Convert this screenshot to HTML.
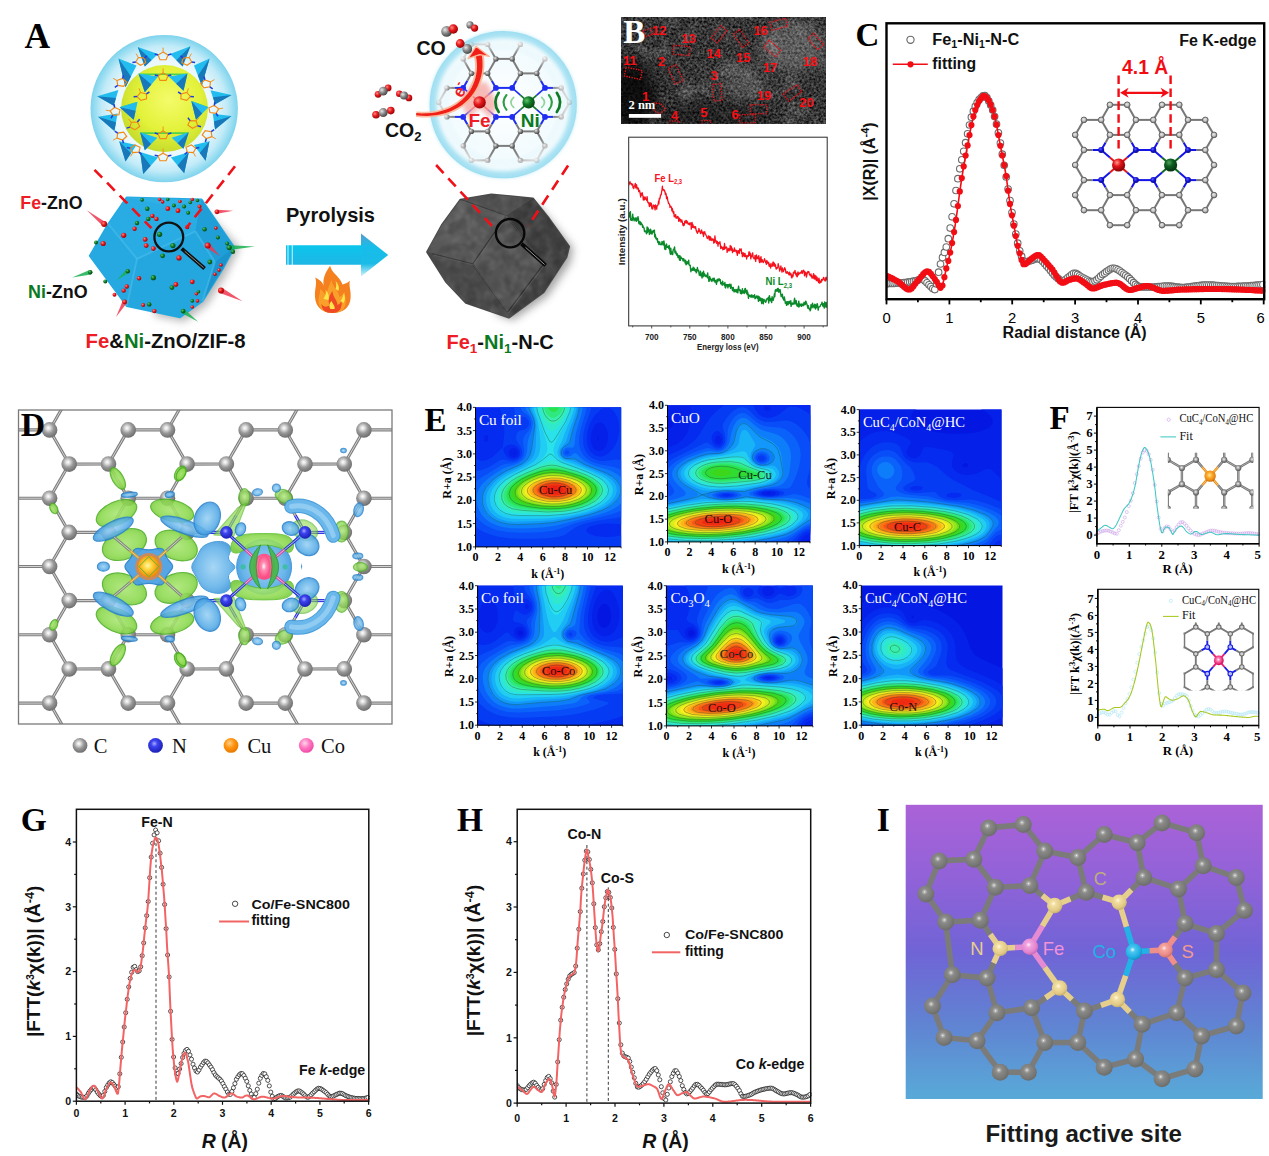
<!DOCTYPE html>
<html><head><meta charset="utf-8"><title>Figure</title>
<style>html,body{margin:0;padding:0;background:#fff;}body{width:1269px;height:1156px;overflow:hidden;font-family:"Liberation Sans",sans-serif;}svg{display:block;}</style>
</head><body>
<svg width="1269" height="1156" viewBox="0 0 1269 1156">
<rect width="1269" height="1156" fill="#fff"/>
<g id="panelA">
<defs>
<radialGradient id="aSph" cx="50%" cy="50%" r="50%"><stop offset="0" stop-color="#fff"/><stop offset="0.72" stop-color="#f2fbfe"/><stop offset="0.86" stop-color="#c9edf8"/><stop offset="0.96" stop-color="#8fdaf0"/><stop offset="1" stop-color="#7fd3ec"/></radialGradient>
<radialGradient id="aSphL" cx="50%" cy="50%" r="50%"><stop offset="0" stop-color="#f6fcff"/><stop offset="0.66" stop-color="#eaf8fd"/><stop offset="0.85" stop-color="#c2ebf8"/><stop offset="0.96" stop-color="#8fdaf0"/><stop offset="1" stop-color="#7fd3ec"/></radialGradient>
<radialGradient id="aYel" cx="55%" cy="40%" r="60%"><stop offset="0" stop-color="#f4fb6a"/><stop offset="0.6" stop-color="#e3f23a"/><stop offset="1" stop-color="#c6dc2c"/></radialGradient>
<radialGradient id="aRed" cx="35%" cy="35%" r="65%"><stop offset="0" stop-color="#ff8a80"/><stop offset="0.5" stop-color="#e8181c"/><stop offset="1" stop-color="#9c0508"/></radialGradient>
<radialGradient id="aGrn" cx="35%" cy="35%" r="65%"><stop offset="0" stop-color="#5fc46a"/><stop offset="0.5" stop-color="#0f7a26"/><stop offset="1" stop-color="#064a14"/></radialGradient>
<radialGradient id="aGry" cx="35%" cy="35%" r="65%"><stop offset="0" stop-color="#e8e8e8"/><stop offset="0.5" stop-color="#8c8c8c"/><stop offset="1" stop-color="#4a4a4a"/></radialGradient>
<linearGradient id="aArrB" x1="0" x2="0" y1="0" y2="1"><stop offset="0" stop-color="#0bc6ec"/><stop offset="1" stop-color="#1fb6e4"/></linearGradient><linearGradient id="aArrH" x1="0" x2="0" y1="0" y2="1"><stop offset="0" stop-color="#5a9ccc"/><stop offset="0.3" stop-color="#16bde9"/><stop offset="0.7" stop-color="#1bbbe7"/><stop offset="1" stop-color="#d8f3fb"/></linearGradient>
<filter id="aTex" x="0" y="0" width="100%" height="100%" color-interpolation-filters="sRGB"><feTurbulence type="fractalNoise" baseFrequency="0.09" numOctaves="2" seed="4"/><feColorMatrix type="matrix" values="0 0 0 0 1  0 0 0 0 1  0 0 0 0 1  1.6 0 0 0 -0.62"/></filter><filter id="aTex2" x="0" y="0" width="100%" height="100%" color-interpolation-filters="sRGB"><feTurbulence type="fractalNoise" baseFrequency="0.09" numOctaves="2" seed="9"/><feColorMatrix type="matrix" values="0 0 0 0 0  0 0 0 0 0  0 0 0 0 0  1.6 0 0 0 -0.62"/></filter><filter id="aBlur2" x="-30%" y="-30%" width="160%" height="160%"><feGaussianBlur stdDeviation="2"/></filter>
<filter id="aBlur4" x="-30%" y="-30%" width="160%" height="160%"><feGaussianBlur stdDeviation="4"/></filter>
<filter id="aBlur1" x="-30%" y="-30%" width="160%" height="160%"><feGaussianBlur stdDeviation="0.7"/></filter>
</defs>
<text x="24.6" y="48.3" font-family="'Liberation Serif', serif" font-size="35.5" font-weight="bold" fill="#000" >A</text>
<circle cx="164.2" cy="108.6" r="73.7" fill="url(#aSphL)"/>
<circle cx="164.5" cy="108.6" r="43.5" fill="url(#aYel)"/>
<line x1="139.5" y1="74.3" x2="186.6" y2="74.3" stroke="#4ed34a" stroke-width="1.6"/>
<line x1="140.9" y1="133.1" x2="188" y2="133.1" stroke="#4ed34a" stroke-width="1.6"/>
<line x1="120.8" y1="107.5" x2="136.8" y2="102.7" stroke="#4ed34a" stroke-width="1.6"/>
<line x1="192.1" y1="102" x2="207.4" y2="107.5" stroke="#4ed34a" stroke-width="1.6"/>
<polygon points="137.8,47 158.1,54 144.8,66.5" fill="#22bdee"/>
<polygon points="137.8,47 151.5,60.3 144.8,66.5" fill="#1878b9"/>
<polygon points="190.4,46.2 170.1,54 182.6,66.6" fill="#22bdee"/>
<polygon points="190.4,46.2 176.4,60.3 182.6,66.6" fill="#1878b9"/>
<polygon points="118.5,58.4 136.5,65.4 125.5,87.3" fill="#22bdee"/>
<polygon points="118.5,58.4 131,76.4 125.5,87.3" fill="#1878b9"/>
<polygon points="209.6,58.4 194,65.5 201.8,85.8" fill="#22bdee"/>
<polygon points="209.6,58.4 197.9,75.6 201.8,85.8" fill="#1878b9"/>
<polygon points="138.5,73.5 158.1,76.6 144.8,92.2" fill="#22bdee"/>
<polygon points="138.5,73.5 151.4,84.4 144.8,92.2" fill="#1878b9"/>
<polygon points="187.5,73.5 168.7,76.6 183.5,90.7" fill="#22bdee"/>
<polygon points="187.5,73.5 176.1,83.7 183.5,90.7" fill="#1878b9"/>
<polygon points="97.2,96.3 118.4,90.1 113.7,105.7" fill="#22bdee"/>
<polygon points="97.2,96.3 116,97.9 113.7,105.7" fill="#1878b9"/>
<polygon points="231.6,94.9 210.5,90.2 215.2,104.3" fill="#22bdee"/>
<polygon points="231.6,94.9 212.9,97.2 215.2,104.3" fill="#1878b9"/>
<polygon points="98,116.8 117.6,113.6 114.4,130.9" fill="#22bdee"/>
<polygon points="98,116.8 116,122.3 114.4,130.9" fill="#1878b9"/>
<polygon points="231.5,116.1 212.8,113.7 215.1,129.4" fill="#22bdee"/>
<polygon points="231.5,116.1 213.9,121.6 215.1,129.4" fill="#1878b9"/>
<polygon points="119.6,107.2 137.6,101.8 133.7,119.8" fill="#22bdee"/>
<polygon points="119.6,107.2 135.6,110.8 133.7,119.8" fill="#1878b9"/>
<polygon points="191.3,101 208.5,107.3 196,119.8" fill="#22bdee"/>
<polygon points="191.3,101 202.2,113.5 196,119.8" fill="#1878b9"/>
<polygon points="119.2,141.2 136.5,145.1 125.5,161.5" fill="#22bdee"/>
<polygon points="119.2,141.2 131,153.3 125.5,161.5" fill="#1878b9"/>
<polygon points="209.5,141.2 193.8,145.1 205.6,160.8" fill="#22bdee"/>
<polygon points="209.5,141.2 199.7,152.9 205.6,160.8" fill="#1878b9"/>
<polygon points="140.1,132.2 157.3,137.7 144.8,150.2" fill="#22bdee"/>
<polygon points="140.1,132.2 151,143.9 144.8,150.2" fill="#1878b9"/>
<polygon points="188.8,132.3 171.6,137.7 183.4,148.7" fill="#22bdee"/>
<polygon points="188.8,132.3 177.5,143.2 183.4,148.7" fill="#1878b9"/>
<polygon points="140.1,152.1 158.1,157.6 143.2,174" fill="#22bdee"/>
<polygon points="140.1,152.1 150.7,165.8 143.2,174" fill="#1878b9"/>
<polygon points="188.8,152.2 170.9,157.6 184.2,173.3" fill="#22bdee"/>
<polygon points="188.8,152.2 177.5,165.5 184.2,173.3" fill="#1878b9"/>
<polygon points="163.1,72.9 168,75.8 166.1,80.4 160,80.4 158.1,75.8" fill="none" stroke="#f28a14" stroke-width="1.15"/>
<line x1="163.1" y1="72.9" x2="163.1" y2="68.4" stroke="#f28a14" stroke-width="0.9"/>
<line x1="168" y1="75.8" x2="171.4" y2="74.9" stroke="#1d3fe0" stroke-width="1.5"/>
<line x1="158.1" y1="75.8" x2="154.7" y2="74.9" stroke="#1d3fe0" stroke-width="1.5"/>
<polygon points="140.5,92.5 146.4,93.9 146.6,98.8 140.9,100.4 137.1,96.6" fill="none" stroke="#f28a14" stroke-width="1.15"/>
<line x1="140.5" y1="92.5" x2="139" y2="88.3" stroke="#f28a14" stroke-width="0.9"/>
<line x1="146.4" y1="93.9" x2="149.4" y2="92" stroke="#1d3fe0" stroke-width="1.5"/>
<line x1="137.1" y1="96.6" x2="133.6" y2="96.7" stroke="#1d3fe0" stroke-width="1.5"/>
<polygon points="187,92.5 190.4,96.6 186.6,100.4 180.9,98.8 181.1,93.9" fill="none" stroke="#f28a14" stroke-width="1.15"/>
<line x1="187" y1="92.5" x2="188.5" y2="88.3" stroke="#f28a14" stroke-width="0.9"/>
<line x1="190.4" y1="96.6" x2="193.9" y2="96.7" stroke="#1d3fe0" stroke-width="1.5"/>
<line x1="181.1" y1="93.9" x2="178.1" y2="92" stroke="#1d3fe0" stroke-width="1.5"/>
<polygon points="131.3,122.3 137.4,122 139.7,126.5 135,129.7 129.9,127.1" fill="none" stroke="#f28a14" stroke-width="1.15"/>
<line x1="131.3" y1="122.3" x2="128.4" y2="118.9" stroke="#f28a14" stroke-width="0.9"/>
<line x1="137.4" y1="122" x2="139.6" y2="119.2" stroke="#1d3fe0" stroke-width="1.5"/>
<line x1="129.9" y1="127.1" x2="126.5" y2="128.1" stroke="#1d3fe0" stroke-width="1.5"/>
<polygon points="196.2,120.9 197.6,125.7 192.5,128.3 187.8,125.1 190.1,120.6" fill="none" stroke="#f28a14" stroke-width="1.15"/>
<line x1="196.2" y1="120.9" x2="199.1" y2="117.5" stroke="#f28a14" stroke-width="0.9"/>
<line x1="197.6" y1="125.7" x2="201" y2="126.8" stroke="#1d3fe0" stroke-width="1.5"/>
<line x1="190.1" y1="120.6" x2="187.9" y2="117.8" stroke="#1d3fe0" stroke-width="1.5"/>
<polygon points="163.1,131 168,133.9 166.1,138.6 160,138.6 158.1,133.9" fill="none" stroke="#f28a14" stroke-width="1.15"/>
<line x1="163.1" y1="131" x2="163.1" y2="126.5" stroke="#f28a14" stroke-width="0.9"/>
<line x1="168" y1="133.9" x2="171.4" y2="133" stroke="#1d3fe0" stroke-width="1.5"/>
<line x1="158.1" y1="133.9" x2="154.7" y2="133" stroke="#1d3fe0" stroke-width="1.5"/>
<polygon points="163.1,153.2 168,156.1 166.1,160.7 160,160.7 158.1,156.1" fill="none" stroke="#f28a14" stroke-width="1.15"/>
<line x1="163.1" y1="153.2" x2="163.1" y2="148.7" stroke="#f28a14" stroke-width="0.9"/>
<line x1="168" y1="156.1" x2="171.4" y2="155.2" stroke="#1d3fe0" stroke-width="1.5"/>
<line x1="158.1" y1="156.1" x2="154.7" y2="155.2" stroke="#1d3fe0" stroke-width="1.5"/>
<polygon points="117,80.5 122.6,78.5 126.7,82.2 123.6,86.4 117.7,85.4" fill="none" stroke="#f28a14" stroke-width="1.15"/>
<line x1="117" y1="80.5" x2="113.1" y2="78.3" stroke="#f28a14" stroke-width="0.9"/>
<line x1="122.6" y1="78.5" x2="123.5" y2="75.1" stroke="#1d3fe0" stroke-width="1.5"/>
<line x1="117.7" y1="85.4" x2="114.8" y2="87.4" stroke="#1d3fe0" stroke-width="1.5"/>
<polygon points="210.5,81.9 209.8,86.8 203.9,87.8 200.8,83.5 204.9,79.9" fill="none" stroke="#f28a14" stroke-width="1.15"/>
<line x1="210.5" y1="81.9" x2="214.4" y2="79.6" stroke="#f28a14" stroke-width="0.9"/>
<line x1="209.8" y1="86.8" x2="212.7" y2="88.8" stroke="#1d3fe0" stroke-width="1.5"/>
<line x1="204.9" y1="79.9" x2="204" y2="76.5" stroke="#1d3fe0" stroke-width="1.5"/>
<polygon points="110.2,110.9 114.6,107.5 120,109.8 118.9,114.7 112.9,115.3" fill="none" stroke="#f28a14" stroke-width="1.15"/>
<line x1="110.2" y1="110.9" x2="105.7" y2="110.2" stroke="#f28a14" stroke-width="0.9"/>
<line x1="114.6" y1="107.5" x2="114" y2="104.1" stroke="#1d3fe0" stroke-width="1.5"/>
<line x1="112.9" y1="115.3" x2="110.9" y2="118.2" stroke="#1d3fe0" stroke-width="1.5"/>
<polygon points="218.7,108.9 216,113.3 210,112.6 208.9,107.8 214.3,105.5" fill="none" stroke="#f28a14" stroke-width="1.15"/>
<line x1="218.7" y1="108.9" x2="223.1" y2="108.1" stroke="#f28a14" stroke-width="0.9"/>
<line x1="216" y1="113.3" x2="218" y2="116.2" stroke="#1d3fe0" stroke-width="1.5"/>
<line x1="214.3" y1="105.5" x2="214.9" y2="102" stroke="#1d3fe0" stroke-width="1.5"/>
<polygon points="117,138 117.7,133.1 123.6,132.1 126.7,136.3 122.6,140" fill="none" stroke="#f28a14" stroke-width="1.15"/>
<line x1="117" y1="138" x2="113.1" y2="140.2" stroke="#f28a14" stroke-width="0.9"/>
<line x1="117.7" y1="133.1" x2="114.8" y2="131.1" stroke="#1d3fe0" stroke-width="1.5"/>
<line x1="122.6" y1="140" x2="123.5" y2="143.3" stroke="#1d3fe0" stroke-width="1.5"/>
<polygon points="211.9,136.6 206.3,138.6 202.2,134.9 205.2,130.7 211.2,131.7" fill="none" stroke="#f28a14" stroke-width="1.15"/>
<line x1="211.9" y1="136.6" x2="215.8" y2="138.8" stroke="#f28a14" stroke-width="0.9"/>
<line x1="206.3" y1="138.6" x2="205.4" y2="142" stroke="#1d3fe0" stroke-width="1.5"/>
<line x1="211.2" y1="131.7" x2="214.1" y2="129.7" stroke="#1d3fe0" stroke-width="1.5"/>
<polygon points="138.3,57.5 144.4,58.1 145.7,62.8 140.4,65.3 135.8,62" fill="none" stroke="#f28a14" stroke-width="1.15"/>
<line x1="138.3" y1="57.5" x2="136.1" y2="53.6" stroke="#f28a14" stroke-width="0.9"/>
<line x1="144.4" y1="58.1" x2="147" y2="55.7" stroke="#1d3fe0" stroke-width="1.5"/>
<line x1="135.8" y1="62" x2="132.4" y2="62.6" stroke="#1d3fe0" stroke-width="1.5"/>
<polygon points="189.2,57.5 191.7,62 187.1,65.3 181.8,62.8 183.1,58.1" fill="none" stroke="#f28a14" stroke-width="1.15"/>
<line x1="189.2" y1="57.5" x2="191.4" y2="53.6" stroke="#f28a14" stroke-width="0.9"/>
<line x1="191.7" y1="62" x2="195.1" y2="62.6" stroke="#1d3fe0" stroke-width="1.5"/>
<line x1="183.1" y1="58.1" x2="180.5" y2="55.7" stroke="#1d3fe0" stroke-width="1.5"/>
<polygon points="163.1,52.1 168,55 166.1,59.7 160,59.7 158.1,55" fill="none" stroke="#f28a14" stroke-width="1.15"/>
<line x1="163.1" y1="52.1" x2="163.1" y2="47.6" stroke="#f28a14" stroke-width="0.9"/>
<line x1="168" y1="55" x2="171.4" y2="54.1" stroke="#1d3fe0" stroke-width="1.5"/>
<line x1="158.1" y1="55" x2="154.7" y2="54.1" stroke="#1d3fe0" stroke-width="1.5"/>
<polygon points="132.8,152.6 130.3,148.2 134.8,144.9 140.1,147.3 138.9,152.1" fill="none" stroke="#f28a14" stroke-width="1.15"/>
<line x1="132.8" y1="152.6" x2="130.5" y2="156.5" stroke="#f28a14" stroke-width="0.9"/>
<line x1="130.3" y1="148.2" x2="126.8" y2="147.6" stroke="#1d3fe0" stroke-width="1.5"/>
<line x1="138.9" y1="152.1" x2="141.5" y2="154.4" stroke="#1d3fe0" stroke-width="1.5"/>
<polygon points="193.3,152.6 187.3,152.1 186,147.3 191.3,144.9 195.8,148.2" fill="none" stroke="#f28a14" stroke-width="1.15"/>
<line x1="193.3" y1="152.6" x2="195.6" y2="156.5" stroke="#f28a14" stroke-width="0.9"/>
<line x1="187.3" y1="152.1" x2="184.6" y2="154.4" stroke="#1d3fe0" stroke-width="1.5"/>
<line x1="195.8" y1="148.2" x2="199.3" y2="147.6" stroke="#1d3fe0" stroke-width="1.5"/>
<polygon points="204.6,210.7 239.5,247.6 225.1,276.3 206.7,305 184.1,321.4 153.4,315.2" fill="#777" opacity="0.55" filter="url(#aBlur4)"/>
<polygon points="126.8,197.4 201.6,199.5 234.3,247.6 223.1,268.1 202.6,300.9 180,317.3 126.8,306 89.9,255.8 108.3,224" fill="#23a9e1" stroke="#23a9e1" stroke-width="2" stroke-linejoin="round"/>
<polygon points="126.8,197.4 201.6,199.5 195.4,231.2 137,258.9 108.3,224" fill="#28ace3"/>
<polygon points="126.8,197.4 201.6,199.5 171.9,206.6" fill="#30b1e6"/>
<polygon points="108.3,224 137,258.9 126.8,306 89.9,255.8" fill="#26a9e1"/>
<polygon points="137,258.9 195.4,231.2 214.9,262 202.6,300.9 180,317.3 126.8,306" fill="#24a7df"/>
<polygon points="195.4,231.2 201.6,199.5 234.3,247.6 214.9,262" fill="#1f9ed8"/>
<polygon points="214.9,262 234.3,247.6 223.1,268.1 202.6,300.9" fill="#1b93cc"/>
<line x1="108.3" y1="224" x2="137" y2="258.9" stroke="#4fc0ee" stroke-width="1.8" opacity="0.55" filter="url(#aBlur1)"/>
<line x1="137" y1="258.9" x2="195.4" y2="231.2" stroke="#4fc0ee" stroke-width="1.8" opacity="0.55" filter="url(#aBlur1)"/>
<line x1="137" y1="258.9" x2="126.8" y2="306" stroke="#4fc0ee" stroke-width="1.8" opacity="0.55" filter="url(#aBlur1)"/>
<line x1="195.4" y1="231.2" x2="214.9" y2="262" stroke="#4fc0ee" stroke-width="1.8" opacity="0.55" filter="url(#aBlur1)"/>
<line x1="214.9" y1="262" x2="202.6" y2="300.9" stroke="#4fc0ee" stroke-width="1.8" opacity="0.55" filter="url(#aBlur1)"/>
<polygon points="105.7,222.2 86.8,210.3 102.8,225.9" fill="#f0364f" opacity="0.85"/>
<polygon points="217,213.8 233.3,210.7 216.8,209.8" fill="#f0364f" opacity="0.85"/>
<polygon points="230.3,250 254.8,246.6 230.1,245.2" fill="#18b050" opacity="0.85"/>
<polygon points="219.8,293.1 242.5,301.3 222.3,288.1" fill="#f0364f" opacity="0.85"/>
<polygon points="181.7,313.1 198.1,321.8 184.5,309.2" fill="#18b050" opacity="0.85"/>
<polygon points="122.7,300.7 116.1,316.9 126.8,303.1" fill="#f0364f" opacity="0.85"/>
<polygon points="89.6,269.9 72.1,277.5 91,274.5" fill="#18b050" opacity="0.85"/>
<polygon points="126.5,269.6 116.9,280 129.1,272.7" fill="#18b050" opacity="0.85"/>
<polygon points="206,247.5 220,256.2 209.4,243.6" fill="#f0364f" opacity="0.85"/>
<circle cx="104.2" cy="224" r="3" fill="url(#aRed)"/>
<circle cx="123.7" cy="235.3" r="2.6" fill="url(#aRed)"/>
<circle cx="103.2" cy="243.5" r="2.6" fill="url(#aRed)"/>
<circle cx="134.6" cy="228.8" r="2.2" fill="url(#aRed)"/>
<circle cx="145.2" cy="239.4" r="2.4" fill="url(#aRed)"/>
<circle cx="146.2" cy="245.6" r="2.4" fill="url(#aRed)"/>
<circle cx="153.4" cy="248.6" r="2.4" fill="url(#aRed)"/>
<circle cx="152.4" cy="215.9" r="2.2" fill="url(#aRed)"/>
<circle cx="156.5" cy="218.9" r="2.2" fill="url(#aRed)"/>
<circle cx="167.8" cy="208.7" r="2.4" fill="url(#aRed)"/>
<circle cx="178" cy="210.7" r="2.4" fill="url(#aRed)"/>
<circle cx="159.6" cy="199.5" r="1.8" fill="url(#aRed)"/>
<circle cx="162.6" cy="201.9" r="1.8" fill="url(#aRed)"/>
<circle cx="180" cy="201.5" r="1.8" fill="url(#aRed)"/>
<circle cx="192.3" cy="199.5" r="1.8" fill="url(#aRed)"/>
<circle cx="199.5" cy="206.6" r="2" fill="url(#aRed)"/>
<circle cx="187.2" cy="227.1" r="2.2" fill="url(#aRed)"/>
<circle cx="207.7" cy="245.6" r="3" fill="url(#aRed)"/>
<circle cx="179" cy="257.9" r="2.6" fill="url(#aRed)"/>
<circle cx="139.1" cy="278.3" r="2.2" fill="url(#aRed)"/>
<circle cx="126.8" cy="286.5" r="2.2" fill="url(#aRed)"/>
<circle cx="123.7" cy="290.6" r="2.2" fill="url(#aRed)"/>
<circle cx="114.5" cy="294.7" r="2" fill="url(#aRed)"/>
<circle cx="124.7" cy="301.9" r="2.4" fill="url(#aRed)"/>
<circle cx="143.2" cy="305" r="2" fill="url(#aRed)"/>
<circle cx="154.4" cy="311.1" r="2.2" fill="url(#aRed)"/>
<circle cx="175.9" cy="284.5" r="2.4" fill="url(#aRed)"/>
<circle cx="192.3" cy="281.8" r="2.4" fill="url(#aRed)"/>
<circle cx="221" cy="290.6" r="3" fill="url(#aRed)"/>
<circle cx="216.9" cy="211.8" r="2.4" fill="url(#aRed)"/>
<circle cx="214.9" cy="274.2" r="1.8" fill="url(#aRed)"/>
<circle cx="221" cy="265" r="1.8" fill="url(#aRed)"/>
<circle cx="219" cy="270.1" r="1.8" fill="url(#aRed)"/>
<circle cx="196.4" cy="293.7" r="1.8" fill="url(#aRed)"/>
<circle cx="197.5" cy="300.9" r="1.8" fill="url(#aRed)"/>
<circle cx="192.3" cy="307" r="1.8" fill="url(#aRed)"/>
<circle cx="215.9" cy="228.1" r="1.8" fill="url(#aRed)"/>
<circle cx="142.1" cy="199.9" r="1.8" fill="url(#aGrn)"/>
<circle cx="147.3" cy="208.7" r="2.2" fill="url(#aGrn)"/>
<circle cx="148.3" cy="218.9" r="2.2" fill="url(#aGrn)"/>
<circle cx="137" cy="223" r="2.2" fill="url(#aGrn)"/>
<circle cx="159.6" cy="234.3" r="2.6" fill="url(#aGrn)"/>
<circle cx="172.9" cy="245.6" r="2.6" fill="url(#aGrn)"/>
<circle cx="162.6" cy="255.8" r="2.4" fill="url(#aGrn)"/>
<circle cx="96" cy="242.5" r="2" fill="url(#aGrn)"/>
<circle cx="105.3" cy="281.4" r="2" fill="url(#aGrn)"/>
<circle cx="127.8" cy="271.2" r="2.2" fill="url(#aGrn)"/>
<circle cx="153.4" cy="277.7" r="2.6" fill="url(#aGrn)"/>
<circle cx="171.9" cy="287.6" r="2.4" fill="url(#aGrn)"/>
<circle cx="149.3" cy="304.4" r="2.2" fill="url(#aGrn)"/>
<circle cx="183.1" cy="311.1" r="2.4" fill="url(#aGrn)"/>
<circle cx="204.6" cy="229.2" r="2.2" fill="url(#aGrn)"/>
<circle cx="217.9" cy="237.4" r="2" fill="url(#aGrn)"/>
<circle cx="229.2" cy="247.6" r="2.6" fill="url(#aGrn)"/>
<circle cx="232.9" cy="251.7" r="2.2" fill="url(#aGrn)"/>
<circle cx="209.8" cy="262" r="2.4" fill="url(#aGrn)"/>
<circle cx="167.8" cy="199.5" r="1.8" fill="url(#aGrn)"/>
<circle cx="173.9" cy="205.6" r="2" fill="url(#aGrn)"/>
<circle cx="184.1" cy="206.6" r="2" fill="url(#aGrn)"/>
<circle cx="188.2" cy="212.8" r="2" fill="url(#aGrn)"/>
<circle cx="190.3" cy="202.5" r="1.8" fill="url(#aGrn)"/>
<circle cx="197.5" cy="200.5" r="1.8" fill="url(#aGrn)"/>
<circle cx="192.3" cy="300.9" r="1.8" fill="url(#aGrn)"/>
<circle cx="198.5" cy="291.7" r="1.8" fill="url(#aGrn)"/>
<circle cx="90.3" cy="272.2" r="2.2" fill="url(#aGrn)"/>
<circle cx="227.2" cy="243.5" r="2" fill="url(#aGrn)"/>
<line x1="94.5" y1="169.8" x2="151.4" y2="228.1" stroke="#f01018" stroke-width="2.6" stroke-dasharray="11 7"/>
<line x1="235" y1="166.3" x2="186.2" y2="228.1" stroke="#f01018" stroke-width="2.6" stroke-dasharray="11 7"/>
<circle cx="168.8" cy="237" r="14.4" fill="none" stroke="#111" stroke-width="2.3"/>
<line x1="181.7" y1="248.6" x2="204.6" y2="268.5" stroke="#111" stroke-width="3.8"/>
<line x1="184.7" y1="251.2" x2="203.6" y2="267.6" stroke="#aaa" stroke-width="0.8"/>
<text x="20.3" y="208.7" font-family="'Liberation Sans', sans-serif" font-size="17.8" font-weight="bold"><tspan fill="#ee1c25">Fe</tspan><tspan fill="#111">-ZnO</tspan></text>
<text x="28" y="297.8" font-family="'Liberation Sans', sans-serif" font-size="17.9" font-weight="bold"><tspan fill="#0b7a1f">Ni</tspan><tspan fill="#111">-ZnO</tspan></text>
<text x="85.6" y="348" font-family="'Liberation Sans', sans-serif" font-size="20.3" font-weight="bold"><tspan fill="#ee1c25">Fe</tspan><tspan fill="#111">&amp;</tspan><tspan fill="#0b7a1f">Ni</tspan><tspan fill="#111">-ZnO/ZIF-8</tspan></text>
<text x="286" y="222.2" font-family="'Liberation Sans', sans-serif" font-size="20" font-weight="bold" fill="#111" >Pyrolysis</text>
<polygon points="286,245.2 361.5,245.2 361.5,264.7 286,264.7" fill="url(#aArrB)"/>
<polygon points="361,233.4 388.2,255 361,276.6" fill="url(#aArrH)"/>
<rect x="287.6" y="244.7" width="0.8" height="20.5" fill="#fff"/>
<rect x="291.8" y="244.7" width="0.8" height="20.5" fill="#fff"/>
<g transform="translate(332.5 313)">
<path d="M0 0C-10 0 -17 -6 -17.5 -16C-18 -24 -15 -30 -17.4 -35.5C-12 -33 -9.5 -30 -8.9 -27.2C-10 -36 -6 -42 -2.4 -47.3C-1 -40 8 -36 10 -28.4C12 -29 15 -30 17.4 -32.2C16 -27 19 -22 18 -14C17 -5 10 0 0 0Z" fill="#f5801f"/>
<path d="M0 0C-9 0 -14 -5 -14 -12C-14 -17 -12 -20 -12.5 -24C-9 -21 -7 -19 -6.5 -16C-6 -22 -3 -28 -1 -33C0 -26 6 -22 7 -16C9 -17 11 -19 12.5 -21C12 -17 14 -13 13 -9C12 -3 8 0 0 0Z" fill="#f9a02a"/>
<path d="M0 0C-7 0 -11 -3 -11 -9C-8 -5 -5 -6 -3 -8C-5 -13 -3 -18 0 -22C0 -16 5 -13 5 -8C7 -9 8 -10 9 -12C10 -5 7 0 0 0Z" fill="#ef4a23"/>
<path d="M-9 -14C-7 -18 -6 -20 -7 -23C-4 -20 -3 -17 -4 -13Z M3 -24C4 -27 4 -29 3 -32C6 -29 7 -26 6 -22Z M8 -12C10 -15 11 -17 11 -20C13 -17 13 -13 11 -10Z M-2 -4C-4 -7 -3 -10 -1 -12C0 -9 3 -7 2 -4Z" fill="#fde64a"/>
</g>
<circle cx="503.2" cy="104.7" r="73.6" fill="url(#aSph)"/>
<g>
<line x1="545" y1="145.9" x2="536.8" y2="160.4" stroke="#7d7d7d" stroke-width="2"/>
<line x1="545" y1="87.9" x2="540.9" y2="80.7" stroke="#1f2df0" stroke-width="2"/>
<line x1="540.9" y1="80.7" x2="536.8" y2="73.4" stroke="#7d7d7d" stroke-width="2"/>
<line x1="495.9" y1="58.9" x2="512.2" y2="58.9" stroke="#7d7d7d" stroke-width="2"/>
<line x1="545" y1="116.9" x2="553.1" y2="116.9" stroke="#1f2df0" stroke-width="2"/>
<line x1="553.1" y1="116.9" x2="561.3" y2="116.9" stroke="#7d7d7d" stroke-width="2"/>
<line x1="487.7" y1="131.4" x2="495.9" y2="145.9" stroke="#7d7d7d" stroke-width="2"/>
<line x1="438.7" y1="102.4" x2="446.9" y2="116.9" stroke="#7d7d7d" stroke-width="2"/>
<line x1="495.9" y1="145.9" x2="487.7" y2="160.4" stroke="#7d7d7d" stroke-width="2"/>
<line x1="561.3" y1="87.9" x2="569.5" y2="102.4" stroke="#7d7d7d" stroke-width="2"/>
<line x1="536.8" y1="131.4" x2="545" y2="145.9" stroke="#7d7d7d" stroke-width="2"/>
<line x1="569.5" y1="102.4" x2="561.3" y2="116.9" stroke="#7d7d7d" stroke-width="2"/>
<line x1="520.4" y1="131.4" x2="536.8" y2="131.4" stroke="#7d7d7d" stroke-width="2"/>
<line x1="463.2" y1="87.9" x2="467.3" y2="80.7" stroke="#1f2df0" stroke-width="2"/>
<line x1="467.3" y1="80.7" x2="471.4" y2="73.4" stroke="#7d7d7d" stroke-width="2"/>
<line x1="520.4" y1="73.4" x2="536.8" y2="73.4" stroke="#7d7d7d" stroke-width="2"/>
<line x1="512.2" y1="116.9" x2="516.3" y2="124.2" stroke="#1f2df0" stroke-width="2"/>
<line x1="516.3" y1="124.2" x2="520.4" y2="131.4" stroke="#7d7d7d" stroke-width="2"/>
<line x1="520.4" y1="44.4" x2="512.2" y2="58.9" stroke="#7d7d7d" stroke-width="2"/>
<line x1="512.2" y1="58.9" x2="520.4" y2="73.4" stroke="#7d7d7d" stroke-width="2"/>
<line x1="520.4" y1="131.4" x2="512.2" y2="145.9" stroke="#7d7d7d" stroke-width="2"/>
<line x1="495.9" y1="87.9" x2="512.2" y2="87.9" stroke="#1f2df0" stroke-width="2"/>
<line x1="471.4" y1="44.4" x2="463.2" y2="58.9" stroke="#7d7d7d" stroke-width="2"/>
<line x1="512.2" y1="87.9" x2="516.3" y2="80.7" stroke="#1f2df0" stroke-width="2"/>
<line x1="516.3" y1="80.7" x2="520.4" y2="73.4" stroke="#7d7d7d" stroke-width="2"/>
<line x1="512.2" y1="145.9" x2="520.4" y2="160.4" stroke="#7d7d7d" stroke-width="2"/>
<line x1="495.9" y1="116.9" x2="512.2" y2="116.9" stroke="#1f2df0" stroke-width="2"/>
<line x1="463.2" y1="116.9" x2="467.3" y2="124.2" stroke="#1f2df0" stroke-width="2"/>
<line x1="467.3" y1="124.2" x2="471.4" y2="131.4" stroke="#7d7d7d" stroke-width="2"/>
<line x1="471.4" y1="131.4" x2="463.2" y2="145.9" stroke="#7d7d7d" stroke-width="2"/>
<line x1="463.2" y1="58.9" x2="471.4" y2="73.4" stroke="#7d7d7d" stroke-width="2"/>
<line x1="463.2" y1="145.9" x2="471.4" y2="160.4" stroke="#7d7d7d" stroke-width="2"/>
<line x1="495.9" y1="145.9" x2="512.2" y2="145.9" stroke="#7d7d7d" stroke-width="2"/>
<line x1="520.4" y1="160.4" x2="536.8" y2="160.4" stroke="#7d7d7d" stroke-width="2"/>
<line x1="471.4" y1="131.4" x2="487.7" y2="131.4" stroke="#7d7d7d" stroke-width="2"/>
<line x1="471.4" y1="73.4" x2="487.7" y2="73.4" stroke="#7d7d7d" stroke-width="2"/>
<line x1="463.2" y1="116.9" x2="455" y2="116.9" stroke="#1f2df0" stroke-width="2"/>
<line x1="455" y1="116.9" x2="446.9" y2="116.9" stroke="#7d7d7d" stroke-width="2"/>
<line x1="495.9" y1="58.9" x2="487.7" y2="73.4" stroke="#7d7d7d" stroke-width="2"/>
<line x1="495.9" y1="87.9" x2="491.8" y2="80.7" stroke="#1f2df0" stroke-width="2"/>
<line x1="491.8" y1="80.7" x2="487.7" y2="73.4" stroke="#7d7d7d" stroke-width="2"/>
<line x1="471.4" y1="160.4" x2="487.7" y2="160.4" stroke="#7d7d7d" stroke-width="2"/>
<line x1="463.2" y1="87.9" x2="455" y2="87.9" stroke="#1f2df0" stroke-width="2"/>
<line x1="455" y1="87.9" x2="446.9" y2="87.9" stroke="#7d7d7d" stroke-width="2"/>
<line x1="471.4" y1="44.4" x2="487.7" y2="44.4" stroke="#7d7d7d" stroke-width="2"/>
<line x1="545" y1="87.9" x2="553.1" y2="87.9" stroke="#1f2df0" stroke-width="2"/>
<line x1="553.1" y1="87.9" x2="561.3" y2="87.9" stroke="#7d7d7d" stroke-width="2"/>
<line x1="446.9" y1="87.9" x2="438.7" y2="102.4" stroke="#7d7d7d" stroke-width="2"/>
<line x1="545" y1="116.9" x2="540.9" y2="124.2" stroke="#1f2df0" stroke-width="2"/>
<line x1="540.9" y1="124.2" x2="536.8" y2="131.4" stroke="#7d7d7d" stroke-width="2"/>
<line x1="495.9" y1="116.9" x2="491.8" y2="124.2" stroke="#1f2df0" stroke-width="2"/>
<line x1="491.8" y1="124.2" x2="487.7" y2="131.4" stroke="#7d7d7d" stroke-width="2"/>
<line x1="487.7" y1="44.4" x2="495.9" y2="58.9" stroke="#7d7d7d" stroke-width="2"/>
<line x1="545" y1="58.9" x2="536.8" y2="73.4" stroke="#7d7d7d" stroke-width="2"/>
<line x1="479.6" y1="102.4" x2="471.4" y2="95.2" stroke="#ee1c25" stroke-width="1.6"/>
<line x1="471.4" y1="95.2" x2="463.2" y2="87.9" stroke="#1f2df0" stroke-width="1.6"/>
<line x1="479.6" y1="102.4" x2="471.4" y2="109.7" stroke="#ee1c25" stroke-width="1.6"/>
<line x1="471.4" y1="109.7" x2="463.2" y2="116.9" stroke="#1f2df0" stroke-width="1.6"/>
<line x1="479.6" y1="102.4" x2="487.8" y2="95.2" stroke="#ee1c25" stroke-width="1.6"/>
<line x1="487.8" y1="95.2" x2="496" y2="87.9" stroke="#1f2df0" stroke-width="1.6"/>
<line x1="479.6" y1="102.4" x2="487.8" y2="109.7" stroke="#ee1c25" stroke-width="1.6"/>
<line x1="487.8" y1="109.7" x2="496" y2="116.9" stroke="#1f2df0" stroke-width="1.6"/>
<line x1="528.6" y1="102.4" x2="520.4" y2="95.2" stroke="#0f7a26" stroke-width="1.6"/>
<line x1="520.4" y1="95.2" x2="512.2" y2="87.9" stroke="#1f2df0" stroke-width="1.6"/>
<line x1="528.6" y1="102.4" x2="520.4" y2="109.7" stroke="#0f7a26" stroke-width="1.6"/>
<line x1="520.4" y1="109.7" x2="512.2" y2="116.9" stroke="#1f2df0" stroke-width="1.6"/>
<line x1="528.6" y1="102.4" x2="536.8" y2="95.2" stroke="#0f7a26" stroke-width="1.6"/>
<line x1="536.8" y1="95.2" x2="545" y2="87.9" stroke="#1f2df0" stroke-width="1.6"/>
<line x1="528.6" y1="102.4" x2="536.8" y2="109.7" stroke="#0f7a26" stroke-width="1.6"/>
<line x1="536.8" y1="109.7" x2="545" y2="116.9" stroke="#1f2df0" stroke-width="1.6"/>
<circle cx="446.9" cy="87.9" r="2.7" fill="url(#aGry)"/>
<circle cx="438.7" cy="102.4" r="2.7" fill="url(#aGry)"/>
<circle cx="446.9" cy="116.9" r="2.7" fill="url(#aGry)"/>
<circle cx="471.4" cy="44.4" r="2.7" fill="url(#aGry)"/>
<circle cx="463.2" cy="58.9" r="2.7" fill="url(#aGry)"/>
<circle cx="471.4" cy="73.4" r="2.7" fill="url(#aGry)"/>
<circle cx="463.2" cy="87.9" r="2.9" fill="#1f2df0"/>
<circle cx="463.2" cy="116.9" r="2.9" fill="#1f2df0"/>
<circle cx="471.4" cy="131.4" r="2.7" fill="url(#aGry)"/>
<circle cx="463.2" cy="145.9" r="2.7" fill="url(#aGry)"/>
<circle cx="471.4" cy="160.4" r="2.7" fill="url(#aGry)"/>
<circle cx="487.7" cy="44.4" r="2.7" fill="url(#aGry)"/>
<circle cx="495.9" cy="58.9" r="2.7" fill="url(#aGry)"/>
<circle cx="487.7" cy="73.4" r="2.7" fill="url(#aGry)"/>
<circle cx="495.9" cy="87.9" r="2.9" fill="#1f2df0"/>
<circle cx="495.9" cy="116.9" r="2.9" fill="#1f2df0"/>
<circle cx="487.7" cy="131.4" r="2.7" fill="url(#aGry)"/>
<circle cx="495.9" cy="145.9" r="2.7" fill="url(#aGry)"/>
<circle cx="487.7" cy="160.4" r="2.7" fill="url(#aGry)"/>
<circle cx="520.4" cy="44.4" r="2.7" fill="url(#aGry)"/>
<circle cx="512.2" cy="58.9" r="2.7" fill="url(#aGry)"/>
<circle cx="520.4" cy="73.4" r="2.7" fill="url(#aGry)"/>
<circle cx="512.2" cy="87.9" r="2.9" fill="#1f2df0"/>
<circle cx="512.2" cy="116.9" r="2.9" fill="#1f2df0"/>
<circle cx="520.4" cy="131.4" r="2.7" fill="url(#aGry)"/>
<circle cx="512.2" cy="145.9" r="2.7" fill="url(#aGry)"/>
<circle cx="520.4" cy="160.4" r="2.7" fill="url(#aGry)"/>
<circle cx="545" cy="58.9" r="2.7" fill="url(#aGry)"/>
<circle cx="536.8" cy="73.4" r="2.7" fill="url(#aGry)"/>
<circle cx="545" cy="87.9" r="2.9" fill="#1f2df0"/>
<circle cx="545" cy="116.9" r="2.9" fill="#1f2df0"/>
<circle cx="536.8" cy="131.4" r="2.7" fill="url(#aGry)"/>
<circle cx="545" cy="145.9" r="2.7" fill="url(#aGry)"/>
<circle cx="536.8" cy="160.4" r="2.7" fill="url(#aGry)"/>
<circle cx="561.3" cy="87.9" r="2.7" fill="url(#aGry)"/>
<circle cx="569.5" cy="102.4" r="2.7" fill="url(#aGry)"/>
<circle cx="561.3" cy="116.9" r="2.7" fill="url(#aGry)"/>
</g>
<circle cx="503.2" cy="104.7" r="64" fill="none" stroke="#fff" stroke-width="13" opacity="0.8" filter="url(#aBlur4)"/>
<circle cx="503.2" cy="104.7" r="70.1" fill="none" stroke="#9fdff2" stroke-width="5" opacity="0.9" filter="url(#aBlur2)"/>
<polygon points="486.9,82.5 497.8,104.3 490.5,118.8 479.6,107.9 468.8,118.8 461.5,104.3 472.4,82.5" fill="#f7a6a0" opacity="0.75" filter="url(#aBlur2)"/>
<path d="M513.7 97.4 Q508.1 102.4 513.7 107.4" fill="none" stroke="#8fd49a" stroke-width="1.7" stroke-linecap="round"/>
<path d="M541.7 97.4 Q547.3 102.4 541.7 107.4" fill="none" stroke="#8fd49a" stroke-width="1.7" stroke-linecap="round"/>
<path d="M506.5 95 Q500.4 102.4 506.5 109.8" fill="none" stroke="#2e9e44" stroke-width="2.1" stroke-linecap="round"/>
<path d="M548.9 95 Q555 102.4 548.9 109.8" fill="none" stroke="#2e9e44" stroke-width="2.1" stroke-linecap="round"/>
<path d="M498.7 92.8 Q492 102.4 498.7 112" fill="none" stroke="#0f7a26" stroke-width="2.7" stroke-linecap="round"/>
<path d="M556.8 92.8 Q563.5 102.4 556.8 112" fill="none" stroke="#0f7a26" stroke-width="2.7" stroke-linecap="round"/>
<circle cx="479.6" cy="102.4" r="6.2" fill="url(#aRed)"/>
<circle cx="528.6" cy="102.4" r="6.2" fill="url(#aGrn)"/>
<polygon points="415.9,117 421.6,117.4 427.2,117.5 432.5,117.3 437.5,116.6 442.4,115.7 447,114.4 451.4,112.8 455.6,110.9 459.5,108.7 463.2,106.3 466.5,103.6 469.7,100.7 472.5,97.5 475,94.2 477.3,90.7 479.3,87.1 480.9,83.3 482.3,79.3 483.3,75.3 484,71.2 484.4,67 484.5,62.8 484.2,58.6 483.6,54.3 473.8,56.3 474.5,59.8 474.9,63.3 475,66.7 474.8,70.2 474.4,73.6 473.7,77 472.8,80.3 471.5,83.5 470,86.7 468.3,89.7 466.3,92.6 464,95.4 461.5,98 458.7,100.4 455.6,102.7 452.3,104.7 448.7,106.5 444.9,108.1 440.8,109.5 436.4,110.5 431.8,111.2 427,111.7 421.8,111.8 416.5,111.5" fill="#fbb898" opacity="0.9" filter="url(#aBlur1)"/>
<polygon points="416.1,115.3 421.7,115.8 427.1,115.9 432.3,115.6 437.2,115 442,114 446.5,112.8 450.7,111.2 454.8,109.3 458.5,107.2 462.1,104.9 465.3,102.3 468.3,99.4 471,96.4 473.5,93.2 475.7,89.8 477.6,86.3 479.1,82.6 480.4,78.8 481.4,75 482.1,71 482.5,67 482.5,62.9 482.3,58.8 481.7,54.7 475.8,55.9 476.5,59.5 476.9,63.2 477,66.8 476.8,70.4 476.3,74 475.6,77.5 474.5,80.9 473.2,84.3 471.7,87.6 469.8,90.7 467.7,93.7 465.3,96.6 462.7,99.3 459.8,101.8 456.6,104.2 453.1,106.3 449.4,108.2 445.5,109.8 441.2,111.1 436.7,112.2 432,112.9 427,113.3 421.8,113.4 416.3,113.1" fill="#f02018"/>
<polygon points="468,58.6 476,46.3 489.4,56.4 479.6,54.6" fill="#f02018" stroke="#fbb898" stroke-width="1.3" stroke-linejoin="round"/>
<text x="461.5" y="98.8" transform="rotate(-58 461.5 98.8)" font-family="'Liberation Sans', sans-serif" font-size="17" font-weight="bold" fill="#ee1c25">e<tspan dy="-7" font-size="12">-</tspan></text>
<text x="468.5" y="127" font-family="'Liberation Sans', sans-serif" font-size="19" font-weight="bold" fill="#ee1c25" >Fe</text>
<text x="520.8" y="127" font-family="'Liberation Sans', sans-serif" font-size="19" font-weight="bold" fill="#0b7a1f" >Ni</text>
<text x="416.5" y="55.3" font-family="'Liberation Sans', sans-serif" font-size="19.5" font-weight="bold" fill="#111" >CO</text>
<text x="385" y="136.9" font-family="'Liberation Sans', sans-serif" font-size="19.5" font-weight="bold" fill="#111">CO<tspan dy="4" font-size="13">2</tspan></text>
<circle cx="446.6" cy="31.4" r="5.4" fill="url(#aGry)"/><circle cx="453.3" cy="29" r="4.7" fill="url(#aRed)"/>
<circle cx="470" cy="24.9" r="3.6" fill="url(#aGry)"/><circle cx="474.6" cy="28.1" r="3.6" fill="url(#aRed)"/>
<circle cx="467.3" cy="49" r="4.9" fill="url(#aGry)"/><circle cx="460.2" cy="43.5" r="4.4" fill="url(#aRed)"/>
<circle cx="378.1" cy="94.3" r="3.4" fill="url(#aRed)"/><circle cx="388.1" cy="87.9" r="3.4" fill="url(#aRed)"/><circle cx="383.2" cy="91.2" r="4.4" fill="url(#aGry)"/>
<circle cx="399.3" cy="93.7" r="3.3" fill="url(#aRed)"/><circle cx="408.9" cy="97.9" r="3.4" fill="url(#aRed)"/><circle cx="404" cy="95.6" r="4" fill="url(#aGry)"/>
<circle cx="376" cy="114.8" r="3.8" fill="url(#aRed)"/><circle cx="390.8" cy="110.6" r="3.8" fill="url(#aRed)"/><circle cx="383.2" cy="112.6" r="4.5" fill="url(#aGry)"/>
<polygon points="535.6,202.4 573.1,248 570.4,262.7 547.6,296.2 512.8,320.3 495.4,313.6" fill="#666" opacity="0.6" filter="url(#aBlur4)"/>
<polygon points="460.5,199.7 491.4,194.4 532.9,198.4 549,218.5 569.1,246.6 566.4,257.3 543.6,292.2 508.8,317.6 465.9,302.9 445.8,281.5 427.1,252 441.8,225.2" fill="#4b4b4b" stroke="#4b4b4b" stroke-width="2" stroke-linejoin="round"/>
<polygon points="460.5,199.7 491.4,194.4 532.9,198.4 506.1,215.8" fill="#505050"/>
<polygon points="460.5,199.7 506.1,215.8 472.6,264 427.1,252 441.8,225.2" fill="#585858"/>
<polygon points="506.1,215.8 532.9,198.4 549,218.5 569.1,246.6 543.6,264" fill="#3e3e3e"/>
<polygon points="506.1,215.8 543.6,264 507.4,312.3 472.6,264" fill="#545454"/>
<polygon points="427.1,252 472.6,264 507.4,312.3 508.8,317.6 465.9,302.9 445.8,281.5" fill="#4a4a4a"/>
<polygon points="543.6,264 569.1,246.6 566.4,257.3 543.6,292.2 508.8,317.6 507.4,312.3" fill="#404040"/>
<line x1="506.1" y1="215.8" x2="472.6" y2="264" stroke="#2e2e2e" stroke-width="1.3" opacity="0.8" filter="url(#aBlur1)"/>
<line x1="507" y1="216.7" x2="473.5" y2="264.9" stroke="#6c6c6c" stroke-width="0.8" opacity="0.7" filter="url(#aBlur1)"/>
<line x1="472.6" y1="264" x2="507.4" y2="312.3" stroke="#2e2e2e" stroke-width="1.3" opacity="0.8" filter="url(#aBlur1)"/>
<line x1="473.5" y1="264.9" x2="508.3" y2="313.2" stroke="#6c6c6c" stroke-width="0.8" opacity="0.7" filter="url(#aBlur1)"/>
<line x1="506.1" y1="215.8" x2="543.6" y2="264" stroke="#2e2e2e" stroke-width="1.3" opacity="0.8" filter="url(#aBlur1)"/>
<line x1="507" y1="216.7" x2="544.5" y2="264.9" stroke="#6c6c6c" stroke-width="0.8" opacity="0.7" filter="url(#aBlur1)"/>
<line x1="543.6" y1="264" x2="507.4" y2="312.3" stroke="#2e2e2e" stroke-width="1.3" opacity="0.8" filter="url(#aBlur1)"/>
<line x1="544.5" y1="264.9" x2="508.3" y2="313.2" stroke="#6c6c6c" stroke-width="0.8" opacity="0.7" filter="url(#aBlur1)"/>
<line x1="432.4" y1="254" x2="472.6" y2="264" stroke="#2e2e2e" stroke-width="1.3" opacity="0.8" filter="url(#aBlur1)"/>
<line x1="433.3" y1="254.9" x2="473.5" y2="264.9" stroke="#6c6c6c" stroke-width="0.8" opacity="0.7" filter="url(#aBlur1)"/>
<line x1="460.5" y1="199.7" x2="506.1" y2="215.8" stroke="#2e2e2e" stroke-width="1.3" opacity="0.8" filter="url(#aBlur1)"/>
<line x1="461.4" y1="200.6" x2="507" y2="216.7" stroke="#6c6c6c" stroke-width="0.8" opacity="0.7" filter="url(#aBlur1)"/>
<clipPath id="aDClip"><polygon points="460.5,199.7 491.4,194.4 532.9,198.4 549,218.5 569.1,246.6 566.4,257.3 543.6,292.2 508.8,317.6 465.9,302.9 445.8,281.5 427.1,252 441.8,225.2"/></clipPath>
<g clip-path="url(#aDClip)"><rect x="424" y="192" width="150" height="130" filter="url(#aTex)" opacity="0.16"/><rect x="424" y="192" width="150" height="130" filter="url(#aTex2)" opacity="0.22"/></g>
<line x1="436.1" y1="165" x2="492" y2="225.9" stroke="#f01018" stroke-width="2.6" stroke-dasharray="11 7"/>
<line x1="568.1" y1="165.5" x2="528.2" y2="225.9" stroke="#f01018" stroke-width="2.6" stroke-dasharray="11 7"/>
<circle cx="510.1" cy="233.2" r="14.2" fill="none" stroke="#080808" stroke-width="2.4"/>
<line x1="521.5" y1="243.7" x2="545.6" y2="265.4" stroke="#080808" stroke-width="3.9"/>
<line x1="525.5" y1="247.3" x2="544.6" y2="264.5" stroke="#bbb" stroke-width="0.8"/>
<text x="446.5" y="348.5" font-family="'Liberation Sans', sans-serif" font-size="20" font-weight="bold"><tspan fill="#ee1c25">Fe</tspan><tspan fill="#ee1c25" dy="4" font-size="13.5">1</tspan><tspan dy="-4" fill="#111">-</tspan><tspan fill="#0b7a1f">Ni</tspan><tspan fill="#0b7a1f" dy="4" font-size="13.5">1</tspan><tspan dy="-4" fill="#111">-N-C</tspan></text>
</g>
<g id="panelB">
<defs>
<filter id="bNoise" x="0" y="0" width="100%" height="100%" color-interpolation-filters="sRGB">
<feTurbulence type="fractalNoise" baseFrequency="0.42" numOctaves="2" seed="7" result="n1"/>
<feColorMatrix in="n1" type="matrix" values="0.6 0 0 0 -0.095  0.6 0 0 0 -0.095  0.6 0 0 0 -0.095  0 0 0 0 1" result="g1"/>
<feTurbulence type="fractalNoise" baseFrequency="0.05" numOctaves="2" seed="11" result="n2"/>
<feColorMatrix in="n2" type="matrix" values="1 0 0 0 -0.5  1 0 0 0 -0.5  1 0 0 0 -0.5  0 0 0 0 1" result="g2"/>
<feComposite in="g1" in2="g2" operator="arithmetic" k1="0" k2="1" k3="0.4" k4="0"/>
</filter>
<filter id="bBlur" x="-30%" y="-30%" width="160%" height="160%"><feGaussianBlur stdDeviation="7"/></filter>
<clipPath id="bClip"><rect x="621.1" y="17.8" width="204.5" height="105.8"/></clipPath>
</defs>
<rect x="621.1" y="17.8" width="204.5" height="105.8" fill="#333"/>
<rect x="621.1" y="17.8" width="204.5" height="105.8" filter="url(#bNoise)"/>
<g clip-path="url(#bClip)">
<ellipse cx="633.1" cy="95.8" rx="24" ry="36" fill="#000" opacity="0.75" filter="url(#bBlur)"/>
<ellipse cx="711.1" cy="117.8" rx="60" ry="16" fill="#000" opacity="0.35" filter="url(#bBlur)"/>
<ellipse cx="793.1" cy="47.8" rx="34" ry="24" fill="#fff" opacity="0.2" filter="url(#bBlur)"/>
<ellipse cx="743.1" cy="83.8" rx="22" ry="16" fill="#fff" opacity="0.15" filter="url(#bBlur)"/>
<rect x="644" y="29.4" width="7.8" height="6.2" transform="rotate(-20 647.9 32.5)" fill="none" stroke="#f01018" stroke-width="1.55" stroke-linecap="round" stroke-dasharray="0.01 2.6"/>
<rect x="673.5" y="45.9" width="16.5" height="9" transform="rotate(5 681.7 50.4)" fill="none" stroke="#f01018" stroke-width="1.55" stroke-linecap="round" stroke-dasharray="0.01 2.6"/>
<rect x="711.2" y="30.4" width="15.6" height="7.8" transform="rotate(-50 719 34.3)" fill="none" stroke="#f01018" stroke-width="1.55" stroke-linecap="round" stroke-dasharray="0.01 2.6"/>
<rect x="733" y="34.7" width="16.5" height="7.8" transform="rotate(55 741.2 38.6)" fill="none" stroke="#f01018" stroke-width="1.55" stroke-linecap="round" stroke-dasharray="0.01 2.6"/>
<rect x="770.6" y="20.1" width="16.5" height="8.3" transform="rotate(-15 778.8 24.2)" fill="none" stroke="#f01018" stroke-width="1.55" stroke-linecap="round" stroke-dasharray="0.01 2.6"/>
<rect x="764.6" y="44.2" width="15.6" height="8.7" transform="rotate(40 772.4 48.5)" fill="none" stroke="#f01018" stroke-width="1.55" stroke-linecap="round" stroke-dasharray="0.01 2.6"/>
<rect x="808.4" y="37.7" width="14.7" height="7.8" transform="rotate(50 815.8 41.6)" fill="none" stroke="#f01018" stroke-width="1.55" stroke-linecap="round" stroke-dasharray="0.01 2.6"/>
<rect x="625" y="68.8" width="16.5" height="9" transform="rotate(12 633.2 73.3)" fill="none" stroke="#f01018" stroke-width="1.55" stroke-linecap="round" stroke-dasharray="0.01 2.6"/>
<rect x="667" y="70.2" width="17.3" height="8.7" transform="rotate(65 675.7 74.5)" fill="none" stroke="#f01018" stroke-width="1.55" stroke-linecap="round" stroke-dasharray="0.01 2.6"/>
<rect x="709.1" y="88.2" width="16.5" height="8.3" transform="rotate(85 717.3 92.4)" fill="none" stroke="#f01018" stroke-width="1.55" stroke-linecap="round" stroke-dasharray="0.01 2.6"/>
<rect x="750.3" y="104.7" width="16.5" height="9" transform="rotate(0 758.6 109.2)" fill="none" stroke="#f01018" stroke-width="1.55" stroke-linecap="round" stroke-dasharray="0.01 2.6"/>
<rect x="784.5" y="88.5" width="16.5" height="8.7" transform="rotate(-35 792.7 92.9)" fill="none" stroke="#f01018" stroke-width="1.55" stroke-linecap="round" stroke-dasharray="0.01 2.6"/>
<rect x="739.8" y="114.7" width="15.6" height="8.3" transform="rotate(0 747.6 118.9)" fill="none" stroke="#f01018" stroke-width="1.55" stroke-linecap="round" stroke-dasharray="0.01 2.6"/>
<rect x="670" y="121" width="9.5" height="8.7" transform="rotate(0 674.8 125.3)" fill="none" stroke="#f01018" stroke-width="1.55" stroke-linecap="round" stroke-dasharray="0.01 2.6"/>
<rect x="702" y="120.6" width="8.7" height="8.3" transform="rotate(0 706.4 124.8)" fill="none" stroke="#f01018" stroke-width="1.55" stroke-linecap="round" stroke-dasharray="0.01 2.6"/>
<polygon points="654,102.8 660.9,103.6 665.3,109.2 659.7,114 654,110.6" fill="none" stroke="#f01018" stroke-width="1.55" stroke-linecap="round" stroke-dasharray="0.01 2.6"/>
</g>
<text x="652" y="35.3" font-family="'Liberation Sans', sans-serif" font-size="13" font-weight="bold" fill="#fa0f14" >12</text>
<text x="681.4" y="43.1" font-family="'Liberation Sans', sans-serif" font-size="13" font-weight="bold" fill="#fa0f14" >13</text>
<text x="706.6" y="57.9" font-family="'Liberation Sans', sans-serif" font-size="13" font-weight="bold" fill="#fa0f14" >14</text>
<text x="736.1" y="62.2" font-family="'Liberation Sans', sans-serif" font-size="13" font-weight="bold" fill="#fa0f14" >15</text>
<text x="753.4" y="34.5" font-family="'Liberation Sans', sans-serif" font-size="13" font-weight="bold" fill="#fa0f14" >16</text>
<text x="762.9" y="71.7" font-family="'Liberation Sans', sans-serif" font-size="13" font-weight="bold" fill="#fa0f14" >17</text>
<text x="802.8" y="65.7" font-family="'Liberation Sans', sans-serif" font-size="13" font-weight="bold" fill="#fa0f14" >18</text>
<text x="756.9" y="100.4" font-family="'Liberation Sans', sans-serif" font-size="13" font-weight="bold" fill="#fa0f14" >19</text>
<text x="799.3" y="107.3" font-family="'Liberation Sans', sans-serif" font-size="13" font-weight="bold" fill="#fa0f14" >20</text>
<text x="623" y="64.8" font-family="'Liberation Sans', sans-serif" font-size="13" font-weight="bold" fill="#fa0f14" >11</text>
<text x="658" y="65.7" font-family="'Liberation Sans', sans-serif" font-size="13" font-weight="bold" fill="#fa0f14" >2</text>
<text x="710.6" y="80.4" font-family="'Liberation Sans', sans-serif" font-size="13" font-weight="bold" fill="#fa0f14" >3</text>
<text x="642.1" y="101.2" font-family="'Liberation Sans', sans-serif" font-size="13" font-weight="bold" fill="#fa0f14" >1</text>
<text x="671" y="120.3" font-family="'Liberation Sans', sans-serif" font-size="13" font-weight="bold" fill="#fa0f14" >4</text>
<text x="700.2" y="116.8" font-family="'Liberation Sans', sans-serif" font-size="13" font-weight="bold" fill="#fa0f14" >5</text>
<text x="731.4" y="119.4" font-family="'Liberation Sans', sans-serif" font-size="13" font-weight="bold" fill="#fa0f14" >6</text>
<text x="623.3" y="43.2" font-family="'Liberation Serif', serif" font-size="33" font-weight="bold" fill="#fff" >B</text>
<text x="628.5" y="108.8" font-family="'Liberation Serif', serif" font-size="12.5" font-weight="bold" fill="#fff" >2 nm</text>
<rect x="628.9" y="114" width="32.2" height="3.8" fill="#fff"/>
<clipPath id="bClip2"><rect x="628.7" y="137.2" width="198.5" height="188.7"/></clipPath>
<g clip-path="url(#bClip2)">
<path d="M628.8 185.3 L629.2 182.7 L629.6 183 L630 181.7 L630.4 183.8 L630.7 183.5 L631.1 183.8 L631.5 183.4 L631.9 185.2 L632.3 185.1 L632.7 184.1 L633 187.7 L633.4 187.1 L633.8 188.7 L634.2 186.2 L634.6 185.6 L634.9 185.5 L635.3 183.4 L635.7 187.8 L636.1 185.1 L636.5 184.7 L636.8 186.3 L637.2 189.1 L637.6 188 L638 187.9 L638.4 188.3 L638.7 191.7 L639.1 191 L639.5 190.5 L639.9 191.9 L640.3 194.5 L640.7 197 L641 193.3 L641.4 194.4 L641.8 195.1 L642.2 192.7 L642.6 195 L642.9 195.7 L643.3 200 L643.7 198.5 L644.1 196.8 L644.5 199.8 L644.8 198.2 L645.2 197.1 L645.6 199 L646 199.3 L646.4 198.9 L646.7 200.5 L647.1 196.6 L647.5 200.4 L647.9 202.6 L648.3 202.4 L648.7 202.8 L649 204.3 L649.4 206.5 L649.8 202.9 L650.2 205.8 L650.6 202.9 L650.9 204.2 L651.3 203.3 L651.7 207.6 L652.1 209 L652.5 206.9 L652.8 208.8 L653.2 204.8 L653.6 206.7 L654 206.5 L654.4 205.5 L654.7 207.8 L655.1 209.9 L655.5 205 L655.9 207.7 L656.3 206 L656.7 209.2 L657 205.9 L657.4 206 L657.8 205.4 L658.2 203.8 L658.6 200.8 L658.9 203.9 L659.3 198.3 L659.7 199 L660.1 198 L660.5 194.9 L660.8 195 L661.2 194.9 L661.6 191.8 L662 189.8 L662.4 186.2 L662.7 189 L663.1 190.1 L663.5 190.1 L663.9 189.5 L664.3 191 L664.7 190.8 L665 192.2 L665.4 194.7 L665.8 193.1 L666.2 194.6 L666.6 198.7 L666.9 198.8 L667.3 196.8 L667.7 200.2 L668.1 201.4 L668.5 203.4 L668.8 203 L669.2 204.1 L669.6 204.4 L670 207.3 L670.4 206.9 L670.8 206.2 L671.1 206.8 L671.5 207.7 L671.9 210.8 L672.3 208.4 L672.7 210.1 L673 212.3 L673.4 213.2 L673.8 211.6 L674.2 216.7 L674.6 215.1 L674.9 216.8 L675.3 215.5 L675.7 214.6 L676.1 218.2 L676.5 217.6 L676.8 217.3 L677.2 218.1 L677.6 216.5 L678 216.7 L678.4 218.4 L678.8 221.4 L679.1 221 L679.5 218.1 L679.9 220.7 L680.3 219.3 L680.7 220.1 L681 222.2 L681.4 221.6 L681.8 220 L682.2 221.8 L682.6 223.1 L682.9 224.9 L683.3 225.7 L683.7 223.6 L684.1 225.4 L684.5 223.9 L684.8 221.1 L685.2 222.7 L685.6 222.2 L686 220.3 L686.4 223.1 L686.8 220.8 L687.1 222.2 L687.5 221.7 L687.9 223.8 L688.3 223.2 L688.7 224.4 L689 223.5 L689.4 224.9 L689.8 222.8 L690.2 224.1 L690.6 223.6 L690.9 222.9 L691.3 229.2 L691.7 224.6 L692.1 222.5 L692.5 227.3 L692.8 224.3 L693.2 226.4 L693.6 227.6 L694 226.3 L694.4 227.3 L694.8 227.1 L695.1 228.3 L695.5 226.7 L695.9 228.7 L696.3 230.8 L696.7 232.1 L697 231.9 L697.4 233.4 L697.8 232.2 L698.2 230.6 L698.6 231.6 L698.9 228.3 L699.3 229.8 L699.7 230.3 L700.1 232.2 L700.5 233.6 L700.8 232.2 L701.2 232.1 L701.6 230 L702 232.7 L702.4 233.7 L702.8 233.9 L703.1 231.9 L703.5 236.5 L703.9 234.4 L704.3 232 L704.7 231.7 L705 233.3 L705.4 233.9 L705.8 234.5 L706.2 235.6 L706.6 236.1 L706.9 237.3 L707.3 238.6 L707.7 237.5 L708.1 237.7 L708.5 236 L708.9 236.5 L709.2 239.7 L709.6 236.3 L710 240.3 L710.4 236.9 L710.8 237.6 L711.1 239.8 L711.5 238.9 L711.9 240.7 L712.3 238.8 L712.7 238.9 L713 239.9 L713.4 239.3 L713.8 243.2 L714.2 240.6 L714.6 242.3 L714.9 235.9 L715.3 239.2 L715.7 241 L716.1 240.8 L716.5 243.3 L716.9 242.1 L717.2 241.3 L717.6 242.5 L718 246.2 L718.4 242.6 L718.8 243.7 L719.1 242.8 L719.5 243.6 L719.9 241.7 L720.3 244.3 L720.7 248.5 L721 246.4 L721.4 246.3 L721.8 247.5 L722.2 248.4 L722.6 247.5 L722.9 249.9 L723.3 248.4 L723.7 247 L724.1 249.4 L724.5 243.5 L724.9 247 L725.2 248.5 L725.6 247.5 L726 247.5 L726.4 247 L726.8 247.6 L727.1 252.4 L727.5 249.6 L727.9 249 L728.3 250.8 L728.7 248.5 L729 249.1 L729.4 249.3 L729.8 250.8 L730.2 245.5 L730.6 249.7 L730.9 248 L731.3 246.5 L731.7 250.4 L732.1 248.1 L732.5 252.7 L732.9 250.1 L733.2 250.1 L733.6 250.5 L734 251.4 L734.4 247.9 L734.8 251.2 L735.1 249.8 L735.5 250.9 L735.9 250.5 L736.3 252.1 L736.7 250.4 L737 253.7 L737.4 255.3 L737.8 252.2 L738.2 250.6 L738.6 250.6 L738.9 252.4 L739.3 253.5 L739.7 248.9 L740.1 250.8 L740.5 249.7 L740.9 249.7 L741.2 248.8 L741.6 253.5 L742 252.3 L742.4 256.6 L742.8 255.8 L743.1 252.9 L743.5 253 L743.9 254.6 L744.3 256.6 L744.7 253.9 L745 253.4 L745.4 256.2 L745.8 256.6 L746.2 255.4 L746.6 259 L747 256.3 L747.3 256.7 L747.7 255.5 L748.1 255.9 L748.5 256.2 L748.9 251.8 L749.2 255.3 L749.6 251.9 L750 255.4 L750.4 253.7 L750.8 258.9 L751.1 256 L751.5 256.9 L751.9 255.7 L752.3 253.6 L752.7 252.9 L753 256.7 L753.4 257.8 L753.8 258 L754.2 258.9 L754.6 258.7 L755 255.4 L755.3 258.9 L755.7 261.4 L756.1 257 L756.5 254.8 L756.9 258.7 L757.2 256.9 L757.6 258.5 L758 256.8 L758.4 258.7 L758.8 255.7 L759.1 260.4 L759.5 262.5 L759.9 262.6 L760.3 257.8 L760.7 261.5 L761 256.6 L761.4 262 L761.8 261.6 L762.2 259.6 L762.6 261.7 L763 261.8 L763.3 262.7 L763.7 261.2 L764.1 260.7 L764.5 258.6 L764.9 259.9 L765.2 261 L765.6 262.6 L766 262 L766.4 264.3 L766.8 260.5 L767.1 261.3 L767.5 263.1 L767.9 262 L768.3 263.9 L768.7 262.4 L769 266 L769.4 264.1 L769.8 266.5 L770.2 265.1 L770.6 268 L771 263.3 L771.3 266.4 L771.7 265 L772.1 265.9 L772.5 266.1 L772.9 262.4 L773.2 262 L773.6 263.1 L774 266 L774.4 263.2 L774.8 266.1 L775.1 264.4 L775.5 265 L775.9 268 L776.3 269.2 L776.7 267.7 L777 267.9 L777.4 268.1 L777.8 266.9 L778.2 263.7 L778.6 265.8 L779 267 L779.3 268.6 L779.7 271.1 L780.1 269.1 L780.5 268 L780.9 266 L781.2 269.3 L781.6 269.8 L782 272.2 L782.4 267.9 L782.8 269.3 L783.1 269.8 L783.5 271.5 L783.9 269.6 L784.3 269 L784.7 267.7 L785.1 269.5 L785.4 269 L785.8 272.4 L786.2 273.1 L786.6 272.1 L787 273.3 L787.3 271.6 L787.7 273.1 L788.1 272.5 L788.5 273.4 L788.9 274.9 L789.2 274.1 L789.6 272.1 L790 274.9 L790.4 274.3 L790.8 273.4 L791.1 274.4 L791.5 277.4 L791.9 278 L792.3 275 L792.7 276.7 L793.1 276.1 L793.4 272.2 L793.8 272.8 L794.2 272.1 L794.6 273.2 L795 270.3 L795.3 272.1 L795.7 274.3 L796.1 274.8 L796.5 276.1 L796.9 273.1 L797.2 276.9 L797.6 275.6 L798 271.9 L798.4 274.9 L798.8 273.2 L799.1 274 L799.5 272.9 L799.9 273.6 L800.3 273.1 L800.7 272.2 L801.1 272.9 L801.4 272.3 L801.8 270.7 L802.2 273.5 L802.6 271.8 L803 270.8 L803.3 271.8 L803.7 270.2 L804.1 271.5 L804.5 275.8 L804.9 271.7 L805.2 274.6 L805.6 272.6 L806 273.1 L806.4 277.2 L806.8 275.4 L807.1 272.7 L807.5 273.2 L807.9 271.3 L808.3 272.2 L808.7 271.6 L809.1 272.6 L809.4 274.5 L809.8 274.8 L810.2 275.7 L810.6 274.7 L811 273.9 L811.3 276.8 L811.7 275.5 L812.1 278.2 L812.5 277.3 L812.9 277.8 L813.2 276.1 L813.6 273.7 L814 278.7 L814.4 279 L814.8 275.1 L815.1 276.9 L815.5 279.1 L815.9 275.9 L816.3 280.5 L816.7 277.4 L817.1 277.2 L817.4 280.9 L817.8 279.9 L818.2 279.2 L818.6 282.4 L819 278.1 L819.3 283.1 L819.7 280.1 L820.1 282.8 L820.5 281.6 L820.9 282.4 L821.2 282.1 L821.6 279.5 L822 280.8 L822.4 279.9 L822.8 278.9 L823.2 279 L823.5 277.3 L823.9 277.7 L824.3 280.2 L824.7 279.7 L825.1 281.2 L825.4 280.5 L825.8 277.6 L826.2 277.2 L826.6 279 L827 280.5" fill="none" stroke="#f5121d" stroke-width="1.3" stroke-linejoin="round"/>
<path d="M628.8 214.8 L629.2 217 L629.6 212.7 L630 213 L630.4 211.6 L630.7 220 L631.1 218.7 L631.5 220.3 L631.9 218.4 L632.3 218.4 L632.7 214.3 L633 220.6 L633.4 217.2 L633.8 218.7 L634.2 219.1 L634.6 219.3 L634.9 220.9 L635.3 217.9 L635.7 218.4 L636.1 219.1 L636.5 221.2 L636.8 218 L637.2 219.3 L637.6 220.1 L638 216.7 L638.4 218.8 L638.7 222.6 L639.1 223.8 L639.5 222.2 L639.9 221.5 L640.3 224.7 L640.7 222.3 L641 222.7 L641.4 223.9 L641.8 224.6 L642.2 224.3 L642.6 227.2 L642.9 225.7 L643.3 226.8 L643.7 227.7 L644.1 228.1 L644.5 231.5 L644.8 231.7 L645.2 231.4 L645.6 231 L646 231.6 L646.4 233.7 L646.7 232.7 L647.1 227 L647.5 232.6 L647.9 227.8 L648.3 228.6 L648.7 231.4 L649 229.8 L649.4 234.5 L649.8 233.4 L650.2 231.2 L650.6 229.2 L650.9 232.6 L651.3 233.7 L651.7 231.3 L652.1 234 L652.5 231.4 L652.8 232.7 L653.2 230.5 L653.6 231.7 L654 231.7 L654.4 230.1 L654.7 236.9 L655.1 234.1 L655.5 235.9 L655.9 238.7 L656.3 237.8 L656.7 239.3 L657 240 L657.4 238.6 L657.8 242.5 L658.2 242.8 L658.6 241.7 L658.9 244.6 L659.3 244.3 L659.7 242 L660.1 243.5 L660.5 244.3 L660.8 244.7 L661.2 244.7 L661.6 244.3 L662 241.5 L662.4 242.8 L662.7 242.1 L663.1 245 L663.5 241.9 L663.9 241 L664.3 243.7 L664.7 249.1 L665 247.1 L665.4 245.6 L665.8 249.5 L666.2 244.4 L666.6 244.1 L666.9 247.4 L667.3 247 L667.7 247.2 L668.1 246.4 L668.5 247.1 L668.8 248.6 L669.2 245.5 L669.6 248.3 L670 252.3 L670.4 254.2 L670.8 248.2 L671.1 251.6 L671.5 254 L671.9 252.2 L672.3 252.2 L672.7 254.6 L673 250.9 L673.4 249.5 L673.8 249.8 L674.2 248.4 L674.6 247 L674.9 252.4 L675.3 253.1 L675.7 251.3 L676.1 252.4 L676.5 254.8 L676.8 255.2 L677.2 253.7 L677.6 254.6 L678 257.6 L678.4 257 L678.8 255.7 L679.1 256.8 L679.5 260.1 L679.9 255.6 L680.3 260.4 L680.7 258.6 L681 257 L681.4 257.8 L681.8 258.5 L682.2 258.8 L682.6 258.6 L682.9 260.4 L683.3 261 L683.7 258.8 L684.1 260 L684.5 260.3 L684.8 261.4 L685.2 263.1 L685.6 260.1 L686 264.7 L686.4 264.4 L686.8 263.9 L687.1 261.6 L687.5 263.3 L687.9 262 L688.3 263.8 L688.7 260.2 L689 264.1 L689.4 265.3 L689.8 265.1 L690.2 265.4 L690.6 269.1 L690.9 271.7 L691.3 269.1 L691.7 270.1 L692.1 268.7 L692.5 270.1 L692.8 270.3 L693.2 267.1 L693.6 269.9 L694 270.2 L694.4 268.2 L694.8 269.9 L695.1 271 L695.5 271.3 L695.9 269.7 L696.3 272.9 L696.7 271.7 L697 270 L697.4 267.5 L697.8 270.3 L698.2 271 L698.6 270.3 L698.9 272.4 L699.3 275.1 L699.7 274.4 L700.1 275.6 L700.5 271.2 L700.8 273.9 L701.2 275.8 L701.6 274.1 L702 278 L702.4 272.6 L702.8 273.8 L703.1 276.8 L703.5 271.1 L703.9 275.9 L704.3 273.5 L704.7 274.2 L705 275.8 L705.4 275.2 L705.8 276.5 L706.2 276.1 L706.6 276.3 L706.9 275 L707.3 277.5 L707.7 273 L708.1 278.3 L708.5 277.9 L708.9 281.3 L709.2 281.1 L709.6 276.4 L710 279.4 L710.4 278.2 L710.8 279.2 L711.1 280.9 L711.5 280.9 L711.9 281.4 L712.3 279.1 L712.7 280.2 L713 278.3 L713.4 279.3 L713.8 280.8 L714.2 278.3 L714.6 280.3 L714.9 282.1 L715.3 280.4 L715.7 281.2 L716.1 282.6 L716.5 284.3 L716.9 280.1 L717.2 279.5 L717.6 281.6 L718 279.3 L718.4 280.6 L718.8 280.2 L719.1 278.7 L719.5 280 L719.9 280.8 L720.3 279.7 L720.7 283.7 L721 283.9 L721.4 282.6 L721.8 282.6 L722.2 285.2 L722.6 281.1 L722.9 282.5 L723.3 283.5 L723.7 284.1 L724.1 285.1 L724.5 285.4 L724.9 282.4 L725.2 287.4 L725.6 287.9 L726 284.8 L726.4 286.1 L726.8 284.5 L727.1 285.6 L727.5 284.6 L727.9 287.9 L728.3 284.7 L728.7 285.6 L729 286.2 L729.4 284.1 L729.8 286 L730.2 286.5 L730.6 288.4 L730.9 284.2 L731.3 286.9 L731.7 287.7 L732.1 287.5 L732.5 290.5 L732.9 288.7 L733.2 287.5 L733.6 289.5 L734 291.9 L734.4 289.7 L734.8 291.5 L735.1 291.3 L735.5 290.8 L735.9 289.5 L736.3 292.1 L736.7 292 L737 289.9 L737.4 289.4 L737.8 292.9 L738.2 289.1 L738.6 286.2 L738.9 289.4 L739.3 290 L739.7 290.8 L740.1 289.7 L740.5 293.5 L740.9 290.7 L741.2 291.4 L741.6 293.7 L742 293.3 L742.4 288.6 L742.8 292.8 L743.1 292.5 L743.5 290.9 L743.9 293.2 L744.3 293.4 L744.7 289.9 L745 288.7 L745.4 288.5 L745.8 292.2 L746.2 292.9 L746.6 293.4 L747 290.2 L747.3 294.6 L747.7 292.3 L748.1 294.3 L748.5 298.4 L748.9 294.8 L749.2 295.4 L749.6 295.6 L750 296.3 L750.4 296 L750.8 295.2 L751.1 297.3 L751.5 294.9 L751.9 295 L752.3 296.6 L752.7 295.8 L753 297.6 L753.4 295.7 L753.8 295.8 L754.2 296.9 L754.6 294.7 L755 298.7 L755.3 296.9 L755.7 298.4 L756.1 297.1 L756.5 296 L756.9 297.3 L757.2 296.8 L757.6 298.2 L758 296 L758.4 301.3 L758.8 298.5 L759.1 296.6 L759.5 297.8 L759.9 300.6 L760.3 299.4 L760.7 297.9 L761 298.7 L761.4 301.9 L761.8 303.5 L762.2 298.8 L762.6 301.9 L763 299.2 L763.3 303.8 L763.7 300.5 L764.1 299.4 L764.5 301.1 L764.9 301.1 L765.2 300.9 L765.6 302.2 L766 301.8 L766.4 299.3 L766.8 299.9 L767.1 298.6 L767.5 298.7 L767.9 298.3 L768.3 297.5 L768.7 303 L769 298.3 L769.4 295.7 L769.8 297.8 L770.2 300.7 L770.6 300.4 L771 298.6 L771.3 300.7 L771.7 302.5 L772.1 296.6 L772.5 299.2 L772.9 299.9 L773.2 300.3 L773.6 298.3 L774 297.3 L774.4 293.7 L774.8 296.6 L775.1 291.7 L775.5 289.7 L775.9 291.4 L776.3 291 L776.7 289.6 L777 289.3 L777.4 291.1 L777.8 288.4 L778.2 288.5 L778.6 291.9 L779 292.2 L779.3 289.6 L779.7 291.1 L780.1 289.7 L780.5 292.4 L780.9 294.8 L781.2 296.7 L781.6 294.9 L782 296 L782.4 294.2 L782.8 298.1 L783.1 298.3 L783.5 299.4 L783.9 300.2 L784.3 296.9 L784.7 299.1 L785.1 301.3 L785.4 303.3 L785.8 301.9 L786.2 303.7 L786.6 305.4 L787 301.6 L787.3 303.5 L787.7 301.6 L788.1 304.6 L788.5 301.9 L788.9 303.5 L789.2 301.3 L789.6 303 L790 301.7 L790.4 304 L790.8 300.8 L791.1 306.4 L791.5 304 L791.9 304.6 L792.3 303 L792.7 304.2 L793.1 303.5 L793.4 303.6 L793.8 304 L794.2 300.5 L794.6 298.3 L795 303.9 L795.3 300.9 L795.7 303.8 L796.1 300.5 L796.5 302.1 L796.9 305.7 L797.2 306 L797.6 304.7 L798 303.9 L798.4 306.8 L798.8 301.1 L799.1 306.8 L799.5 303.9 L799.9 304.1 L800.3 305.6 L800.7 304.7 L801.1 304 L801.4 306.4 L801.8 304.5 L802.2 304 L802.6 305.5 L803 305.7 L803.3 305.4 L803.7 303.7 L804.1 302.3 L804.5 304.8 L804.9 303 L805.2 304.6 L805.6 301.3 L806 301.5 L806.4 303.4 L806.8 303.7 L807.1 304.9 L807.5 306.6 L807.9 308.2 L808.3 305.6 L808.7 307.7 L809.1 308.9 L809.4 309.3 L809.8 308.4 L810.2 310.8 L810.6 309.7 L811 304.6 L811.3 306 L811.7 306.2 L812.1 307.7 L812.5 303.1 L812.9 305.8 L813.2 306.4 L813.6 305.5 L814 307.7 L814.4 306.4 L814.8 304.2 L815.1 304.5 L815.5 309 L815.9 305.2 L816.3 307.8 L816.7 306 L817.1 303.6 L817.4 304 L817.8 307.2 L818.2 310.1 L818.6 307.7 L819 306.8 L819.3 306.7 L819.7 306.6 L820.1 306.6 L820.5 305.4 L820.9 304.6 L821.2 304.3 L821.6 304.3 L822 302.2 L822.4 303.8 L822.8 306.1 L823.2 305.6 L823.5 303.6 L823.9 306.5 L824.3 308 L824.7 302 L825.1 306.3 L825.4 306.8 L825.8 304.6 L826.2 302.4 L826.6 307 L827 307.8" fill="none" stroke="#0a8a2a" stroke-width="1.4" stroke-linejoin="round"/>
</g>
<rect x="628.7" y="137.2" width="198.5" height="188.7" fill="none" stroke="#2a2a2a" stroke-width="1"/>
<line x1="632.7" y1="325.9" x2="632.7" y2="327.4" stroke="#2a2a2a" stroke-width="0.8"/>
<line x1="651.7" y1="325.9" x2="651.7" y2="328.5" stroke="#2a2a2a" stroke-width="0.8"/>
<line x1="670.8" y1="325.9" x2="670.8" y2="327.4" stroke="#2a2a2a" stroke-width="0.8"/>
<line x1="689.8" y1="325.9" x2="689.8" y2="328.5" stroke="#2a2a2a" stroke-width="0.8"/>
<line x1="708.9" y1="325.9" x2="708.9" y2="327.4" stroke="#2a2a2a" stroke-width="0.8"/>
<line x1="727.9" y1="325.9" x2="727.9" y2="328.5" stroke="#2a2a2a" stroke-width="0.8"/>
<line x1="747" y1="325.9" x2="747" y2="327.4" stroke="#2a2a2a" stroke-width="0.8"/>
<line x1="766" y1="325.9" x2="766" y2="328.5" stroke="#2a2a2a" stroke-width="0.8"/>
<line x1="785.1" y1="325.9" x2="785.1" y2="327.4" stroke="#2a2a2a" stroke-width="0.8"/>
<line x1="804.1" y1="325.9" x2="804.1" y2="328.5" stroke="#2a2a2a" stroke-width="0.8"/>
<line x1="823.2" y1="325.9" x2="823.2" y2="327.4" stroke="#2a2a2a" stroke-width="0.8"/>
<text x="651.7" y="340.2" font-family="'Liberation Sans', sans-serif" font-size="9.2" font-weight="bold" fill="#222" text-anchor="middle" textLength="13.6" lengthAdjust="spacingAndGlyphs">700</text>
<text x="689.8" y="340.2" font-family="'Liberation Sans', sans-serif" font-size="9.2" font-weight="bold" fill="#222" text-anchor="middle" textLength="13.6" lengthAdjust="spacingAndGlyphs">750</text>
<text x="727.9" y="340.2" font-family="'Liberation Sans', sans-serif" font-size="9.2" font-weight="bold" fill="#222" text-anchor="middle" textLength="13.6" lengthAdjust="spacingAndGlyphs">800</text>
<text x="766" y="340.2" font-family="'Liberation Sans', sans-serif" font-size="9.2" font-weight="bold" fill="#222" text-anchor="middle" textLength="13.6" lengthAdjust="spacingAndGlyphs">850</text>
<text x="804.1" y="340.2" font-family="'Liberation Sans', sans-serif" font-size="9.2" font-weight="bold" fill="#222" text-anchor="middle" textLength="13.6" lengthAdjust="spacingAndGlyphs">900</text>
<text x="727.8" y="350.4" font-family="'Liberation Sans', sans-serif" font-size="9.8" font-weight="bold" fill="#222" text-anchor="middle" textLength="61.5" lengthAdjust="spacingAndGlyphs">Energy loss (eV)</text>
<text x="0" y="0" transform="translate(625.3 231.8) rotate(-90)" font-family="'Liberation Sans', sans-serif" font-size="9" font-weight="bold" fill="#222" text-anchor="middle" textLength="67" lengthAdjust="spacingAndGlyphs">Intensity (a.u.)</text>
<text x="654.6" y="181.8" font-family="'Liberation Sans', sans-serif" font-size="10.5" font-weight="bold" fill="#f5121d" textLength="27.5" lengthAdjust="spacingAndGlyphs">Fe L<tspan dy="2.5" font-size="6.5">2,3</tspan></text>
<text x="765.5" y="285.4" font-family="'Liberation Sans', sans-serif" font-size="10.5" font-weight="bold" fill="#0a8a2a" textLength="26.5" lengthAdjust="spacingAndGlyphs">Ni L<tspan dy="2.5" font-size="6.5">2,3</tspan></text>
</g>
<g id="panelC">
<defs>
<radialGradient id="cRed" cx="38%" cy="32%" r="65%"><stop offset="0" stop-color="#ff9a8c"/><stop offset="0.45" stop-color="#e0141a"/><stop offset="1" stop-color="#8c0508"/></radialGradient>
<radialGradient id="cGrn" cx="38%" cy="32%" r="65%"><stop offset="0" stop-color="#4da35a"/><stop offset="0.45" stop-color="#0e5e20"/><stop offset="1" stop-color="#053511"/></radialGradient>
<radialGradient id="cGry" cx="45%" cy="40%" r="60%"><stop offset="0" stop-color="#e8e8e8"/><stop offset="0.5" stop-color="#c4c4c4"/><stop offset="0.85" stop-color="#8a8a8a"/><stop offset="1" stop-color="#707070"/></radialGradient>
<radialGradient id="cBlu" cx="40%" cy="35%" r="65%"><stop offset="0" stop-color="#5a62ff"/><stop offset="0.5" stop-color="#1414d8"/><stop offset="1" stop-color="#0a0a8a"/></radialGradient>
</defs>
<clipPath id="cClip"><rect x="886.5" y="23.3" width="378.9" height="275.9"/></clipPath>
<g clip-path="url(#cClip)">
<g fill="#fff" stroke="#6d6d6d" stroke-width="1.1">
<circle cx="886.5" cy="283.6" r="3.3"/>
<circle cx="888.4" cy="283.6" r="3.3"/>
<circle cx="890.4" cy="283.5" r="3.3"/>
<circle cx="892.3" cy="283.5" r="3.3"/>
<circle cx="894.2" cy="283.4" r="3.3"/>
<circle cx="896.2" cy="283.2" r="3.3"/>
<circle cx="898.1" cy="283.1" r="3.3"/>
<circle cx="900" cy="283" r="3.3"/>
<circle cx="901.9" cy="282.8" r="3.3"/>
<circle cx="903.9" cy="282.6" r="3.3"/>
<circle cx="905.8" cy="282.5" r="3.3"/>
<circle cx="907.7" cy="282.2" r="3.3"/>
<circle cx="909.7" cy="281.9" r="3.3"/>
<circle cx="911.6" cy="281.6" r="3.3"/>
<circle cx="913.5" cy="281.2" r="3.3"/>
<circle cx="915.5" cy="280.9" r="3.3"/>
<circle cx="917.4" cy="280.3" r="3.3"/>
<circle cx="919.3" cy="279.6" r="3.3"/>
<circle cx="921.2" cy="279.2" r="3.3"/>
<circle cx="923.2" cy="279.5" r="3.3"/>
<circle cx="925.1" cy="280.9" r="3.3"/>
<circle cx="927" cy="282.8" r="3.3"/>
<circle cx="929" cy="284.8" r="3.3"/>
<circle cx="930.9" cy="286.6" r="3.3"/>
<circle cx="932.8" cy="288.6" r="3.3"/>
<circle cx="934.8" cy="289.6" r="3.3"/>
<circle cx="936.7" cy="283.9" r="3.3"/>
<circle cx="938.6" cy="272.2" r="3.3"/>
<circle cx="940.5" cy="264" r="3.3"/>
<circle cx="942.5" cy="257.4" r="3.3"/>
<circle cx="944.4" cy="252.4" r="3.3"/>
<circle cx="946.3" cy="247" r="3.3"/>
<circle cx="948.3" cy="238.7" r="3.3"/>
<circle cx="950.2" cy="228.1" r="3.3"/>
<circle cx="952.1" cy="216.8" r="3.3"/>
<circle cx="954.1" cy="203.8" r="3.3"/>
<circle cx="956" cy="190.5" r="3.3"/>
<circle cx="957.9" cy="178.7" r="3.3"/>
<circle cx="959.8" cy="168.8" r="3.3"/>
<circle cx="961.8" cy="159.8" r="3.3"/>
<circle cx="963.7" cy="151.3" r="3.3"/>
<circle cx="965.6" cy="142.7" r="3.3"/>
<circle cx="967.6" cy="133.8" r="3.3"/>
<circle cx="969.5" cy="125" r="3.3"/>
<circle cx="971.4" cy="117.2" r="3.3"/>
<circle cx="973.4" cy="111.2" r="3.3"/>
<circle cx="975.3" cy="106.4" r="3.3"/>
<circle cx="977.2" cy="102.5" r="3.3"/>
<circle cx="979.1" cy="99.7" r="3.3"/>
<circle cx="981.1" cy="97.5" r="3.3"/>
<circle cx="983" cy="95.9" r="3.3"/>
<circle cx="984.9" cy="95.7" r="3.3"/>
<circle cx="986.9" cy="97.7" r="3.3"/>
<circle cx="988.8" cy="101.1" r="3.3"/>
<circle cx="990.7" cy="105" r="3.3"/>
<circle cx="992.7" cy="110.1" r="3.3"/>
<circle cx="994.6" cy="116.6" r="3.3"/>
<circle cx="996.5" cy="124" r="3.3"/>
<circle cx="998.4" cy="132.8" r="3.3"/>
<circle cx="1000.4" cy="143.1" r="3.3"/>
<circle cx="1002.3" cy="154.2" r="3.3"/>
<circle cx="1004.2" cy="165.3" r="3.3"/>
<circle cx="1006.2" cy="177" r="3.3"/>
<circle cx="1008.1" cy="189" r="3.3"/>
<circle cx="1010" cy="200.6" r="3.3"/>
<circle cx="1012" cy="212.6" r="3.3"/>
<circle cx="1013.9" cy="224.1" r="3.3"/>
<circle cx="1015.8" cy="234.1" r="3.3"/>
<circle cx="1017.7" cy="243.2" r="3.3"/>
<circle cx="1019.7" cy="250.8" r="3.3"/>
<circle cx="1021.6" cy="256.4" r="3.3"/>
<circle cx="1023.5" cy="260.9" r="3.3"/>
<circle cx="1025.5" cy="262" r="3.3"/>
<circle cx="1027.4" cy="261.6" r="3.3"/>
<circle cx="1029.3" cy="261" r="3.3"/>
<circle cx="1031.3" cy="260.5" r="3.3"/>
<circle cx="1033.2" cy="259.8" r="3.3"/>
<circle cx="1035.1" cy="259.1" r="3.3"/>
<circle cx="1037" cy="258.6" r="3.3"/>
<circle cx="1039" cy="258.7" r="3.3"/>
<circle cx="1040.9" cy="259.8" r="3.3"/>
<circle cx="1042.8" cy="261.6" r="3.3"/>
<circle cx="1044.8" cy="263.8" r="3.3"/>
<circle cx="1046.7" cy="265.9" r="3.3"/>
<circle cx="1048.6" cy="268" r="3.3"/>
<circle cx="1050.6" cy="270.4" r="3.3"/>
<circle cx="1052.5" cy="272.9" r="3.3"/>
<circle cx="1054.4" cy="275.2" r="3.3"/>
<circle cx="1056.3" cy="277.1" r="3.3"/>
<circle cx="1058.3" cy="278.7" r="3.3"/>
<circle cx="1060.2" cy="280.2" r="3.3"/>
<circle cx="1062.1" cy="281" r="3.3"/>
<circle cx="1064.1" cy="280.6" r="3.3"/>
<circle cx="1066" cy="279.3" r="3.3"/>
<circle cx="1067.9" cy="277.6" r="3.3"/>
<circle cx="1069.9" cy="276.2" r="3.3"/>
<circle cx="1071.8" cy="274.5" r="3.3"/>
<circle cx="1073.7" cy="273.3" r="3.3"/>
<circle cx="1075.7" cy="273.4" r="3.3"/>
<circle cx="1077.6" cy="274.4" r="3.3"/>
<circle cx="1079.5" cy="275.8" r="3.3"/>
<circle cx="1081.4" cy="277" r="3.3"/>
<circle cx="1083.4" cy="278" r="3.3"/>
<circle cx="1085.3" cy="279.1" r="3.3"/>
<circle cx="1087.2" cy="280.1" r="3.3"/>
<circle cx="1089.2" cy="281" r="3.3"/>
<circle cx="1091.1" cy="281.5" r="3.3"/>
<circle cx="1093" cy="281.7" r="3.3"/>
<circle cx="1095" cy="281.1" r="3.3"/>
<circle cx="1096.9" cy="279.7" r="3.3"/>
<circle cx="1098.8" cy="278" r="3.3"/>
<circle cx="1100.7" cy="276.2" r="3.3"/>
<circle cx="1102.7" cy="274.5" r="3.3"/>
<circle cx="1104.6" cy="273.2" r="3.3"/>
<circle cx="1106.5" cy="271.7" r="3.3"/>
<circle cx="1108.5" cy="270.3" r="3.3"/>
<circle cx="1110.4" cy="269.1" r="3.3"/>
<circle cx="1112.3" cy="268.3" r="3.3"/>
<circle cx="1114.3" cy="268.3" r="3.3"/>
<circle cx="1116.2" cy="268.8" r="3.3"/>
<circle cx="1118.1" cy="269.8" r="3.3"/>
<circle cx="1120" cy="271.1" r="3.3"/>
<circle cx="1122" cy="272.5" r="3.3"/>
<circle cx="1123.9" cy="274" r="3.3"/>
<circle cx="1125.8" cy="275.3" r="3.3"/>
<circle cx="1127.8" cy="276.9" r="3.3"/>
<circle cx="1129.7" cy="278.7" r="3.3"/>
<circle cx="1131.6" cy="280.7" r="3.3"/>
<circle cx="1133.6" cy="282.7" r="3.3"/>
<circle cx="1135.5" cy="284.4" r="3.3"/>
<circle cx="1137.4" cy="285.8" r="3.3"/>
<circle cx="1139.3" cy="286.6" r="3.3"/>
<circle cx="1141.3" cy="286.8" r="3.3"/>
<circle cx="1143.2" cy="286.9" r="3.3"/>
<circle cx="1145.1" cy="286.9" r="3.3"/>
<circle cx="1147.1" cy="286.9" r="3.3"/>
<circle cx="1149" cy="287" r="3.3"/>
<circle cx="1150.9" cy="287" r="3.3"/>
<circle cx="1152.9" cy="287" r="3.3"/>
<circle cx="1154.8" cy="287" r="3.3"/>
<circle cx="1156.7" cy="286.9" r="3.3"/>
<circle cx="1158.6" cy="286.7" r="3.3"/>
<circle cx="1160.6" cy="286.5" r="3.3"/>
<circle cx="1162.5" cy="286.3" r="3.3"/>
<circle cx="1164.4" cy="286.1" r="3.3"/>
<circle cx="1166.4" cy="286" r="3.3"/>
<circle cx="1168.3" cy="286" r="3.3"/>
<circle cx="1170.2" cy="286.2" r="3.3"/>
<circle cx="1172.2" cy="286.4" r="3.3"/>
<circle cx="1174.1" cy="286.7" r="3.3"/>
<circle cx="1176" cy="287" r="3.3"/>
<circle cx="1177.9" cy="287.2" r="3.3"/>
<circle cx="1179.9" cy="287.4" r="3.3"/>
<circle cx="1181.8" cy="287.5" r="3.3"/>
<circle cx="1183.7" cy="287.5" r="3.3"/>
<circle cx="1185.7" cy="287.4" r="3.3"/>
<circle cx="1187.6" cy="287.2" r="3.3"/>
<circle cx="1189.5" cy="287" r="3.3"/>
<circle cx="1191.5" cy="286.7" r="3.3"/>
<circle cx="1193.4" cy="286.4" r="3.3"/>
<circle cx="1195.3" cy="286.1" r="3.3"/>
<circle cx="1197.2" cy="285.9" r="3.3"/>
<circle cx="1199.2" cy="285.6" r="3.3"/>
<circle cx="1201.1" cy="285.4" r="3.3"/>
<circle cx="1203" cy="285.2" r="3.3"/>
<circle cx="1205" cy="285.1" r="3.3"/>
<circle cx="1206.9" cy="285" r="3.3"/>
<circle cx="1208.8" cy="285" r="3.3"/>
<circle cx="1210.8" cy="285.1" r="3.3"/>
<circle cx="1212.7" cy="285.2" r="3.3"/>
<circle cx="1214.6" cy="285.3" r="3.3"/>
<circle cx="1216.5" cy="285.5" r="3.3"/>
<circle cx="1218.5" cy="285.6" r="3.3"/>
<circle cx="1220.4" cy="285.8" r="3.3"/>
<circle cx="1222.3" cy="286" r="3.3"/>
<circle cx="1224.3" cy="286.1" r="3.3"/>
<circle cx="1226.2" cy="286.3" r="3.3"/>
<circle cx="1228.1" cy="286.4" r="3.3"/>
<circle cx="1230.1" cy="286.5" r="3.3"/>
<circle cx="1232" cy="286.5" r="3.3"/>
<circle cx="1233.9" cy="286.5" r="3.3"/>
<circle cx="1235.8" cy="286.5" r="3.3"/>
<circle cx="1237.8" cy="286.4" r="3.3"/>
<circle cx="1239.7" cy="286.4" r="3.3"/>
<circle cx="1241.6" cy="286.3" r="3.3"/>
<circle cx="1243.6" cy="286.2" r="3.3"/>
<circle cx="1245.5" cy="286.1" r="3.3"/>
<circle cx="1247.4" cy="286" r="3.3"/>
<circle cx="1249.4" cy="285.9" r="3.3"/>
<circle cx="1251.3" cy="285.7" r="3.3"/>
<circle cx="1253.2" cy="285.6" r="3.3"/>
<circle cx="1255.2" cy="285.4" r="3.3"/>
<circle cx="1257.1" cy="285.2" r="3.3"/>
<circle cx="1259" cy="285" r="3.3"/>
<circle cx="1260.9" cy="284.8" r="3.3"/>
<circle cx="1262.9" cy="284.5" r="3.3"/>
</g>
<path d="M886.5 275.8 L888.4 276.6 L890.4 277.5 L892.3 278.4 L894.2 279.5 L896.2 280.5 L898.1 281.7 L900 283.1 L901.9 284.9 L903.9 286.7 L905.8 288.3 L907.7 289.3 L909.7 289.5 L911.6 288.4 L913.5 286.2 L915.5 283.5 L917.4 281.1 L919.3 279 L921.2 276.5 L923.2 274.2 L925.1 272.3 L927 271.4 L929 271.9 L930.9 273.8 L932.8 276.3 L934.8 279 L936.7 281.8 L938.6 285.3 L940.5 287.8 L942.5 285.5 L944.4 277.2 L946.3 268.4 L948.3 260.9 L950.2 252.6 L952.1 243.1 L954.1 232 L956 219.9 L957.9 206 L959.8 191.4 L961.8 178.1 L963.7 166.4 L965.6 155.6 L967.6 145.4 L969.5 135.1 L971.4 125.1 L973.4 116.4 L975.3 110 L977.2 105 L979.1 101.1 L981.1 98.3 L983 96.1 L984.9 96.1 L986.9 97.8 L988.8 100.6 L990.7 104.7 L992.7 110.1 L994.6 116.6 L996.5 124.7 L998.4 135.1 L1000.4 145.8 L1002.3 155.4 L1004.2 165 L1006.2 176.1 L1008.1 190.7 L1010 203.9 L1012 215.3 L1013.9 225.7 L1015.8 236.1 L1017.7 245.8 L1019.7 253.3 L1021.6 259.9 L1023.5 264.2 L1025.5 264.1 L1027.4 262.6 L1029.3 260.6 L1031.3 258.9 L1033.2 257.4 L1035.1 256 L1037 255.1 L1039 255.2 L1040.9 256.6 L1042.8 258.7 L1044.8 260.8 L1046.7 262.8 L1048.6 265 L1050.6 267.3 L1052.5 269.6 L1054.4 272.6 L1056.3 275.9 L1058.3 279.1 L1060.2 281.5 L1062.1 282.7 L1064.1 282.4 L1066 281.4 L1067.9 280.3 L1069.9 279.7 L1071.8 279.1 L1073.7 278.7 L1075.7 278.4 L1077.6 278.6 L1079.5 279.5 L1081.4 280.8 L1083.4 282.2 L1085.3 283.5 L1087.2 285.1 L1089.2 286.8 L1091.1 288.1 L1093 288.5 L1095 288.2 L1096.9 287.5 L1098.8 286.7 L1100.7 285.9 L1102.7 285.2 L1104.6 284.7 L1106.5 284.3 L1108.5 283.8 L1110.4 283.4 L1112.3 283.1 L1114.3 282.8 L1116.2 282.7 L1118.1 283 L1120 283.9 L1122 285.3 L1123.9 286.9 L1125.8 288.4 L1127.8 289.5 L1129.7 290 L1131.6 289.8 L1133.6 289.3 L1135.5 288.7 L1137.4 288.1 L1139.3 287.6 L1141.3 287.1 L1143.2 286.5 L1145.1 286.1 L1147.1 286 L1149 286.2 L1150.9 286.8 L1152.9 287.5 L1154.8 288.3 L1156.7 289.2 L1158.6 289.9 L1160.6 290.5 L1162.5 290.8 L1164.4 290.8 L1166.4 290.7 L1168.3 290.6 L1170.2 290.4 L1172.2 290.3 L1174.1 290.1 L1176 289.9 L1177.9 289.7 L1179.9 289.6 L1181.8 289.5 L1183.7 289.5 L1185.7 289.4 L1187.6 289.4 L1189.5 289.3 L1191.5 289.3 L1193.4 289.2 L1195.3 289.2 L1197.2 289.2 L1199.2 289.1 L1201.1 289.1 L1203 289.1 L1205 289 L1206.9 289 L1208.8 289 L1210.8 289 L1212.7 289 L1214.6 289 L1216.5 289 L1218.5 289 L1220.4 289 L1222.3 289.1 L1224.3 289.1 L1226.2 289.1 L1228.1 289.2 L1230.1 289.2 L1232 289.3 L1233.9 289.3 L1235.8 289.4 L1237.8 289.4 L1239.7 289.5 L1241.6 289.6 L1243.6 289.7 L1245.5 289.8 L1247.4 289.9 L1249.4 289.9 L1251.3 290 L1253.2 290.2 L1255.2 290.3 L1257.1 290.4 L1259 290.5 L1260.9 290.6 L1262.9 290.7" fill="none" stroke="#f20d14" stroke-width="1.6"/>
<g fill="#f20d14">
<circle cx="886.5" cy="275.8" r="3.1"/>
<circle cx="888.4" cy="276.6" r="3.1"/>
<circle cx="890.4" cy="277.5" r="3.1"/>
<circle cx="892.3" cy="278.4" r="3.1"/>
<circle cx="894.2" cy="279.5" r="3.1"/>
<circle cx="896.2" cy="280.5" r="3.1"/>
<circle cx="898.1" cy="281.7" r="3.1"/>
<circle cx="900" cy="283.1" r="3.1"/>
<circle cx="901.9" cy="284.9" r="3.1"/>
<circle cx="903.9" cy="286.7" r="3.1"/>
<circle cx="905.8" cy="288.3" r="3.1"/>
<circle cx="907.7" cy="289.3" r="3.1"/>
<circle cx="909.7" cy="289.5" r="3.1"/>
<circle cx="911.6" cy="288.4" r="3.1"/>
<circle cx="913.5" cy="286.2" r="3.1"/>
<circle cx="915.5" cy="283.5" r="3.1"/>
<circle cx="917.4" cy="281.1" r="3.1"/>
<circle cx="919.3" cy="279" r="3.1"/>
<circle cx="921.2" cy="276.5" r="3.1"/>
<circle cx="923.2" cy="274.2" r="3.1"/>
<circle cx="925.1" cy="272.3" r="3.1"/>
<circle cx="927" cy="271.4" r="3.1"/>
<circle cx="929" cy="271.9" r="3.1"/>
<circle cx="930.9" cy="273.8" r="3.1"/>
<circle cx="932.8" cy="276.3" r="3.1"/>
<circle cx="934.8" cy="279" r="3.1"/>
<circle cx="936.7" cy="281.8" r="3.1"/>
<circle cx="938.6" cy="285.3" r="3.1"/>
<circle cx="940.5" cy="287.8" r="3.1"/>
<circle cx="942.5" cy="285.5" r="3.1"/>
<circle cx="944.4" cy="277.2" r="3.1"/>
<circle cx="946.3" cy="268.4" r="3.1"/>
<circle cx="948.3" cy="260.9" r="3.1"/>
<circle cx="950.2" cy="252.6" r="3.1"/>
<circle cx="952.1" cy="243.1" r="3.1"/>
<circle cx="954.1" cy="232" r="3.1"/>
<circle cx="956" cy="219.9" r="3.1"/>
<circle cx="957.9" cy="206" r="3.1"/>
<circle cx="959.8" cy="191.4" r="3.1"/>
<circle cx="961.8" cy="178.1" r="3.1"/>
<circle cx="963.7" cy="166.4" r="3.1"/>
<circle cx="965.6" cy="155.6" r="3.1"/>
<circle cx="967.6" cy="145.4" r="3.1"/>
<circle cx="969.5" cy="135.1" r="3.1"/>
<circle cx="971.4" cy="125.1" r="3.1"/>
<circle cx="973.4" cy="116.4" r="3.1"/>
<circle cx="975.3" cy="110" r="3.1"/>
<circle cx="977.2" cy="105" r="3.1"/>
<circle cx="979.1" cy="101.1" r="3.1"/>
<circle cx="981.1" cy="98.3" r="3.1"/>
<circle cx="983" cy="96.1" r="3.1"/>
<circle cx="984.9" cy="96.1" r="3.1"/>
<circle cx="986.9" cy="97.8" r="3.1"/>
<circle cx="988.8" cy="100.6" r="3.1"/>
<circle cx="990.7" cy="104.7" r="3.1"/>
<circle cx="992.7" cy="110.1" r="3.1"/>
<circle cx="994.6" cy="116.6" r="3.1"/>
<circle cx="996.5" cy="124.7" r="3.1"/>
<circle cx="998.4" cy="135.1" r="3.1"/>
<circle cx="1000.4" cy="145.8" r="3.1"/>
<circle cx="1002.3" cy="155.4" r="3.1"/>
<circle cx="1004.2" cy="165" r="3.1"/>
<circle cx="1006.2" cy="176.1" r="3.1"/>
<circle cx="1008.1" cy="190.7" r="3.1"/>
<circle cx="1010" cy="203.9" r="3.1"/>
<circle cx="1012" cy="215.3" r="3.1"/>
<circle cx="1013.9" cy="225.7" r="3.1"/>
<circle cx="1015.8" cy="236.1" r="3.1"/>
<circle cx="1017.7" cy="245.8" r="3.1"/>
<circle cx="1019.7" cy="253.3" r="3.1"/>
<circle cx="1021.6" cy="259.9" r="3.1"/>
<circle cx="1023.5" cy="264.2" r="3.1"/>
<circle cx="1025.5" cy="264.1" r="3.1"/>
<circle cx="1027.4" cy="262.6" r="3.1"/>
<circle cx="1029.3" cy="260.6" r="3.1"/>
<circle cx="1031.3" cy="258.9" r="3.1"/>
<circle cx="1033.2" cy="257.4" r="3.1"/>
<circle cx="1035.1" cy="256" r="3.1"/>
<circle cx="1037" cy="255.1" r="3.1"/>
<circle cx="1039" cy="255.2" r="3.1"/>
<circle cx="1040.9" cy="256.6" r="3.1"/>
<circle cx="1042.8" cy="258.7" r="3.1"/>
<circle cx="1044.8" cy="260.8" r="3.1"/>
<circle cx="1046.7" cy="262.8" r="3.1"/>
<circle cx="1048.6" cy="265" r="3.1"/>
<circle cx="1050.6" cy="267.3" r="3.1"/>
<circle cx="1052.5" cy="269.6" r="3.1"/>
<circle cx="1054.4" cy="272.6" r="3.1"/>
<circle cx="1056.3" cy="275.9" r="3.1"/>
<circle cx="1058.3" cy="279.1" r="3.1"/>
<circle cx="1060.2" cy="281.5" r="3.1"/>
<circle cx="1062.1" cy="282.7" r="3.1"/>
<circle cx="1064.1" cy="282.4" r="3.1"/>
<circle cx="1066" cy="281.4" r="3.1"/>
<circle cx="1067.9" cy="280.3" r="3.1"/>
<circle cx="1069.9" cy="279.7" r="3.1"/>
<circle cx="1071.8" cy="279.1" r="3.1"/>
<circle cx="1073.7" cy="278.7" r="3.1"/>
<circle cx="1075.7" cy="278.4" r="3.1"/>
<circle cx="1077.6" cy="278.6" r="3.1"/>
<circle cx="1079.5" cy="279.5" r="3.1"/>
<circle cx="1081.4" cy="280.8" r="3.1"/>
<circle cx="1083.4" cy="282.2" r="3.1"/>
<circle cx="1085.3" cy="283.5" r="3.1"/>
<circle cx="1087.2" cy="285.1" r="3.1"/>
<circle cx="1089.2" cy="286.8" r="3.1"/>
<circle cx="1091.1" cy="288.1" r="3.1"/>
<circle cx="1093" cy="288.5" r="3.1"/>
<circle cx="1095" cy="288.2" r="3.1"/>
<circle cx="1096.9" cy="287.5" r="3.1"/>
<circle cx="1098.8" cy="286.7" r="3.1"/>
<circle cx="1100.7" cy="285.9" r="3.1"/>
<circle cx="1102.7" cy="285.2" r="3.1"/>
<circle cx="1104.6" cy="284.7" r="3.1"/>
<circle cx="1106.5" cy="284.3" r="3.1"/>
<circle cx="1108.5" cy="283.8" r="3.1"/>
<circle cx="1110.4" cy="283.4" r="3.1"/>
<circle cx="1112.3" cy="283.1" r="3.1"/>
<circle cx="1114.3" cy="282.8" r="3.1"/>
<circle cx="1116.2" cy="282.7" r="3.1"/>
<circle cx="1118.1" cy="283" r="3.1"/>
<circle cx="1120" cy="283.9" r="3.1"/>
<circle cx="1122" cy="285.3" r="3.1"/>
<circle cx="1123.9" cy="286.9" r="3.1"/>
<circle cx="1125.8" cy="288.4" r="3.1"/>
<circle cx="1127.8" cy="289.5" r="3.1"/>
<circle cx="1129.7" cy="290" r="3.1"/>
<circle cx="1131.6" cy="289.8" r="3.1"/>
<circle cx="1133.6" cy="289.3" r="3.1"/>
<circle cx="1135.5" cy="288.7" r="3.1"/>
<circle cx="1137.4" cy="288.1" r="3.1"/>
<circle cx="1139.3" cy="287.6" r="3.1"/>
<circle cx="1141.3" cy="287.1" r="3.1"/>
<circle cx="1143.2" cy="286.5" r="3.1"/>
<circle cx="1145.1" cy="286.1" r="3.1"/>
<circle cx="1147.1" cy="286" r="3.1"/>
<circle cx="1149" cy="286.2" r="3.1"/>
<circle cx="1150.9" cy="286.8" r="3.1"/>
<circle cx="1152.9" cy="287.5" r="3.1"/>
<circle cx="1154.8" cy="288.3" r="3.1"/>
<circle cx="1156.7" cy="289.2" r="3.1"/>
<circle cx="1158.6" cy="289.9" r="3.1"/>
<circle cx="1160.6" cy="290.5" r="3.1"/>
<circle cx="1162.5" cy="290.8" r="3.1"/>
<circle cx="1164.4" cy="290.8" r="3.1"/>
<circle cx="1166.4" cy="290.7" r="3.1"/>
<circle cx="1168.3" cy="290.6" r="3.1"/>
<circle cx="1170.2" cy="290.4" r="3.1"/>
<circle cx="1172.2" cy="290.3" r="3.1"/>
<circle cx="1174.1" cy="290.1" r="3.1"/>
<circle cx="1176" cy="289.9" r="3.1"/>
<circle cx="1177.9" cy="289.7" r="3.1"/>
<circle cx="1179.9" cy="289.6" r="3.1"/>
<circle cx="1181.8" cy="289.5" r="3.1"/>
<circle cx="1183.7" cy="289.5" r="3.1"/>
<circle cx="1185.7" cy="289.4" r="3.1"/>
<circle cx="1187.6" cy="289.4" r="3.1"/>
<circle cx="1189.5" cy="289.3" r="3.1"/>
<circle cx="1191.5" cy="289.3" r="3.1"/>
<circle cx="1193.4" cy="289.2" r="3.1"/>
<circle cx="1195.3" cy="289.2" r="3.1"/>
<circle cx="1197.2" cy="289.2" r="3.1"/>
<circle cx="1199.2" cy="289.1" r="3.1"/>
<circle cx="1201.1" cy="289.1" r="3.1"/>
<circle cx="1203" cy="289.1" r="3.1"/>
<circle cx="1205" cy="289" r="3.1"/>
<circle cx="1206.9" cy="289" r="3.1"/>
<circle cx="1208.8" cy="289" r="3.1"/>
<circle cx="1210.8" cy="289" r="3.1"/>
<circle cx="1212.7" cy="289" r="3.1"/>
<circle cx="1214.6" cy="289" r="3.1"/>
<circle cx="1216.5" cy="289" r="3.1"/>
<circle cx="1218.5" cy="289" r="3.1"/>
<circle cx="1220.4" cy="289" r="3.1"/>
<circle cx="1222.3" cy="289.1" r="3.1"/>
<circle cx="1224.3" cy="289.1" r="3.1"/>
<circle cx="1226.2" cy="289.1" r="3.1"/>
<circle cx="1228.1" cy="289.2" r="3.1"/>
<circle cx="1230.1" cy="289.2" r="3.1"/>
<circle cx="1232" cy="289.3" r="3.1"/>
<circle cx="1233.9" cy="289.3" r="3.1"/>
<circle cx="1235.8" cy="289.4" r="3.1"/>
<circle cx="1237.8" cy="289.4" r="3.1"/>
<circle cx="1239.7" cy="289.5" r="3.1"/>
<circle cx="1241.6" cy="289.6" r="3.1"/>
<circle cx="1243.6" cy="289.7" r="3.1"/>
<circle cx="1245.5" cy="289.8" r="3.1"/>
<circle cx="1247.4" cy="289.9" r="3.1"/>
<circle cx="1249.4" cy="289.9" r="3.1"/>
<circle cx="1251.3" cy="290" r="3.1"/>
<circle cx="1253.2" cy="290.2" r="3.1"/>
<circle cx="1255.2" cy="290.3" r="3.1"/>
<circle cx="1257.1" cy="290.4" r="3.1"/>
<circle cx="1259" cy="290.5" r="3.1"/>
<circle cx="1260.9" cy="290.6" r="3.1"/>
<circle cx="1262.9" cy="290.7" r="3.1"/>
</g></g>
<rect x="886.5" y="23.3" width="377.7" height="275.9" fill="none" stroke="#000" stroke-width="2.4"/>
<line x1="886.5" y1="299.2" x2="886.5" y2="304.4" stroke="#000" stroke-width="1.8"/>
<line x1="917.9" y1="299.2" x2="917.9" y2="302.2" stroke="#000" stroke-width="1.8"/>
<line x1="949.4" y1="299.2" x2="949.4" y2="304.4" stroke="#000" stroke-width="1.8"/>
<line x1="980.8" y1="299.2" x2="980.8" y2="302.2" stroke="#000" stroke-width="1.8"/>
<line x1="1012.2" y1="299.2" x2="1012.2" y2="304.4" stroke="#000" stroke-width="1.8"/>
<line x1="1043.7" y1="299.2" x2="1043.7" y2="302.2" stroke="#000" stroke-width="1.8"/>
<line x1="1075.1" y1="299.2" x2="1075.1" y2="304.4" stroke="#000" stroke-width="1.8"/>
<line x1="1106.5" y1="299.2" x2="1106.5" y2="302.2" stroke="#000" stroke-width="1.8"/>
<line x1="1138" y1="299.2" x2="1138" y2="304.4" stroke="#000" stroke-width="1.8"/>
<line x1="1169.4" y1="299.2" x2="1169.4" y2="302.2" stroke="#000" stroke-width="1.8"/>
<line x1="1200.8" y1="299.2" x2="1200.8" y2="304.4" stroke="#000" stroke-width="1.8"/>
<line x1="1232.3" y1="299.2" x2="1232.3" y2="302.2" stroke="#000" stroke-width="1.8"/>
<line x1="1263.7" y1="299.2" x2="1263.7" y2="304.4" stroke="#000" stroke-width="1.8"/>
<text x="886.5" y="322.6" font-family="'Liberation Sans', sans-serif" font-size="14.8" text-anchor="middle" fill="#000" >0</text>
<text x="949.4" y="322.6" font-family="'Liberation Sans', sans-serif" font-size="14.8" text-anchor="middle" fill="#000" >1</text>
<text x="1012.2" y="322.6" font-family="'Liberation Sans', sans-serif" font-size="14.8" text-anchor="middle" fill="#000" >2</text>
<text x="1075.1" y="322.6" font-family="'Liberation Sans', sans-serif" font-size="14.8" text-anchor="middle" fill="#000" >3</text>
<text x="1138" y="322.6" font-family="'Liberation Sans', sans-serif" font-size="14.8" text-anchor="middle" fill="#000" >4</text>
<text x="1200.8" y="322.6" font-family="'Liberation Sans', sans-serif" font-size="14.8" text-anchor="middle" fill="#000" >5</text>
<text x="1260.7" y="322.6" font-family="'Liberation Sans', sans-serif" font-size="14.8" text-anchor="middle" fill="#000" >6</text>
<text x="1074.6" y="338.3" font-family="'Liberation Sans', sans-serif" font-size="16" font-weight="bold" text-anchor="middle" fill="#111" >Radial distance (Å)</text>
<text transform="translate(875.2 161.5) rotate(-90)" font-family="'Liberation Sans', sans-serif" font-size="16" font-weight="bold" fill="#111" text-anchor="middle">|X(R)| (Å<tspan dy="-6" font-size="11">-4</tspan><tspan dy="6">)</tspan></text>
<text x="855.5" y="45.6" font-family="'Liberation Serif', serif" font-size="33" font-weight="bold" fill="#000" >C</text>
<circle cx="910.5" cy="39.8" r="3.6" fill="#fff" stroke="#666" stroke-width="1.1"/>
<text x="932.3" y="44.8" font-family="'Liberation Sans', sans-serif" font-size="16.3" font-weight="bold" fill="#111">Fe<tspan dy="3.5" font-size="10.8">1</tspan><tspan dy="-3.5">-Ni</tspan><tspan dy="3.5" font-size="10.5">1</tspan><tspan dy="-3.5">-N-C</tspan></text>
<line x1="892.8" y1="64.3" x2="927.8" y2="64.3" stroke="#f20d14" stroke-width="1.6"/><circle cx="910.5" cy="64.3" r="3.1" fill="#f20d14"/>
<text x="932.3" y="69" font-family="'Liberation Sans', sans-serif" font-size="15.8" font-weight="bold" fill="#111" >fitting</text>
<text x="1256.5" y="45.5" font-family="'Liberation Sans', sans-serif" font-size="16" font-weight="bold" text-anchor="end" fill="#111" >Fe K-edge</text>
<line x1="1101.2" y1="150" x2="1092.5" y2="150" stroke="#1414e6" stroke-width="2"/>
<line x1="1092.5" y1="150" x2="1083.9" y2="150" stroke="#777" stroke-width="2"/>
<line x1="1101.2" y1="210.2" x2="1109.9" y2="225.2" stroke="#777" stroke-width="2"/>
<line x1="1083.9" y1="150" x2="1075.2" y2="165" stroke="#777" stroke-width="2"/>
<line x1="1135.9" y1="210.2" x2="1127.2" y2="195.1" stroke="#777" stroke-width="2"/>
<line x1="1188" y1="180.1" x2="1196.6" y2="180.1" stroke="#1414e6" stroke-width="2"/>
<line x1="1196.6" y1="180.1" x2="1205.3" y2="180.1" stroke="#777" stroke-width="2"/>
<line x1="1127.2" y1="225.2" x2="1109.9" y2="225.2" stroke="#777" stroke-width="2"/>
<line x1="1083.9" y1="210.2" x2="1075.2" y2="195.1" stroke="#777" stroke-width="2"/>
<line x1="1153.3" y1="180.1" x2="1135.9" y2="180.1" stroke="#1414e6" stroke-width="2"/>
<line x1="1188" y1="150" x2="1196.6" y2="150" stroke="#1414e6" stroke-width="2"/>
<line x1="1196.6" y1="150" x2="1205.3" y2="150" stroke="#777" stroke-width="2"/>
<line x1="1135.9" y1="119.9" x2="1127.2" y2="134.9" stroke="#777" stroke-width="2"/>
<line x1="1083.9" y1="180.1" x2="1075.2" y2="165" stroke="#777" stroke-width="2"/>
<line x1="1083.9" y1="119.9" x2="1075.2" y2="134.9" stroke="#777" stroke-width="2"/>
<line x1="1188" y1="210.2" x2="1179.3" y2="195.1" stroke="#777" stroke-width="2"/>
<line x1="1153.3" y1="150" x2="1135.9" y2="150" stroke="#1414e6" stroke-width="2"/>
<line x1="1153.3" y1="210.2" x2="1135.9" y2="210.2" stroke="#777" stroke-width="2"/>
<line x1="1188" y1="119.9" x2="1179.3" y2="134.9" stroke="#777" stroke-width="2"/>
<line x1="1135.9" y1="119.9" x2="1127.2" y2="104.8" stroke="#777" stroke-width="2"/>
<line x1="1101.2" y1="180.1" x2="1105.6" y2="187.6" stroke="#1414e6" stroke-width="2"/>
<line x1="1105.6" y1="187.6" x2="1109.9" y2="195.1" stroke="#777" stroke-width="2"/>
<line x1="1109.9" y1="195.1" x2="1127.2" y2="195.1" stroke="#777" stroke-width="2"/>
<line x1="1188" y1="150" x2="1183.6" y2="142.4" stroke="#1414e6" stroke-width="2"/>
<line x1="1183.6" y1="142.4" x2="1179.3" y2="134.9" stroke="#777" stroke-width="2"/>
<line x1="1135.9" y1="150" x2="1131.6" y2="142.4" stroke="#1414e6" stroke-width="2"/>
<line x1="1131.6" y1="142.4" x2="1127.2" y2="134.9" stroke="#777" stroke-width="2"/>
<line x1="1083.9" y1="150" x2="1075.2" y2="134.9" stroke="#777" stroke-width="2"/>
<line x1="1205.3" y1="180.1" x2="1214" y2="195.1" stroke="#777" stroke-width="2"/>
<line x1="1101.2" y1="119.9" x2="1109.9" y2="104.8" stroke="#777" stroke-width="2"/>
<line x1="1153.3" y1="180.1" x2="1157.6" y2="187.6" stroke="#1414e6" stroke-width="2"/>
<line x1="1157.6" y1="187.6" x2="1161.9" y2="195.1" stroke="#777" stroke-width="2"/>
<line x1="1135.9" y1="210.2" x2="1127.2" y2="225.2" stroke="#777" stroke-width="2"/>
<line x1="1162" y1="104.8" x2="1179.3" y2="104.8" stroke="#777" stroke-width="2"/>
<line x1="1161.9" y1="195.1" x2="1179.3" y2="195.1" stroke="#777" stroke-width="2"/>
<line x1="1135.9" y1="119.9" x2="1153.3" y2="119.9" stroke="#777" stroke-width="2"/>
<line x1="1153.3" y1="210.2" x2="1162" y2="225.2" stroke="#777" stroke-width="2"/>
<line x1="1083.9" y1="119.9" x2="1101.2" y2="119.9" stroke="#777" stroke-width="2"/>
<line x1="1205.3" y1="150" x2="1214" y2="165" stroke="#777" stroke-width="2"/>
<line x1="1101.2" y1="119.9" x2="1109.9" y2="134.9" stroke="#777" stroke-width="2"/>
<line x1="1109.9" y1="195.1" x2="1101.2" y2="210.2" stroke="#777" stroke-width="2"/>
<line x1="1188" y1="180.1" x2="1183.6" y2="187.6" stroke="#1414e6" stroke-width="2"/>
<line x1="1183.6" y1="187.6" x2="1179.3" y2="195.1" stroke="#777" stroke-width="2"/>
<line x1="1188" y1="119.9" x2="1205.3" y2="119.9" stroke="#777" stroke-width="2"/>
<line x1="1109.9" y1="134.9" x2="1127.2" y2="134.9" stroke="#777" stroke-width="2"/>
<line x1="1153.3" y1="119.9" x2="1161.9" y2="134.9" stroke="#777" stroke-width="2"/>
<line x1="1161.9" y1="195.1" x2="1153.3" y2="210.2" stroke="#777" stroke-width="2"/>
<line x1="1188" y1="119.9" x2="1179.3" y2="104.8" stroke="#777" stroke-width="2"/>
<line x1="1109.9" y1="104.8" x2="1127.2" y2="104.8" stroke="#777" stroke-width="2"/>
<line x1="1161.9" y1="134.9" x2="1179.3" y2="134.9" stroke="#777" stroke-width="2"/>
<line x1="1205.3" y1="119.9" x2="1214" y2="134.9" stroke="#777" stroke-width="2"/>
<line x1="1135.9" y1="180.1" x2="1131.6" y2="187.6" stroke="#1414e6" stroke-width="2"/>
<line x1="1131.6" y1="187.6" x2="1127.2" y2="195.1" stroke="#777" stroke-width="2"/>
<line x1="1214" y1="195.1" x2="1205.3" y2="210.2" stroke="#777" stroke-width="2"/>
<line x1="1205.3" y1="210.2" x2="1188" y2="210.2" stroke="#777" stroke-width="2"/>
<line x1="1179.3" y1="225.2" x2="1162" y2="225.2" stroke="#777" stroke-width="2"/>
<line x1="1153.3" y1="119.9" x2="1162" y2="104.8" stroke="#777" stroke-width="2"/>
<line x1="1214" y1="165" x2="1205.3" y2="180.1" stroke="#777" stroke-width="2"/>
<line x1="1101.2" y1="150" x2="1105.6" y2="142.4" stroke="#1414e6" stroke-width="2"/>
<line x1="1105.6" y1="142.4" x2="1109.9" y2="134.9" stroke="#777" stroke-width="2"/>
<line x1="1101.2" y1="210.2" x2="1083.9" y2="210.2" stroke="#777" stroke-width="2"/>
<line x1="1083.9" y1="180.1" x2="1075.2" y2="195.1" stroke="#777" stroke-width="2"/>
<line x1="1188" y1="210.2" x2="1179.3" y2="225.2" stroke="#777" stroke-width="2"/>
<line x1="1101.2" y1="180.1" x2="1092.5" y2="180.1" stroke="#1414e6" stroke-width="2"/>
<line x1="1092.5" y1="180.1" x2="1083.9" y2="180.1" stroke="#777" stroke-width="2"/>
<line x1="1214" y1="134.9" x2="1205.3" y2="150" stroke="#777" stroke-width="2"/>
<line x1="1153.3" y1="150" x2="1157.6" y2="142.4" stroke="#1414e6" stroke-width="2"/>
<line x1="1157.6" y1="142.4" x2="1161.9" y2="134.9" stroke="#777" stroke-width="2"/>
<line x1="1118.6" y1="165" x2="1109.9" y2="157.5" stroke="#e8141a" stroke-width="2"/>
<line x1="1109.9" y1="157.5" x2="1101.2" y2="149.9" stroke="#1414e6" stroke-width="2"/>
<line x1="1118.6" y1="165" x2="1109.9" y2="172.5" stroke="#e8141a" stroke-width="2"/>
<line x1="1109.9" y1="172.5" x2="1101.2" y2="180.1" stroke="#1414e6" stroke-width="2"/>
<line x1="1118.6" y1="165" x2="1127.2" y2="157.5" stroke="#e8141a" stroke-width="2"/>
<line x1="1127.2" y1="157.5" x2="1135.9" y2="149.9" stroke="#1414e6" stroke-width="2"/>
<line x1="1118.6" y1="165" x2="1127.2" y2="172.5" stroke="#e8141a" stroke-width="2"/>
<line x1="1127.2" y1="172.5" x2="1135.9" y2="180.1" stroke="#1414e6" stroke-width="2"/>
<line x1="1170.6" y1="165" x2="1162" y2="157.5" stroke="#0e6a22" stroke-width="2"/>
<line x1="1162" y1="157.5" x2="1153.3" y2="149.9" stroke="#1414e6" stroke-width="2"/>
<line x1="1170.6" y1="165" x2="1162" y2="172.5" stroke="#0e6a22" stroke-width="2"/>
<line x1="1162" y1="172.5" x2="1153.3" y2="180.1" stroke="#1414e6" stroke-width="2"/>
<line x1="1170.6" y1="165" x2="1179.3" y2="157.5" stroke="#0e6a22" stroke-width="2"/>
<line x1="1179.3" y1="157.5" x2="1188" y2="149.9" stroke="#1414e6" stroke-width="2"/>
<line x1="1170.6" y1="165" x2="1179.3" y2="172.5" stroke="#0e6a22" stroke-width="2"/>
<line x1="1179.3" y1="172.5" x2="1188" y2="180.1" stroke="#1414e6" stroke-width="2"/>
<circle cx="1083.9" cy="119.9" r="2.85" fill="url(#cGry)" stroke="#666" stroke-width="1"/>
<circle cx="1101.2" cy="119.9" r="2.85" fill="url(#cGry)" stroke="#666" stroke-width="1"/>
<circle cx="1109.9" cy="134.9" r="2.85" fill="url(#cGry)" stroke="#666" stroke-width="1"/>
<circle cx="1101.2" cy="150" r="3" fill="url(#cBlu)"/>
<circle cx="1083.9" cy="150" r="2.85" fill="url(#cGry)" stroke="#666" stroke-width="1"/>
<circle cx="1075.2" cy="134.9" r="2.85" fill="url(#cGry)" stroke="#666" stroke-width="1"/>
<circle cx="1101.2" cy="180.1" r="3" fill="url(#cBlu)"/>
<circle cx="1083.9" cy="180.1" r="2.85" fill="url(#cGry)" stroke="#666" stroke-width="1"/>
<circle cx="1075.2" cy="165" r="2.85" fill="url(#cGry)" stroke="#666" stroke-width="1"/>
<circle cx="1109.9" cy="195.1" r="2.85" fill="url(#cGry)" stroke="#666" stroke-width="1"/>
<circle cx="1101.2" cy="210.2" r="2.85" fill="url(#cGry)" stroke="#666" stroke-width="1"/>
<circle cx="1083.9" cy="210.2" r="2.85" fill="url(#cGry)" stroke="#666" stroke-width="1"/>
<circle cx="1075.2" cy="195.1" r="2.85" fill="url(#cGry)" stroke="#666" stroke-width="1"/>
<circle cx="1135.9" cy="119.9" r="2.85" fill="url(#cGry)" stroke="#666" stroke-width="1"/>
<circle cx="1153.3" cy="119.9" r="2.85" fill="url(#cGry)" stroke="#666" stroke-width="1"/>
<circle cx="1161.9" cy="134.9" r="2.85" fill="url(#cGry)" stroke="#666" stroke-width="1"/>
<circle cx="1153.3" cy="150" r="3" fill="url(#cBlu)"/>
<circle cx="1135.9" cy="150" r="3" fill="url(#cBlu)"/>
<circle cx="1127.2" cy="134.9" r="2.85" fill="url(#cGry)" stroke="#666" stroke-width="1"/>
<circle cx="1153.3" cy="180.1" r="3" fill="url(#cBlu)"/>
<circle cx="1135.9" cy="180.1" r="3" fill="url(#cBlu)"/>
<circle cx="1161.9" cy="195.1" r="2.85" fill="url(#cGry)" stroke="#666" stroke-width="1"/>
<circle cx="1153.3" cy="210.2" r="2.85" fill="url(#cGry)" stroke="#666" stroke-width="1"/>
<circle cx="1135.9" cy="210.2" r="2.85" fill="url(#cGry)" stroke="#666" stroke-width="1"/>
<circle cx="1127.2" cy="195.1" r="2.85" fill="url(#cGry)" stroke="#666" stroke-width="1"/>
<circle cx="1188" cy="119.9" r="2.85" fill="url(#cGry)" stroke="#666" stroke-width="1"/>
<circle cx="1205.3" cy="119.9" r="2.85" fill="url(#cGry)" stroke="#666" stroke-width="1"/>
<circle cx="1214" cy="134.9" r="2.85" fill="url(#cGry)" stroke="#666" stroke-width="1"/>
<circle cx="1205.3" cy="150" r="2.85" fill="url(#cGry)" stroke="#666" stroke-width="1"/>
<circle cx="1188" cy="150" r="3" fill="url(#cBlu)"/>
<circle cx="1179.3" cy="134.9" r="2.85" fill="url(#cGry)" stroke="#666" stroke-width="1"/>
<circle cx="1214" cy="165" r="2.85" fill="url(#cGry)" stroke="#666" stroke-width="1"/>
<circle cx="1205.3" cy="180.1" r="2.85" fill="url(#cGry)" stroke="#666" stroke-width="1"/>
<circle cx="1188" cy="180.1" r="3" fill="url(#cBlu)"/>
<circle cx="1214" cy="195.1" r="2.85" fill="url(#cGry)" stroke="#666" stroke-width="1"/>
<circle cx="1205.3" cy="210.2" r="2.85" fill="url(#cGry)" stroke="#666" stroke-width="1"/>
<circle cx="1188" cy="210.2" r="2.85" fill="url(#cGry)" stroke="#666" stroke-width="1"/>
<circle cx="1179.3" cy="195.1" r="2.85" fill="url(#cGry)" stroke="#666" stroke-width="1"/>
<circle cx="1109.9" cy="104.8" r="2.85" fill="url(#cGry)" stroke="#666" stroke-width="1"/>
<circle cx="1127.2" cy="104.8" r="2.85" fill="url(#cGry)" stroke="#666" stroke-width="1"/>
<circle cx="1127.2" cy="225.2" r="2.85" fill="url(#cGry)" stroke="#666" stroke-width="1"/>
<circle cx="1109.9" cy="225.2" r="2.85" fill="url(#cGry)" stroke="#666" stroke-width="1"/>
<circle cx="1162" cy="104.8" r="2.85" fill="url(#cGry)" stroke="#666" stroke-width="1"/>
<circle cx="1179.3" cy="104.8" r="2.85" fill="url(#cGry)" stroke="#666" stroke-width="1"/>
<circle cx="1179.3" cy="225.2" r="2.85" fill="url(#cGry)" stroke="#666" stroke-width="1"/>
<circle cx="1162" cy="225.2" r="2.85" fill="url(#cGry)" stroke="#666" stroke-width="1"/>
<circle cx="1118.6" cy="165" r="6.6" fill="url(#cRed)"/>
<circle cx="1170.6" cy="165" r="6.6" fill="url(#cGrn)"/>
<line x1="1118.6" y1="75.5" x2="1118.6" y2="153" stroke="#f20d14" stroke-width="2.4" stroke-dasharray="8.6 4.3"/>
<line x1="1170.6" y1="75.5" x2="1170.6" y2="153" stroke="#f20d14" stroke-width="2.4" stroke-dasharray="8.6 4.3"/>
<line x1="1122.6" y1="92.8" x2="1166.6" y2="92.8" stroke="#f20d14" stroke-width="2.2"/>
<polygon points="1120.1,92.8 1128.6,87.8 1126.1,92.8 1128.6,97.8" fill="#f20d14"/>
<polygon points="1169.1,92.8 1160.6,87.8 1163.1,92.8 1160.6,97.8" fill="#f20d14"/>
<text x="1145.1" y="73.8" font-family="'Liberation Sans', sans-serif" font-size="19.3" font-weight="bold" text-anchor="middle" fill="#f20d14" >4.1 Å</text>
</g>
<g id="panelD">
<defs>
<radialGradient id="dC" cx="42%" cy="38%" r="62%"><stop offset="0" stop-color="#fff"/><stop offset="0.2" stop-color="#e0e0e0"/><stop offset="0.55" stop-color="#989898"/><stop offset="1" stop-color="#6e6e6e"/></radialGradient>
<radialGradient id="dN" cx="42%" cy="38%" r="62%"><stop offset="0" stop-color="#a8acff"/><stop offset="0.35" stop-color="#3d43f0"/><stop offset="1" stop-color="#1b1fb4"/></radialGradient>
<radialGradient id="dCu" cx="45%" cy="45%" r="60%"><stop offset="0" stop-color="#fff9a8"/><stop offset="0.35" stop-color="#ffd23a"/><stop offset="0.75" stop-color="#f59a10"/><stop offset="1" stop-color="#e8820a"/></radialGradient>
<radialGradient id="dCo" cx="48%" cy="48%" r="60%"><stop offset="0" stop-color="#fff"/><stop offset="0.3" stop-color="#ff8fb5"/><stop offset="0.8" stop-color="#fb4f86"/><stop offset="1" stop-color="#e83a78"/></radialGradient>
<radialGradient id="dCoL" cx="40%" cy="35%" r="65%"><stop offset="0" stop-color="#ffd6ec"/><stop offset="0.5" stop-color="#ff78c0"/><stop offset="1" stop-color="#f04aa8"/></radialGradient>
<radialGradient id="dCuL" cx="40%" cy="35%" r="65%"><stop offset="0" stop-color="#ffd08a"/><stop offset="0.5" stop-color="#ff9410"/><stop offset="1" stop-color="#e87800"/></radialGradient>
<radialGradient id="dG" cx="50%" cy="50%" r="55%"><stop offset="0" stop-color="#a8e672"/><stop offset="0.7" stop-color="#8cd94e"/><stop offset="1" stop-color="#72c838"/></radialGradient>
<radialGradient id="dB" cx="50%" cy="50%" r="55%"><stop offset="0" stop-color="#98d0f4"/><stop offset="0.7" stop-color="#5aaee8"/><stop offset="1" stop-color="#3690d8"/></radialGradient>
<clipPath id="dClip"><rect x="18.5" y="410" width="373.5" height="314"/></clipPath>
</defs>
<g clip-path="url(#dClip)">
<line x1="10.3" y1="498.2" x2="49.6" y2="498.2" stroke="#7e7e7e" stroke-width="3.1"/><line x1="10.3" y1="498.2" x2="49.6" y2="498.2" stroke="#dcdcdc" stroke-width="0.9"/>
<line x1="187.1" y1="600.6" x2="167.5" y2="634.8" stroke="#7e7e7e" stroke-width="3.1"/><line x1="187.1" y1="600.6" x2="167.5" y2="634.8" stroke="#dcdcdc" stroke-width="0.9"/>
<line x1="-48.7" y1="395.8" x2="-68.3" y2="429.9" stroke="#7e7e7e" stroke-width="3.1"/><line x1="-48.7" y1="395.8" x2="-68.3" y2="429.9" stroke="#dcdcdc" stroke-width="0.9"/>
<line x1="128.2" y1="429.9" x2="167.5" y2="429.9" stroke="#7e7e7e" stroke-width="3.1"/><line x1="128.2" y1="429.9" x2="167.5" y2="429.9" stroke="#dcdcdc" stroke-width="0.9"/>
<line x1="305" y1="669" x2="285.3" y2="703.1" stroke="#7e7e7e" stroke-width="3.1"/><line x1="305" y1="669" x2="285.3" y2="703.1" stroke="#dcdcdc" stroke-width="0.9"/>
<line x1="363.9" y1="429.9" x2="403.2" y2="429.9" stroke="#7e7e7e" stroke-width="3.1"/><line x1="363.9" y1="429.9" x2="403.2" y2="429.9" stroke="#dcdcdc" stroke-width="0.9"/>
<line x1="-48.7" y1="464" x2="-68.3" y2="429.9" stroke="#7e7e7e" stroke-width="3.1"/><line x1="-48.7" y1="464" x2="-68.3" y2="429.9" stroke="#dcdcdc" stroke-width="0.9"/>
<line x1="49.6" y1="703.1" x2="69.2" y2="737.2" stroke="#7e7e7e" stroke-width="3.1"/><line x1="49.6" y1="703.1" x2="69.2" y2="737.2" stroke="#dcdcdc" stroke-width="0.9"/>
<line x1="-9.4" y1="532.4" x2="10.3" y2="566.5" stroke="#7e7e7e" stroke-width="3.1"/><line x1="-9.4" y1="532.4" x2="10.3" y2="566.5" stroke="#dcdcdc" stroke-width="0.9"/>
<line x1="285.3" y1="703.1" x2="305" y2="737.2" stroke="#7e7e7e" stroke-width="3.1"/><line x1="285.3" y1="703.1" x2="305" y2="737.2" stroke="#dcdcdc" stroke-width="0.9"/>
<line x1="481.9" y1="429.9" x2="462.2" y2="464" stroke="#7e7e7e" stroke-width="3.1"/><line x1="481.9" y1="429.9" x2="462.2" y2="464" stroke="#dcdcdc" stroke-width="0.9"/>
<line x1="-9.4" y1="464" x2="10.3" y2="498.2" stroke="#7e7e7e" stroke-width="3.1"/><line x1="-9.4" y1="464" x2="10.3" y2="498.2" stroke="#dcdcdc" stroke-width="0.9"/>
<line x1="10.3" y1="634.8" x2="-9.4" y2="668.9" stroke="#7e7e7e" stroke-width="3.1"/><line x1="10.3" y1="634.8" x2="-9.4" y2="668.9" stroke="#dcdcdc" stroke-width="0.9"/>
<line x1="10.3" y1="566.5" x2="-9.4" y2="600.6" stroke="#7e7e7e" stroke-width="3.1"/><line x1="10.3" y1="566.5" x2="-9.4" y2="600.6" stroke="#dcdcdc" stroke-width="0.9"/>
<line x1="246.1" y1="429.9" x2="285.3" y2="429.9" stroke="#7e7e7e" stroke-width="3.1"/><line x1="246.1" y1="429.9" x2="285.3" y2="429.9" stroke="#dcdcdc" stroke-width="0.9"/>
<line x1="422.9" y1="669" x2="403.2" y2="703.1" stroke="#7e7e7e" stroke-width="3.1"/><line x1="422.9" y1="669" x2="403.2" y2="703.1" stroke="#dcdcdc" stroke-width="0.9"/>
<line x1="128.2" y1="498.2" x2="167.5" y2="498.2" stroke="#7e7e7e" stroke-width="3.1"/><line x1="128.2" y1="498.2" x2="167.5" y2="498.2" stroke="#dcdcdc" stroke-width="0.9"/>
<line x1="363.9" y1="566.5" x2="344.3" y2="600.6" stroke="#7e7e7e" stroke-width="3.1"/><line x1="363.9" y1="566.5" x2="344.3" y2="600.6" stroke="#dcdcdc" stroke-width="0.9"/>
<line x1="-9.4" y1="600.6" x2="-48.7" y2="600.6" stroke="#7e7e7e" stroke-width="3.1"/><line x1="-9.4" y1="600.6" x2="-48.7" y2="600.6" stroke="#dcdcdc" stroke-width="0.9"/>
<line x1="363.9" y1="498.2" x2="403.2" y2="498.2" stroke="#7e7e7e" stroke-width="3.1"/><line x1="363.9" y1="498.2" x2="403.2" y2="498.2" stroke="#dcdcdc" stroke-width="0.9"/>
<line x1="128.2" y1="429.9" x2="108.5" y2="464" stroke="#7e7e7e" stroke-width="3.1"/><line x1="128.2" y1="429.9" x2="108.5" y2="464" stroke="#dcdcdc" stroke-width="0.9"/>
<line x1="128.2" y1="703.1" x2="167.5" y2="703.1" stroke="#7e7e7e" stroke-width="3.1"/><line x1="128.2" y1="703.1" x2="167.5" y2="703.1" stroke="#dcdcdc" stroke-width="0.9"/>
<line x1="363.9" y1="429.9" x2="344.3" y2="464" stroke="#7e7e7e" stroke-width="3.1"/><line x1="363.9" y1="429.9" x2="344.3" y2="464" stroke="#dcdcdc" stroke-width="0.9"/>
<line x1="462.2" y1="668.9" x2="481.9" y2="703.1" stroke="#7e7e7e" stroke-width="3.1"/><line x1="462.2" y1="668.9" x2="481.9" y2="703.1" stroke="#dcdcdc" stroke-width="0.9"/>
<line x1="49.6" y1="634.8" x2="69.2" y2="669" stroke="#7e7e7e" stroke-width="3.1"/><line x1="49.6" y1="634.8" x2="69.2" y2="669" stroke="#dcdcdc" stroke-width="0.9"/>
<line x1="108.5" y1="464" x2="128.2" y2="498.2" stroke="#7e7e7e" stroke-width="3.1"/><line x1="108.5" y1="464" x2="128.2" y2="498.2" stroke="#dcdcdc" stroke-width="0.9"/>
<line x1="462.2" y1="532.4" x2="481.9" y2="566.5" stroke="#7e7e7e" stroke-width="3.1"/><line x1="462.2" y1="532.4" x2="481.9" y2="566.5" stroke="#dcdcdc" stroke-width="0.9"/>
<line x1="246.1" y1="634.8" x2="285.3" y2="634.8" stroke="#7e7e7e" stroke-width="3.1"/><line x1="246.1" y1="634.8" x2="285.3" y2="634.8" stroke="#dcdcdc" stroke-width="0.9"/>
<line x1="363.9" y1="703.1" x2="403.2" y2="703.1" stroke="#7e7e7e" stroke-width="3.1"/><line x1="363.9" y1="703.1" x2="403.2" y2="703.1" stroke="#dcdcdc" stroke-width="0.9"/>
<line x1="-9.4" y1="600.6" x2="10.3" y2="634.8" stroke="#7e7e7e" stroke-width="3.1"/><line x1="-9.4" y1="600.6" x2="10.3" y2="634.8" stroke="#dcdcdc" stroke-width="0.9"/>
<line x1="-48.7" y1="600.6" x2="-68.3" y2="566.5" stroke="#7e7e7e" stroke-width="3.1"/><line x1="-48.7" y1="600.6" x2="-68.3" y2="566.5" stroke="#dcdcdc" stroke-width="0.9"/>
<line x1="246.1" y1="498.2" x2="285.3" y2="498.2" stroke="#7e7e7e" stroke-width="3.1"/><line x1="246.1" y1="498.2" x2="285.3" y2="498.2" stroke="#dcdcdc" stroke-width="0.9"/>
<line x1="344.3" y1="464" x2="363.9" y2="498.2" stroke="#7e7e7e" stroke-width="3.1"/><line x1="344.3" y1="464" x2="363.9" y2="498.2" stroke="#dcdcdc" stroke-width="0.9"/>
<line x1="363.9" y1="566.5" x2="403.2" y2="566.5" stroke="#7e7e7e" stroke-width="3.1"/><line x1="363.9" y1="566.5" x2="403.2" y2="566.5" stroke="#dcdcdc" stroke-width="0.9"/>
<line x1="-48.7" y1="532.4" x2="-68.3" y2="498.2" stroke="#7e7e7e" stroke-width="3.1"/><line x1="-48.7" y1="532.4" x2="-68.3" y2="498.2" stroke="#dcdcdc" stroke-width="0.9"/>
<line x1="246.1" y1="429.9" x2="226.4" y2="464" stroke="#7e7e7e" stroke-width="3.1"/><line x1="246.1" y1="429.9" x2="226.4" y2="464" stroke="#dcdcdc" stroke-width="0.9"/>
<line x1="128.2" y1="498.2" x2="108.5" y2="532.4" stroke="#7e7e7e" stroke-width="3.1"/><line x1="128.2" y1="498.2" x2="108.5" y2="532.4" stroke="#dcdcdc" stroke-width="0.9"/>
<line x1="344.3" y1="668.9" x2="363.9" y2="703.1" stroke="#7e7e7e" stroke-width="3.1"/><line x1="344.3" y1="668.9" x2="363.9" y2="703.1" stroke="#dcdcdc" stroke-width="0.9"/>
<line x1="363.9" y1="498.2" x2="344.3" y2="532.4" stroke="#7e7e7e" stroke-width="3.1"/><line x1="363.9" y1="498.2" x2="344.3" y2="532.4" stroke="#dcdcdc" stroke-width="0.9"/>
<line x1="344.3" y1="532.4" x2="363.9" y2="566.5" stroke="#7e7e7e" stroke-width="3.1"/><line x1="344.3" y1="532.4" x2="363.9" y2="566.5" stroke="#dcdcdc" stroke-width="0.9"/>
<line x1="128.2" y1="634.8" x2="167.5" y2="634.8" stroke="#7e7e7e" stroke-width="3.1"/><line x1="128.2" y1="634.8" x2="167.5" y2="634.8" stroke="#dcdcdc" stroke-width="0.9"/>
<line x1="226.4" y1="600.6" x2="236.2" y2="617.7" stroke="#2a2ee0" stroke-width="3.1"/><line x1="226.4" y1="600.6" x2="236.2" y2="617.7" stroke="#c8caff" stroke-width="0.9"/>
<line x1="236.2" y1="617.7" x2="246.1" y2="634.8" stroke="#7e7e7e" stroke-width="3.1"/><line x1="236.2" y1="617.7" x2="246.1" y2="634.8" stroke="#dcdcdc" stroke-width="0.9"/>
<line x1="246.1" y1="703.1" x2="285.3" y2="703.1" stroke="#7e7e7e" stroke-width="3.1"/><line x1="246.1" y1="703.1" x2="285.3" y2="703.1" stroke="#dcdcdc" stroke-width="0.9"/>
<line x1="462.2" y1="600.6" x2="481.9" y2="634.8" stroke="#7e7e7e" stroke-width="3.1"/><line x1="462.2" y1="600.6" x2="481.9" y2="634.8" stroke="#dcdcdc" stroke-width="0.9"/>
<line x1="226.4" y1="464" x2="246.1" y2="498.2" stroke="#7e7e7e" stroke-width="3.1"/><line x1="226.4" y1="464" x2="246.1" y2="498.2" stroke="#dcdcdc" stroke-width="0.9"/>
<line x1="481.9" y1="634.8" x2="462.2" y2="668.9" stroke="#7e7e7e" stroke-width="3.1"/><line x1="481.9" y1="634.8" x2="462.2" y2="668.9" stroke="#dcdcdc" stroke-width="0.9"/>
<line x1="246.1" y1="634.8" x2="226.4" y2="668.9" stroke="#7e7e7e" stroke-width="3.1"/><line x1="246.1" y1="634.8" x2="226.4" y2="668.9" stroke="#dcdcdc" stroke-width="0.9"/>
<line x1="462.2" y1="464" x2="481.9" y2="498.2" stroke="#7e7e7e" stroke-width="3.1"/><line x1="462.2" y1="464" x2="481.9" y2="498.2" stroke="#dcdcdc" stroke-width="0.9"/>
<line x1="-9.4" y1="668.9" x2="-48.7" y2="668.9" stroke="#7e7e7e" stroke-width="3.1"/><line x1="-9.4" y1="668.9" x2="-48.7" y2="668.9" stroke="#dcdcdc" stroke-width="0.9"/>
<line x1="363.9" y1="634.8" x2="403.2" y2="634.8" stroke="#7e7e7e" stroke-width="3.1"/><line x1="363.9" y1="634.8" x2="403.2" y2="634.8" stroke="#dcdcdc" stroke-width="0.9"/>
<line x1="422.9" y1="464.1" x2="462.2" y2="464" stroke="#7e7e7e" stroke-width="3.1"/><line x1="422.9" y1="464.1" x2="462.2" y2="464" stroke="#dcdcdc" stroke-width="0.9"/>
<line x1="-48.7" y1="737.2" x2="-68.3" y2="703.1" stroke="#7e7e7e" stroke-width="3.1"/><line x1="-48.7" y1="737.2" x2="-68.3" y2="703.1" stroke="#dcdcdc" stroke-width="0.9"/>
<line x1="226.4" y1="532.4" x2="236.2" y2="515.3" stroke="#2a2ee0" stroke-width="3.1"/><line x1="226.4" y1="532.4" x2="236.2" y2="515.3" stroke="#c8caff" stroke-width="0.9"/>
<line x1="236.2" y1="515.3" x2="246.1" y2="498.2" stroke="#7e7e7e" stroke-width="3.1"/><line x1="236.2" y1="515.3" x2="246.1" y2="498.2" stroke="#dcdcdc" stroke-width="0.9"/>
<line x1="-48.7" y1="600.6" x2="-68.3" y2="634.8" stroke="#7e7e7e" stroke-width="3.1"/><line x1="-48.7" y1="600.6" x2="-68.3" y2="634.8" stroke="#dcdcdc" stroke-width="0.9"/>
<line x1="-48.7" y1="668.9" x2="-68.3" y2="634.8" stroke="#7e7e7e" stroke-width="3.1"/><line x1="-48.7" y1="668.9" x2="-68.3" y2="634.8" stroke="#dcdcdc" stroke-width="0.9"/>
<line x1="-48.7" y1="532.4" x2="-68.3" y2="566.5" stroke="#7e7e7e" stroke-width="3.1"/><line x1="-48.7" y1="532.4" x2="-68.3" y2="566.5" stroke="#dcdcdc" stroke-width="0.9"/>
<line x1="108.5" y1="600.6" x2="128.2" y2="634.8" stroke="#7e7e7e" stroke-width="3.1"/><line x1="108.5" y1="600.6" x2="128.2" y2="634.8" stroke="#dcdcdc" stroke-width="0.9"/>
<line x1="344.3" y1="600.6" x2="363.9" y2="634.8" stroke="#7e7e7e" stroke-width="3.1"/><line x1="344.3" y1="600.6" x2="363.9" y2="634.8" stroke="#dcdcdc" stroke-width="0.9"/>
<line x1="-48.7" y1="464" x2="-68.3" y2="498.2" stroke="#7e7e7e" stroke-width="3.1"/><line x1="-48.7" y1="464" x2="-68.3" y2="498.2" stroke="#dcdcdc" stroke-width="0.9"/>
<line x1="305" y1="600.6" x2="324.6" y2="600.6" stroke="#2a2ee0" stroke-width="3.1"/><line x1="305" y1="600.6" x2="324.6" y2="600.6" stroke="#c8caff" stroke-width="0.9"/>
<line x1="324.6" y1="600.6" x2="344.3" y2="600.6" stroke="#7e7e7e" stroke-width="3.1"/><line x1="324.6" y1="600.6" x2="344.3" y2="600.6" stroke="#dcdcdc" stroke-width="0.9"/>
<line x1="-9.4" y1="668.9" x2="10.3" y2="703.1" stroke="#7e7e7e" stroke-width="3.1"/><line x1="-9.4" y1="668.9" x2="10.3" y2="703.1" stroke="#dcdcdc" stroke-width="0.9"/>
<line x1="128.2" y1="634.8" x2="108.5" y2="668.9" stroke="#7e7e7e" stroke-width="3.1"/><line x1="128.2" y1="634.8" x2="108.5" y2="668.9" stroke="#dcdcdc" stroke-width="0.9"/>
<line x1="305" y1="464.1" x2="344.3" y2="464" stroke="#7e7e7e" stroke-width="3.1"/><line x1="305" y1="464.1" x2="344.3" y2="464" stroke="#dcdcdc" stroke-width="0.9"/>
<line x1="69.2" y1="395.8" x2="49.6" y2="429.9" stroke="#7e7e7e" stroke-width="3.1"/><line x1="69.2" y1="395.8" x2="49.6" y2="429.9" stroke="#dcdcdc" stroke-width="0.9"/>
<line x1="481.9" y1="566.5" x2="462.2" y2="600.6" stroke="#7e7e7e" stroke-width="3.1"/><line x1="481.9" y1="566.5" x2="462.2" y2="600.6" stroke="#dcdcdc" stroke-width="0.9"/>
<line x1="363.9" y1="634.8" x2="344.3" y2="668.9" stroke="#7e7e7e" stroke-width="3.1"/><line x1="363.9" y1="634.8" x2="344.3" y2="668.9" stroke="#dcdcdc" stroke-width="0.9"/>
<line x1="422.9" y1="464.1" x2="403.2" y2="498.2" stroke="#7e7e7e" stroke-width="3.1"/><line x1="422.9" y1="464.1" x2="403.2" y2="498.2" stroke="#dcdcdc" stroke-width="0.9"/>
<line x1="108.5" y1="668.9" x2="128.2" y2="703.1" stroke="#7e7e7e" stroke-width="3.1"/><line x1="108.5" y1="668.9" x2="128.2" y2="703.1" stroke="#dcdcdc" stroke-width="0.9"/>
<line x1="167.5" y1="498.2" x2="187.1" y2="532.4" stroke="#7e7e7e" stroke-width="3.1"/><line x1="167.5" y1="498.2" x2="187.1" y2="532.4" stroke="#dcdcdc" stroke-width="0.9"/>
<line x1="-48.7" y1="668.9" x2="-68.3" y2="703.1" stroke="#7e7e7e" stroke-width="3.1"/><line x1="-48.7" y1="668.9" x2="-68.3" y2="703.1" stroke="#dcdcdc" stroke-width="0.9"/>
<line x1="69.2" y1="532.4" x2="108.5" y2="532.4" stroke="#7e7e7e" stroke-width="3.1"/><line x1="69.2" y1="532.4" x2="108.5" y2="532.4" stroke="#dcdcdc" stroke-width="0.9"/>
<line x1="305" y1="600.6" x2="295.2" y2="617.7" stroke="#2a2ee0" stroke-width="3.1"/><line x1="305" y1="600.6" x2="295.2" y2="617.7" stroke="#c8caff" stroke-width="0.9"/>
<line x1="295.2" y1="617.7" x2="285.3" y2="634.8" stroke="#7e7e7e" stroke-width="3.1"/><line x1="295.2" y1="617.7" x2="285.3" y2="634.8" stroke="#dcdcdc" stroke-width="0.9"/>
<line x1="305" y1="532.4" x2="324.6" y2="532.4" stroke="#2a2ee0" stroke-width="3.1"/><line x1="305" y1="532.4" x2="324.6" y2="532.4" stroke="#c8caff" stroke-width="0.9"/>
<line x1="324.6" y1="532.4" x2="344.3" y2="532.4" stroke="#7e7e7e" stroke-width="3.1"/><line x1="324.6" y1="532.4" x2="344.3" y2="532.4" stroke="#dcdcdc" stroke-width="0.9"/>
<line x1="422.9" y1="600.6" x2="462.2" y2="600.6" stroke="#7e7e7e" stroke-width="3.1"/><line x1="422.9" y1="600.6" x2="462.2" y2="600.6" stroke="#dcdcdc" stroke-width="0.9"/>
<line x1="305" y1="464.1" x2="285.3" y2="498.2" stroke="#7e7e7e" stroke-width="3.1"/><line x1="305" y1="464.1" x2="285.3" y2="498.2" stroke="#dcdcdc" stroke-width="0.9"/>
<line x1="187.1" y1="464.1" x2="226.4" y2="464" stroke="#7e7e7e" stroke-width="3.1"/><line x1="187.1" y1="464.1" x2="226.4" y2="464" stroke="#dcdcdc" stroke-width="0.9"/>
<line x1="226.4" y1="668.9" x2="246.1" y2="703.1" stroke="#7e7e7e" stroke-width="3.1"/><line x1="226.4" y1="668.9" x2="246.1" y2="703.1" stroke="#dcdcdc" stroke-width="0.9"/>
<line x1="187.1" y1="395.8" x2="167.5" y2="429.9" stroke="#7e7e7e" stroke-width="3.1"/><line x1="187.1" y1="395.8" x2="167.5" y2="429.9" stroke="#dcdcdc" stroke-width="0.9"/>
<line x1="403.2" y1="566.5" x2="422.9" y2="600.6" stroke="#7e7e7e" stroke-width="3.1"/><line x1="403.2" y1="566.5" x2="422.9" y2="600.6" stroke="#dcdcdc" stroke-width="0.9"/>
<line x1="187.1" y1="669" x2="226.4" y2="668.9" stroke="#7e7e7e" stroke-width="3.1"/><line x1="187.1" y1="669" x2="226.4" y2="668.9" stroke="#dcdcdc" stroke-width="0.9"/>
<line x1="422.9" y1="395.8" x2="403.2" y2="429.9" stroke="#7e7e7e" stroke-width="3.1"/><line x1="422.9" y1="395.8" x2="403.2" y2="429.9" stroke="#dcdcdc" stroke-width="0.9"/>
<line x1="403.2" y1="429.9" x2="422.9" y2="464.1" stroke="#7e7e7e" stroke-width="3.1"/><line x1="403.2" y1="429.9" x2="422.9" y2="464.1" stroke="#dcdcdc" stroke-width="0.9"/>
<line x1="167.5" y1="429.9" x2="187.1" y2="464.1" stroke="#7e7e7e" stroke-width="3.1"/><line x1="167.5" y1="429.9" x2="187.1" y2="464.1" stroke="#dcdcdc" stroke-width="0.9"/>
<line x1="226.4" y1="532.4" x2="206.8" y2="532.4" stroke="#2a2ee0" stroke-width="3.1"/><line x1="226.4" y1="532.4" x2="206.8" y2="532.4" stroke="#c8caff" stroke-width="0.9"/>
<line x1="206.8" y1="532.4" x2="187.1" y2="532.4" stroke="#7e7e7e" stroke-width="3.1"/><line x1="206.8" y1="532.4" x2="187.1" y2="532.4" stroke="#dcdcdc" stroke-width="0.9"/>
<line x1="305" y1="532.4" x2="295.2" y2="515.3" stroke="#2a2ee0" stroke-width="3.1"/><line x1="305" y1="532.4" x2="295.2" y2="515.3" stroke="#c8caff" stroke-width="0.9"/>
<line x1="295.2" y1="515.3" x2="285.3" y2="498.2" stroke="#7e7e7e" stroke-width="3.1"/><line x1="295.2" y1="515.3" x2="285.3" y2="498.2" stroke="#dcdcdc" stroke-width="0.9"/>
<line x1="69.2" y1="600.6" x2="108.5" y2="600.6" stroke="#7e7e7e" stroke-width="3.1"/><line x1="69.2" y1="600.6" x2="108.5" y2="600.6" stroke="#dcdcdc" stroke-width="0.9"/>
<line x1="69.2" y1="532.4" x2="49.6" y2="566.5" stroke="#7e7e7e" stroke-width="3.1"/><line x1="69.2" y1="532.4" x2="49.6" y2="566.5" stroke="#dcdcdc" stroke-width="0.9"/>
<line x1="69.2" y1="464.1" x2="108.5" y2="464" stroke="#7e7e7e" stroke-width="3.1"/><line x1="69.2" y1="464.1" x2="108.5" y2="464" stroke="#dcdcdc" stroke-width="0.9"/>
<line x1="10.3" y1="634.8" x2="49.6" y2="634.8" stroke="#7e7e7e" stroke-width="3.1"/><line x1="10.3" y1="634.8" x2="49.6" y2="634.8" stroke="#dcdcdc" stroke-width="0.9"/>
<line x1="422.9" y1="600.6" x2="403.2" y2="634.8" stroke="#7e7e7e" stroke-width="3.1"/><line x1="422.9" y1="600.6" x2="403.2" y2="634.8" stroke="#dcdcdc" stroke-width="0.9"/>
<line x1="422.9" y1="532.4" x2="462.2" y2="532.4" stroke="#7e7e7e" stroke-width="3.1"/><line x1="422.9" y1="532.4" x2="462.2" y2="532.4" stroke="#dcdcdc" stroke-width="0.9"/>
<line x1="49.6" y1="566.5" x2="69.2" y2="600.6" stroke="#7e7e7e" stroke-width="3.1"/><line x1="49.6" y1="566.5" x2="69.2" y2="600.6" stroke="#dcdcdc" stroke-width="0.9"/>
<line x1="69.2" y1="669" x2="108.5" y2="668.9" stroke="#7e7e7e" stroke-width="3.1"/><line x1="69.2" y1="669" x2="108.5" y2="668.9" stroke="#dcdcdc" stroke-width="0.9"/>
<line x1="305" y1="395.8" x2="285.3" y2="429.9" stroke="#7e7e7e" stroke-width="3.1"/><line x1="305" y1="395.8" x2="285.3" y2="429.9" stroke="#dcdcdc" stroke-width="0.9"/>
<line x1="167.5" y1="634.8" x2="187.1" y2="669" stroke="#7e7e7e" stroke-width="3.1"/><line x1="167.5" y1="634.8" x2="187.1" y2="669" stroke="#dcdcdc" stroke-width="0.9"/>
<line x1="187.1" y1="464.1" x2="167.5" y2="498.2" stroke="#7e7e7e" stroke-width="3.1"/><line x1="187.1" y1="464.1" x2="167.5" y2="498.2" stroke="#dcdcdc" stroke-width="0.9"/>
<line x1="403.2" y1="634.8" x2="422.9" y2="669" stroke="#7e7e7e" stroke-width="3.1"/><line x1="403.2" y1="634.8" x2="422.9" y2="669" stroke="#dcdcdc" stroke-width="0.9"/>
<line x1="49.6" y1="429.9" x2="69.2" y2="464.1" stroke="#7e7e7e" stroke-width="3.1"/><line x1="49.6" y1="429.9" x2="69.2" y2="464.1" stroke="#dcdcdc" stroke-width="0.9"/>
<line x1="10.3" y1="429.9" x2="49.6" y2="429.9" stroke="#7e7e7e" stroke-width="3.1"/><line x1="10.3" y1="429.9" x2="49.6" y2="429.9" stroke="#dcdcdc" stroke-width="0.9"/>
<line x1="187.1" y1="669" x2="167.5" y2="703.1" stroke="#7e7e7e" stroke-width="3.1"/><line x1="187.1" y1="669" x2="167.5" y2="703.1" stroke="#dcdcdc" stroke-width="0.9"/>
<line x1="403.2" y1="498.2" x2="422.9" y2="532.4" stroke="#7e7e7e" stroke-width="3.1"/><line x1="403.2" y1="498.2" x2="422.9" y2="532.4" stroke="#dcdcdc" stroke-width="0.9"/>
<line x1="226.4" y1="600.6" x2="206.8" y2="600.6" stroke="#2a2ee0" stroke-width="3.1"/><line x1="226.4" y1="600.6" x2="206.8" y2="600.6" stroke="#c8caff" stroke-width="0.9"/>
<line x1="206.8" y1="600.6" x2="187.1" y2="600.6" stroke="#7e7e7e" stroke-width="3.1"/><line x1="206.8" y1="600.6" x2="187.1" y2="600.6" stroke="#dcdcdc" stroke-width="0.9"/>
<line x1="305" y1="669" x2="344.3" y2="668.9" stroke="#7e7e7e" stroke-width="3.1"/><line x1="305" y1="669" x2="344.3" y2="668.9" stroke="#dcdcdc" stroke-width="0.9"/>
<line x1="10.3" y1="498.2" x2="-9.4" y2="532.4" stroke="#7e7e7e" stroke-width="3.1"/><line x1="10.3" y1="498.2" x2="-9.4" y2="532.4" stroke="#dcdcdc" stroke-width="0.9"/>
<line x1="10.3" y1="703.1" x2="49.6" y2="703.1" stroke="#7e7e7e" stroke-width="3.1"/><line x1="10.3" y1="703.1" x2="49.6" y2="703.1" stroke="#dcdcdc" stroke-width="0.9"/>
<line x1="10.3" y1="566.5" x2="49.6" y2="566.5" stroke="#7e7e7e" stroke-width="3.1"/><line x1="10.3" y1="566.5" x2="49.6" y2="566.5" stroke="#dcdcdc" stroke-width="0.9"/>
<line x1="69.2" y1="600.6" x2="49.6" y2="634.8" stroke="#7e7e7e" stroke-width="3.1"/><line x1="69.2" y1="600.6" x2="49.6" y2="634.8" stroke="#dcdcdc" stroke-width="0.9"/>
<line x1="285.3" y1="429.9" x2="305" y2="464.1" stroke="#7e7e7e" stroke-width="3.1"/><line x1="285.3" y1="429.9" x2="305" y2="464.1" stroke="#dcdcdc" stroke-width="0.9"/>
<line x1="10.3" y1="429.9" x2="-9.4" y2="464" stroke="#7e7e7e" stroke-width="3.1"/><line x1="10.3" y1="429.9" x2="-9.4" y2="464" stroke="#dcdcdc" stroke-width="0.9"/>
<line x1="481.9" y1="498.2" x2="462.2" y2="532.4" stroke="#7e7e7e" stroke-width="3.1"/><line x1="481.9" y1="498.2" x2="462.2" y2="532.4" stroke="#dcdcdc" stroke-width="0.9"/>
<line x1="69.2" y1="464.1" x2="49.6" y2="498.2" stroke="#7e7e7e" stroke-width="3.1"/><line x1="69.2" y1="464.1" x2="49.6" y2="498.2" stroke="#dcdcdc" stroke-width="0.9"/>
<line x1="285.3" y1="634.8" x2="305" y2="669" stroke="#7e7e7e" stroke-width="3.1"/><line x1="285.3" y1="634.8" x2="305" y2="669" stroke="#dcdcdc" stroke-width="0.9"/>
<line x1="167.5" y1="703.1" x2="187.1" y2="737.2" stroke="#7e7e7e" stroke-width="3.1"/><line x1="167.5" y1="703.1" x2="187.1" y2="737.2" stroke="#dcdcdc" stroke-width="0.9"/>
<line x1="422.9" y1="532.4" x2="403.2" y2="566.5" stroke="#7e7e7e" stroke-width="3.1"/><line x1="422.9" y1="532.4" x2="403.2" y2="566.5" stroke="#dcdcdc" stroke-width="0.9"/>
<line x1="69.2" y1="669" x2="49.6" y2="703.1" stroke="#7e7e7e" stroke-width="3.1"/><line x1="69.2" y1="669" x2="49.6" y2="703.1" stroke="#dcdcdc" stroke-width="0.9"/>
<line x1="403.2" y1="703.1" x2="422.9" y2="737.2" stroke="#7e7e7e" stroke-width="3.1"/><line x1="403.2" y1="703.1" x2="422.9" y2="737.2" stroke="#dcdcdc" stroke-width="0.9"/>
<line x1="49.6" y1="498.2" x2="69.2" y2="532.4" stroke="#7e7e7e" stroke-width="3.1"/><line x1="49.6" y1="498.2" x2="69.2" y2="532.4" stroke="#dcdcdc" stroke-width="0.9"/>
<line x1="-9.4" y1="532.4" x2="-48.7" y2="532.4" stroke="#7e7e7e" stroke-width="3.1"/><line x1="-9.4" y1="532.4" x2="-48.7" y2="532.4" stroke="#dcdcdc" stroke-width="0.9"/>
<line x1="422.9" y1="669" x2="462.2" y2="668.9" stroke="#7e7e7e" stroke-width="3.1"/><line x1="422.9" y1="669" x2="462.2" y2="668.9" stroke="#dcdcdc" stroke-width="0.9"/>
<line x1="-9.4" y1="464" x2="-48.7" y2="464" stroke="#7e7e7e" stroke-width="3.1"/><line x1="-9.4" y1="464" x2="-48.7" y2="464" stroke="#dcdcdc" stroke-width="0.9"/>
<line x1="148.8" y1="566.6" x2="164.9" y2="552.2" stroke="#f09a10" stroke-width="3.1"/><line x1="148.8" y1="566.6" x2="164.9" y2="552.2" stroke="#ffe0a0" stroke-width="0.9"/>
<line x1="164.9" y1="552.2" x2="187.1" y2="532.4" stroke="#7e7e7e" stroke-width="3.1"/><line x1="164.9" y1="552.2" x2="187.1" y2="532.4" stroke="#dcdcdc" stroke-width="0.9"/>
<line x1="148.8" y1="566.6" x2="131.9" y2="552.2" stroke="#f09a10" stroke-width="3.1"/><line x1="148.8" y1="566.6" x2="131.9" y2="552.2" stroke="#ffe0a0" stroke-width="0.9"/>
<line x1="131.9" y1="552.2" x2="108.5" y2="532.4" stroke="#7e7e7e" stroke-width="3.1"/><line x1="131.9" y1="552.2" x2="108.5" y2="532.4" stroke="#dcdcdc" stroke-width="0.9"/>
<line x1="148.8" y1="566.6" x2="164.9" y2="580.9" stroke="#f09a10" stroke-width="3.1"/><line x1="148.8" y1="566.6" x2="164.9" y2="580.9" stroke="#ffe0a0" stroke-width="0.9"/>
<line x1="164.9" y1="580.9" x2="187.1" y2="600.6" stroke="#7e7e7e" stroke-width="3.1"/><line x1="164.9" y1="580.9" x2="187.1" y2="600.6" stroke="#dcdcdc" stroke-width="0.9"/>
<line x1="148.8" y1="566.6" x2="131.9" y2="580.9" stroke="#f09a10" stroke-width="3.1"/><line x1="148.8" y1="566.6" x2="131.9" y2="580.9" stroke="#ffe0a0" stroke-width="0.9"/>
<line x1="131.9" y1="580.9" x2="108.5" y2="600.6" stroke="#7e7e7e" stroke-width="3.1"/><line x1="131.9" y1="580.9" x2="108.5" y2="600.6" stroke="#dcdcdc" stroke-width="0.9"/>
<line x1="264.1" y1="566.8" x2="248.3" y2="552.3" stroke="#f0409a" stroke-width="3.1"/><line x1="264.1" y1="566.8" x2="248.3" y2="552.3" stroke="#ffc8e4" stroke-width="0.9"/>
<line x1="248.3" y1="552.3" x2="226.4" y2="532.4" stroke="#2a2ee0" stroke-width="3.1"/><line x1="248.3" y1="552.3" x2="226.4" y2="532.4" stroke="#c8caff" stroke-width="0.9"/>
<line x1="264.1" y1="566.8" x2="281.3" y2="581" stroke="#f0409a" stroke-width="3.1"/><line x1="264.1" y1="566.8" x2="281.3" y2="581" stroke="#ffc8e4" stroke-width="0.9"/>
<line x1="281.3" y1="581" x2="305" y2="600.6" stroke="#2a2ee0" stroke-width="3.1"/><line x1="281.3" y1="581" x2="305" y2="600.6" stroke="#c8caff" stroke-width="0.9"/>
<line x1="264.1" y1="566.8" x2="248.3" y2="581" stroke="#f0409a" stroke-width="3.1"/><line x1="264.1" y1="566.8" x2="248.3" y2="581" stroke="#ffc8e4" stroke-width="0.9"/>
<line x1="248.3" y1="581" x2="226.4" y2="600.6" stroke="#2a2ee0" stroke-width="3.1"/><line x1="248.3" y1="581" x2="226.4" y2="600.6" stroke="#c8caff" stroke-width="0.9"/>
<line x1="264.1" y1="566.8" x2="281.3" y2="552.3" stroke="#f0409a" stroke-width="3.1"/><line x1="264.1" y1="566.8" x2="281.3" y2="552.3" stroke="#ffc8e4" stroke-width="0.9"/>
<line x1="281.3" y1="552.3" x2="305" y2="532.4" stroke="#2a2ee0" stroke-width="3.1"/><line x1="281.3" y1="552.3" x2="305" y2="532.4" stroke="#c8caff" stroke-width="0.9"/>
<circle cx="264.1" cy="566.8" r="27.5" fill="url(#dB)" stroke="#2f8fd6" stroke-width="1" opacity="0.9"/>
<circle cx="10.3" cy="429.9" r="7.8" fill="url(#dC)"/>
<circle cx="10.3" cy="498.2" r="7.8" fill="url(#dC)"/>
<circle cx="10.3" cy="566.5" r="7.8" fill="url(#dC)"/>
<circle cx="10.3" cy="634.8" r="7.8" fill="url(#dC)"/>
<circle cx="10.3" cy="703.1" r="7.8" fill="url(#dC)"/>
<circle cx="49.6" cy="429.9" r="7.8" fill="url(#dC)"/>
<circle cx="69.2" cy="464.1" r="7.8" fill="url(#dC)"/>
<circle cx="49.6" cy="498.2" r="7.8" fill="url(#dC)"/>
<circle cx="69.2" cy="532.4" r="7.8" fill="url(#dC)"/>
<circle cx="49.6" cy="566.5" r="7.8" fill="url(#dC)"/>
<circle cx="69.2" cy="600.6" r="7.8" fill="url(#dC)"/>
<circle cx="49.6" cy="634.8" r="7.8" fill="url(#dC)"/>
<circle cx="69.2" cy="669" r="7.8" fill="url(#dC)"/>
<circle cx="49.6" cy="703.1" r="7.8" fill="url(#dC)"/>
<circle cx="128.2" cy="429.9" r="7.8" fill="url(#dC)"/>
<circle cx="108.5" cy="464" r="7.8" fill="url(#dC)"/>
<circle cx="128.2" cy="498.2" r="7.8" fill="url(#dC)"/>
<circle cx="108.5" cy="532.4" r="7.8" fill="url(#dC)"/>
<circle cx="108.5" cy="600.6" r="7.8" fill="url(#dC)"/>
<circle cx="128.2" cy="634.8" r="7.8" fill="url(#dC)"/>
<circle cx="108.5" cy="668.9" r="7.8" fill="url(#dC)"/>
<circle cx="128.2" cy="703.1" r="7.8" fill="url(#dC)"/>
<circle cx="167.5" cy="429.9" r="7.8" fill="url(#dC)"/>
<circle cx="187.1" cy="464.1" r="7.8" fill="url(#dC)"/>
<circle cx="167.5" cy="498.2" r="7.8" fill="url(#dC)"/>
<circle cx="187.1" cy="532.4" r="7.8" fill="url(#dC)"/>
<circle cx="187.1" cy="600.6" r="7.8" fill="url(#dC)"/>
<circle cx="167.5" cy="634.8" r="7.8" fill="url(#dC)"/>
<circle cx="187.1" cy="669" r="7.8" fill="url(#dC)"/>
<circle cx="167.5" cy="703.1" r="7.8" fill="url(#dC)"/>
<circle cx="246.1" cy="429.9" r="7.8" fill="url(#dC)"/>
<circle cx="226.4" cy="464" r="7.8" fill="url(#dC)"/>
<circle cx="246.1" cy="498.2" r="7.8" fill="url(#dC)"/>
<circle cx="246.1" cy="634.8" r="7.8" fill="url(#dC)"/>
<circle cx="226.4" cy="668.9" r="7.8" fill="url(#dC)"/>
<circle cx="246.1" cy="703.1" r="7.8" fill="url(#dC)"/>
<circle cx="285.3" cy="429.9" r="7.8" fill="url(#dC)"/>
<circle cx="305" cy="464.1" r="7.8" fill="url(#dC)"/>
<circle cx="285.3" cy="498.2" r="7.8" fill="url(#dC)"/>
<circle cx="285.3" cy="634.8" r="7.8" fill="url(#dC)"/>
<circle cx="305" cy="669" r="7.8" fill="url(#dC)"/>
<circle cx="285.3" cy="703.1" r="7.8" fill="url(#dC)"/>
<circle cx="363.9" cy="429.9" r="7.8" fill="url(#dC)"/>
<circle cx="344.3" cy="464" r="7.8" fill="url(#dC)"/>
<circle cx="363.9" cy="498.2" r="7.8" fill="url(#dC)"/>
<circle cx="344.3" cy="532.4" r="7.8" fill="url(#dC)"/>
<circle cx="363.9" cy="566.5" r="7.8" fill="url(#dC)"/>
<circle cx="344.3" cy="600.6" r="7.8" fill="url(#dC)"/>
<circle cx="363.9" cy="634.8" r="7.8" fill="url(#dC)"/>
<circle cx="344.3" cy="668.9" r="7.8" fill="url(#dC)"/>
<circle cx="363.9" cy="703.1" r="7.8" fill="url(#dC)"/>
<circle cx="403.2" cy="429.9" r="7.8" fill="url(#dC)"/>
<circle cx="403.2" cy="498.2" r="7.8" fill="url(#dC)"/>
<circle cx="403.2" cy="566.5" r="7.8" fill="url(#dC)"/>
<circle cx="403.2" cy="634.8" r="7.8" fill="url(#dC)"/>
<circle cx="403.2" cy="703.1" r="7.8" fill="url(#dC)"/>
<ellipse cx="124.4" cy="544.5" rx="23" ry="14.5" transform="rotate(-22 124.4 544.5)" fill="url(#dG)" stroke="#4cae22" stroke-width="1.2" opacity="0.88"/>
<ellipse cx="176.2" cy="545.5" rx="22" ry="14" transform="rotate(22 176.2 545.5)" fill="url(#dG)" stroke="#4cae22" stroke-width="1.2" opacity="0.88"/>
<ellipse cx="116.5" cy="513.2" rx="21.5" ry="11.5" transform="rotate(-24 116.5 513.2)" fill="url(#dG)" stroke="#4cae22" stroke-width="1.2" opacity="0.88"/>
<ellipse cx="172.2" cy="510.7" rx="22" ry="10.5" transform="rotate(14 172.2 510.7)" fill="url(#dG)" stroke="#4cae22" stroke-width="1.2" opacity="0.88"/>
<ellipse cx="117.8" cy="478.5" rx="5.5" ry="12" transform="rotate(-30 117.8 478.5)" fill="url(#dG)" stroke="#4cae22" stroke-width="1.2" opacity="0.88"/>
<ellipse cx="180.3" cy="473.5" rx="5" ry="8" transform="rotate(30 180.3 473.5)" fill="url(#dG)" stroke="#4cae22" stroke-width="1.2" opacity="0.88"/>
<ellipse cx="181" cy="474" rx="4" ry="7" transform="rotate(30 181 474)" fill="url(#dG)" stroke="#4cae22" stroke-width="1.2" opacity="0.88"/>
<ellipse cx="53.8" cy="508.5" rx="3.6" ry="5.5" transform="rotate(-25 53.8 508.5)" fill="url(#dG)" stroke="#4cae22" stroke-width="1.2" opacity="0.88"/>
<ellipse cx="113.3" cy="529.2" rx="22" ry="7.5" transform="rotate(-27 113.3 529.2)" fill="url(#dB)" stroke="#2a82cc" stroke-width="1.2" opacity="0.88"/>
<ellipse cx="184.4" cy="526.7" rx="25" ry="6.8" transform="rotate(20 184.4 526.7)" fill="url(#dB)" stroke="#2a82cc" stroke-width="1.2" opacity="0.88"/>
<ellipse cx="207.2" cy="518.5" rx="12.5" ry="17" transform="rotate(22 207.2 518.5)" fill="url(#dB)" stroke="#2a82cc" stroke-width="1.2" opacity="0.88"/>
<ellipse cx="129.3" cy="494.7" rx="8" ry="2.4" transform="rotate(-5 129.3 494.7)" fill="url(#dB)" stroke="#2a82cc" stroke-width="1.2" opacity="0.88"/>
<ellipse cx="169.8" cy="494.5" rx="4.6" ry="2.8" transform="rotate(-10 169.8 494.5)" fill="url(#dB)" stroke="#2a82cc" stroke-width="1.2" opacity="0.88"/>
<ellipse cx="124.4" cy="588.9" rx="23" ry="14.5" transform="rotate(22 124.4 588.9)" fill="url(#dG)" stroke="#4cae22" stroke-width="1.2" opacity="0.88"/>
<ellipse cx="176.2" cy="587.9" rx="22" ry="14" transform="rotate(-22 176.2 587.9)" fill="url(#dG)" stroke="#4cae22" stroke-width="1.2" opacity="0.88"/>
<ellipse cx="116.5" cy="620.2" rx="21.5" ry="11.5" transform="rotate(24 116.5 620.2)" fill="url(#dG)" stroke="#4cae22" stroke-width="1.2" opacity="0.88"/>
<ellipse cx="172.2" cy="622.7" rx="22" ry="10.5" transform="rotate(-14 172.2 622.7)" fill="url(#dG)" stroke="#4cae22" stroke-width="1.2" opacity="0.88"/>
<ellipse cx="117.8" cy="654.9" rx="5.5" ry="12" transform="rotate(30 117.8 654.9)" fill="url(#dG)" stroke="#4cae22" stroke-width="1.2" opacity="0.88"/>
<ellipse cx="180.3" cy="659.9" rx="5" ry="8" transform="rotate(-30 180.3 659.9)" fill="url(#dG)" stroke="#4cae22" stroke-width="1.2" opacity="0.88"/>
<ellipse cx="181" cy="659.4" rx="4" ry="7" transform="rotate(-30 181 659.4)" fill="url(#dG)" stroke="#4cae22" stroke-width="1.2" opacity="0.88"/>
<ellipse cx="53.8" cy="624.9" rx="3.6" ry="5.5" transform="rotate(25 53.8 624.9)" fill="url(#dG)" stroke="#4cae22" stroke-width="1.2" opacity="0.88"/>
<ellipse cx="113.3" cy="604.2" rx="22" ry="7.5" transform="rotate(27 113.3 604.2)" fill="url(#dB)" stroke="#2a82cc" stroke-width="1.2" opacity="0.88"/>
<ellipse cx="184.4" cy="606.7" rx="25" ry="6.8" transform="rotate(-20 184.4 606.7)" fill="url(#dB)" stroke="#2a82cc" stroke-width="1.2" opacity="0.88"/>
<ellipse cx="207.2" cy="614.9" rx="12.5" ry="17" transform="rotate(-22 207.2 614.9)" fill="url(#dB)" stroke="#2a82cc" stroke-width="1.2" opacity="0.88"/>
<ellipse cx="129.3" cy="638.7" rx="8" ry="2.4" transform="rotate(5 129.3 638.7)" fill="url(#dB)" stroke="#2a82cc" stroke-width="1.2" opacity="0.88"/>
<ellipse cx="169.8" cy="638.9" rx="4.6" ry="2.8" transform="rotate(10 169.8 638.9)" fill="url(#dB)" stroke="#2a82cc" stroke-width="1.2" opacity="0.88"/>
<ellipse cx="103.4" cy="566.6" rx="6" ry="4.6" fill="url(#dB)" stroke="#2a82cc" stroke-width="1.2" opacity="0.88"/>
<path d="M193.7 572.6 Q189.8 567 193.7 561.6 Q197.6 556.3 200 550.5 Q202.5 544.8 211.9 542.3 Q221.4 539.9 227.2 543.6 Q232.9 547.3 229.6 553.4 Q226.3 559.6 232.1 563.3 Q237.8 567 232.1 571.1 Q226.3 575.2 229.6 581.1 Q232.9 587 227.2 591 Q221.4 594.9 211.9 592.5 Q202.5 590 200 584.1 Q197.6 578.2 193.7 572.6Z" fill="url(#dB)" stroke="#2f8fd6" stroke-width="1" opacity="0.85"/>
<path d="M230.8 549.7 Q230.4 547.3 231.6 543.2 Q232.9 539 237.8 536.6 Q242.7 534.1 253.4 533.7 Q264.1 533.3 274 533.7 Q283.8 534.1 288.4 536.6 Q292.9 539 293.5 544 Q294 548.9 291.4 551.4 Q288.8 553.8 284.7 550.6 Q280.6 547.3 272.3 545.8 Q264.1 544.3 255.9 545.8 Q247.7 547.3 243.2 550.6 Q238.6 553.8 234.9 553 Q231.2 552.2 230.8 549.7Z" fill="url(#dG)" stroke="#5fbf2e" stroke-width="1" opacity="0.88"/>
<path d="M230.8 583.7 Q230.4 586.1 231.6 590.2 Q232.9 594.4 237.8 596.8 Q242.7 599.3 253.4 599.7 Q264.1 600.1 274 599.7 Q283.8 599.3 288.4 596.8 Q292.9 594.4 293.5 589.4 Q294 584.5 291.4 582 Q288.8 579.6 284.7 582.8 Q280.6 586.1 272.3 587.6 Q264.1 589.1 255.9 587.6 Q247.7 586.1 243.2 582.8 Q238.6 579.6 234.9 580.4 Q231.2 581.2 230.8 583.7Z" fill="url(#dG)" stroke="#5fbf2e" stroke-width="1" opacity="0.88"/>
<ellipse cx="244.4" cy="497.3" rx="5.6" ry="8.6" fill="url(#dG)" stroke="#4cae22" stroke-width="1.2" opacity="0.75"/>
<ellipse cx="283.8" cy="496.3" rx="9" ry="6.4" transform="rotate(28 283.8 496.3)" fill="url(#dG)" stroke="#4cae22" stroke-width="1.2" opacity="0.75"/>
<ellipse cx="341.6" cy="531.5" rx="6.8" ry="10.4" fill="url(#dG)" stroke="#4cae22" stroke-width="1.2" opacity="0.75"/>
<ellipse cx="304.6" cy="530.2" rx="13.4" ry="9.6" transform="rotate(22 304.6 530.2)" fill="url(#dG)" stroke="#4cae22" stroke-width="1.2" opacity="0.6"/>
<polygon points="214,534.9 233.7,536.1 246.4,502.9 238.1,507.5" fill="#93dc58" stroke="#5fbf2e" stroke-width="1.2" stroke-linejoin="round" opacity="0.7"/>
<ellipse cx="290.5" cy="528.5" rx="8.5" ry="6.6" transform="rotate(20 290.5 528.5)" fill="url(#dB)" stroke="#2a82cc" stroke-width="1.2" opacity="0.88"/>
<ellipse cx="307" cy="544.5" rx="12.5" ry="10.5" transform="rotate(35 307 544.5)" fill="url(#dB)" stroke="#2a82cc" stroke-width="1.2" opacity="0.88"/>
<ellipse cx="240.5" cy="529.2" rx="5" ry="6.6" transform="rotate(20 240.5 529.2)" fill="url(#dB)" stroke="#2a82cc" stroke-width="1.2" opacity="0.88"/>
<path d="M291.5 506.5 C306 503.5 326 511 333.3 535.5" fill="none" stroke="#2f8fd6" stroke-width="14.5" stroke-linecap="round" opacity="0.88"/>
<path d="M291.5 506.5 C306 503.5 326 511 333.3 535.5" fill="none" stroke="#6cb8ec" stroke-width="12.5" stroke-linecap="round" opacity="0.95"/>
<path d="M291.5 506.5 C306 503.5 326 511 333.3 535.5" fill="none" stroke="#9ad0f4" stroke-width="5" stroke-linecap="round" opacity="0.8"/>
<ellipse cx="257.5" cy="492.2" rx="5" ry="3.4" transform="rotate(-10 257.5 492.2)" fill="url(#dB)" stroke="#2a82cc" stroke-width="1.2" opacity="0.8"/>
<ellipse cx="276.4" cy="488.1" rx="4" ry="4" fill="url(#dB)" stroke="#2a82cc" stroke-width="1.2" opacity="0.8"/>
<ellipse cx="358.6" cy="509.8" rx="4.6" ry="7" transform="rotate(15 358.6 509.8)" fill="url(#dB)" stroke="#2a82cc" stroke-width="1.2" opacity="0.8"/>
<ellipse cx="357.8" cy="556" rx="5" ry="2.8" fill="url(#dB)" stroke="#2a82cc" stroke-width="1.2" opacity="0.8"/>
<ellipse cx="343.5" cy="450.5" rx="2.8" ry="2.2" fill="url(#dB)" stroke="#2a82cc" stroke-width="1.2" opacity="0.8"/>
<ellipse cx="244.4" cy="636.1" rx="5.6" ry="8.6" fill="url(#dG)" stroke="#4cae22" stroke-width="1.2" opacity="0.75"/>
<ellipse cx="283.8" cy="637.1" rx="9" ry="6.4" transform="rotate(-28 283.8 637.1)" fill="url(#dG)" stroke="#4cae22" stroke-width="1.2" opacity="0.75"/>
<ellipse cx="341.6" cy="601.9" rx="6.8" ry="10.4" fill="url(#dG)" stroke="#4cae22" stroke-width="1.2" opacity="0.75"/>
<ellipse cx="304.6" cy="603.2" rx="13.4" ry="9.6" transform="rotate(-22 304.6 603.2)" fill="url(#dG)" stroke="#4cae22" stroke-width="1.2" opacity="0.6"/>
<polygon points="214,598.5 233.7,597.3 246.4,630.5 238.1,625.9" fill="#93dc58" stroke="#5fbf2e" stroke-width="1.2" stroke-linejoin="round" opacity="0.7"/>
<ellipse cx="290.5" cy="604.9" rx="8.5" ry="6.6" transform="rotate(-20 290.5 604.9)" fill="url(#dB)" stroke="#2a82cc" stroke-width="1.2" opacity="0.88"/>
<ellipse cx="307" cy="588.9" rx="12.5" ry="10.5" transform="rotate(-35 307 588.9)" fill="url(#dB)" stroke="#2a82cc" stroke-width="1.2" opacity="0.88"/>
<ellipse cx="240.5" cy="604.2" rx="5" ry="6.6" transform="rotate(-20 240.5 604.2)" fill="url(#dB)" stroke="#2a82cc" stroke-width="1.2" opacity="0.88"/>
<path d="M291.5 626.9 C306 629.9 326 622.4 333.3 597.9" fill="none" stroke="#2f8fd6" stroke-width="14.5" stroke-linecap="round" opacity="0.88"/>
<path d="M291.5 626.9 C306 629.9 326 622.4 333.3 597.9" fill="none" stroke="#6cb8ec" stroke-width="12.5" stroke-linecap="round" opacity="0.95"/>
<path d="M291.5 626.9 C306 629.9 326 622.4 333.3 597.9" fill="none" stroke="#9ad0f4" stroke-width="5" stroke-linecap="round" opacity="0.8"/>
<ellipse cx="257.5" cy="641.2" rx="5" ry="3.4" transform="rotate(10 257.5 641.2)" fill="url(#dB)" stroke="#2a82cc" stroke-width="1.2" opacity="0.8"/>
<ellipse cx="276.4" cy="645.3" rx="4" ry="4" fill="url(#dB)" stroke="#2a82cc" stroke-width="1.2" opacity="0.8"/>
<ellipse cx="358.6" cy="623.6" rx="4.6" ry="7" transform="rotate(-15 358.6 623.6)" fill="url(#dB)" stroke="#2a82cc" stroke-width="1.2" opacity="0.8"/>
<ellipse cx="357.8" cy="577.4" rx="5" ry="2.8" fill="url(#dB)" stroke="#2a82cc" stroke-width="1.2" opacity="0.8"/>
<ellipse cx="343.5" cy="682.9" rx="2.8" ry="2.2" fill="url(#dB)" stroke="#2a82cc" stroke-width="1.2" opacity="0.8"/>
<ellipse cx="360.4" cy="567" rx="7" ry="4.4" fill="url(#dG)" stroke="#4cae22" stroke-width="1.2" opacity="0.75"/>
<path d="M301 563 l1.2 3.5 l-1.2 3.5z" fill="#3c98dc"/>
<path d="M170.6 562.5 Q174.8 566.6 170.6 570.7 Q166.3 574.7 164.9 580.6 Q163.4 586.4 156.1 584.4 Q148.8 582.3 141.5 584.4 Q134.2 586.4 132.7 580.6 Q131.3 574.7 127 570.7 Q122.8 566.6 127 562.5 Q131.3 558.5 132.7 552.6 Q134.2 546.8 141.5 548.8 Q148.8 550.9 156.1 548.8 Q163.4 546.8 164.9 552.6 Q166.3 558.5 170.6 562.5Z" fill="#4a9fe2" stroke="#2a82cc" stroke-width="1.2" opacity="0.93"/>
<g opacity="0.85"><line x1="148.8" y1="566.6" x2="166.4" y2="550.8" stroke="#f09a10" stroke-width="2.8"/><line x1="148.8" y1="566.6" x2="166.4" y2="550.8" stroke="#ffe0a0" stroke-width="0.9"/><line x1="166.4" y1="550.8" x2="181.7" y2="537.1" stroke="#7e7e7e" stroke-width="2.8"/><line x1="166.4" y1="550.8" x2="181.7" y2="537.1" stroke="#dcdcdc" stroke-width="0.9"/></g>
<g opacity="0.85"><line x1="148.8" y1="566.6" x2="130.3" y2="550.8" stroke="#f09a10" stroke-width="2.8"/><line x1="148.8" y1="566.6" x2="130.3" y2="550.8" stroke="#ffe0a0" stroke-width="0.9"/><line x1="130.3" y1="550.8" x2="114.1" y2="537.1" stroke="#7e7e7e" stroke-width="2.8"/><line x1="130.3" y1="550.8" x2="114.1" y2="537.1" stroke="#dcdcdc" stroke-width="0.9"/></g>
<g opacity="0.85"><line x1="148.8" y1="566.6" x2="166.4" y2="582.3" stroke="#f09a10" stroke-width="2.8"/><line x1="148.8" y1="566.6" x2="166.4" y2="582.3" stroke="#ffe0a0" stroke-width="0.9"/><line x1="166.4" y1="582.3" x2="181.7" y2="595.9" stroke="#7e7e7e" stroke-width="2.8"/><line x1="166.4" y1="582.3" x2="181.7" y2="595.9" stroke="#dcdcdc" stroke-width="0.9"/></g>
<g opacity="0.85"><line x1="148.8" y1="566.6" x2="130.3" y2="582.3" stroke="#f09a10" stroke-width="2.8"/><line x1="148.8" y1="566.6" x2="130.3" y2="582.3" stroke="#ffe0a0" stroke-width="0.9"/><line x1="130.3" y1="582.3" x2="114.1" y2="595.9" stroke="#7e7e7e" stroke-width="2.8"/><line x1="130.3" y1="582.3" x2="114.1" y2="595.9" stroke="#dcdcdc" stroke-width="0.9"/></g>
<g opacity="0.85"><line x1="264.1" y1="566.8" x2="245.2" y2="549.6" stroke="#f0409a" stroke-width="2.8"/><line x1="264.1" y1="566.8" x2="245.2" y2="549.6" stroke="#ffc8e4" stroke-width="0.9"/><line x1="245.2" y1="549.6" x2="231.7" y2="537.2" stroke="#2a2ee0" stroke-width="2.8"/><line x1="245.2" y1="549.6" x2="231.7" y2="537.2" stroke="#c8caff" stroke-width="0.9"/></g>
<g opacity="0.85"><line x1="264.1" y1="566.8" x2="284.6" y2="583.7" stroke="#f0409a" stroke-width="2.8"/><line x1="264.1" y1="566.8" x2="284.6" y2="583.7" stroke="#ffc8e4" stroke-width="0.9"/><line x1="284.6" y1="583.7" x2="299.3" y2="595.9" stroke="#2a2ee0" stroke-width="2.8"/><line x1="284.6" y1="583.7" x2="299.3" y2="595.9" stroke="#c8caff" stroke-width="0.9"/></g>
<g opacity="0.85"><line x1="264.1" y1="566.8" x2="245.2" y2="583.7" stroke="#f0409a" stroke-width="2.8"/><line x1="264.1" y1="566.8" x2="245.2" y2="583.7" stroke="#ffc8e4" stroke-width="0.9"/><line x1="245.2" y1="583.7" x2="231.7" y2="595.9" stroke="#2a2ee0" stroke-width="2.8"/><line x1="245.2" y1="583.7" x2="231.7" y2="595.9" stroke="#c8caff" stroke-width="0.9"/></g>
<g opacity="0.85"><line x1="264.1" y1="566.8" x2="284.6" y2="549.6" stroke="#f0409a" stroke-width="2.8"/><line x1="264.1" y1="566.8" x2="284.6" y2="549.6" stroke="#ffc8e4" stroke-width="0.9"/><line x1="284.6" y1="549.6" x2="299.3" y2="537.2" stroke="#2a2ee0" stroke-width="2.8"/><line x1="284.6" y1="549.6" x2="299.3" y2="537.2" stroke="#c8caff" stroke-width="0.9"/></g>
<circle cx="226.4" cy="532.4" r="6.3" fill="url(#dN)"/>
<circle cx="305" cy="600.6" r="6.3" fill="url(#dN)"/>
<circle cx="226.4" cy="600.6" r="6.3" fill="url(#dN)"/>
<circle cx="305" cy="532.4" r="6.3" fill="url(#dN)"/>
<circle cx="148.8" cy="566.6" r="13.6" fill="#c98a5c"/>
<circle cx="148.8" cy="566.6" r="10.8" fill="url(#dCu)"/>
<polygon points="138.8,566.6 148.8,556.6 158.8,566.6 148.8,576.6" fill="none" stroke="#58b830" stroke-width="1"/>
<ellipse cx="264.1" cy="566.8" rx="11" ry="13" fill="url(#dCo)"/>
<path d="M260.6 544.8 Q238.6 566.8 260.6 588.8 Q251.6 566.8 260.6 544.8Z" fill="#46b84a" stroke="#2f9a34" stroke-width="1" opacity="0.92"/>
<path d="M267.6 544.8 Q289.6 566.8 267.6 588.8 Q276.6 566.8 267.6 544.8Z" fill="#46b84a" stroke="#2f9a34" stroke-width="1" opacity="0.92"/>
<ellipse cx="264.1" cy="566.8" rx="6.5" ry="11.5" fill="url(#dCo)"/>
<circle cx="243.1" cy="566.8" r="2.6" fill="#38c0a0" opacity="0.9"/>
<circle cx="285.1" cy="566.8" r="2.6" fill="#38c0a0" opacity="0.9"/>
</g>
<rect x="18.5" y="410" width="373.5" height="314" fill="none" stroke="#7a7a7a" stroke-width="1.3"/>
<text x="20.8" y="435.8" font-family="'Liberation Serif', serif" font-size="33.8" font-weight="bold" fill="#000" >D</text>
<circle cx="80" cy="745.4" r="7.4" fill="url(#dC)"/>
<text x="93.8" y="752.8" font-family="'Liberation Serif', serif" font-size="20.5" fill="#111" >C</text>
<circle cx="155.5" cy="745.4" r="7.4" fill="url(#dN)"/>
<text x="172" y="752.8" font-family="'Liberation Serif', serif" font-size="20.5" fill="#111" >N</text>
<circle cx="231" cy="745.4" r="7.4" fill="url(#dCuL)"/>
<text x="247.4" y="752.8" font-family="'Liberation Serif', serif" font-size="20.5" fill="#111" >Cu</text>
<circle cx="306.3" cy="745.4" r="7.4" fill="url(#dCoL)"/>
<text x="321" y="752.8" font-family="'Liberation Serif', serif" font-size="20.5" fill="#111" >Co</text>
</g>
<g id="panelE">
<clipPath id="eClip0"><rect x="475.5" y="407.4" width="145.6" height="139.5"/></clipPath>
<g clip-path="url(#eClip0)">
<rect x="474.5" y="406.4" width="147.6" height="141.5" fill="#0416e2"/>
<path d="M475.6 549.2l147.7 0 0-144.1-2.3 0-147.7 0 0 144.1zM512.5 453.1l2.3-.3 .2 .3-.2 .3-2.3-.3zM597.8 439.4l.1-2.8 .9 .5-.3 2.3-.6 .3z" fill="#0420e9" fill-rule="evenodd"/>
<path d="M475.6 549.2l147.7 0 0-144.1-2.3 0-147.7 0 0 144.1zM509.6 455.4l-.9-2.3 .4-2.3 1.1-1.4 2.3-1.1 2.3 .1 2.3 1.7 .5 .7 .5 2.3-1 2.6-2.3 1.5-2.3 0-2.3-1.3zM597.7 450.8l-2.1-.8-2.3-2.3-.8-1.4-1.6-4.6-.2-2.3 .2-4.6 .6-2.3 1.7-4.5 2.4-3.4 2.3-1.7 2.4-.4 2.3 .7 2.4 2.5 2.1 4.5 .9 4.6-.1 4.6-1.1 4.6-1 2.3-1.7 2.2-1.5 1.4-2.2 .9-2.5 .1zM484.3 439.4l.1-2.3 .4-1.2 2.3-.9 .9 2.1 0 2.3-.9 2.2-2.3-.4z" fill="#052af0" fill-rule="evenodd"/>
<path d="M475.6 549.2l147.7 0 0-14.5-6.9 1.6-4.6 .5-6.9 .1-4.6-.3-4.7-.7-4.6-1.3-2.7-1.4-2-2.3 .7-2.3 3.7-2.3 9.5-2.2 7-.5 6.9 .1 4 .4 5.2 1.2 0-88.2 0-32-124.6 0 2.3 6.8 1.7 6.9 1.4 9.2 .2 4.5-.4 4.6-1 9.2-1 2.2-.9 .3-6.7 6.6-2.6 2.1-4.6 2.4-4.6 .8-2.3-.3-2.3-.6-4.6-2.7 0 92.1zM508.3 457.7l-2.4-2.3-1.5-2.3-.7-2.3-.2-2.3 2.1-2.2 2.3-1.2 2.3-.5 2.3 .1 2.3 .6 1.6 1 2.4 2.2 1.1 2.3 .2 2.3-.5 2.3-1.8 2.3-3 1.4-2.3 .2-2.3-.6zM595.2 455.4l-3.2-2.3-2-2.3-1.3-2.3-1.4-4.5-.5-4.6 .2-4.6 .8-4.6 1.5-4.5 1.7-4.1 2.3-4.1 2.3-3.1 4.7-4.5 2.3-1.4 2.3-.8 2.3-.1 2.3 .4 2.7 1.7 2.2 2.2 2.6 4.6 .9 2.3 1 4.6 .5 6.8-1.8 9.2-1.9 4.6-2.8 4.5-4.2 4.6-3.7 2.3-2.4 .8-2.3 .3-2.4-.2-2.3-.7z" fill="#063bf4" fill-rule="evenodd"/>
<path d="M507.9 538l11.5 .7 16.2 0 11.5-.4 9.3-1.1 4.6-1 4.6-1.8 8.1-5.8 4-2.3 5.7-2.2 12.2-3 27.7-4.4 0-55.6-4.6-1.3-2.3-.2-11.5 1.3-4.6 0-2.4-.3-4.6-1.8-2.3-1.4-2.3-2-2.3-2.9-2-4-1.1-4.5-.2-6.9 .5-4.6 1.7-6.8 7-20.6-17.4 0-61.2 0 1.1 7.2 .8 1.9 1.5 2 2.3 .5 4.7 .1 2.3 1.1 2.3 3.2 .3 2.3-.5 2.3-2.1 2.9-2.3 1.2-4.7 .9-2 1.8-.9 2.3-.4 2.3 .2 2.3 1 2.3 3 4.6 1.1 2.2 .6 2.3 0 2.3-.5 2.3-1.4 2.3-3 2.4-2.3 .8-2.3 .3-2.3-.2-6.9-1.6-2.3 .4-2.3 1.2-7 4.5-4.6 2.4-4.6 1.8-9.2 2.4 0 53.2 6.9 4.8 4.6 2.3 4.6 1.8 9.3 2.5 7.4 1.1z" fill="#084df8" fill-rule="evenodd"/>
<path d="M501 531l9.2 1.3 11.5 .4 18.5-.5 11.6-1.3 6.9-1.6 14.5-5.2 7.4-2.3 31.2-7.5 6.9-2.6 4.6-2.5 0-37.7-4.6-2.7-4.6-1.8-4.6-1.1-9.2-1.3-7.4-2.3-4.2-2.3-2.9-2.3-2.2-2.3-2.8-4.6-.8-2.3-.8-4.5-.1-4.6 .4-4.6 1.4-6.8 4.1-13.8 1.7-6.8 .3-2.3-66.9 0 .4 2.3 1 2.3 1.9 2.2 3 2.3 2.3 2.4 2.1 4.5 .3 2.3-.2 2.3-.8 2.3-1.4 2.8-3.4 4-1.3 2.3-.8 2.3-.2 2.3 1.2 9.1-.7 4.6-1.1 2.3-2.1 2.3-3.2 1.9-4.6 1.3-6.9 .5-4.6 1.8-20.8 12.8-3 2.3-3.9 4.2 0 27.1 1.7 3 3.5 4.6 2.4 2.3 3.9 2.9 6.9 3.6 4.6 1.6 4.3 1zM564.8 453.1l.8-2.5 2.3-.3 1 .5 .6 2.3-1.6 1.4-2.3-.2z" fill="#0b62fa" fill-rule="evenodd"/>
<path d="M501 526.7l9.2 1.5 13.9 .2 18.4-.8 13.9-2 39.2-10 9.9-3 5.4-2.3 4.1-2.3 3.7-2.6 4.4-4.2 .2-.4 0-21-3.8-3.8-3.2-2.3-4.5-2.4-4.6-1.7-11.6-3.3-6.9-3-5.5-3.3-2.8-2.3-3.2-3.4-2.3-1.2-2.4 1.3-.8 1-3.8 1.4-2.3-.2-1.8-1.2-.5-.7-.6-1.6 .3-2.3 2.1-2.3 2.8-1 4.6 .3 1.5-1.5 .6-2.3 1-9.2 1.1-4.6 4.7-16 1.8-9.1-58.8 0 .6 2.3 1.2 2.3 4.8 7 1.5 4.4 .3 2.3-.5 4.6-4.1 11.4-.7 4.6-.4 6.8-1.1 4.6-1.1 2.3-1.8 2.3-3.7 2.8-4.6 1.9-7.6 2.2-3.9 1.7-7 4.2-7.8 5.5-5.2 4.6-2 2.3-2.8 4.5-1.5 4.6-.4 4.6 .9 6.9 1.7 4.5 2.7 4.6 2.9 3.3 4.6 3.7 4.6 2.4 5.7 2z" fill="#0e7dfa" fill-rule="evenodd"/>
<path d="M505.6 524.1l4.6 .6 6.9 .3 20.8-.7 13.9-1.2 13.8-2.5 25.4-6.1 11.6-4 5-2.5 3.7-2.2 2.9-2.3 4.3-4.6 1.4-2.3 1.5-4.6 .2-2.3-.4-2.3-1.9-4.5-1.7-2.3-3.5-3.3-2.3-1.6-4.6-2.5-16.2-6.2-5.5-2.4-10.6-6.1-2.4-.3-4.6 .4-2.3-.3-2.3-1.3-1.4-1.6-.8-2.3 .3-2.3 1.2-2.3 3-2.6 3.3-1.9 1.4-2.3 2.1-9.2 2.1-6.8 3.8-11.5 1.7-9.1-52.3 0 1.5 4.6 4.1 8.3 1.2 5.4-.1 4.6-1.8 9.1-1.4 11.4-1 4.6-.9 2.3-1.2 2.3-1.8 2.3-4.6 3.8-4.6 2.3-9.2 3.6-4.6 2.5-6 3.8-5.8 4.6-2.4 2.3-3.7 4.5-2.4 4.6-1.1 4.6-.1 4.6 .8 4.6 1.8 4.5 3.2 4.6 4.1 3.7 4.6 2.6 4.7 1.8 4.6 1.1z" fill="#1198fa" fill-rule="evenodd"/>
<path d="M514.8 521.8l25.4-.7 11.6-.8 13.8-2 18.5-4.1 11.5-3.6 4.7-2 4.6-2.4 3.9-2.7 2.6-2.3 3.7-4.6 1.6-4.6 .1-2.3-.3-2.3-.8-2.2-1.4-2.3-1.9-2.3-2.6-2.3-3.4-2.3-3.8-2-17.4-7.1-10.3-5-2.4-.8-6.9-1.3-2.3-1-1.4-1.1-1.7-2.3-.7-2.3 .2-2.3 .8-2.3 5.4-6.8 3.6-11.5 3-8 3.4-10.3 1.2-6.8-46.6 0 1.3 4.6 3.5 9.1 1.2 6.9-.8 20.6-.6 4.5-1.5 4.6-1.2 2.3-1.9 2.3-2.4 2.3-3.3 2.3-4.2 2.3-14.7 6.8-4.9 3.1-4.9 3.8-2.5 2.3-3.7 4.5-2.5 4.6-1.2 4.6-.1 4.6 .9 4.6 2.2 4.5 1.6 2.3 2.3 2.3 3.2 2.4 4.8 2.2 6.8 1.7 5.7 .6z" fill="#18b3f7" fill-rule="evenodd"/>
<path d="M505.6 517.6l4.6 .9 6.9 .4 27.7-.5 11.6-.8 13.8-2.1 9.3-2 6.9-1.8 9.7-3.7 4.5-2.2 4.3-2.8 4.4-4.1 1.7-2.3 1.1-2.3 .6-2.3 .2-2.3-.4-2.3-.9-2.2-1.5-2.3-2.1-2.3-2.8-2.3-4.9-2.9-7-3.2-20.8-8.6-9.2-3-3.7-2.9-1.4-2.3-.7-2.3 .1-2.3 1.6-4.5 2.4-4.6 5.2-13.7 3.4-7.7 2.3-6.1 1.3-4.5 .7-4.6-41.4 0 1 4.6 3.6 11.4 1.8 11.4 .8 9.2 .1 4.6-.5 4.5-1.4 4.6-1.3 2.3-1.9 2.3-2.5 2.3-3.4 2.3-4 2.3-17.5 8.4-7.8 5.3-3.8 3.6-2.6 3.2-1.4 2.3-1.8 4.6-.5 2.3 0 4.6 1.1 4.6 1.1 2.2 1.5 2.3 2.6 2.7 2.8 1.9 5.2 2.3z" fill="#21cdf3" fill-rule="evenodd"/>
<path d="M507.9 515l4.6 .8 4.6 .3 30 .1 11.6-.7 11.5-1.7 11.6-2.6 6.9-2.2 4.6-1.9 4.6-2.3 4.7-3.1 3-2.8 1.8-2.3 1.2-2.3 .7-2.3 .1-2.3-.4-2.3-1-2.2-1.5-2.3-2.3-2.3-6.3-4.2-6.9-3.3-28.3-10.8-3.8-2.3-2.4-2.3-1.8-2.3-1.4-4.6 .2-2.3 1.4-4.5 4.2-9.2 6.4-11.4 4.2-9.2 1.4-4.5 .8-4.6-36.3 0 1.5 6.8 9.4 29.8 .7 4.6 .2 2.2-.3 2.3-.7 2.3-3.2 4.6-5.4 4.6-7.8 4.6-15.2 7-7.8 4.4-5.8 4.6-2.2 2.3-3.3 4.5-1.7 4.6-.6 4.6 .6 3.9 1.2 3 1.4 2.2 2 2.3 2.4 1.8 2.3 1.3 4.3 1.5z" fill="#29e2ea" fill-rule="evenodd"/>
<path d="M512.5 512.9l6.9 .7 23.1 .7 9.3-.1 9.2-.6 11.5-1.8 9.3-2.2 6.9-2.4 7.6-3.7 4-2.8 3.9-4.1 1.3-2.3 .7-2.3 .1-2.3-.4-2.3-1-2.2-1.7-2.3-2.5-2.3-2.8-2-6.9-3.7-9.2-3.8-18.7-6.5-9-3.7-2.3-.4-2.3 .1-2.4 .5-4.6 1.9-25.4 11.7-4.6 2.5-5.2 3.4-5.1 4.6-3.2 4.5-1.1 2.3-1 4.6 .4 4.6 .7 2.3 1.3 2.3 1.7 1.9 2.3 1.8 2.3 1.3 5.5 1.8zM551.8 431l2.3-.4 2.3-1.5 4.6-4.9 4.8-7.7 2-4.6 1.2-4.5 .4-2.3-13 0-18.4 0 1.5 6.8 3 8.3 2.3 4.5 2.3 3.3 2.7 2.2z" fill="#30e9cc" fill-rule="evenodd"/>
<path d="M547.1 512.6l9.3-.1 9.2-.9 9.3-1.7 9.2-2.7 6.9-2.8 5.4-3.2 2.8-2.3 2-2.3 1.4-2.3 .8-2.3 .1-2.3-.4-2.3-1.1-2.2-1.8-2.3-2.3-2-3.7-2.6-5.5-2.9-6.9-2.8-13.9-4.7-12.2-3.3-3.9-.5-2.3 .1-7 1.6-16.1 6.5-9.3 4.3-6.6 4-5.2 4.6-3.3 4.5-1.6 4.6-.1 4.6 .6 2.3 1.2 2.3 1.9 2.3 1.6 1.2 4.6 2.3 4.6 1.2 4.6 .6 26.5 1.5zM551.8 423.6l2.3-.1 2.3-.9 2.3-1.7 2.3-2.5 2.7-4.2 1.9-4.3 .7-2.5 .4-2.3-10.3 0-15.8 0 1.6 6.8 2.6 5.7 2.3 3.2 2.4 1.9 1.7 .7z" fill="#37f0ad" fill-rule="evenodd"/>
<path d="M533.3 510.3l11.5 .8 9.3 .1 9.2-.7 9.2-1.5 9.3-2.4 6.9-2.8 4.6-2.6 3-2.3 2.2-2.3 1.5-2.3 .8-2.3 .1-2.3-.5-2.3-1.1-2.2-1.9-2.3-4.1-3.2-6.9-3.8-9.2-3.5-9.3-2.9-6.9-1.8-6.9-1.2-4.6 0-7 1.3-11.5 4.2-11.6 5.1-5.8 3.5-5.4 4.6-3.3 4.5-1.5 4.6-.1 2.3 .4 2.3 1 2.3 1.8 2.3 3.7 2.6 4.6 1.7 6.9 1.4 11.5 1.1zM549.5 416.7l2.3 1.1 2.3 .1 2.3-.8 3.3-2.9 1.3-1.7 1.5-2.8 1.3-4.6-5.1 0-15.1 0 1 4.6 1 2.2 1.5 2.5 2.1 2.1z" fill="#30e97e" fill-rule="evenodd"/>
<path d="M528.7 508.2l11.5 1.3 9.3 .4 9.2-.2 6.9-.7 9.3-1.8 6.9-2 6.9-3.1 4.9-3.2 2.3-2.3 1.6-2.3 .8-2.3 .2-2.3-.5-2.3-1.2-2.2-3.5-3.5-5.1-3.4-6.4-2.9-9.3-3.2-9.2-2.5-6.9-1.2-4.6-.2-4.7 .3-6.9 1.6-11.5 4.2-8.3 3.9-7 4.6-4.4 4.5-2.2 4.6-.4 2.3 .1 2.3 .7 2.3 1.5 2.3 1.5 1.4 4.6 2.6 4.6 1.4 8.1 1.4zM554.1 412.1l2.3-1 1.4-1.4 1.5-2.3 .8-2.3-6 0-6.9 0 .7 2.3 1.6 2.6 2.3 1.8 1.1 .1z" fill="#29e24e" fill-rule="evenodd"/>
<path d="M540.2 508.1l9.3 .6 9.2-.2 9.2-1 7-1.5 6.9-2.2 5.6-2.6 3.6-2.4 2.4-2.2 1.7-2.3 .9-2.3 .2-2.3-.6-2.3-1.2-2.2-3.4-3.3-4.6-3-6.3-2.9-7.6-2.5-7.8-2.1-6-1.1-6.9-.5-7 .8-6.9 1.7-9.2 3.5-7 3.4-5.6 3.7-2.5 2.3-1.9 2.2-1.4 2.3-.8 2.3-.2 2.3 .4 2.3 1.1 2.3 2.2 2.3 3.9 2.3 4.8 1.6 7 1.5 10.6 1.4z" fill="#31dc32" fill-rule="evenodd"/>
<path d="M533.3 505.9l9.2 1.3 9.3 .4 9.2-.3 6.9-.9 7-1.6 6.9-2.4 4.6-2.3 4.6-3.5 1.8-2.3 1-2.3 .2-2.3-.6-2.3-2.4-3.4-4.3-3.4-4.3-2.3-7.5-3-5.7-1.6-5.9-1.4-6.9-.9-4.6-.2-7 .7-6.9 1.8-6.9 2.5-6.9 3.2-5.4 3.5-2.6 2.3-1.9 2.2-1.3 2.3-.7 2.3 0 2.3 .7 2.3 1.9 2.6 2.6 2 2 1 4.7 1.7 8.2 1.9z" fill="#3cd71a" fill-rule="evenodd"/>
<path d="M542.5 506l9.3 .6 6.9-.2 6.9-.7 6.9-1.4 7-2.2 4.6-2.2 4.6-3.3 1.9-2.3 1-2.3 .2-2.3-.6-2.3-1.4-2.2-2.3-2.3-3.4-2.4-6.9-3.2-7-2.2-5.8-1.4-5.7-.9-6.9-.4-7 .8-6.9 1.7-6.9 2.5-6.3 3.2-3.5 2.3-2.6 2.3-1.9 2.2-1.3 2.3-.5 2.3 .1 2.3 1 2.3 2.1 2.3 3.7 2.3 4.6 1.7 6.9 1.7 7.1 1.2z" fill="#67df1b" fill-rule="evenodd"/>
<path d="M535.6 503.8l6.9 1.1 9.3 .7 6.9-.2 6.9-.7 6.9-1.5 4.7-1.5 6-2.8 3.2-2.3 2-2.3 1.1-2.3 .2-2.3-.6-2.3-1.5-2.2-2.4-2.3-3.6-2.3-5-2.3-7-2.3-6.3-1.4-4.6-.7-6.9-.3-4.7 .4-4.6 .8-6.9 2.1-6.9 3-5 3-2.7 2.3-1.9 2.2-1.2 2.3-.5 2.3 .4 2.3 1.3 2.3 2.6 2.4 4.7 2.3 7.5 2.2z" fill="#93e71d" fill-rule="evenodd"/>
<path d="M540.2 503.5l6.9 .9 7 .2 6.9-.3 6.9-1.1 7-1.8 4.6-1.9 4.6-2.9 2.2-2.3 1.1-2.3 .3-2.3-.7-2.3-1.5-2.2-1.4-1.3-2.3-1.7-4.6-2.5-4.7-1.7-6.9-1.9-6.9-1.2-4.6-.2-7 .4-4.6 .9-6.9 2-4.6 2-4.9 2.9-2.8 2.3-1.9 2.2-1.2 2.3-.3 2.3 .5 2.3 1.7 2.3 3 2.3 3.6 1.6 4.6 1.5 6.7 1.5z" fill="#b9ec1e" fill-rule="evenodd"/>
<path d="M549.5 503.5l11.5-.2 6.9-1.1 4.6-1.2 5.5-2.1 3.8-2.3 2.3-2.3 1.3-2.3 .2-2.3-.6-2.3-1.7-2.2-2.8-2.3-4.1-2.3-6.2-2.3-6.9-1.7-4.6-.6-6.9-.2-4.7 .4-6.9 1.4-4.6 1.6-4.6 2.2-4.6 3.1-2.7 2.9-1.1 2.3-.3 2.3 .8 2.3 1.9 2.3 3.6 2.3 4.7 1.8 4.6 1.3 10.8 1.5z" fill="#d9ed1e" fill-rule="evenodd"/>
<path d="M540.2 501.3l9.3 1.3 6.9 .1 4.6-.4 6.9-1.1 4.6-1.3 2.7-1 4.3-2.4 2.4-2.2 1.4-2.3 .3-2.3-.7-2.3-1.8-2.2-3.9-2.9-4.7-2.1-6.2-1.9-5.3-1-4.6-.5-6.9 .1-4.7 .7-4.6 1.2-4.9 1.8-4.4 2.3-3 2.3-2 2.2-1.1 2.3-.1 2.3 1 2.3 2.2 2.3 3.1 1.8 4.6 1.7 3.9 1.1z" fill="#f9ee1e" fill-rule="evenodd"/>
<path d="M547.1 501.4l7 .4 4.6-.2 9.2-1.4 4.6-1.5 4.4-2.1 2.9-2.3 1.4-2.3 .4-2.3-.8-2.3-1.9-2.2-1.7-1.3-2.3-1.5-4.7-1.9-9.2-2.2-4.6-.5-4.6 0-4.7 .4-4.6 1-4.6 1.5-4.5 2.2-3.2 2.3-2.1 2.2-1 2.3 0 2.3 1.2 2.3 2.6 2.3 4.7 2.3 4.6 1.3 5.2 1z" fill="#fbd21b" fill-rule="evenodd"/>
<path d="M540.2 499.1l9.3 1.5 9.2 .1 9.2-1.6 7-2.8 2.6-2 1.6-2.3 .4-2.3-.8-2.3-2-2.2-1.8-1.3-2.4-1.3-4.6-1.8-4.6-1.1-4.6-.7-6.9-.2-4.7 .5-4.6 1-6.9 2.8-3 2.1-2.2 2.2-1 2.3 .1 2.3 1.3 2.3 2.5 1.9 6.3 2.7z" fill="#fcb518" fill-rule="evenodd"/>
<path d="M544.8 499l9.3 .8 9.2-.7 6.9-2 4.9-2.8 1.8-2.3 .5-2.3-.9-2.3-2.2-2.2-4.1-2.3-6.9-2.2-4.6-.7-4.6-.3-7 .6-6.9 2-5.2 2.9-2.3 2.2-1 2.3 .2 2.3 1.6 2.3 3.5 2.3 7.3 2.3z" fill="#fb9616" fill-rule="evenodd"/>
<path d="M542.5 497.2l7 1.4 4.6 .3 4.6-.2 4.6-.7 4.6-1.3 4.6-2.4 2.1-2.3 .5-2.3-.9-2.3-2.5-2.2-4.7-2.3-6-1.5-6.9-.6-7 .7-4.6 1.2-2.3 1-2.6 1.5-2 1.7-1.5 2.8 .3 2.3 1.9 2.3 4.2 2.3z" fill="#fa7615" fill-rule="evenodd"/>
<path d="M544.8 496.6l7 1.1 6.9-.1 5.6-1 5.5-2.3 2.4-2.3 .6-2.3-1.1-2.3-2.8-2.2-5.6-2.2-4.6-.9-6.9-.1-5.6 .9-6 2.4-2.6 2.1-1.1 2.3 .5 2.3 2.3 2.3 5.4 2.3z" fill="#f85614" fill-rule="evenodd"/>
<path d="M554.1 496.7l6.9-.7 5.5-1.7 3-2.3 .7-2.3-1.2-2.3-3.4-2.2-6.9-1.9-4.6-.3-4.6 .5-5.7 1.7-3.4 2.2-1.2 2.3 .6 2.3 2.9 2.3 4.4 1.5 5.2 .8z" fill="#f34013" fill-rule="evenodd"/>
<path d="M549.5 494.8l4.6 .5 4.6-.3 3.5-.7 4.1-2.3 .9-2.3-1.4-2.3-4.8-2.2-2.3-.5-4.6-.3-4.6 .5-2.4 .7-3.4 1.8-1.5 2.3 .9 2.3 4.1 2.3z" fill="#ef2b12" fill-rule="evenodd"/>
<path d="M549.5 492.8l2.3 .6 4.6 .2 2.3-.4 3.4-1.2 1.4-2.3-2.5-2.4-4.6-1.1-2.3-.1-4.6 .8-1.5 .5-2 2.3 1.4 2.3z" fill="#ec2012" fill-rule="evenodd"/>
<path d="M528.1 405.1l1.5 4.6 4.2 9.1 1 6.9-3.1 22.8-1.9 6.9-3 4.6-5.1 4.1-13.8 6-4.6 2.5-5.4 3.4-5.8 4.6-6.1 6.8-2.4 4.6-1.1 4.6 .2 6.9 1.3 4.5 2.5 4.6 4.2 4.6 5.6 3.5 4.7 1.8 6.9 1.5 9.2 .6 23.1-.9 13.9-1.3 18.4-3.6 18.5-4.6 11.1-3.9 7.4-3.9 6.4-5.2 3.4-4.6 1.5-4.6-.2-4.6-.8-2.2-2.9-4.6-5.1-4.4-6.9-3.6-20.1-8-9.9-5.6-9.3-.5-2.3-1.3-1.6-1.8-.7-2.3 .2-2.3 1.1-2.3 3.3-3 2.5-1.5 1.7-2.3 2.8-11.5 5.3-16 1.7-9.1" fill="none" stroke="#1a3a2a" stroke-width="0.45" opacity="0.75"/>
<path d="M536.2 405.1l1.7 7.8 6.9 19.2 4.7 9.2 2.3 1 2.3-2.2 2.3-3.5 9.2-15 4.2-9.7 1.5-6.8M512.5 515.1l6.9 .4 27.7 .2 18.5-1.5 11.6-2.2 9.2-2.7 6.9-2.7 7-3.9 4.4-3.8 3.1-4.6 .8-4.6-1.4-4.5-3.9-4.6-5.4-3.6-9.2-4.4-11.5-4.5-15.7-5.8-3.8-2.3-5.9-5.6-2.3-.2-7.1 5.8-6.9 4.6-20.7 9.8-9.2 5.5-5.8 5.3-3.2 4.5-1.8 4.6-.5 4.6 .3 2.3 1.6 4.6 3.8 4.5 5.6 3.2 5.9 1.4z" fill="none" stroke="#1a3a2a" stroke-width="0.45" opacity="0.75"/>
<path d="M541.9 405.1l1.7 6.8 1.2 2.8 2.3 3.3 2.4 2.1 2.3 .9 2.3 0 2.3-.8 2.3-1.7 2.3-2.6 2.4-4 2.1-6.8M521.7 510.3l25.4 1.7 16.2-.7 9.2-1.5 9.3-2.4 6.9-2.7 6.3-3.5 2.9-2.4 3.5-4.5 .8-2.3 .2-2.3-.5-2.3-1.1-2.2-2.9-3.2-5.1-3.7-6.4-3.2-9.8-3.7-20.2-5.8-4.6-.4-4.7 .4-6.9 1.9-13.8 5.5-9.3 4.4-5.2 3.2-5.4 4.6-3.2 4.5-1.6 4.6 .1 4.6 2.1 4.6 4 3.3 4.6 2 9.1 1.5z" fill="none" stroke="#1a3a2a" stroke-width="0.45" opacity="0.75"/>
<path d="M540.2 508.2l9.3 .6 9.2-.2 9.2-1.1 7-1.4 6.9-2.2 5.8-2.7 3.5-2.3 2.5-2.3 1.6-2.3 .9-2.3 .2-2.3-.5-2.3-1.3-2.2-3.5-3.5-4.6-2.9-6.1-2.8-15.3-4.6-6.3-1.2-6.9-.5-7 .8-6.9 1.8-9.2 3.4-7 3.4-5.7 3.8-4.5 4.5-2.1 4.6-.3 2.3 1.1 3.8 2.5 3.1 3.8 2.3 5.2 1.7 7 1.5 9.9 1.3z" fill="none" stroke="#1a3a2a" stroke-width="0.45" opacity="0.75"/>
<path d="M542.5 505.9l9.3 .6 6.9-.2 6.9-.8 6.9-1.3 7-2.3 4.6-2.2 4.3-3.1 1.9-2.3 1-2.3 .3-2.3-.6-2.3-1.5-2.2-2.3-2.3-3.4-2.3-6.6-3.1-7-2.3-6.5-1.5-5-.8-6.9-.3-7 .7-6.9 1.7-6.9 2.6-6 3-3.4 2.3-4.6 4.5-1.3 2.3-.5 2.3 .2 2.3 1 2.3 2.1 2.3 3.8 2.3 4.1 1.5 6.9 1.8 8.3 1.3z" fill="none" stroke="#1a3a2a" stroke-width="0.45" opacity="0.75"/>
<path d="M544.8 503.5l7 .5 6.9-.2 11.5-1.7 8.8-3.2 3.6-2.3 2.3-2.3 1.2-2.3 .3-2.3-.7-2.3-1.6-2.2-2.3-2-4.4-2.6-4.9-1.9-10.8-2.7-9.9-.6-4.7 .4-6.9 1.4-6.9 2.6-4.6 2.4-3.9 3-2 2.2-1.1 2.3-.3 2.3 .7 2.3 2 2.4 3.2 2.2 5.8 2.3 11.5 2.3z" fill="none" stroke="#1a3a2a" stroke-width="0.45" opacity="0.75"/>
<path d="M547.1 501.3l11.6 .2 9.2-1.5 4.6-1.4 4.1-2 2.9-2.3 1.5-2.3 .3-2.3-.7-2.3-3.4-3.3-7.1-3.5-9.8-2.3-8.5-.4-9.3 1.5-8.7 3.5-3.3 2.3-2.1 2.2-1 2.3 0 2.3 1.2 2.3 2.4 2.1 6.9 3 8.5 1.8z" fill="none" stroke="#1a3a2a" stroke-width="0.45" opacity="0.75"/>
<path d="M549.5 499l9.2 .1 6.9-1.2 4-1.3 2.9-1.6 3-3 .5-2.3-.9-2.3-2.4-2.2-4.8-2.5-9.5-2.1-6.6-.2-7 1.2-6.9 2.8-3.7 3-1 2.3 .2 2.3 1.8 2.3 5 2.7 8.3 1.9z" fill="none" stroke="#1a3a2a" stroke-width="0.45" opacity="0.75"/>
<path d="M551.8 496.8l6.9-.1 4.6-1 3.9-1.4 2.8-2.3 .7-2.3-1.2-2.3-1.6-1.2-4.6-2.1-6.6-1.2-4.9 0-7 1.6-1.7 .7-3.2 2.2-1.2 2.3 .6 2.3 2.7 2.3 7.9 2.3z" fill="none" stroke="#1a3a2a" stroke-width="0.45" opacity="0.75"/>
</g>
<path d="M475.5 407.4 V546.9 H621.1" fill="none" stroke="#000" stroke-width="1"/>
<line x1="475.5" y1="546.9" x2="475.5" y2="549.5" stroke="#000" stroke-width="0.8"/>
<text x="475.5" y="561.3" font-family="'Liberation Serif', serif" font-size="12" font-weight="bold" text-anchor="middle" fill="#000" >0</text>
<line x1="486.7" y1="546.9" x2="486.7" y2="548.3" stroke="#000" stroke-width="0.8"/>
<line x1="497.9" y1="546.9" x2="497.9" y2="549.5" stroke="#000" stroke-width="0.8"/>
<text x="497.9" y="561.3" font-family="'Liberation Serif', serif" font-size="12" font-weight="bold" text-anchor="middle" fill="#000" >2</text>
<line x1="509.1" y1="546.9" x2="509.1" y2="548.3" stroke="#000" stroke-width="0.8"/>
<line x1="520.3" y1="546.9" x2="520.3" y2="549.5" stroke="#000" stroke-width="0.8"/>
<text x="520.3" y="561.3" font-family="'Liberation Serif', serif" font-size="12" font-weight="bold" text-anchor="middle" fill="#000" >4</text>
<line x1="531.5" y1="546.9" x2="531.5" y2="548.3" stroke="#000" stroke-width="0.8"/>
<line x1="542.7" y1="546.9" x2="542.7" y2="549.5" stroke="#000" stroke-width="0.8"/>
<text x="542.7" y="561.3" font-family="'Liberation Serif', serif" font-size="12" font-weight="bold" text-anchor="middle" fill="#000" >6</text>
<line x1="553.9" y1="546.9" x2="553.9" y2="548.3" stroke="#000" stroke-width="0.8"/>
<line x1="565.1" y1="546.9" x2="565.1" y2="549.5" stroke="#000" stroke-width="0.8"/>
<text x="565.1" y="561.3" font-family="'Liberation Serif', serif" font-size="12" font-weight="bold" text-anchor="middle" fill="#000" >8</text>
<line x1="576.3" y1="546.9" x2="576.3" y2="548.3" stroke="#000" stroke-width="0.8"/>
<line x1="587.5" y1="546.9" x2="587.5" y2="549.5" stroke="#000" stroke-width="0.8"/>
<text x="587.5" y="561.3" font-family="'Liberation Serif', serif" font-size="12" font-weight="bold" text-anchor="middle" fill="#000" >10</text>
<line x1="598.7" y1="546.9" x2="598.7" y2="548.3" stroke="#000" stroke-width="0.8"/>
<line x1="609.9" y1="546.9" x2="609.9" y2="549.5" stroke="#000" stroke-width="0.8"/>
<text x="609.9" y="561.3" font-family="'Liberation Serif', serif" font-size="12" font-weight="bold" text-anchor="middle" fill="#000" >12</text>
<line x1="621.1" y1="546.9" x2="621.1" y2="548.3" stroke="#000" stroke-width="0.8"/>
<line x1="472.9" y1="546.9" x2="475.5" y2="546.9" stroke="#000" stroke-width="0.8"/>
<text x="471.9" y="550.9" font-family="'Liberation Serif', serif" font-size="12" font-weight="bold" text-anchor="end" fill="#000" >1.0</text>
<line x1="474.1" y1="535.3" x2="475.5" y2="535.3" stroke="#000" stroke-width="0.8"/>
<line x1="472.9" y1="523.6" x2="475.5" y2="523.6" stroke="#000" stroke-width="0.8"/>
<text x="471.9" y="527.6" font-family="'Liberation Serif', serif" font-size="12" font-weight="bold" text-anchor="end" fill="#000" >1.5</text>
<line x1="474.1" y1="512" x2="475.5" y2="512" stroke="#000" stroke-width="0.8"/>
<line x1="472.9" y1="500.4" x2="475.5" y2="500.4" stroke="#000" stroke-width="0.8"/>
<text x="471.9" y="504.4" font-family="'Liberation Serif', serif" font-size="12" font-weight="bold" text-anchor="end" fill="#000" >2.0</text>
<line x1="474.1" y1="488.8" x2="475.5" y2="488.8" stroke="#000" stroke-width="0.8"/>
<line x1="472.9" y1="477.1" x2="475.5" y2="477.1" stroke="#000" stroke-width="0.8"/>
<text x="471.9" y="481.1" font-family="'Liberation Serif', serif" font-size="12" font-weight="bold" text-anchor="end" fill="#000" >2.5</text>
<line x1="474.1" y1="465.5" x2="475.5" y2="465.5" stroke="#000" stroke-width="0.8"/>
<line x1="472.9" y1="453.9" x2="475.5" y2="453.9" stroke="#000" stroke-width="0.8"/>
<text x="471.9" y="457.9" font-family="'Liberation Serif', serif" font-size="12" font-weight="bold" text-anchor="end" fill="#000" >3.0</text>
<line x1="474.1" y1="442.3" x2="475.5" y2="442.3" stroke="#000" stroke-width="0.8"/>
<line x1="472.9" y1="430.6" x2="475.5" y2="430.6" stroke="#000" stroke-width="0.8"/>
<text x="471.9" y="434.6" font-family="'Liberation Serif', serif" font-size="12" font-weight="bold" text-anchor="end" fill="#000" >3.5</text>
<line x1="474.1" y1="419" x2="475.5" y2="419" stroke="#000" stroke-width="0.8"/>
<line x1="472.9" y1="407.4" x2="475.5" y2="407.4" stroke="#000" stroke-width="0.8"/>
<text x="471.9" y="411.4" font-family="'Liberation Serif', serif" font-size="12" font-weight="bold" text-anchor="end" fill="#000" >4.0</text>
<text transform="translate(451 478.1) rotate(-90)" font-family="'Liberation Serif', serif" font-size="12" font-weight="bold" text-anchor="middle" fill="#000">R+a (Å)</text>
<text x="547.8" y="577.7" font-family="'Liberation Serif', serif" font-size="12" font-weight="bold" text-anchor="middle" fill="#000">k (Å<tspan dy="-4" font-size="8">-1</tspan><tspan dy="4">)</tspan></text>
<text x="478.9" y="424.8" font-family="'Liberation Serif', serif" font-size="15.3" fill="#fff" >Cu foil</text>
<text x="555.7" y="494.3" font-family="'Liberation Serif', serif" font-size="12.5" text-anchor="middle" fill="#2a0a0a" >Cu-Cu</text>
<clipPath id="eClip1"><rect x="667.5" y="405.3" width="142.8" height="136.6"/></clipPath>
<g clip-path="url(#eClip1)">
<rect x="666.5" y="404.3" width="144.8" height="138.6" fill="#0416e2"/>
<path d="M667.6 544.2l137.9 0 .1-2.3 1.7-2.2 2.6-.3 1.9 2.5-.2 2.3 .6 0 0-141.2-9.1 0-137.8 0 0 15.5 2.3-2.2 2.2-.2 2.3 1.6 1.1 3.2 0 2.3-.6 2.2-1.9 2.3-.9 .5-2.2 .1-2.3-1.9 0 117.8zM766.2 492.6l4.8 0-1.8 .8-2.2-.2z" fill="#0420e9" fill-rule="evenodd"/>
<path d="M667.6 544.2l132 0 1.7-4.5 1.7-2.2 2.4-2 2.3-1 2.2-.3 2.3 .4 0-131.6-4.5 0-118.5 0 1.5 6.7 .3 4.5-.2 4.5-1.8 9-2.8 6.7-3.2 4.5-2.3 2.2-3.2 2.3-5.4 2.6-6.8 1.6 0 96.6zM762.9 494.9l-1.3-2.3 3.1-.8 6.8-.2 4.5 1-1.6 2.3-5.2 .6-4.5-.3zM716.3 443.4l-1.3-2.3 0-2.5 1.1-2 1.2-.9 2.2 .2 1.9 3 0 2.2-1.1 2.3-.8 .7-2.2 0zM764.4 409.7l-.6-2.2 .9-1.7 2.3-.8 2.2 .7 1.3 1.8-.5 2.2-.8 .6-2.2 .5-2.3-.8z" fill="#052af0" fill-rule="evenodd"/>
<path d="M667.6 544.2l127 0 4.6-6.7 3.9-3.7 2.3-1.4 2.3-.8 2.2-.4 2.3 0 0-115-6.8-5.1-4.5-2.5-4.5-1.7-4.6-.5-2.2 .3-2.3 1-8.1 6.5-3.2 1.7-4.5 1.5-4.5 .3-4.5-1-3.7-2.5-3.5-4.5-3.3-6.7-25 0-9.7 7.4-6.3 6.1-5 6.9-6.6 11-3.3 4.5-2.2 2.2-5.8 4.5-3.7 2.2-9.1 4.5-10 4.2 0 87.7zM721.6 494.9l4.7-.8 2.3 .1 3 .7-3 1.3-2.3 .3-2.2-.4-2.3-1zM759.5 494.9l-.9-2.3 6.1-1.8 6.8-.4 4.5 .7 2.3 .7 1.8 .8-1.5 2.3-2.6 .6-4.5 .7-4.5 0-6.8-1.1zM715.1 445.6l-2-2.2-1-2.3-.4-2.2 .2-2.3 .9-2.3 2.2-2.6 2.3-.7 2.2 .7 2.3 2.2 1.2 2.7 .5 2.3-.1 2.2-.6 2.3-1.8 2.2-1.5 .9-2.2 .1z" fill="#063bf4" fill-rule="evenodd"/>
<path d="M667.6 544.2l118.8 0 3.2-1.6 2.2-1.6 6.1-5.8 5.2-4 4.6-2.1 4.5-.7 0-37.8-3-2.4-1.5-2.3-.6-2.2-.1-2.3 .8-4.4 2.4-9 1.4-6.7 .4-6.7-.6-6.8-1.1-4.4-1.7-4.5-2.5-4.5-3-4-2.5-2.7-4.2-3.5-4.6-2.4-2.2-.7-4.5-.5-13.6 1.5-6.8-.4-4.5-1.7-2.3-1.3-2.6-2.2-6.4-6.4-2.3-1.7-2.2-.9-2.3-.3-2.2 .2-2.3 .7-4.5 2.8-3.4 3.3-3.6 4.5-2.7 4.5-.7 2.2 .1 2.3 2 6.7 .6 4.5-.7 4.5-1.3 2.2-1.6 1.7-2.3 1-2.2 .2-2.3-.6-3.6-2.3-3.2-2.7-2.2-.4-31.7 15.5-5.6 3.3-3.4 2.5 0 80.4zM721 497.1l-2.7-2.2 3.5-1.3 2.3-.4 4.5-.1 4.5 1 1.8 .8-3.2 2.2-5.4 .5-4.5-.3zM756.6 494.9l-.7-2.3 4.3-1.8 4.5-1 6.8-.3 4.5 .2 4.2 .7 2.6 1.1 1.8 1.1-1.8 2.3-6.8 1.7-4.5 .4-4.5 0-4.5-.5-4.6-1.1zM760.1 461.3l-2.4-2.3 .2-2.2 2.3-1.4 2.3 0 2.2 1.3 .6 2.3-.6 .9-1.8 1.4-2.7 0z" fill="#084df8" fill-rule="evenodd"/>
<path d="M667.6 544.2l99.1 0 13.8-2.6 6.8-2.1 4.5-2.4 11.3-8.2 4.6-2.2 4.5-1 0-26.4-11.3-4-4.5-1.1-2.3-.2-11.3 2.6-6.8 1-6.8 .2-6.7-.5-4.6-.9-4.3-1.5-.6-2.3 4.5-2.2 7.2-1.4 9.1-.6 11.3 .2 2.2-.2 2.3-.6 1.7-1.9 3.3-6.7 1.9-4.5 2.2-6.7 1.5-6.7 .4-4.5-.1-4.5-.8-4.5-1.5-4.4-2.4-4.5-3.6-4.5-2.5-2.2-4.6-2.9-4.6-1.5-13.5-1.4-4.5-1.1-2.3-1-4.5-2.9-6.8-5.8-2.3-1.4-2.2-.9-2.3-.2-2.2 .4-2.3 1-2.2 1.7-2.3 2.5-1.6 2.2-2.4 4.5-1.3 4.5-.6 11.2-1.7 4.5-1.8 2.2-1.9 1.4-2.3 .8-2.2 .2-2.3-.4-4.5-1.4-2.3-.4-2.2 .2-13.6 4.9-9 4.1-7.3 4.1-5.5 4.5-1.9 2.2-1.3 2.2-.7 2.3-.3 2.2 .3 2.3 1.7 4.4 4.5 6.8 1.2 2.2 0 2.2-2.1 2.3-6.7 2.7 0 46.6zM717.3 497.1l-2-2.2 2-1.1 3.4-1.2 7.9-.4 4.4 .4 2.4 .9 2.6 1.4-2.7 2.2-6.7 1.1-4.5 0-4.6-.5zM757.4 461.3l-1.5-2.3 0-2.2 2-2.5 2.3-.8 2.3-.1 2.8 1.2 1.7 1.8 .5 2.6-1.2 2.3-1.6 .9-2.2 .6-2.3-.2-2.3-.9z" fill="#0b62fa" fill-rule="evenodd"/>
<path d="M667.6 544.2l79.6 0 10.7-1.4 20.4-3.6 9-2.7 4.5-2.2 13.6-8.9 6.8-2.7 0-18.1-1.7-.8-9.6-3.5-6.8-1.8-6.8-.5-13.5 .6-9.1-.3-8.2-1.2-7-2.2-.2-2.3 4.4-2.2 6.5-1.7 18.1-2.6 2.2-1 2.2-1.4 2.4-2.4 2.8-4.3 1.4-4.5 .9-6.7 .9-9-.9-6.7-1.7-4.5-1.2-2.1-3.7-4.6-3.1-2.5-3.7-2-5.3-1.7-6.8-1.7-4.5-1.8-4.5-3.1-6.8-5.9-2.3-1.4-2.2-.7-2.3-.1-2.3 .7-2.9 2.2-3 4.5-2.5 6.8-1.6 8.9-.8 2.3-1.1 2.2-1.7 2.2-2.1 1.9-2.3 1.3-2.3 .6-2.2 .2-6.8-.7-4.5 .5-11.3 3.6-6.8 2.9-6 3.2-5.3 4-2.4 2.7-1.3 2.2-.7 2.3-.1 2.2 .4 2.3 .9 2.2 3.4 4.5 7.3 6.7 1.6 2.2-.5 2.3-3.8 2.2-7.2 2.3-8.9 2.1 0 42.7zM713.7 497.1l-1.9-2.2 4.3-2.3 3.4-.7 9.1-.5 4.5 .3 4.9 .9 4 2.3-3.4 2.2-3.2 .9-4.6 .7-6.7 .2-4.6-.4-4.5-1zM759.1 463.5l-3.4-2.1-1.4-2.4-.1-2.2 1-2.2 2.7-2.2 2.3-.8 2.3-.1 2.8 .8 1.7 .9 1.4 1.4 1.3 2.2 .1 2.2-1 2.3-3.3 2.2-3 .6-2.3-.2z" fill="#0e7dfa" fill-rule="evenodd"/>
<path d="M667.6 544.1l58.6 .1 13.7-1.1 18-2.4 20.4-3.9 9-2.7 6.8-3.5 18.1-12 0-8.5-4.5-3.1-4.6-2.1-9-3.1-4.5-1.1-4.5-.7-22.6-1.1-15.9-2.4-13.5 2.7-4.5 .4-6.8-.1-6.8-.8-6.3-1.6-3.4-2.2 5.2-2.3 6.8-1.3 11.3-.7 15.8 1.1 13.5-3.6 11.6-2.2 4.3-1.3 4.5-2.6 2.9-2.8 1.4-2.2 .8-2.3 .2-2.2-1.9-15.7-1-4.5-2.4-4.8-3.8-4.1-3.3-2.3-11-5.1-4.5-3.8-6.8-7-2.3-1.5-2.2-.8-2.3 .2-2.2 1.3-2.3 2.8-1.2 2.7-3.7 13.5-1.2 2.2-1.8 2.2-2.7 2.3-5.2 2.6-4.5 .7-9.1 .3-6.7 1.7-6.8 2.3-9.1 4.4-4.5 3.3-2.4 2.6-1.3 2.2-.7 2.3 0 2.2 .5 2.3 1.2 2.2 1.7 2.2 3.3 3 4.5 3.1 8.9 5.1 1.9 2.3-4.2 2.2-7.8 2.3-21.4 4.6 0 39.9zM756.5 463.5l-2.5-2.2-1.2-2.3-.3-2.2 .5-2.2 1.6-2.3 1.1-1.1 4.5-2 2.3-.3 2.2 .2 2.6 1 1.9 .9 1.7 1.3 1.8 2.3 .7 2.2-.1 2.2-1 2.3-2.7 2.2-4.9 1.6-4.5-.2-2.3-.7z" fill="#1198fa" fill-rule="evenodd"/>
<path d="M667.6 542.3l13.5 1 13.6 .4 15.8-.2 13.6-.7 18-1.6 15.8-2.2 13.6-2.5 9-2.2 6.8-2.3 6.8-3.6 8.8-6.6 2.5-2.3 1.9-2.2 .8-2.3-.5-2.2-1.8-2.2-3.1-2.3-6.3-2.9-6.8-2.2-7.6-1.6-35.4-3.4-13.5 1.8-6.8 .4-6.8-.2-13.5-1.3-4.5 .2-9.1 1.5-27.1 5.4 0 36zM703.7 490.4l4.5 .4 15.9-1.1 15.8 .2 4.5-.3 22.6-5 4.5-1.6 2.7-1.6 2.8-2.2 1.6-2.2 .7-2.3-.1-2.2-.9-2.6-2.3-3-2.2-1.2-2.3-.1-6.8 .7-4.5-.3-4.5-1.7-3.4-3-1.1-2.3-.6-2.2 .1-2.2 .6-2.3 4.1-6.7-.3-2.2-2.7-4.5-4.2-6.7-1.6-1.6-2.2-.9-.6 .2-1.7 .8-1.8 3.7-1.7 9-1.1 2.2-1.8 2.2-3.2 2.3-4.7 2.2-6 2-13.6 1.5-9 2.5-9 3.8-4.6 3-2.2 2.1-2.1 3-.7 2.3 .1 2.2 .4 1.5 1.6 3 2.9 2.9 4.6 3 9 4.1 4.5 1.2z" fill="#18b3f7" fill-rule="evenodd"/>
<path d="M685.6 542l11.3 .3 13.6-.2 15.8-.8 13.6-1.3 13.5-1.7 13.6-2.5 13.5-3.4 6.8-2.4 6.7-3.7 5.5-4.5 2-2.3 1.3-2.2 .3-2.3-.8-2.2-1.4-1.5-4.5-3-9.1-3.3-9-2.1-9.1-1.3-20.3-2-4.5 .1-15.8 1.3-22.6-.3-15.8 2.1-24.9 4.9 0 32.8 19.1 1.4zM706 488.3l4.5 .6 4.5 .1 20.4-.6 6.7-.5 15.8-2.8 6.8-1.6 4.5-1.7 4.2-2.6 1.8-2.2 .7-2.3-.4-2.2-1.7-2.5-2.3-1.4-2.1-.6-9.2-1-4.5-1.5-3-2-2.1-2.2-2.4-4.5-1.6-3.7-2.2-1.7-2.3-.2-20.3 4.8-11.3 1.3-6.8 1.5-9 3.3-6 3.7-2.4 2.2-1.4 2.2-.7 2.3 .1 2.2 .9 2.3 1.6 2.2 3.4 2.8 4.5 2.6 4.5 1.9 6.2 1.7z" fill="#21cdf3" fill-rule="evenodd"/>
<path d="M672.1 539.8l11.3 .9 13.5 .4 15.9-.2 13.5-.8 15.8-1.5 13.6-2 11.3-2.2 11.3-2.9 8.1-3 5.4-3.1 4.4-3.6 1.7-2.3 1-2.2 0-2.3-1.3-2.2-1.2-1.1-4.6-2.8-6.7-2.5-9.1-2.2-9-1.4-13.6-1.5-9-.3-15.8 .7-18.1 .2-6.8 .5-18.1 2.7-20.3 4.1 0 29.8 6.2 .7zM706 486.2l4.5 .8 6.8 .5 18.1-.8 15.8-2.1 9-1.5 4.5-1.3 4.5-2.2 2.9-2.6 .7-2.3-.8-2.2-.5-.6-2.1-1.7-2.4-.8-6.8-1.3-4.5-1.4-4.5-2.8-2.8-2.6-1.8-2.1-2.2-2-2.3-.9-2.2-.3-4.5 .1-22.6 2.5-4.6 .9-6.7 1.9-6.8 3-2.2 1.4-2.3 1.9-1.9 2.5-.7 2.3 .2 2.2 1 2.3 1.9 2.2 4 2.8 4.5 2.1 5.8 1.8z" fill="#29e2ea" fill-rule="evenodd"/>
<path d="M690.2 539.8l13.5 .2 15.8-.6 13.6-1 13.5-1.6 13.6-2.3 9-2 9.1-2.6 6.8-2.7 5.3-3.2 2.5-2.2 1.7-2.3 .7-2.2-.4-2.3-.8-1.1-.9-1.1-3.3-2.2-5.2-2.3-8.7-2.4-9-1.7-13.6-1.6-9-.4-33.9 .9-13.6 1.5-13.5 2.1-18.1 3.9 0 27 11.3 1.4 11.6 .7zM706 484.2l4.5 .9 6.8 .7 11.3-.2 27.1-3.1 4.5-1 4.5-1.5 1.8-.8 2.6-2.2 .7-2.3-1.2-2.2-4.4-2.3-6.3-1.5-4.5-1.8-4.5-2.8-4.5-3.3-2.3-1.1-4.5-.8-4.5-.2-6.8 .2-13.5 1.4-6.8 1.4-5.3 1.8-4.4 2.3-2.9 2.2-1.7 2.2-.8 2.3 .3 2.2 1.1 2.3 2.4 2.3 4.5 2.6 4.9 1.8z" fill="#30e9cc" fill-rule="evenodd"/>
<path d="M674.3 537.6l11.3 .9 11.3 .5 13.6-.1 13.6-.7 13.5-1.2 11.3-1.6 11.3-2 11.3-2.8 9-3.2 6.5-3.4 2.6-2.2 1.6-2.3 .5-2.2-.7-2.3-2.1-2.2-1.6-1-4.5-2.2-6.8-2.1-13.5-2.6-13.6-1.3-11.3-.3-18.1 .5-13.5 .9-15.8 2-13.6 2.5-11.3 2.8 0 24.3 8.1 1.2zM715 483.9l11.3 .1 27.1-2.7 4.5-.7 4.6-1.3 3.5-2.3 .7-2.3-1.7-2.2-12.4-4.5-10.5-5.4-4.5-1.2-6.8-.7-6.7 .1-9.1 .8-9.1 1.9-5.5 2.3-3.4 2.2-2 2.2-.7 2.3 .2 2.2 1.5 2.3 2.7 2.2 4.7 2.2 4.8 1.4 4.8 .9z" fill="#37f0ad" fill-rule="evenodd"/>
<path d="M685.6 537.5l11.3 .5 13.6 0 13.6-.7 11.3-1 13.5-1.9 9-1.7 9.1-2.1 9-3 6.8-3.2 3.4-2.6 1.5-2.3 .4-2.2-.9-2.3-2.5-2.2-4.5-2.2-7-2.3-8.5-1.7-11.3-1.5-11.3-.7-13.5 0-13.6 .6-13.5 1.3-11.3 1.5-13.6 2.6-11.3 2.9 0 21.7 9 1.5 10.6 1zM710.5 481.5l6.8 .9 9-.2 13.6-1.4 13.5-.9 4-.7 2.8-1 2.3-1.2 .8-2.3-2.4-2.2-14.3-5.3-4.5-1.9-4.5-1.4-4.5-.9-6.8-.5-11.3 .7-4.5 .8-5.5 1.8-4.2 2.2-2.2 2.2-.9 2.3 .4 2.2 1.7 2.3 3.5 2.2 6.9 2.2z" fill="#30e97e" fill-rule="evenodd"/>
<path d="M674.3 535.4l9.1 1 11.3 .6 11.3 .2 13.5-.5 11.3-.8 13.6-1.7 11.3-2 9-2.2 6.8-2.1 6.8-3 4.5-3.1 1.5-2.3 .3-2.2-1.2-2.3-2.9-2.2-5.1-2.2-6.2-1.8-11.3-2-11.3-1.1-11.2-.4-13.6 .3-13.6 .9-11.3 1.3-13.5 2.2-12.2 2.8-5.9 1.8 0 19.1 8.1 1.5zM710.5 479.6l6.8 1 6.8 0 15.8-1.6 11.3-.6 6.7-1.4 1.3-2.3-3.2-2.2-11.6-3.7-9.3-3-6.5-1.2-9.1-.1-4.5 .4-4.5 1-5.3 2.1-2.8 2.2-1 2.3 .5 2.2 2.3 2.3 5 2.2z" fill="#29e24e" fill-rule="evenodd"/>
<path d="M683.4 535.4l9 .7 11.3 .3 11.3-.3 11.3-.7 11.3-1.1 11.3-1.8 9-1.8 9.1-2.6 5-1.8 4.5-2.3 1.8-1.4 1.1-.8 1.6-2.3 .1-2.2-1.4-2.3-3.7-2.3-6.8-2.5-8.4-1.9-9.6-1.2-11.3-.7-13.6-.1-13.5 .7-11.3 1.1-13.6 2-11.3 2.4-8.8 2.5-2.5 1 0 16.3 6.8 1.6 9.3 1.3zM710.5 477.2l4.5 1.1 6.8 .4 4.5-.4 13.6-1.9 9-.8 3-.9-5.1-2.2-4.7-1.2-8.7-3.3-4.8-1.1-6.8-.6-6.8 .7-4 1-2.8 1.4-1.2 .8-1.3 2.3 .8 2.2 3.3 2.3z" fill="#31dc32" fill-rule="evenodd"/>
<path d="M694.7 535.3l11.3 .2 11.3-.3 11.3-.8 11.3-1.3 11.3-1.9 9-2.2 8.3-2.7 4.6-2.3 3-2.2 1.6-2.3 0-2.2-1.7-2.3-2.2-1.4-4.6-1.9-6.7-1.9-6.8-1.2-9.1-.9-11.2-.6-11.3 .1-11.3 .6-11.3 1.2-9.1 1.3-11.3 2.1-9.6 2.6-6.2 2.4 0 13.5 6.8 1.8 4.5 .9 16 1.6zM715 475.3l2.3 .5 4.5 .2 7.7-1.3 2.2-2.2-3.1-2.3-6.8-1.2-4.5 .3-2.3 .5-1.2 .4-2.2 2.3 1.6 2.2z" fill="#3cd71a" fill-rule="evenodd"/>
<path d="M681.1 533.3l9.1 .9 9 .5 11.3 0 11.3-.5 9-.8 11.3-1.5 9.1-1.6 9-2.4 4.9-1.6 4.1-2 3.7-2.5 1.5-2.3-.1-2.2-1.9-2.3-4.3-2.2-5.6-1.7-6.8-1.4-9.1-1.1-9-.5-11.3-.1-11.3 .5-11.3 1-11.3 1.6-8.6 1.7-8.6 2.2-6.2 2.3-3.7 1.9 0 9.9 4.5 1.8 9.4 2.1z" fill="#67df1b" fill-rule="evenodd"/>
<path d="M687.9 533.1l9 .7 9.1 .2 11.3-.3 9-.6 11.3-1.3 9-1.5 7.9-1.8 7.2-2.2 4.9-2.3 3.2-2.2 1.4-2.3-.2-2.2-2.3-2.3-4.8-2.2-8.2-2-9.1-1.3-9-.6-11.3-.1-11.3 .5-9 .8-18.1 2.7-9 2.2-6.6 2.3-4.5 2.2-2.5 2.1 0 5.1 2.4 1.8 6.1 2.2 12.5 2.3z" fill="#93e71d" fill-rule="evenodd"/>
<path d="M696.9 533l18.1 .1 11.3-.8 9.1-1 15.3-2.8 7.6-2.2 5.1-2.3 3.2-2.2 1.5-2.3-.5-2.2-2.6-2.3-5.6-2.2-6-1.3-6.8-1-9-.7-18.1 0-9 .6-11.3 1.3-9 1.6-7.6 1.7-6.9 2.3-4.7 2.2-2.8 2.3-1 2.2 1 2.3 3.4 2.2 5 1.7 4.5 1 6.8 1 8.8 .8z" fill="#b9ec1e" fill-rule="evenodd"/>
<path d="M685.6 531l6.8 .8 9.1 .6 18-.3 9.1-.7 9-1.2 9.1-1.7 6.7-1.8 6.8-2.7 3.3-2.2 1.4-2.3-.6-2.2-3.1-2.3-3.3-1.2-3.3-1-5.7-1-6.8-.9-9-.5-18.1 .4-17.5 2-7.3 1.4-6.8 1.7-4.3 1.4-4.9 2.2-2.9 2.3-.9 2.2 1.2 2.3 4 2.2 8.5 2.2z" fill="#d9ed1e" fill-rule="evenodd"/>
<path d="M692.4 531l15.8 .7 18.1-.8 16.2-2.4 10.9-3 3.6-1.5 3.4-2.2 1.3-2.3-.8-2.2-3.6-2.3-3.9-1.2-4.5-1-6.8-.9-15.8-.7-15.8 .8-15.8 2.2-12.2 3.1-5.1 2.2-2.9 2.3-.8 2.2 1.5 2.3 4.5 2.2 10.8 2.2z" fill="#f9ee1e" fill-rule="evenodd"/>
<path d="M701.5 530.8l15.8 0 13.5-1.2 7.2-1.1 6.4-1.4 3.3-.8 6-2.3 3.5-2.2 1.3-2.3-1.1-2.2-4.3-2.3-4.2-1-6.4-1.2-7.1-.6-15.9-.1-15.8 1.4-9 1.5-4.5 1.1-4.1 1.2-5.4 2.2-3 2.3-.7 2.2 1.8 2.3 6.8 2.5 6.8 1.2 7.8 .7z" fill="#fbd21b" fill-rule="evenodd"/>
<path d="M690.2 528.6l6.7 1 6.8 .4 13.6 0 15.5-1.5 11-2.2 6.5-2.3 3.6-2.2 1.2-2.3-1.4-2.2-2.5-1.2-2.7-1.1-6.4-1.2-11.9-1-15.2 .4-15.7 1.8-9.5 2.3-5.8 2.2-3.1 2.3-.5 2.2 2.2 2.3 6.8 2.2z" fill="#fcb518" fill-rule="evenodd"/>
<path d="M696.9 528.6l11.3 .7 13.6-.4 13.6-1.8 4.3-.8 4.7-1.5 2.3-.8 3.8-2.2 1.1-2.3-1.9-2.2-.8-.4-4.5-1.5-4.5-.9-11.3-.8-11.3 .1-12.5 1.2-11.1 2.3-6.2 2.2-3.2 2.3-.4 2.2 2.9 2.3 9 2.2z" fill="#fb9616" fill-rule="evenodd"/>
<path d="M708.2 528.5l11.3-.3 13.6-1.6 9.8-2.6 4.1-2.2 .9-2.3-2.5-2.2-5.5-1.5-4.2-.8-9.4-.5-13.5 .5-11.3 1.6-3.4 .7-6.8 2.2-3.4 2.3-.2 2.2 3.8 2.3 7.7 1.5 9 .7z" fill="#fa7615" fill-rule="evenodd"/>
<path d="M699.2 526.6l9 .9 11.3-.2 9.8-1 9.4-2.3 4.4-2.2 .7-2.3-3.5-2.2-4.9-1-6.8-.7-9.1-.1-9 .7-9 1.5-6.2 1.8-3.5 2.3 .1 2.2 5.2 2.3z" fill="#f85614" fill-rule="evenodd"/>
<path d="M706 526.3l6.8 .2 7.7-.2 13.3-2.3 4.9-2.2 .5-2.3-5.7-2.2-4.9-.6-6.8-.2-9 .5-4.6 .6-8.2 1.9-3.8 2.3 .6 2.2 4.7 1.5 4.3 .8z" fill="#f34013" fill-rule="evenodd"/>
<path d="M703.7 524.1l4.5 .7 6.8 .4 11.3-1 7.1-2.4-.3-2.3-4.5-1.1-4.5-.5-6.8 0-6.8 .8-4.6 .8-4.4 2.3 1.8 2.2z" fill="#ef2b12" fill-rule="evenodd"/>
<path d="M710.5 522.3l4.5 .8 4.5-.2 6.1-1.1-1.5-1.2-2.3-.8-4.5-.1-8 2.1z" fill="#ec2012" fill-rule="evenodd"/>
<path d="M665.3 543.7l6.7 .5M723 544.2l14.6-1.1 18.1-2.3 13.5-2.3 13.6-3.2 4.5-1.5 4.5-2.1 18.3-12.2 2.1-1.7M812.2 511.1l-3.3-2.8-5.8-3-6.7-2.5-6.8-1.8-6.8-.9-20.3-1.1-15.9-2.2-13.5 2.5-9 .4-9.1-.9-7.4-1.7-3.9-1.9-2.2 0-5.1 1.9-8.2 2.3-22.9 4.9M699.2 493.4l2.3 1.1 2.2 0 9.1-2.6 11.3-1.3 20.3 .9 11.3-3.1 15.8-3.3 4.5-2 4.6-3.9 1.5-2.2 .9-4.5-2.8-15.7-2.1-6.7-2.1-3.2-3.7-3.5-12.1-6.3-5.5-4.9-3.9-4.5-4.2-3.3-2.2-.8-2.3 .2-2.2 1.4-2.3 3.2-1.4 3.8-2 8.9-2.1 4.5-4.6 4.5-4.1 2.2-3.9 1.1-11.3 .6-9 2.4-11.3 4.7-6.7 4.7-2 2.2-1.3 2.2-.7 2.3 0 2.2 .6 2.3 1.2 2.2 2.1 2.6 4.5 3.7 12.9 7.1zM757.9 464.4l-2.2-1.3-1.9-1.8-1.2-2.3-.3-2.2 .5-2.2 1.4-2.3 1.5-1.5 4.5-2 4.5-.2 4.1 1.5 3.2 2.2 1.5 2.3 .8 2.2-.3 2.2-1 2.3-2.8 2.2-3.2 1.3-4.5 .5-2.3-.3z" fill="none" stroke="#1a3a2a" stroke-width="0.45" opacity="0.75"/>
<path d="M665.3 538.6l20.3 1.9 22.6 .2 24.9-1.5 20.3-2.5 20.4-4.3 11.3-3.8 4.5-2.3 3.4-2.3 4.1-4.5 .9-2.2-.1-2.3-1.4-2.2-2.8-2.2-6.4-2.9-6.8-2-8.7-1.9-20.6-2.3-9.1-.2-36.1 1.3-20.4 2.8-20.3 4.2M708.2 486.1l11.3 1 18.1-1.1 22.6-3.3 4.5-1.3 4.4-2.2 2.3-2.2 .6-2.3-.8-2.2-3.1-2.3-12.4-3.2-4.5-2.6-3.5-3.1-3.3-3.1-2.3-1-4.5-.4-6.8 .3-22.6 2.8-6.7 1.9-6.8 3.2-3.9 3-1.6 2.2-.7 2.3 .1 2.2 1.1 2.3 2.7 2.8 4.5 2.8 4.6 1.8 5.8 1.5z" fill="none" stroke="#1a3a2a" stroke-width="0.45" opacity="0.75"/>
<path d="M665.3 535.7l18.1 2.2 18.1 .7 20.3-.7 22.6-2.2 20.3-3.9 13.6-4.2 6.8-3.4 3-2.4 1.6-2.3 .4-2.2-.8-2.3-2.3-2.2-4.1-2.2-6.4-2.3-14-2.8-18.1-1.6-20.3 .1-18.1 1.1-20.4 2.9-20.3 4.5M708.2 482l6.8 1.2 9.1 .2 29.3-2.7 7.2-1.5 3.9-2.2 .8-2.3-.6-.7-1.5-1.5-14.3-5.5-9-4-9.1-1.4-13.5 .4-6.8 1-4.5 1.3-3.7 1.5-3.7 2.2-2 2.2-.9 2.3 .4 2.2 1.5 2.3 3 2.2 5.4 2.2z" fill="none" stroke="#1a3a2a" stroke-width="0.45" opacity="0.75"/>
<path d="M665.3 532.4l6.8 1.6 8.7 1.2 18.4 1.2 20.3-.4 20.4-2 18-3.3 8.2-2.2 6.1-2.2 4.5-2.3 2.9-2.2 1.6-2.3 .1-2.2-1.4-2.3-3.3-2.2-9.6-3.3-13.6-2.3-18-1-20.4 .6-18.1 1.8-18 3.3-13.6 4M710.5 477.4l4.5 1 6.8 .4 27.1-2.8 3.8-1.3-5-2.2-5.6-1.5-8.1-3-5.4-1.2-6.8-.6-6.8 .6-4.5 1.2-3.8 2.2-.7 1.2-.6 1.1 .7 2.2 3.3 2.3z" fill="none" stroke="#1a3a2a" stroke-width="0.45" opacity="0.75"/>
<path d="M665.3 528.9l4.5 1.8 6.8 1.7 13.6 1.7 18 .5 18.1-.8 18.1-2.3 13.5-3 6.7-2.2 4.8-2.3 3.1-2.2 1.5-2.3-.1-2.2-2-2.3-4.3-2.2-5.1-1.6-13.6-2.3-18.1-.8-20.3 .8-18.1 2.3-16.7 3.8-6.3 2.3-4.1 2.1" fill="none" stroke="#1a3a2a" stroke-width="0.45" opacity="0.75"/>
<path d="M683.4 531l15.8 1.6 20.3-.2 18.1-1.9 15.8-3.4 8-3.1 3.3-2.2 1.4-2.3-.6-2.2-2.8-2.3-2.5-1-3.8-1.2-7.5-1.4-15.8-1.3-15.8 .3-18.1 1.8-15.8 3.3-5.6 1.8-4.8 2.2-2.8 2.3-1 2.2 1.1 2.3 3.7 2.2 8 2.2z" fill="none" stroke="#1a3a2a" stroke-width="0.45" opacity="0.75"/>
<path d="M703.7 530.8l15.8-.3 15.9-1.7 11.8-2.5 6.1-2.3 2.4-1.5 1.1-.7 1.3-2.3-1.2-2.2-3.5-1.9-9-2.2-11.3-1-15.8 .1-13.6 1.3-13.5 2.7-9.1 3.2-3 2.3-.7 2.2 1.9 2.3 5.6 2.2 3 .6 14.4 1.6z" fill="none" stroke="#1a3a2a" stroke-width="0.45" opacity="0.75"/>
<path d="M703.7 528.6l11.3 .2 11.3-.9 10.5-1.6 7.6-2.3 3.9-2.2 1-2.3-2.2-2.2-7.2-2.1-6.8-.7-11.3-.3-12.8 .8-12.6 2.3-6.6 2.2-3.2 2.3-.3 2.2 3.9 2.4 11.3 2.1z" fill="none" stroke="#1a3a2a" stroke-width="0.45" opacity="0.75"/>
<path d="M703.7 526.3l9.1 .4 9-.4 13-2.3 4.8-2.2 .5-2.3-4.7-2.1-2.3-.4-9-.7-9.1 .3-6.8 .7-9.1 2.2-3.8 2.3 .6 2.2 7.7 2.3z" fill="none" stroke="#1a3a2a" stroke-width="0.45" opacity="0.75"/>
</g>
<path d="M667.5 405.3 V541.9 H810.3" fill="none" stroke="#000" stroke-width="1"/>
<line x1="667.5" y1="541.9" x2="667.5" y2="544.5" stroke="#000" stroke-width="0.8"/>
<text x="667.5" y="556.3" font-family="'Liberation Serif', serif" font-size="12" font-weight="bold" text-anchor="middle" fill="#000" >0</text>
<line x1="678.5" y1="541.9" x2="678.5" y2="543.3" stroke="#000" stroke-width="0.8"/>
<line x1="689.4" y1="541.9" x2="689.4" y2="544.5" stroke="#000" stroke-width="0.8"/>
<text x="689.4" y="556.3" font-family="'Liberation Serif', serif" font-size="12" font-weight="bold" text-anchor="middle" fill="#000" >2</text>
<line x1="700.4" y1="541.9" x2="700.4" y2="543.3" stroke="#000" stroke-width="0.8"/>
<line x1="711.3" y1="541.9" x2="711.3" y2="544.5" stroke="#000" stroke-width="0.8"/>
<text x="711.3" y="556.3" font-family="'Liberation Serif', serif" font-size="12" font-weight="bold" text-anchor="middle" fill="#000" >4</text>
<line x1="722.3" y1="541.9" x2="722.3" y2="543.3" stroke="#000" stroke-width="0.8"/>
<line x1="733.3" y1="541.9" x2="733.3" y2="544.5" stroke="#000" stroke-width="0.8"/>
<text x="733.3" y="556.3" font-family="'Liberation Serif', serif" font-size="12" font-weight="bold" text-anchor="middle" fill="#000" >6</text>
<line x1="744.2" y1="541.9" x2="744.2" y2="543.3" stroke="#000" stroke-width="0.8"/>
<line x1="755.2" y1="541.9" x2="755.2" y2="544.5" stroke="#000" stroke-width="0.8"/>
<text x="755.2" y="556.3" font-family="'Liberation Serif', serif" font-size="12" font-weight="bold" text-anchor="middle" fill="#000" >8</text>
<line x1="766.1" y1="541.9" x2="766.1" y2="543.3" stroke="#000" stroke-width="0.8"/>
<line x1="777.1" y1="541.9" x2="777.1" y2="544.5" stroke="#000" stroke-width="0.8"/>
<text x="777.1" y="556.3" font-family="'Liberation Serif', serif" font-size="12" font-weight="bold" text-anchor="middle" fill="#000" >10</text>
<line x1="788.1" y1="541.9" x2="788.1" y2="543.3" stroke="#000" stroke-width="0.8"/>
<line x1="799" y1="541.9" x2="799" y2="544.5" stroke="#000" stroke-width="0.8"/>
<text x="799" y="556.3" font-family="'Liberation Serif', serif" font-size="12" font-weight="bold" text-anchor="middle" fill="#000" >12</text>
<line x1="810" y1="541.9" x2="810" y2="543.3" stroke="#000" stroke-width="0.8"/>
<line x1="664.9" y1="541.9" x2="667.5" y2="541.9" stroke="#000" stroke-width="0.8"/>
<text x="663.9" y="545.9" font-family="'Liberation Serif', serif" font-size="12" font-weight="bold" text-anchor="end" fill="#000" >1.0</text>
<line x1="666.1" y1="530.5" x2="667.5" y2="530.5" stroke="#000" stroke-width="0.8"/>
<line x1="664.9" y1="519.1" x2="667.5" y2="519.1" stroke="#000" stroke-width="0.8"/>
<text x="663.9" y="523.1" font-family="'Liberation Serif', serif" font-size="12" font-weight="bold" text-anchor="end" fill="#000" >1.5</text>
<line x1="666.1" y1="507.8" x2="667.5" y2="507.8" stroke="#000" stroke-width="0.8"/>
<line x1="664.9" y1="496.4" x2="667.5" y2="496.4" stroke="#000" stroke-width="0.8"/>
<text x="663.9" y="500.4" font-family="'Liberation Serif', serif" font-size="12" font-weight="bold" text-anchor="end" fill="#000" >2.0</text>
<line x1="666.1" y1="485" x2="667.5" y2="485" stroke="#000" stroke-width="0.8"/>
<line x1="664.9" y1="473.6" x2="667.5" y2="473.6" stroke="#000" stroke-width="0.8"/>
<text x="663.9" y="477.6" font-family="'Liberation Serif', serif" font-size="12" font-weight="bold" text-anchor="end" fill="#000" >2.5</text>
<line x1="666.1" y1="462.2" x2="667.5" y2="462.2" stroke="#000" stroke-width="0.8"/>
<line x1="664.9" y1="450.8" x2="667.5" y2="450.8" stroke="#000" stroke-width="0.8"/>
<text x="663.9" y="454.8" font-family="'Liberation Serif', serif" font-size="12" font-weight="bold" text-anchor="end" fill="#000" >3.0</text>
<line x1="666.1" y1="439.4" x2="667.5" y2="439.4" stroke="#000" stroke-width="0.8"/>
<line x1="664.9" y1="428.1" x2="667.5" y2="428.1" stroke="#000" stroke-width="0.8"/>
<text x="663.9" y="432.1" font-family="'Liberation Serif', serif" font-size="12" font-weight="bold" text-anchor="end" fill="#000" >3.5</text>
<line x1="666.1" y1="416.7" x2="667.5" y2="416.7" stroke="#000" stroke-width="0.8"/>
<line x1="664.9" y1="405.3" x2="667.5" y2="405.3" stroke="#000" stroke-width="0.8"/>
<text x="663.9" y="409.3" font-family="'Liberation Serif', serif" font-size="12" font-weight="bold" text-anchor="end" fill="#000" >4.0</text>
<text transform="translate(643 474.6) rotate(-90)" font-family="'Liberation Serif', serif" font-size="12" font-weight="bold" text-anchor="middle" fill="#000">R+a (Å)</text>
<text x="738.4" y="572.7" font-family="'Liberation Serif', serif" font-size="12" font-weight="bold" text-anchor="middle" fill="#000">k (Å<tspan dy="-4" font-size="8">-1</tspan><tspan dy="4">)</tspan></text>
<text x="670.9" y="422.7" font-family="'Liberation Serif', serif" font-size="15.3" fill="#fff" >CuO</text>
<text x="718.5" y="522.8" font-family="'Liberation Serif', serif" font-size="12.5" text-anchor="middle" fill="#2a0a0a" >Cu-O</text>
<text x="755" y="479" font-family="'Liberation Serif', serif" font-size="12.5" text-anchor="middle" fill="#0a2a1a" >Cu-Cu</text>
<clipPath id="eClip2"><rect x="859.3" y="409.6" width="142.2" height="136"/></clipPath>
<g clip-path="url(#eClip2)">
<rect x="858.3" y="408.6" width="144.2" height="138" fill="#0416e2"/>
<path d="M859.4 547.9l144 0 0-140.6-27.6 0 5.8 2.3 4.2 2.2 4.1 3.4 2.3 3.2 .5 2.3-.2 2.2-1.2 2.3-2.2 2.2-1.4 .9-2.5 1.3-4.3 1.6-6.7 1.5-9 .9-9 .2-9-.4-11.3-1.4-9-2.2-5.5-2.4-3.7-2.2-2.7-2.3-2-2.2-1.2-2.2-.4-2.2 .4-2.3 1.4-2.2 2.4-2.1 4.8-2.4-63.3 0 0 140.6zM965.1 467.6l-2.2-1.4-.5-.9 .5-.9 2.1-1.3 .5 0 1.9 .7 1.2 1.5-1.2 1.5-2.2 .8z" fill="#0420e9" fill-rule="evenodd"/>
<path d="M859.4 547.9l144 0 0-66.3-9-9.6-2.2-1.8-2.3-1.1-2.2-.3-2.3 .5-5.2 2.7-6 2.2-6.8 .8-4.5-.5-4.5-1.5-2.2-1.4-2-1.8-1.5-2.2-.7-2.3-.2-2.2 .3-2.2 1.4-4.5 .2-2.2-1.7-2.3-4.8-1.7-15.8-2.9-4.5-.4-2.2 .2-.7 .4-1.6 2-1.7 4.7-2.8 2.7-2.3 1-2.2 .3-2.3-.4-2.2-1.2-1.8-2.4-.5-2.3 .4-2.2 1.9-3.4 1.1-1 1.2-2.3-.8-2.2-2.9-2.2-3.1-1.8-9-3.8-4.5-1.2-4.5-.8-6.8 .2-4.5 .9-4.5 1.7-4.4 2.5-3.1 2.3-6 5.8 0 103.5z" fill="#052af0" fill-rule="evenodd"/>
<path d="M859.4 547.9l132.2 0 3.2-4.5 2.3-2.2 1.8-.8 2.3 .2 2.2 1.2 0-39.3-25.8-10.4-4.9-2.2-9.8-5.2-9-4.4-4.5-2.7-4.2-3.3-7-6.5-3.9-2.5-2.9-1.3-4.5-1.5-2.2-.3-6.8 .3-4.5-.3-4.5-1.6-2.3-1.5-2.4-2.7-1.3-2.2-3-7.5-2.3-2-2.2-1.1-4.5-1.1-6.8-.2-4.5 .9-4.5 2-4.5 3.1-2.2 2.1-3.2 3.8-3.7 6.7-1.9 6.7-1.4 11.1-1.1 4 0 65.2zM946.7 496.6l.2-2.3 2.5-1 2.3-.5 4.5-.1 2.2 .3 3.3 1.3-.8 2.3-4.7 1.1-4.5 .1-4.5-1.1zM911.1 489.9l-1-2.3 3.3-1.3 4.5-.4 2.2 .3 3 1.4-1.9 2.3-1.1 .2-4.5 .4-4.5-.6z" fill="#063bf4" fill-rule="evenodd"/>
<path d="M859.4 547.9l124 0 4.3-2.5 6.7-7.5 2.3-1.9 2.2-1 2.3-.2 2.2 .4 0-24.9-13.5-5.7-13.5-4.2-6.7-.9-13.5 .7-9-.7-3.1-.7-4.7-2.2-2.2-2.3-1.3-1.5-2.2-.7-2.3-.1-11.3 1.1-4.5 0-6.7-.8-4.5-2-.6-.4-.6-2.3 1.2-1.4 2.2-1.8 7.3-3.5 1.4-2.2-.4-2.2-1.8-4.5-2.8-4.4-5.9-5.5-6.8-7.7-2.2-2-2.3-1.2-4.5-1.1-4.5 .2-4.5 1.2-4.5 2.4-2.2 1.9-2.3 2.4-2.2 3.6-1.5 3.5-.5 2.3-.3 4.4 1.6 15.6 1.6 2.3 5.8 3.2 1.6 1.2-.3 2.3-3.5 1.3-3.5 .9-5.5 .4-6.8 0 0 48.7z" fill="#084df8" fill-rule="evenodd"/>
<path d="M859.4 547.9l111 0 10.5-2.7 4.5-2.2 2.3-1.8 6.7-7.4 2.3-1.9 2.2-1.3 4.5-1.2 0-12.5-4.5-3.1-6.7-3.5-9-3.5-6.8-2.1-9-1.9-20.2-1.6-9-2-9-2.7-20.3-1.7-4.5-.9-5.4-1.8-2.9-2.2-.5-2.3 1.2-2.2 3.9-4.5 1-2.2 .5-2.2 .1-4.5-1-4.4-1.1-2.3-2.6-3.4-2.2-2.3-2.3-1.6-2.2-1-2.3-.6-4.5 0-2.2 .4-3.9 1.8-2.9 2.5-2.2 3.3-1.1 3.2-.1 4.4 1.2 4.6 4.5 8.7 1.4 2.3 4.4 4.5 1 2.2-1.4 2.3-4.7 2.2-7.5 1.5-13.5 1.3 0 46.3z" fill="#0b62fa" fill-rule="evenodd"/>
<path d="M859.4 547.9l97.9 0 7.9-1.4 11.2-2.8 6.8-2.6 4.5-3.3 10.3-12.2 .8-2.3-.2-2.2-1.2-2.2-2.2-2.3-5.3-3.4-7.7-3.3-10.3-3.2-9-2-18-2.2-18-3.3-29.3-2.7-6.7 .6-5.3 1.7-10.5 2.4-18 2.6 0 44.1zM886.4 478.9l2.2-.3 2.3-1.2 1-.9 1.6-2.2 .7-2.3 .1-2.2-1.2-3.4-2.2-2.5-2.3-1.3-2.2-.5-2.3 .1-2.8 .9-2.6 2.2-1.2 2.3-.3 2.2 .3 2.2 2.1 3.7 2.3 1.9 3.3 1.1z" fill="#0e7dfa" fill-rule="evenodd"/>
<path d="M859.4 546.4l10.5 1.5 74.1 0 12.2-1.8 15.7-3.4 9-3.1 4.5-2.9 4.2-4.4 2.8-4.5 .9-2.2 .4-2.3-.5-2.2-1.4-2.2-4.1-3.3-7.2-3.4-10.8-3.6-13.5-2.9-27-3.9-24.8-1.9-6.8-.2-6.7 .5-33.8 5.7 0 40.1z" fill="#1198fa" fill-rule="evenodd"/>
<path d="M866.1 545.8l9 1.1 11.3 1 41.1 0 12.9-1.1 13.5-2 11.3-2.3 9-2.6 6.7-2.9 4.5-3.4 2.8-3.6 1-2.2 .6-2.2 0-2.3-.9-2.2-1.2-1.5-3.8-3-5.2-2.6-6.8-2.5-13.5-3.5-18-3-13.5-1.5-22.5-1.4-9 0-9 .7-15.8 2.3-13.5 2.7 0 36.5 8.1 1.3z" fill="#18b3f7" fill-rule="evenodd"/>
<path d="M877.4 545.8l13.5 1.1 13.5 .4 13.5-.2 13.5-.8 13.5-1.5 13.5-2.4 9-2.2 9-3.3 4.5-2.5 2.5-2.1 1.7-2.3 1-2.2 .4-2.2-.3-2.3-1.3-2.2-2.4-2.2-6.1-3.4-6.7-2.7-10.2-2.9-12.3-2.4-13.5-1.8-15.8-1.3-18-.6-9 .3-9 .9-11.3 1.7-13.5 2.8 0 33.2 9 1.7 10 1.2z" fill="#21cdf3" fill-rule="evenodd"/>
<path d="M890.9 545.7l11.2 .4 13.5-.1 15.8-.9 11.3-1.3 11.2-1.8 11.3-2.9 6.8-2.4 4.6-2.2 2.1-1.5 3-3 1.1-2.2 .3-2.2-.6-2.3-1.6-2.1-2.8-2.3-6.2-3.2-9-3.2-9-2.3-11.2-2-11.3-1.4-11.3-.8-13.5-.6-11.2 0-9 .6-9 1-11.3 2-9 2 0 30.3 15.8 2.7 17.5 1.6z" fill="#29e2ea" fill-rule="evenodd"/>
<path d="M877.4 543.4l11.2 1.1 13.5 .6 13.5-.1 11.3-.6 13.5-1.4 9-1.5 9-1.9 9-2.9 6.8-3.3 1.7-1.1 2.2-2.3 1.2-2.2 .2-2.2-.8-2.3-1.8-2.2-2.7-2-4.6-2.5-6.7-2.5-9-2.4-11.2-2.2-11.3-1.4-15.8-1.2-15.7-.3-11.3 .5-11.2 1.3-11.3 2-9 2.1 0 27.4 9 1.9 11.2 1.6z" fill="#30e9cc" fill-rule="evenodd"/>
<path d="M888.6 543.5l11.3 .5 13.5 .1 11.3-.6 13.5-1.3 11.2-1.8 9-2.2 9-3.3 4.7-2.6 2.4-2.3 1.3-2.2 .2-2.2-.9-2.3-3.2-3.1-2-1.3-4.6-2.3-6.3-2.2-9.6-2.4-9-1.6-11.2-1.4-11.3-.8-13.5-.4-11.3 .2-9 .7-11.2 1.6-15.8 3.6 0 24.6 6.8 1.7 9 1.6 15.1 1.6z" fill="#37f0ad" fill-rule="evenodd"/>
<path d="M877.4 541.4l11.2 1.1 11.3 .6 13.5 0 11.3-.5 11.2-1.1 11.3-1.8 9-2.2 6.7-2.4 5.5-2.8 2.6-2.3 1.4-2.2 .2-2.2-1-2.3-2.1-2.2-3.5-2.2-3.1-1.5-6.7-2.4-9-2.3-11.3-1.9-13.5-1.3-13.5-.6-11.3 0-9 .5-11.2 1.3-11.3 2.2-9 2.5 0 21.8 9 2.3 10 1.7z" fill="#30e97e" fill-rule="evenodd"/>
<path d="M884.1 541.2l11.3 .9 11.2 .2 11.3-.2 11.3-.8 11.2-1.5 9-1.8 6.8-1.9 6.7-2.8 2-1 2.8-2.3 1.4-2.2 .2-2.2-1-2.3-2.3-2.2-3.7-2.2-6.1-2.5-9-2.5-9.4-1.7-10.9-1.4-11.3-.7-11.2-.3-11.3 .3-11.2 1-9 1.5-8 1.8-7.8 2.4 0 19 11.9 3.1 15 2.3z" fill="#29e24e" fill-rule="evenodd"/>
<path d="M895.4 541.2l11.2 .3 11.3-.3 11.3-.8 9-1.2 9-1.7 9-2.8 5.3-2.4 2.9-2.3 1.5-2.2 .2-2.2-1.1-2.3-2.4-2.2-3.9-2.2-5.9-2.3-7.9-2.1-9-1.6-9-1.1-9-.7-11.3-.4-9 .2-9 .5-9 1.1-9 1.7-6.7 1.7-6.8 2.4 0 16 7.1 2.4 8.7 2 11.2 1.6 11.2 .9z" fill="#31dc32" fill-rule="evenodd"/>
<path d="M881.9 539.1l9 1 11.2 .5 11.3 0 11.3-.6 9-1 9-1.6 6.7-1.7 6.8-2.5 1.9-.9 3.1-2.3 1.6-2.2 .2-2.2-1.1-2.3-2.6-2.2-5.4-2.7-6.7-2.2-11.3-2.3-9-1.2-11.3-.8-11.2-.3-11.3 .4-9 .8-9 1.5-9 2.2-6.7 2.4-2.3 1.1 0 12.7 4.1 1.8 7.2 2.2 12.1 2.2z" fill="#3cd71a" fill-rule="evenodd"/>
<path d="M888.6 539l9 .7 11.3 .2 11.2-.4 9.1-.9 9-1.3 6.7-1.5 6.8-2.2 4.5-2.3 1.9-1.3 1.7-2.2 .2-2.2-1.2-2.3-2.8-2.2-4.6-2.2-7-2.3-8.5-1.8-9-1.2-9-.7-11.3-.4-11.2 .2-9 .8-9 1.4-7.8 1.7-6.7 2.3-4.5 2.2-1.3 1 0 8.5 2.5 1.7 5.3 2.2 8 2.2 14.9 2.2z" fill="#67df1b" fill-rule="evenodd"/>
<path d="M899.9 539l18-.2 9-.7 9.3-1.4 9.4-2.2 5.8-2.2 3.5-2.3 1.8-2.2 .3-2.2-1.3-2.3-3-2.2-4.9-2.2-7.4-2.2-6.7-1.3-9-1.2-9.1-.6-11.2-.3-9 .3-9 .8-6.8 1-6.7 1.5-6.4 2-4.8 2.2-3 2.2-1.3 2.3 .3 2.2 1.7 2.2 3.6 2.3 3.1 1.2 6.8 2.1 6.7 1.4 9 1.2 10.6 .7z" fill="#93e71d" fill-rule="evenodd"/>
<path d="M884.1 536.8l9 1 9 .5 9 0 9-.4 9.1-1 6.7-1.1 5.7-1.3 6.4-2.2 3.8-2.3 1.9-2.2 .3-2.2-1.4-2.3-3.2-2.2-5.4-2.2-8.1-2.1-6.7-1.1-9.1-1-9-.5-9 0-9 .4-6.7 .7-7.9 1.3-7.9 2.1-4.5 1.8-4.3 2.8-1.4 2.3 .2 2.2 1.9 2.2 3.9 2.3 6.3 2.2 10.9 2.2z" fill="#b9ec1e" fill-rule="evenodd"/>
<path d="M890.9 536.8l9 .6 9 .2 15.8-1 13.5-2.3 6.3-2 4.2-2.3 2-2.2 .3-2.2-1.5-2.3-3.5-2.2-6-2.2-4.1-1.1-6.3-1.2-7.2-.9-9-.6-9-.1-15.8 .9-6.7 1.1-7.9 1.9-5.8 2.2-2.1 1.4-1.2 .8-1.5 2.3 .2 2.2 2.1 2.2 4.1 2.3 7.1 2.2 13.4 2.2z" fill="#d9ed1e" fill-rule="evenodd"/>
<path d="M904.4 536.8l15.7-.6 12.7-1.7 8.1-2.2 4.6-2.3 2.2-2.2 .3-2.2-1.7-2.3-3.8-2.2-4.3-1.5-6.8-1.7-6.7-1-13.6-1.1-15.7 .4-6.8 .6-6.7 1.2-4.5 1.1-5.7 2-3.7 2.2-1.6 2.3 .3 2.2 2.2 2.2 6.2 2.8 6.4 1.7 4.9 .8 6.7 .8 9.1 .6z" fill="#f9ee1e" fill-rule="evenodd"/>
<path d="M888.6 534.8l6.8 .7 9 .5 15.7-.6 7.4-.9 6.2-1.3 3.4-.9 5-2.3 2.5-2.2 .3-2.2-1.8-2.3-4.2-2.2-5.2-1.6-11.3-2-13.5-.9-13.5 .4-11.3 1.6-8.9 2.5-4 2.2-1.7 2.3 .3 2.2 2.4 2.2 5 2.3 9.6 2.2z" fill="#fbd21b" fill-rule="evenodd"/>
<path d="M895.4 534.7l13.5 .4 11.8-.6 12.2-2.2 5.8-2.3 2.6-2.2 .4-2.2-2-2.3-4.7-2.2-3.6-1-5.7-1.2-7.8-1-13.5-.4-13.5 .9-4.5 .8-6.8 1.7-5.1 2.4-1.9 2.3 .4 2.2 2.6 2.2 6.3 2.4 11.7 2.1z" fill="#fcb518" fill-rule="evenodd"/>
<path d="M886.4 532.3l11.2 1.6 11.3 .4 11.2-.7 9.1-1.6 5.8-2 .9-.6 2.1-1.6 .3-2.2-2.4-2.4-5.2-2.1-3.8-.9-9-1.4-13.5-.5-11.3 .8-9.9 2-5.2 2.2-2.1 2.3 .4 2.2 3 2.2 6.7 2.3z" fill="#fb9616" fill-rule="evenodd"/>
<path d="M893.1 532.5l9 .8 11.3-.1 9.1-.9 8.4-2.3 3.5-2.2 .3-2.2-1-1-1.5-1.3-3-1.1-3.5-1.1-5.6-.9-11.2-.9-11.3 .4-9.5 1.4-6.2 2.2-2.4 2.3 .4 2.2 3.4 2.2 8.4 2.3z" fill="#fa7615" fill-rule="evenodd"/>
<path d="M902.1 532.3l11.1 0 6.9-.9 6.1-1.4 4.2-2.2 .4-2.2-3-2.3-8.7-2.2-8-.7-9 0-7.6 .7-8.3 2.2-2.9 2.3 .5 2.2 4.2 2.2 7.4 1.6 5.7 .7z" fill="#f85614" fill-rule="evenodd"/>
<path d="M895.4 530.3l6.7 .8 6.8 .1 6.7-.5 4.7-.7 5.5-2.2 .5-2.2-3.8-2.3-4.6-.9-6.8-.8-6.7-.1-6.8 .6-6.2 1.2-3.6 2.3 .6 2.2 5.5 2.2z" fill="#f34013" fill-rule="evenodd"/>
<path d="M895.4 528.2l4.5 1.1 4.5 .5 4.5 .1 4.5-.5 6.6-1.6 .7-2.2-2.8-1.2-3.5-1.1-3.3-.3-6.7-.1-5 .4-6.1 2.3 .9 2.2z" fill="#ef2b12" fill-rule="evenodd"/>
<path d="M904.4 526.1l2.2 .7 2.3-.4 1.3-.8-1.3-.2-5.2 .2z" fill="#ec2012" fill-rule="evenodd"/>
<path d="M857.1 545.8l14.6 2.1M942.2 547.9l11.7-1.6 15.8-3.3 9-2.8 6.3-3.5 2.7-2.6 3-4.1 2.2-4.4 .3-2.3-.6-2.2-1.4-2.2-2.6-2.3-3.8-2.2-12.9-4.8-13.5-3.3-29.2-4.2-20.3-1.6-11.3-.5-6.7 .5-33.8 5.6" fill="none" stroke="#1a3a2a" stroke-width="0.45" opacity="0.75"/>
<path d="M857.1 540.9l18 3.1 20.3 1.6 20.2 .1 22.6-1.6 18-3 8.3-2.2 6.4-2.2 4.6-2.2 3.3-2.2 2.1-2.4 1.1-2.1 .2-2.2-1.3-3.1-3.9-3.6-9.5-4.5-13.6-3.8-20.2-3.2-22.6-1.6-20.2 .2-18 2.1-15.8 3.3" fill="none" stroke="#1a3a2a" stroke-width="0.45" opacity="0.75"/>
<path d="M857.1 537.9l15.8 3.4 18 1.9 20.2 .5 22.6-1.4 18-3 6.7-1.7 6.8-2.5 5.3-2.8 2.5-2.3 1.3-2.2 .2-2.2-.9-2.3-2.1-2.2-4.1-2.6-6.7-2.9-6.8-2-9-2-18-2.3-20.3-1-18 .5-15.7 2-15.8 3.8" fill="none" stroke="#1a3a2a" stroke-width="0.45" opacity="0.75"/>
<path d="M857.1 534.4l6.8 2.3 6.7 1.6 15.8 2.3 18 .9 20.3-.6 18-2.4 13.5-3.7 5.5-2.5 2.9-2.3 1.5-2.2 .2-2.2-1.1-2.3-2.4-2.2-3.9-2.2-5.8-2.3-14.9-3.4-18.1-2-18-.5-15.7 .9-15.8 2.5-6.7 1.7-6.8 2.4" fill="none" stroke="#1a3a2a" stroke-width="0.45" opacity="0.75"/>
<path d="M857.1 530.3l2.9 2 5.4 2.2 14.2 3.3 18 1.8 18 0 18.1-1.7 6.8-1.2 8.4-2.2 5.4-2.2 3.4-2.3 1.7-2.2 .2-2.2-1.2-2.3-2.8-2.2-4.6-2.2-7.1-2.3-14.7-2.6-18.1-1.3-15.7 .2-15.8 1.7-13.5 3.3-6.7 2.9-2.3 1.6" fill="none" stroke="#1a3a2a" stroke-width="0.45" opacity="0.75"/>
<path d="M888.6 536.8l15.8 1 18-.6 15.8-2.5 9-3.1 2.7-1.6 2-2.2 .2-2.2-1.5-2.3-3.3-2.2-5.8-2.2-14.6-3-18-1.2-15.8 .5-9 1-6.7 1.4-4.9 1.3-5.5 2.2-3.3 2.2-1.4 2.3 .2 2.2 2 2.2 4 2.3 6.6 2.1 12.5 2.3z" fill="none" stroke="#1a3a2a" stroke-width="0.45" opacity="0.75"/>
<path d="M888.6 534.6l13.5 1.2 15.8-.3 13.5-1.9 5.2-1.3 3.8-1.7 3.8-2.8 .3-2.2-1.8-2.3-6.8-3-11.2-2.4-13.6-1.1-13.5 .2-13.5 1.7-8.4 2.4-4.1 2.2-1.7 2.3 .3 2.2 2.4 2.2 4.8 2.1 10.1 2.4z" fill="none" stroke="#1a3a2a" stroke-width="0.45" opacity="0.75"/>
<path d="M890.9 532.5l11.2 1.1 11.3 0 11.5-1.3 7.6-2.3 3.2-2.2 .2-2.4-2.2-2.1-2.3-.9-3.7-1.3-5.3-1-9-1-11.3-.1-11.2 1.1-6.8 1.7-3.7 1.5-2.3 2.3 .4 2.2 3.3 2.2 7.6 2.3z" fill="none" stroke="#1a3a2a" stroke-width="0.45" opacity="0.75"/>
<path d="M893.1 530.1l6.8 1 6.7 .4 6.8-.3 8.2-1.2 5.1-2.2 .6-2.2-4.9-2.6-6.8-1.3-9-.6-6.7 .4-6.8 1.1-2.8 .7-3.4 2.3 .6 2.2 5.1 2.2z" fill="none" stroke="#1a3a2a" stroke-width="0.45" opacity="0.75"/>
</g>
<path d="M859.3 409.6 V545.6 H1001.5" fill="none" stroke="#000" stroke-width="1"/>
<line x1="859.3" y1="545.6" x2="859.3" y2="548.2" stroke="#000" stroke-width="0.8"/>
<text x="859.3" y="560" font-family="'Liberation Serif', serif" font-size="12" font-weight="bold" text-anchor="middle" fill="#000" >0</text>
<line x1="870.2" y1="545.6" x2="870.2" y2="547" stroke="#000" stroke-width="0.8"/>
<line x1="881.1" y1="545.6" x2="881.1" y2="548.2" stroke="#000" stroke-width="0.8"/>
<text x="881.1" y="560" font-family="'Liberation Serif', serif" font-size="12" font-weight="bold" text-anchor="middle" fill="#000" >2</text>
<line x1="892.1" y1="545.6" x2="892.1" y2="547" stroke="#000" stroke-width="0.8"/>
<line x1="903" y1="545.6" x2="903" y2="548.2" stroke="#000" stroke-width="0.8"/>
<text x="903" y="560" font-family="'Liberation Serif', serif" font-size="12" font-weight="bold" text-anchor="middle" fill="#000" >4</text>
<line x1="913.9" y1="545.6" x2="913.9" y2="547" stroke="#000" stroke-width="0.8"/>
<line x1="924.8" y1="545.6" x2="924.8" y2="548.2" stroke="#000" stroke-width="0.8"/>
<text x="924.8" y="560" font-family="'Liberation Serif', serif" font-size="12" font-weight="bold" text-anchor="middle" fill="#000" >6</text>
<line x1="935.7" y1="545.6" x2="935.7" y2="547" stroke="#000" stroke-width="0.8"/>
<line x1="946.7" y1="545.6" x2="946.7" y2="548.2" stroke="#000" stroke-width="0.8"/>
<text x="946.7" y="560" font-family="'Liberation Serif', serif" font-size="12" font-weight="bold" text-anchor="middle" fill="#000" >8</text>
<line x1="957.6" y1="545.6" x2="957.6" y2="547" stroke="#000" stroke-width="0.8"/>
<line x1="968.5" y1="545.6" x2="968.5" y2="548.2" stroke="#000" stroke-width="0.8"/>
<text x="968.5" y="560" font-family="'Liberation Serif', serif" font-size="12" font-weight="bold" text-anchor="middle" fill="#000" >10</text>
<line x1="979.4" y1="545.6" x2="979.4" y2="547" stroke="#000" stroke-width="0.8"/>
<line x1="990.3" y1="545.6" x2="990.3" y2="548.2" stroke="#000" stroke-width="0.8"/>
<text x="990.3" y="560" font-family="'Liberation Serif', serif" font-size="12" font-weight="bold" text-anchor="middle" fill="#000" >12</text>
<line x1="1001.3" y1="545.6" x2="1001.3" y2="547" stroke="#000" stroke-width="0.8"/>
<line x1="856.7" y1="545.6" x2="859.3" y2="545.6" stroke="#000" stroke-width="0.8"/>
<text x="855.7" y="549.6" font-family="'Liberation Serif', serif" font-size="12" font-weight="bold" text-anchor="end" fill="#000" >1.0</text>
<line x1="857.9" y1="534.3" x2="859.3" y2="534.3" stroke="#000" stroke-width="0.8"/>
<line x1="856.7" y1="522.9" x2="859.3" y2="522.9" stroke="#000" stroke-width="0.8"/>
<text x="855.7" y="526.9" font-family="'Liberation Serif', serif" font-size="12" font-weight="bold" text-anchor="end" fill="#000" >1.5</text>
<line x1="857.9" y1="511.6" x2="859.3" y2="511.6" stroke="#000" stroke-width="0.8"/>
<line x1="856.7" y1="500.3" x2="859.3" y2="500.3" stroke="#000" stroke-width="0.8"/>
<text x="855.7" y="504.3" font-family="'Liberation Serif', serif" font-size="12" font-weight="bold" text-anchor="end" fill="#000" >2.0</text>
<line x1="857.9" y1="488.9" x2="859.3" y2="488.9" stroke="#000" stroke-width="0.8"/>
<line x1="856.7" y1="477.6" x2="859.3" y2="477.6" stroke="#000" stroke-width="0.8"/>
<text x="855.7" y="481.6" font-family="'Liberation Serif', serif" font-size="12" font-weight="bold" text-anchor="end" fill="#000" >2.5</text>
<line x1="857.9" y1="466.3" x2="859.3" y2="466.3" stroke="#000" stroke-width="0.8"/>
<line x1="856.7" y1="454.9" x2="859.3" y2="454.9" stroke="#000" stroke-width="0.8"/>
<text x="855.7" y="458.9" font-family="'Liberation Serif', serif" font-size="12" font-weight="bold" text-anchor="end" fill="#000" >3.0</text>
<line x1="857.9" y1="443.6" x2="859.3" y2="443.6" stroke="#000" stroke-width="0.8"/>
<line x1="856.7" y1="432.3" x2="859.3" y2="432.3" stroke="#000" stroke-width="0.8"/>
<text x="855.7" y="436.3" font-family="'Liberation Serif', serif" font-size="12" font-weight="bold" text-anchor="end" fill="#000" >3.5</text>
<line x1="857.9" y1="420.9" x2="859.3" y2="420.9" stroke="#000" stroke-width="0.8"/>
<line x1="856.7" y1="409.6" x2="859.3" y2="409.6" stroke="#000" stroke-width="0.8"/>
<text x="855.7" y="413.6" font-family="'Liberation Serif', serif" font-size="12" font-weight="bold" text-anchor="end" fill="#000" >4.0</text>
<text transform="translate(834.8 478.6) rotate(-90)" font-family="'Liberation Serif', serif" font-size="12" font-weight="bold" text-anchor="middle" fill="#000">R+a (Å)</text>
<text x="929.9" y="576.4" font-family="'Liberation Serif', serif" font-size="12" font-weight="bold" text-anchor="middle" fill="#000">k (Å<tspan dy="-4" font-size="8">-1</tspan><tspan dy="4">)</tspan></text>
<text x="862.9" y="427.2" font-family="'Liberation Serif', serif" font-size="14.6" fill="#fff">CuC<tspan dy="3.5" font-size="10">4</tspan><tspan dy="-3.5">/CoN</tspan><tspan dy="3.5" font-size="10">4</tspan><tspan dy="-3.5">@HC</tspan></text>
<text x="907.5" y="530.5" font-family="'Liberation Serif', serif" font-size="12.5" text-anchor="middle" fill="#2a0a0a" >Cu-C</text>
<clipPath id="eClip3"><rect x="477.6" y="585.7" width="145.2" height="139.5"/></clipPath>
<g clip-path="url(#eClip3)">
<rect x="476.6" y="584.7" width="147.2" height="141.5" fill="#0416e2"/>
<path d="M477.7 727.5l147.3 0 0-144.1-2.3 0-147.3 0 0 144.1zM517.6 633.7l.2-2.3 1.3-1.1 2.3 .1 1.1 1 .4 2.3-1.5 1.7-2.3-.1zM601.1 626.8l-2-2.2-1.6-4.6-.2-4.6 .3-2.3 1.5-4.6 1.4-2.2 1.5-1.8 2.3-.9 1.4 .4 .9 .3 2.3 2.5 1.6 4 .7 4.6-.4 4.6-1.7 4.6-2.1 2.2-2.7 1.1-2.3-.4z" fill="#0420e9" fill-rule="evenodd"/>
<path d="M477.7 727.5l147.3 0 0-144.1-2.3 0-147.3 0 0 144.1zM515.6 636l-1.3-2.3-.2-2.3 1.1-2.3 1.6-1.4 2.3-.7 2.3 .3 2.3 1.4 1.5 2.7 .1 2.3-1 2.3-2.9 1.9-2.3 0-2.3-.9zM603.9 636l-1.9-.3-3.7-2-2.3-2.3-1.5-2.3-1.7-4.3-.5-2.5-.3-4.6 .3-4.6 .8-4.6 2-6.4 2.3-4.9 2.3-3.4 2.3-2.4 2.3-1.4 2.3-.4 2.3 .4 2.3 1.4 2.3 2.5 3 5.5 1.5 4.6 1 4.5 .4 4.6-.1 4.6-1.4 6.9-2 4.5-1.7 2.3-2.4 2.3-2.9 1.6-2.3 .7-2.3 .1zM483.5 631.4l-2.2-2.3-1.2-2.3-1.3-4.5-.2-6.9 1.4-6.5 2.3-4.9 2.3-2.7 2.3-1.4 2.3-.3 2.3 .8 1.6 1.3 .7 .7 2.3 3.7 1.4 4.7 .6 6.9-.7 4.6-1.8 4.5-1.8 2.7-2.2 1.9-2.4 1.2-2.3 .2-2.3-.7zM525.4 608.5l-.7-2.2 1.3-2.3 2.3 1 .5 1.3-.4 2.2-2.4 .6z" fill="#052af0" fill-rule="evenodd"/>
<path d="M493.8 725.3l4.6 1.1 7.3 1.1 57.3 0 6.8-.4 18.4-2.3 11.5-2.2 11.5-2.8 13.8-4.4 0-79.7-5 2.6-5.5 2.3-3.3 .8-4.6 .3-4.6-.7-2.3-.7-3.6-2-3.3-2.9-2.6-4-1.6-4.6-.7-4.5 .1-6.9 1-6.9 1.5-6.4 6.5-18.7-18 0-65.7 0 .3 6.8 .8 6.9 .7 2.3 1.7 2.1 4.6-2.4 2.3-.6 2.3 .2 2.3 1 2.3 2.5 .8 1.8 .4 2.3-.1 2.2-1.1 2.8-2.3 2.3-2.3 .9-2.3-.1-3.4-1.3-3.1-2.3-.4-.5-2.3 1.7-1.4 5.7-.1 2.3 1.5 1.9 .9 .4 3.7 .5 2.3 .9 2.3 1.6 2.3 2.7 1.3 3.4 0 2.3-.8 2.3-2 2.3-3.1 1.4-2.3 .2-2.3-.4-2.7-1.2-2.8-2.3-1.4-2-2.3-1.8-2.3 .7-9.4 7.7-4 2.3-2.7 1.1-4.6 1-2.3 .1-6.9-1.1 0 73.9 9.2 4.4 9.1 2.9z" fill="#063bf4" fill-rule="evenodd"/>
<path d="M503 716.3l9.2 1.3 13.8 .1 32.3-1.5 11.5-1.2 9.2-1.6 13.8-3.4 6.9-2.3 7.5-3.1 1.7-2.2-11.5-2.8-4.7-1.8 3.4-2.3 8.2-1 20.7-1 0-45.3-4.6-.9-11.5-.8-6.9-1.3-4.6-1.8-4.6-2.5-3.2-2.6-2-2.3-1.7-3-1.3-3.9-.7-4.5 0-4.6 .9-9.2 3.4-14.3 3.2-13.1-67.4 0 .3 4.6 .5 2.2 1.2 2.3 5.6 6.9 1.3 2.5 .9 4.4-.5 4.5-1 2.3-1.7 2.6-3.7 4.3-.3 2.3 2.3 6.8 .4 2.3-.1 2.3-.7 2.3-1.4 2.3-2.9 2.3-2.8 1-4.6 .2-6.9-1-2.3 .4-2.3 1-13.8 7.9-16.1 7.3 0 41.1 5.1 6.1 6.4 5.2 6.9 3.7 4.6 1.7 3.6 .9zM569.3 636l-.8-2.3 1.3-1.2 2.3 .6 .5 .6-.5 1.5-.8 .8-1.5 .3z" fill="#084df8" fill-rule="evenodd"/>
<path d="M507.6 711.9l9.2 .7 9.2-.3 32.3-2.1 16.1-2.4 11.9-3.2 4-2.2-3.8-4.6 3.3-2.3 7.6-1.5 13.8-1.9 6.5-1.2 5-2.3 2.3-1.7 0-30.6-3.5-2-3.4-1.4-16.1-4.5-8.3-3.2-4.2-2.3-3.2-2.3-2.4-2.3-3.7-4.6-.8-2.3 0-2.3 1.1-13.7 1.3-6.9 4.1-16.8 1.5-8.3-58.2 0 .3 4.6 .4 2.2 4.1 9.2 1.2 3.9 .4 3 0 2.2-.9 4.6-2.9 6.9-.7 2.3-.1 2.3 .7 6.8-.2 2.3-.7 2.3-1.2 2.3-2.1 2.3-3.8 2.2-4.6 1.3-6.9 .8-4.6 1.6-6.9 3.7-10.6 6.4-6.3 4.6-2.5 2.3-3.2 4.5-1.6 4.6-.3 4.6 1.2 6.9 2.4 6.8 3.8 6.9 3.9 4.6 2.6 2.2 3.4 2.3 7.2 3.3 5 1.3zM569.4 638.3l-1.9-1.1-.9-1.2-.3-2.3 1.1-2.3 2.4-1.4 2.3-.2 2.3 .7 1.7 .9 .5 2.3-.9 2.3-3.5 2.3-2.4 .2z" fill="#0b62fa" fill-rule="evenodd"/>
<path d="M505.3 707.3l6.9 1.1 9.2 .1 36.9-3 13.8-2.1 3.8-1 3.1-1.8 1.9-2.8 3.9-2.3 8-2 14.4-2.6 6.3-2.3 3.7-2.3 2.9-2.2 4.2-4.6 .7-1.3 0-13.5-2.7-3.5-2.8-2.3-6-3.4-21.1-8.1-4.8-2.2-8.6-5.3-2.3-.4-4.6 .7-2.3-.1-2.3-.8-1.2-1-1.5-2.3-.2-2.3 .8-2.3 2.1-2.3 2.3-1.3 2.7-1 1.9-1.3 .6-.9 .7-2.3 1.6-9.2 5.3-20.6 1.5-9.1-51.2 0 .6 6.8 3.3 11.5 .7 6.8-.5 4.6-1.9 9.2-.7 11.4-.6 2.3-1.1 2.3-2.1 2.5-2.3 1.9-2.3 1.4-16.1 5.4-6.9 3.4-5.9 3.7-5.6 4.2-2.8 2.7-3.5 4.5-1.9 4.6-.6 4.6 .7 6.9 2.3 6.8 2.5 4.6 3.3 4.1 3.2 2.8 3.7 2.3 5.7 2.2z" fill="#0e7dfa" fill-rule="evenodd"/>
<path d="M512.2 704.9l9.2 0 16.1-1.8 20.8-1.4 6.9-.9 4.6-1 10-4.3 8.6-2.3 11.1-2.3 6.9-2.3 4.2-2.3 3.2-2.2 2.6-2.3 3.6-4.6 .9-2.3 .6-2.3 0-2.3-.6-2.3-1-2.3-1.6-2.2-2.4-2.3-2.4-1.8-6.9-3.7-19.9-8.3-7.7-3.7-2.3-.9-6.9-1-2.3-.8-2.3-1.6-1.1-1.1-.9-2.3-.2-2.3 .6-2.3 1.6-2.5 4.8-4.3 1.5-2.3 3.6-13.8 4.6-16 1.5-9.1-45.2 0 .5 6.8 2.5 11.5 .6 6.8-.6 13.8-.1 9.1-.8 4.6-1.1 2.3-1.7 2.3-2.6 2.3-3.7 2.3-19.1 7.5-4.6 2.3-6 3.9-3.2 2.5-4.2 4.3-2.8 4.6-1.4 4.6-.2 4.6 1.2 6.8 1.8 4.6 2.9 4.6 2.7 2.9 4.6 3.2 4.6 1.9 4.9 1.1z" fill="#1198fa" fill-rule="evenodd"/>
<path d="M507.6 700.6l4.6 .9 6.9 .2 18.4-1.9 20.8-1 9.2-1.4 15.5-4.2 10.2-2.3 7.3-2.3 4.6-2.3 3.8-2.4 4.6-4.2 1.9-2.5 1-2.3 .6-2.3-.1-2.3-.5-2.3-1.2-2.3-1.7-2.1-2.6-2.4-6.6-4-9.2-4.2-18.4-7.4-9.2-2.7-3.8-2.3-1.9-2.3-.8-2.3-.1-2.3 .4-2.3 1.1-2.3 4.8-6.8 3.7-11.5 5.8-17.2 1.3-5.6 .6-4.6-39.8 0 .5 6.8 2.7 16.1 2 22.8 .1 4.6-.4 2.3-1 2.3-1.7 2.3-2.7 2.3-3.8 2.3-4.8 2.2-15.2 5.8-4.6 2.2-6 3.5-3.2 2.4-4.5 4.4-1.7 2.3-2.2 4.6-.5 2.3-.3 4.6 .7 4.6 1.6 4.6 2.3 4 2.4 2.8 2.9 2.3 4.5 2.3z" fill="#18b3f7" fill-rule="evenodd"/>
<path d="M512.2 698.2l6.9 .4 16.1-1.4 18.5-.4 9.2-.8 9.2-1.6 18.4-4.3 6.9-2.4 6.9-3.7 3-2.2 2.4-2.3 1.7-2.3 1.2-2.3 .5-2.3 0-2.3-.6-2.3-1.3-2.3-1.9-2.2-2.7-2.3-4.6-2.9-9.2-4.3-11-4.3-16.6-5.7-5.9-3.4-1-1.2-1.8-1.1-.5-.9-2.3-.6-5 3.8-8.1 4.6-23.8 9.3-9.2 4.7-5.5 4.3-4 4.5-2.2 4.6-.6 2.3-.2 4.6 .8 4.6 .8 2.2 2.6 4.6 2.1 2.3 3 2.3 5.6 2.3zM553.7 632.2l2.3-.8 4.6-6.6 2.3-4.1 9.2-21.9 2.1-6.3 1.2-4.5 .6-4.6-13.1 0-21.4 0 .8 9.1 5.1 25.2 2 6.9 2 4.4 1.8 2.4z" fill="#21cdf3" fill-rule="evenodd"/>
<path d="M519.1 695.5l16.1-.6 20.8-.1 11.5-1.1 13.8-2.7 8.8-2.4 5.8-2.3 6.1-3.4 4.1-3.4 1.9-2.3 1.2-2.3 .6-2.3 0-2.3-.7-2.3-1.3-2.3-3.5-3.4-5-3.4-6.5-3.2-11.5-4.5-20.7-6.3-4.6-.9-2.3 .1-2.3 .3-7 1.9-20.7 7.3-9.2 4-6 3.6-5.3 4.5-3.1 4.6-1.5 4.6-.3 2.3 .5 4.6 1.9 4.8 2.3 3.2 2.3 2.1 4.6 2.4 2.3 .6 4.8 .6zM553.7 614l2.3 1 2.3-.8 2.3-2.1 2.3-3 4.6-7.7 2.3-4.7 2.3-6.3 1.3-7-10.5 0-18.8 0 .6 6.8 2.1 8.6 2.3 6.8 2.3 5.2 1.6 2.3z" fill="#29e2ea" fill-rule="evenodd"/>
<path d="M551.4 693.2l11.5-.4 9.2-1.2 9.2-1.9 9.2-2.9 6.9-3.3 5.5-4 2-2.3 1.3-2.3 .6-2.3 0-2.3-.7-2.3-1.4-2.3-2.7-2.7-6.1-4.1-7.7-3.6-11.5-4-11.5-3-6.9-1.2-6.9 .1-7 1.3-16.1 5.1-11.5 4.8-4.8 2.8-5.6 4.5-3.3 4.6-1.5 4.6 .1 4.6 1.5 4.6 1.4 2.2 2.3 2.3 3 2 2.3 .9 6.9 1.2 31.1 .5zM556 604.3l2.3 0 2.3-1.1 2.3-2 2.3-3 2-3.4 2-4.6 1.5-6.8-7.8 0-16.1 0 .5 4.6 1.8 6.8 2.3 5 2.3 3 1.8 1.2z" fill="#30e9cc" fill-rule="evenodd"/>
<path d="M532.9 691l13.9 .7 9.2 .1 6.9-.4 9.2-1.1 9.2-2 6.9-2.2 6.9-3.2 4.8-3.4 2.1-2.3 1.4-2.3 .7-2.3 0-2.3-.7-2.3-1.5-2.3-2.2-2.2-4.6-3.3-6.9-3.4-9.2-3.3-6.9-2-6.9-1.5-6.9-1-6.9 .1-7 1.2-11.5 3.3-11.5 4.3-6.2 3.3-3.3 2.3-2.6 2.2-3.3 4.6-1.4 4.6 .3 4.6 .8 2.3 1.9 2.9 2.3 2.1 4.6 2.3 6.9 1.3 9.4 .5zM556 596.4l2.3 .5 2.3-.7 2.3-1.9 2.3-3.3 1.3-3 1.1-4.6-4.7 0-12.9 0 .2 2.3 1.1 4.5 2.7 4.6z" fill="#37f0ad" fill-rule="evenodd"/>
<path d="M526 688.7l23.1 1.8 9.2 0 9.2-.7 9.2-1.6 6.9-1.9 5.9-2.2 5.6-3.1 4.3-3.8 1.4-2.3 .7-2.3 0-2.3-.7-2.3-1.5-2.3-4.2-3.6-4.6-2.8-6.9-3-6.3-2-7.5-2-9.2-1.5-6.9-.2-4.6 .4-9.3 1.9-9.2 2.8-7.8 3.2-6 3.2-4.6 3.6-2 2.3-1.5 2.3-.9 2.3-.4 2.3 .1 2.3 .6 2.3 1.2 2.3 2.1 2.3 3.1 1.9 4.6 1.6 6 1zM558.3 588.9l2.3-.7 2.3-3.6 .3-1.2-2.6 0-6.2 0 .6 2.3 1.4 2.3z" fill="#30e97e" fill-rule="evenodd"/>
<path d="M542.1 688.8l9.3 .6 9.2-.2 9.2-.9 6.9-1.3 6.9-2 7.3-3.2 4.2-2.9 1.8-1.7 1.5-2.3 .8-2.3 0-2.3-.8-2.3-1.6-2.3-4-3.4-4.6-2.7-6.9-2.8-6.9-2.1-9.2-2-6.9-.7-6.9 .2-7 .9-9.2 2.4-6.9 2.4-6.9 3.3-4.6 3-4 3.8-1.4 2.3-.9 2.3-.3 2.3 .3 2.3 .9 2.3 1.8 2.3 1.3 1.1 4.6 2.3 3.9 1.1 7.6 1.3 9.3 1z" fill="#29e24e" fill-rule="evenodd"/>
<path d="M532.9 686.5l9.2 1.2 9.3 .6 9.2-.1 6.9-.6 6.9-1.2 6.9-1.9 6.7-2.7 3.8-2.3 3.3-3.2 1-1.4 .8-2.3 0-2.3-.8-2.3-1.6-2.3-2.5-2.2-6.1-3.6-4.6-1.9-6.9-2.2-6.9-1.5-6.9-.9-6.9-.2-4.6 .4-9.3 1.8-6.9 2.1-6.9 2.8-5.6 3.2-2.9 2.2-2.1 2.3-1.5 2.3-.7 2.3-.2 2.3 .5 2.3 1.3 2.3 2 1.9 2.3 1.4 4.6 1.8 8.2 1.7z" fill="#31dc32" fill-rule="evenodd"/>
<path d="M542.1 686.5l9.3 .7 6.9 .1 6.9-.5 6.9-1 6.9-1.7 4.6-1.7 5.7-2.9 2.8-2.3 1.8-2.3 .8-2.3 0-2.3-.8-2.3-1.7-2.3-2.6-2.2-6-3.4-6.9-2.5-9.2-2.2-6.9-.9-6.9-.1-6.9 .7-7 1.5-6.9 2.1-5.8 2.5-5.7 3.5-3.6 3.3-1.4 2.3-.7 2.3 0 2.3 .8 2.3 2.6 3 2.5 1.6 6.4 2.3 12.6 2.2z" fill="#3cd71a" fill-rule="evenodd"/>
<path d="M535.2 684.3l6.9 1.2 9.3 .7 6.9 .1 6.9-.5 6.9-1 6.9-1.8 4.6-1.9 4.6-2.7 1.6-1.2 1.9-2.3 .9-2.3 0-2.3-.8-2.3-1.8-2.3-1.8-1.5-4.6-2.8-4.6-1.9-6.9-2.1-6.9-1.4-4.6-.5-6.9-.1-4.6 .4-7 1.3-6.3 1.8-5.8 2.3-4.3 2.3-3.2 2.2-2.2 2.3-1.4 2.3-.7 2.3 .2 2.3 1.1 2.3 2.3 2.3 1.9 1.2 4.6 1.9 5.6 1.5z" fill="#67df1b" fill-rule="evenodd"/>
<path d="M542.1 684.4l7 .8 6.9 .2 11.5-.8 6.9-1.4 4.7-1.4 5.1-2.3 3.3-2.3 2-2.3 1-2.3 .1-2.3-.9-2.3-1.9-2.3-3-2.2-4.4-2.3-6-2.2-6.9-1.6-6.9-.8-4.6-.2-6.9 .5-4.7 .7-6.9 1.8-4.6 1.7-4.7 2.4-3.3 2.2-2.3 2.3-1.4 2.3-.5 2.3 .3 2.3 1.4 2.3 2.8 2.3 3.1 1.5 4.6 1.5 7 1.6z" fill="#93e71d" fill-rule="evenodd"/>
<path d="M549.1 684.2l11.5 .2 6.9-.7 4.6-.9 4.6-1.3 4.9-2 3.6-2.3 2.2-2.3 1.1-2.3 0-2.3-.9-2.3-2-2.3-2-1.4-4.6-2.5-4.6-1.7-4.6-1.2-6.9-1.2-6.9-.4-6.9 .5-5.8 1.1-5.8 1.6-6.7 3-3.5 2.2-2.4 2.3-1.4 2.3-.4 2.3 .5 2.3 1.7 2.3 3.4 2.3 4.2 1.7 4.6 1.3 9.7 1.6z" fill="#b9ec1e" fill-rule="evenodd"/>
<path d="M539.8 681.9l7 1.2 6.9 .5 11.5-.5 9.2-2 4.5-1.6 4-2.3 2.4-2.3 1.1-2.3 .1-2.3-1-2.3-2.1-2.3-3.5-2.2-5.4-2.3-4.7-1.3-6.9-1.2-4.6-.4-9.2 .5-4.7 .8-5.5 1.6-5.5 2.3-3.7 2.2-2.5 2.3-1.4 2.3-.3 2.3 .7 2.3 2 2.3 2.4 1.5 4.6 1.9 4.1 1.2z" fill="#d9ed1e" fill-rule="evenodd"/>
<path d="M546.8 682.1l4.6 .5 6.9 .1 9.4-.9 4.4-1.1 4.6-1.5 3.8-2 2.6-2.3 1.3-2.3 .1-2.3-1-2.3-2.3-2.3-3.9-2.2-2.9-1.2-4.6-1.5-4.6-.9-6.9-.6-4.6 0-9.3 1.3-8.3 2.9-4 2.2-2.6 2.3-1.4 2.3-.3 2.3 .9 2.3 1.9 1.9 5 2.7 8.9 2.3z" fill="#f9ee1e" fill-rule="evenodd"/>
<path d="M553.7 681.8l9.2-.3 4.6-.7 5.3-1.3 3.9-1.6 2.3-1.4 1.9-1.6 1.4-2.3 .1-2.3-1.1-2.3-2.5-2.3-2.1-1.2-4.6-1.9-4.6-1.3-9.2-1.1-9.2 .5-4.7 .9-4.6 1.5-5.3 2.6-2.7 2.3-1.4 2.3-.2 2.3 1.1 2.3 3.9 2.9 4.1 1.7 2.8 .7 4.7 .9 6.3 .7z" fill="#fbd21b" fill-rule="evenodd"/>
<path d="M544.4 679.7l4.7 .8 6.9 .4 9.2-.6 4.6-1 4.6-1.7 4.2-2.7 1.6-2.3 .1-2.3-1.2-2.3-2.7-2.3-4.3-2-6.9-1.9-4.6-.6-4.6-.1-6.9 .6-7.1 1.8-4.9 2.2-1.9 1.4-1 .9-1.5 2.3-.1 2.3 1.3 2.3 3.2 2.3 6.4 2.3z" fill="#fcb518" fill-rule="evenodd"/>
<path d="M549.1 679.5l9.2 .5 6.9-.7 6.9-2 4.1-2.4 1.7-2.3 .2-2.3-1.3-2.3-3-2.3-1.7-.7-4.2-1.5-5-1-4.6-.4-4.6 .1-6.9 1-7 2.5-3.2 2.3-1.5 2.3-.1 2.3 1.6 2.3 3.7 2.3 4.1 1.3 4.5 1z" fill="#fb9616" fill-rule="evenodd"/>
<path d="M544.4 677.3l7 1.4 4.6 .3 4.6-.2 4.6-.6 3.9-1 4.5-2.3 2-2.3 .2-2.3-1.4-2.3-3.6-2.3-5.6-1.7-4.6-.8-6.9 0-6.9 1.2-4.7 1.7-2.9 1.9-1.7 2.3 0 2.3 1.9 2.3 4.6 2.3z" fill="#fa7615" fill-rule="evenodd"/>
<path d="M549.1 677.3l4.6 .5 6.9 0 4.6-.8 5.5-2.1 2.3-2.3 .3-2.3-1.7-2.3-4.1-2.2-2.3-.6-6.9-1-6.9 .4-5 1.1-4.5 2.3-1.7 2.3 .1 2.3 2.2 2.3 6.2 2.3z" fill="#f85614" fill-rule="evenodd"/>
<path d="M546.8 675.1l4.6 1.2 4.6 .5 4.6-.3 6.6-1.6 3-2.3 .3-2.3-2.1-2.3-3.2-1.4-4.6-1.1-4.6-.2-4.6 .5-4.6 1.5-1.6 .7-2.1 2.3 .2 2.3 2.9 2.3z" fill="#f34013" fill-rule="evenodd"/>
<path d="M553.7 675.2l4.6 .1 3.5-.4 4.8-2.3 .5-2.3-1.9-1.7-2.3-1-4.6-.7-4.6 .1-4.3 1-2.9 2.3 .4 2.3 4.8 2.3z" fill="#ef2b12" fill-rule="evenodd"/>
<path d="M553.7 672.9l4.6 .3 2.8-.6 1.1-2.3-1.6-.7-2.3-.5-2.3-.1-2.3 .5-2.2 .8 1.1 2.3z" fill="#ec2012" fill-rule="evenodd"/>
<path d="M536.4 583.4l.4 6.8 2.4 11.5 .7 6.8-.4 22.9-.8 4.6-1.1 2.3-1.7 2.3-2.6 2.3-3.6 2.3-19.8 7.8-10 5.9-3.8 3.1-3.6 3.7-2.8 4.6-1.4 4.6-.3 4.6 1.3 6.8 3.1 6.9 3.7 4.5 4.6 3.4 4.6 2 4.6 1.1 6.9 .5 23-2.2 18.5-1.2 11.5-1.9 9.3-3.9 19.6-4.6 6.9-2.3 7.9-4.9 4.3-4.2 1.5-2.3 1.5-4.6-.5-4.6-2.7-4.5-4.1-3.6-6.9-3.8-27.6-12-2.3-.9-9.2-1.9-3.6-3-1-2.3-.1-2.3 .5-2.3 1.9-2.9 4.3-3.9 1.5-2.3 8.4-29.8 1.5-9.1" fill="none" stroke="#1a3a2a" stroke-width="0.45" opacity="0.75"/>
<path d="M544.8 583.4l1.1 9.1 3.2 10.2 3 5.8 1.6 2.1 2.3 1.2 2.3-.5 2.3-1.7 2.3-2.7 4.6-7.3 3.9-9.4 1.3-6.8M509.9 693.4l4.6 1.1 4.6 .3 34.6-.4 9.2-.5 9.2-1.3 11.5-2.5 6.9-2 6.9-3 5.3-3.3 4.5-4.6 1.8-4.6 0-2.3-.7-2.3-3.4-4.5-2.8-2.3-7-4-6.6-2.9-9.5-3.4-16.1-4.7-4.6-1-4.6-.2-6.9 1.2-7 2.2-16.1 5.7-9.2 4-5.1 3.1-5.4 4.5-3.1 4.6-1.6 4.6-.2 2.3 .6 4.6 1.8 4.5 3.8 4.5 4.2 2.4z" fill="none" stroke="#1a3a2a" stroke-width="0.45" opacity="0.75"/>
<path d="M551.6 583.4l1 4.6 1.1 2.5 2.3 2.5 2.3 .7 2.3-.6 2.3-2.1 2.3-4.4 .7-3.2M544.4 691l11.6 .2 9.2-.5 6.9-.9 9.2-2 6.9-2.3 7.4-3.7 4.1-3.4 2.6-3.5 .7-2.3-.1-2.3-.7-2.3-2.5-3.3-4.3-3.5-7.2-3.8-6.9-2.6-6.9-2.1-11.5-2.5-9.2-.4-6.9 .7-9.3 2.3-9.2 3-7.4 3.1-6.4 3.7-3.9 3.1-3.4 4.6-1.4 4.6 .5 4.6 2.6 4.6 3.3 2.6 4.6 1.8 4.6 .9 21.9 1.5z" fill="none" stroke="#1a3a2a" stroke-width="0.45" opacity="0.75"/>
<path d="M532.9 686.6l18.5 1.7 9.2-.1 6.9-.6 6.9-1.2 6.9-1.8 6.9-2.8 3.8-2.3 3.1-3 1.1-1.6 .8-2.3 0-2.3-.7-2.3-1.7-2.3-4.1-3.3-4.6-2.6-11.5-4.1-13.8-2.4-11.5 .2-9.3 1.8-6.9 2.1-6.9 2.8-5.8 3.3-2.9 2.2-3.5 4.6-.8 2.3-.2 2.3 .5 2.3 1.3 2.3 2.2 2.1 2.3 1.4 4.6 1.7 7.7 1.6z" fill="none" stroke="#1a3a2a" stroke-width="0.45" opacity="0.75"/>
<path d="M535.2 684.2l6.9 1.1 9.3 .8 13.8-.4 6.9-1.1 6.9-1.8 4.6-1.8 4.6-2.8 3.2-3.3 .9-2.3 .1-2.3-1.9-3.6-3.6-3.2-4.1-2.3-10.7-3.7-6.9-1.3-6.9-.7-11.5 .8-7 1.5-6.9 2.3-4.6 2.1-4.6 2.8-3.1 3-1.4 2.3-.7 2.3 .2 2.3 1.1 2.3 2.4 2.3 3.8 2 8.6 2.6z" fill="none" stroke="#1a3a2a" stroke-width="0.45" opacity="0.75"/>
<path d="M537.5 681.8l11.6 1.8 6.9 .3 6.9-.3 11.5-2.1 5.5-2 3.7-2.2 2.5-2.4 1.1-2.3 .1-2.3-1-2.3-2-2.3-3.4-2.2-8.8-3.4-11.5-2-9.2 .1-11.6 2.2-4.6 1.7-4.6 2.4-4.2 3.5-1.4 2.3-.4 2.3 .6 2.3 1.9 2.3 3.5 2.2 6.9 2.4z" fill="none" stroke="#1a3a2a" stroke-width="0.45" opacity="0.75"/>
<path d="M539.8 679.5l9.3 1.8 11.5 .3 9.2-1.4 7.9-3 2.9-2.3 1.4-2.3 .2-2.3-1.2-2.3-4.3-3.3-6.9-2.7-9.2-1.6-9.2 .1-9.3 1.9-7.3 3.3-2.7 2.3-1.4 2.3-.2 2.3 1.1 2.3 2.8 2.3 5.4 2.3z" fill="none" stroke="#1a3a2a" stroke-width="0.45" opacity="0.75"/>
<path d="M544.4 677.8l7 1.3 9.2 .1 9.2-1.8 4.6-2.3 2.1-2.5 .2-2.3-1.4-2.3-3.3-2.3-4.5-1.6-6.9-1.3-6.9 0-5.1 .7-7 2.2-3.4 2.3-1.6 2.3 0 2.3 1.7 2.3 4.2 2.3z" fill="none" stroke="#1a3a2a" stroke-width="0.45" opacity="0.75"/>
<path d="M546.8 675.4l4.6 1.2 6.9 .4 4.6-.6 5-1.5 2.8-2.3 .3-2.3-1.9-2.3-3.9-1.7-4.6-1-4.6-.2-5.6 .6-3.6 1.3-2.3 1-2 2.3 .2 2.3 2.8 2.3z" fill="none" stroke="#1a3a2a" stroke-width="0.45" opacity="0.75"/>
</g>
<path d="M477.6 585.7 V725.2 H622.8" fill="none" stroke="#000" stroke-width="1"/>
<line x1="477.6" y1="725.2" x2="477.6" y2="727.8" stroke="#000" stroke-width="0.8"/>
<text x="477.6" y="739.6" font-family="'Liberation Serif', serif" font-size="12" font-weight="bold" text-anchor="middle" fill="#000" >0</text>
<line x1="488.8" y1="725.2" x2="488.8" y2="726.6" stroke="#000" stroke-width="0.8"/>
<line x1="499.9" y1="725.2" x2="499.9" y2="727.8" stroke="#000" stroke-width="0.8"/>
<text x="499.9" y="739.6" font-family="'Liberation Serif', serif" font-size="12" font-weight="bold" text-anchor="middle" fill="#000" >2</text>
<line x1="511.1" y1="725.2" x2="511.1" y2="726.6" stroke="#000" stroke-width="0.8"/>
<line x1="522.3" y1="725.2" x2="522.3" y2="727.8" stroke="#000" stroke-width="0.8"/>
<text x="522.3" y="739.6" font-family="'Liberation Serif', serif" font-size="12" font-weight="bold" text-anchor="middle" fill="#000" >4</text>
<line x1="533.5" y1="725.2" x2="533.5" y2="726.6" stroke="#000" stroke-width="0.8"/>
<line x1="544.6" y1="725.2" x2="544.6" y2="727.8" stroke="#000" stroke-width="0.8"/>
<text x="544.6" y="739.6" font-family="'Liberation Serif', serif" font-size="12" font-weight="bold" text-anchor="middle" fill="#000" >6</text>
<line x1="555.8" y1="725.2" x2="555.8" y2="726.6" stroke="#000" stroke-width="0.8"/>
<line x1="567" y1="725.2" x2="567" y2="727.8" stroke="#000" stroke-width="0.8"/>
<text x="567" y="739.6" font-family="'Liberation Serif', serif" font-size="12" font-weight="bold" text-anchor="middle" fill="#000" >8</text>
<line x1="578.1" y1="725.2" x2="578.1" y2="726.6" stroke="#000" stroke-width="0.8"/>
<line x1="589.3" y1="725.2" x2="589.3" y2="727.8" stroke="#000" stroke-width="0.8"/>
<text x="589.3" y="739.6" font-family="'Liberation Serif', serif" font-size="12" font-weight="bold" text-anchor="middle" fill="#000" >10</text>
<line x1="600.5" y1="725.2" x2="600.5" y2="726.6" stroke="#000" stroke-width="0.8"/>
<line x1="611.6" y1="725.2" x2="611.6" y2="727.8" stroke="#000" stroke-width="0.8"/>
<text x="611.6" y="739.6" font-family="'Liberation Serif', serif" font-size="12" font-weight="bold" text-anchor="middle" fill="#000" >12</text>
<line x1="622.8" y1="725.2" x2="622.8" y2="726.6" stroke="#000" stroke-width="0.8"/>
<line x1="475" y1="725.2" x2="477.6" y2="725.2" stroke="#000" stroke-width="0.8"/>
<text x="474" y="729.2" font-family="'Liberation Serif', serif" font-size="12" font-weight="bold" text-anchor="end" fill="#000" >1.0</text>
<line x1="476.2" y1="713.6" x2="477.6" y2="713.6" stroke="#000" stroke-width="0.8"/>
<line x1="475" y1="702" x2="477.6" y2="702" stroke="#000" stroke-width="0.8"/>
<text x="474" y="706" font-family="'Liberation Serif', serif" font-size="12" font-weight="bold" text-anchor="end" fill="#000" >1.5</text>
<line x1="476.2" y1="690.3" x2="477.6" y2="690.3" stroke="#000" stroke-width="0.8"/>
<line x1="475" y1="678.7" x2="477.6" y2="678.7" stroke="#000" stroke-width="0.8"/>
<text x="474" y="682.7" font-family="'Liberation Serif', serif" font-size="12" font-weight="bold" text-anchor="end" fill="#000" >2.0</text>
<line x1="476.2" y1="667.1" x2="477.6" y2="667.1" stroke="#000" stroke-width="0.8"/>
<line x1="475" y1="655.5" x2="477.6" y2="655.5" stroke="#000" stroke-width="0.8"/>
<text x="474" y="659.5" font-family="'Liberation Serif', serif" font-size="12" font-weight="bold" text-anchor="end" fill="#000" >2.5</text>
<line x1="476.2" y1="643.8" x2="477.6" y2="643.8" stroke="#000" stroke-width="0.8"/>
<line x1="475" y1="632.2" x2="477.6" y2="632.2" stroke="#000" stroke-width="0.8"/>
<text x="474" y="636.2" font-family="'Liberation Serif', serif" font-size="12" font-weight="bold" text-anchor="end" fill="#000" >3.0</text>
<line x1="476.2" y1="620.6" x2="477.6" y2="620.6" stroke="#000" stroke-width="0.8"/>
<line x1="475" y1="609" x2="477.6" y2="609" stroke="#000" stroke-width="0.8"/>
<text x="474" y="613" font-family="'Liberation Serif', serif" font-size="12" font-weight="bold" text-anchor="end" fill="#000" >3.5</text>
<line x1="476.2" y1="597.3" x2="477.6" y2="597.3" stroke="#000" stroke-width="0.8"/>
<line x1="475" y1="585.7" x2="477.6" y2="585.7" stroke="#000" stroke-width="0.8"/>
<text x="474" y="589.7" font-family="'Liberation Serif', serif" font-size="12" font-weight="bold" text-anchor="end" fill="#000" >4.0</text>
<text transform="translate(453.1 656.5) rotate(-90)" font-family="'Liberation Serif', serif" font-size="12" font-weight="bold" text-anchor="middle" fill="#000">R+a (Å)</text>
<text x="549.7" y="756" font-family="'Liberation Serif', serif" font-size="12" font-weight="bold" text-anchor="middle" fill="#000">k (Å<tspan dy="-4" font-size="8">-1</tspan><tspan dy="4">)</tspan></text>
<text x="481" y="603.1" font-family="'Liberation Serif', serif" font-size="15.3" fill="#fff" >Co foil</text>
<text x="558.6" y="674.5" font-family="'Liberation Serif', serif" font-size="12.5" text-anchor="middle" fill="#2a0a0a" >Co-Co</text>
<clipPath id="eClip4"><rect x="666.4" y="585.7" width="146.4" height="140.2"/></clipPath>
<g clip-path="url(#eClip4)">
<rect x="665.4" y="584.7" width="148.4" height="142.2" fill="#0416e2"/>
<path d="M666.5 728.2l142.1 0 1.2-2.3 .7-.4 2.3 .6 .6 2.1 1.8 0 0-142.5 0-2.3-151.1 0 0 144.8zM690.3 636.3l-.6-.1-1.8-2.2 .2-2.3 1.6-1.6 2.3-.2 2.2 1.8 .2 2.3-2.4 2.4z" fill="#0420e9" fill-rule="evenodd"/>
<path d="M666.5 728.2l136.9 0 .6-2.3 1.3-2.3 2.9-2.6 2.3-.8 2.3 0 2.4 .9 0-137.7-11.7 0-139.4 0 0 93.9 2.4-1.2 2.3-.1 2.3 .8 1 .8-.6 2.3-2.7 .9-2.3-.1-2.2-.8-.2-.5 0 48.8zM765.4 677.6l3.3-.5 3.4 .5-3.4 .7-2.3-.3zM777.6 640.9l.4-.9 2.3-.6 1.2 1.5-1.2 1.6-2.3-.9zM686 636.3l-1.1-2.3-.1-2.3 .9-2.3 1.7-1.7 1.8-.6 2.8 0 2.3 1.2 1 1.1 1 2.3 0 2.3-1 2.3-1 .9-2.3 1.2-2.3 .1-2.3-1zM764.3 594.9l-1.9-2.3-.3-2.3 1.3-2.3 3-1.6 2.3-.1 2.3 .6 1.6 1.1 1.6 2.3-.2 2.3-.7 .9-2.3 1.9-2.3 .6-2.3-.2z" fill="#052af0" fill-rule="evenodd"/>
<path d="M666.5 728.2l133.1 0 1.9-4.6 1.7-2.3 2.6-2.3 2.4-1.2 2.3-.7 2.3-.2 2.4 .4 0-133.9-44.4 0 2.5 .8 4.7 3.2 2.3 1.1 7-3 2.3-.3 2.3 .3 2.4 1.1 1.4 1.4 .9 2.3-.4 2.3-2.1 2.3-2.2 .9-2.3 .4-2.3-.2-2.3-.7-4.7-1.9-2.3 1.2-3.4 2.6-3.6 1.5-2.3 .2-2.3-.2-2.3-.7-4.4-3.1-2-2.3-.2-2.3 1.1-2.3 2.1-2.3 3.4-2 1.2-.3-82 0 1.9 2.3 2.7 4.6 1.5 4.6 .7 4.6-.2 6.9-.9 4.6-2.2 6.9-.1 2.3 2.8 2.3 2.5 .9 2.3 1.6 2 2.1 1.3 2.3 .5 2.3-.1 2.3-1.3 2.9-2.4 2.3-2.3 .9-2.3 .3-2.3-.4-3.2-1.4-2.4-2.3-3.7-6-2.3-.6-4.7 .3-2.3-.2-2.3-.6-2.4-1.2 0 44.8 4.7-.2 2.5 .4 2.1 .9 2.4 1.4 1.4 2.3-.5 2.3-3.3 2.6-4.6 1-4.7-.2 0 44.9zM713.3 682.2l4.3-.9 2.3 0 3.6 .9-3.6 1.5-2.3 0-2.3-.5zM762.5 677.6l3.9-1.4 2.3-.2 4.6 .7 2.1 .9-2.1 1.2-2.3 .8-2.3 .2-2.3-.2-2.3-.9zM776.9 643.2l-1.2-2.3 .8-2.3 1.5-1.2 2.3-.3 2.6 1.5 .8 2.3-.9 2.3-2.5 1.1-2.3-.4zM743.9 594.9l-1-2.3 .4-2.3 2.2-2.1 2.3-.4 2.3 .5 2.9 2 .8 2.3-1.4 2.3-2.3 1.5-2.3 .5-2.3-.7z" fill="#063bf4" fill-rule="evenodd"/>
<path d="M666.5 728.2l128.5 0 2.8-4.6 1.8-2.3 3.9-3.5 4.7-2.6 2.3-.7 4.7-.2 0-130.9-15.9 0 1.9 2.3 1.1 2.3 .2 2.3-.7 2.3-1.5 2.3-2.9 2.3-3.1 1.5-4.7 1-2.3 .2-7 .2-7 2.5-2.3 .3-4.6-.5-9.3-4.2-2.3-.1-4.7 1.1-2.3 0-2.3-.6-2.5-1.4-1.9-2.3-1-2.3-.2-2.3 .4-2.3 1.2-2.3 1.6-2 .7-.3-34.5 0-2.7 6.9-5.2 16.1-4.2 11.5-.2 2.3 .3 2.3 1.7 4.5 .8 4.7-.3 2.3-.7 2.3-1.5 2.3-3 2.3-2.3 1-4.6 .5-7-.4-2.3 .4-14 4.6 0 21.5 7 1 4.7 1.9 2.7 1.6 1.9 2 1.2 2.6-.6 2.3-2.2 2.3-3 1.7-4.7 1.4-7 .3 0 42.6zM714.1 684.5l-4.1-2.3 .6-.3 2.3-1.1 2.4-.5 4.6-.1 2.3 .4 3.9 1.6-1.5 1.2-2.4 1.2-6.9 .1zM763.2 679.9l-2.9-2.3 3.8-1.9 2.3-.5 4.6-.1 2.5 .2 2.2 .8 2.4 1.5-3.5 2.3-5.9 .7-4.6-.4zM779.5 645.5l-1.5-.3-2.7-2-.9-2.3 .3-2.3 1-1.6 2.3-1.5 2.3-.2 2.3 .7 2.4 2.6 .6 2.3-.8 2.3-2.2 1.7-2.3 .7z" fill="#084df8" fill-rule="evenodd"/>
<path d="M666.5 728.2l118.9 0 1.9-.7 4.6-2.9 6.3-5.6 6.6-4.6 5.7-2.2 4.7-.6 0-50.7-1.3-6.2-3.8-11.5-.7-4.6 .2-6.9 1.8-9.2-.6-4.6-2.2-4.6-2.7-4.2-2.4-2.9-2.3-1.8-2.3-.7-4.6 .4-11.7 3.7-3.8 .9-3.1 .2-7-.5-4.6-1.5-7-3.9-2.3-.9-7-.9-2.3-.7-2.4-1.1-2.8-2.2-1.9-2.3-2.2-3.9-2.4-2.4-2.3-.6-2.3 .1-4.6 1.4-4.7 2.8-2.3 2-2.6 2.9-3.1 4.6-9.1 18.4-1.1 4.6-.2 6.9-.4 2.3-.7 2.3-1.3 2.3-2.4 2.5-2.4 1.6-2.3 1-9.3 2.9-4.6 2.7-4 3.1-2 2.3-1.3 2.2-.5 2.3 .4 2.3 1.4 2.3 2.6 2.3 10 6.9 2 2.3 .7 2.3-.9 2.3-2.5 2.3-4.1 2.3-7.1 2.3-4 .7-4.7 .3 0 40.4zM710.1 684.5l-3.5-2.3 1.7-1.5 1.5-.8 3.1-.5 4.7-.2 4.6 .4 2.4 .6 3.6 2-2.6 2.3-3.4 .7-4.6 .3-7-.9zM760.3 679.9l-2-2.3 3.8-2.3 4.3-.7 4.6-.2 4.7 .5 2.3 .6 2.9 2.1-2.9 2.4-7 1.2-4.6 0-4.7-.8zM776.4 645.5l-2.4-2.3-.9-2.3 0-2.3 1-2.3 1.6-1.8 2.3-1 2.3-.3 2.9 .8 1.8 .9 1.3 1.4 1.1 2.3 .2 2.3-.8 2.3-2.3 2.3-1.9 .7-2.3 .4-2.3-.4z" fill="#0b62fa" fill-rule="evenodd"/>
<path d="M666.5 728.2l93.4 0 18.1-3.3 9.3-2.5 4.6-2.2 8.9-5.8 5.1-2.7 4.6-1.8 4.7-1 0-29.2-7-2.8-2.4-1.6-1.3-2.3 .2-2.3 2.5-6.9 .4-2.3-.2-4.6-1.6-4.5-6.1-11.5-1.4-4.6 .7-2.3 4.9-9.2 .5-2.3-.1-2.3-.9-2.3-2.2-2.8-2.3-1.7-2.3-1.1-4.7-.6-13.9 .7-9.3-.7-4.2-.7-2.8-1-3.2-1.3-3.7-2.3-2.4-1.3-9.3-3.7-3.2-1.9-3.7-3.2-2.4-1.4-2.3-.6-2.3 .2-4.6 1.8-4.7 3.6-3.4 4.2-4.2 6.9-6.1 11.5-1.7 4.6-1.6 6.9-2 4.6-1.8 2.3-2.4 2.1-11.6 6.3-3.9 3.1-1.9 2.3-1.1 2.2-.4 2.3 .5 2.3 1.3 2.3 2.1 2.3 3.4 2.6 10.6 6.6 3.3 2.5 2.3 1 11.6-.5 9.3 .5 5 1.1 3.2 2.3-2.4 2.3-1.1 .4-4.7 .9-4.6 .3-4.7-.3-4.6-.7-2.3-.6-2.4-1.1-3.8-1.2-.8-.6-2.3-.1-7 1.9-9.5 3.4-4.4 1.3-11.7 2 0 38.1zM757.7 679.9l-1.5-2.3 3.3-2.3 4.6-1.1 4.6-.4 4.6 0 4.7 .5 4.4 1 2.3 2.3-2.7 2.3-4 1.2-4.7 .7-4.6 .2-4.6-.3-4.7-1.1zM774.7 645.5l-2-2.3-.9-2.3-.2-2.3 .4-2.3 1.3-2.8 2.4-1.8 2.3-.8 2.3-.3 4.7 .6 2.3 .8 2.3 1.4 1 .6 1.4 2.3 .2 2.3-.7 2.3-1.5 2.3-2.5 2.3-2.5 1.3-2.4 .6-2.3 .2-2.3-.4-2.3-1.1z" fill="#0e7dfa" fill-rule="evenodd"/>
<path d="M666.5 728.2l73.1 0 10.5-1.3 23.2-4.2 11.7-2.8 6.9-2.7 14-7.7 9.3-3.6 0-20.5-14-4.6-6.9-1.4-2.4 0-13.9 2.8-7 .6-4.6-.1-4.7-.6-4.6-1.1-2.2-1.1-.9-2.3 3.1-2.3 4.6-1.3 4.7-.7 4.6-.3 16.3 .8 2.3-.1 2.3-.7 2.4-1 4.5-3.6 2-2.3 1.3-2.3 .6-2.3 .1-2.3-.4-2.3-.9-2.2-1.5-2.3-3.4-3.4-2.3-1.2-2.4-.6-9.3 1.4-4.6-.5-2.3-.9-2.4-1.7-1.8-2.3-1.1-2.3-.5-2.3 .1-4.6 1-2.6 2.3-2 2.4-1 4.6-.9 9.4-.4 4.6-1.1 1.8-1.2 1.5-2.3-.2-2.3-1.9-2.3-1.2-.8-4.7-1.2-18.6-1.4-9.3-1.7-5.1-1.8-7.9-4.6-12.5-6.6-2.4-.8-2.3-.3-2.3 .4-2.3 1-2.3 1.4-2.4 2-4.6 5.7-7.8 13.3-2.4 4.6-3.5 9.2-2.6 4.4-2.3 2.5-2.3 1.8-8.1 5.1-2.8 2.3-2 2.3-1.1 2.2-.4 2.3 .6 2.3 1.3 2.3 2.4 2.3 5.4 3.6 4.7 2.3 6.9 2.9 4.7 1.4 13.9 1.7 4.7 .8 3.3 1.1 2.5 2.3-2.3 2.3-5.8 1.6-4.7 .5-4.6 .1-14-1.4-4.6 0-4.7 .7-16.2 4-11.7 2.3 0 35.9z" fill="#1198fa" fill-rule="evenodd"/>
<path d="M666.5 728.2l53.6 0 16.1-1.5 13.9-1.9 11.6-2 14-3 6.9-1.7 7-2.4 7-3.3 18.6-10.3 0-11.5-4.7-2.5-4.6-1.8-7-2-7-1.1-4.6-.2-14 .7-9.2-.3-7.1-1.2-2.2-.6-3.4-1.7-.2-2.3 3.4-2.3 4.8-1.6 9.3-1.4 13.9-.5 7-1.6 3.5-1.8 3-2.3 1.8-2.3 .9-2.3 .1-2.3-.6-2.3-1.4-2.2-2.6-2.4-2.4-1.3-2.3-.7-9.3-.7-2.3-.5-3.2-1.3-3-2.3-1.7-2.3-2-4.6-1.1-4.6 .1-2.3 1.1-2.3 2.8-2.3 4.7-2 8.9-2.6 .5-2.3-8.3-2.3-10.4-1.8-9.3-2.4-5.8-2.7-10.5-6.1-4.6-1.9-2.4-.5-2.3 .1-3.9 1.5-3 2.1-4.7 5.2-5.7 8.8-3.9 6.9-4.3 9.2-2.7 4.6-4.3 4.4-9.7 7.1-2.1 2.3-1.2 2.2-.3 2.3 .5 2.3 1.6 2.3 4.2 3.4 4.7 2.4 13.9 5.1 16.3 3.1 4.6 1.3 2.2 .8 1.8 2.3-2.6 2.3-3.7 1.3-4.6 1-7 .6-14-.4-6.9 .4-11.6 2.3-21 4.8 0 33.7z" fill="#18b3f7" fill-rule="evenodd"/>
<path d="M666.5 727l18.6 .9 23.2-.4 25.5-2.1 18.6-2.7 16.3-3.1 16.3-4.3 6.9-2.7 4.7-2.4 11.5-7.3 2.6-2.3 1.5-2.3 .1-2.3-1.2-2.3-2.7-2.3-7.2-3.3-6.9-1.8-7-1-20.9-.8-9.3-.9-7-1.4-5.7-2.3 1.1-.3 1.7-2 4.3-2.3 5.6-1.8 7-1.5 14.6-1.3 6.3-1.2 4.6-1.9 2.4-1.5 2.3-2.3 1.1-2.3 .1-2.3-.9-2.3-2.1-2.2-4.1-2.3-10.4-2.3-4.7-2.1-3-2.5-1.7-2.3-2.2-4.1-2.1-5.1-.4-2.3 .4-2.3 2.1-3.1 4.5-3.8-.8-2.3-15.3-5.2-3.9-1.7-10.1-5.5-4.6-1.6-2.4-.3-2.3 .3-2.3 .9-2.3 1.4-2.3 1.9-4.7 5.6-4.3 6.5-10.3 18.4-4.1 4.6-9 6.9-2.2 2.3-1.2 2.2-.4 2.3 .7 2.3 1.7 2.3 3.5 2.7 4.7 2.3 9.3 3.3 7 2.1 16.4 3.4 8.7 2.3 0 2.3-4.3 2.3-9.2 2.6-7 .8-13.9 .3-7 .6-18.6 3.6-16.3 4 0 30.3z" fill="#21cdf3" fill-rule="evenodd"/>
<path d="M675.8 726.1l11.6 .4 13.9-.1 16.3-.8 13.9-1.3 14-1.9 13.9-2.4 11.6-2.6 14-4 8.3-3.6 7.5-4.6 2.8-2.3 2.1-2.3 1-2.3-.2-2.3-1.7-2.3-3.4-2.3-4.8-1.8-7-1.7-11.6-1.4-32.5-2.2-4.7 .5-8.7 2-7.5 1.3-18.6 1.2-9.3 1.2-18.6 3.9-14 3.8 0 26.8 9.9 .9zM729.2 675.7l9.3 1.2 4.6-.3 16.3-4.6 20.9-2.9 4.7-1.4 3.2-1.6 2.8-2.3 1.3-2.3 0-2.3-1.2-2.3-2.7-2.2-3.4-1.5-9.3-2.8-4.5-2.6-2.5-2.3-1.9-2.3-2.8-4.6-2.2-4.6-.6-2.3-.1-2.3 2.2-6.9-2-2.3-10.4-4.6-10.1-4.9-4.6-1.4-2.4 0-2.3 .4-2.3 1-2.3 1.5-4.7 4.8-4 5.5-4.3 6.9-5.1 9.2-3.2 4.6-4.3 4.1-6.5 5.1-2.3 2.3-1.3 2.2-.3 2.3 .7 2.3 2 2.3 3.3 2.3 9.1 3.7 13.9 4 7.1 1.5z" fill="#29e2ea" fill-rule="evenodd"/>
<path d="M666.5 723.7l11.6 1.2 11.6 .4 13.9-.1 14-.8 16.2-1.6 14-2 13.9-2.6 9.3-2.2 9.3-2.7 8.9-3.5 5.1-2.7 5.3-4.2 1.8-2.3 .6-2.3-.6-2.3-2.4-2.3-4.7-2.3-7-1.8-9.3-1.5-20.9-1.7-11.6-.4-4.7 .4-16.2 2.4-21 1.9-11.6 2-11.6 2.5-16.3 4.6 0 23.6 1.9 .2zM724.6 673.5l6.9 1.2 4.7 .3 4.6-.1 4.7-.6 13.9-3.2 16.3-2.4 4.6-1.1 4.1-1.5 2.9-1.8 2.1-2.8 0-2.3-2.1-2.7-2.9-1.8-11.1-4.3-3.9-2.6-2.4-2.3-3.6-4.6-3.8-6.9-1.2-4.6 0-4.6-.6-2.3-2.5-2.3-4.3-2.3-7.9-3.7-4.6-1.5-4.7-.3-2.3 .6-2.3 1-4.6 3.9-4.7 5.7-3.8 5.8-5.5 9.4-3 4.4-4 4-6.9 5.6-1.9 1.9-1.4 2.2-.3 2.3 .9 2.3 2.1 2.3 2.9 1.8 4.6 2.1 4.7 1.5 14.3 3.8z" fill="#30e9cc" fill-rule="evenodd"/>
<path d="M680.4 723.8l11.6 .4 11.6-.1 16.3-.9 11.6-1.1 14-2 11.6-2.1 11.6-2.7 10.4-3.2 8.2-3.3 6-3.6 2.5-2.3 1.5-2.3 .3-2.3-1.1-2.3-2.2-1.7-2.4-1.2-5-1.7-8.9-1.7-11.6-1.3-11.6-.8-9.3-.1-7 .4-27.9 3-11.6 1.7-13.9 2.7-16.3 4.5-4.7 1.6 0 20.4 7 1.1 7.5 .7zM731.5 673.3l7 .4 4.6-.4 18.6-3.6 14-2.2 4.6-1.3 2.3-1.1 2.2-1.3 1.7-2.3 0-2.3-1.8-2.3-4.1-2.2-4.9-2-4.7-2.4-3.5-2.5-2.4-2.3-3.6-4.6-4-6.9-1.7-4.6-1.1-4.6-1.4-2.3-2.8-2.3-4.5-2.3-5.2-2.1-4.6-.7-2.4 .2-2.3 .6-2.3 1.2-2.3 1.8-2.3 2.3-4.7 5.7-10.4 16.3-3.5 3.7-9 7.8-1.5 2.2-.3 2.3 1 2.3 2.4 2.3 2.7 1.6 4.7 1.9 6.9 2.1 9.3 2.4 7.2 1.2z" fill="#37f0ad" fill-rule="evenodd"/>
<path d="M671.1 721.6l9.3 1 11.6 .6 11.6-.1 14-.7 23.2-2.5 14-2.5 11.6-2.7 8.5-2.6 7.7-3 3.3-1.6 3.7-2.3 2.5-2.3 1.3-2.3 0-2.3-1.8-2.3-4.1-2.3-7.2-2-9.3-1.5-9.3-.9-11.6-.6-9.3 .1-23.2 2.2-11.6 1.4-14 2.5-11.6 2.7-9.3 2.8-7 2.6 0 17.2 5.5 1.1zM724.6 671.1l6.9 1.1 4.7 .3 9.3-.7 30.5-5.7 5.6-2.3 2.1-2.3 0-2.3-2.1-2.3-8.3-4-4.6-2.7-5.4-4.7-3.6-4.6-2.9-4.6-5.6-11.5-1.1-1.4-2.3-2-2.3-1.3-4.7-1.8-2.3-.5-4.7 .2-2.3 .8-2.3 1.3-2.3 1.8-4.7 4.9-3.5 4.9-5.8 9.2-3.6 4.6-10.3 9.2-1.5 2.2-.2 2.3 1.1 2.3 2.9 2.5 7 2.9 14.6 3.8z" fill="#30e97e" fill-rule="evenodd"/>
<path d="M680.4 721.5l9.3 .6 11.6 .2 11.6-.5 14-1.1 9.3-1.1 13.9-2.3 11.6-2.5 9.2-2.7 7.1-2.6 4.3-2 2.7-1.6 3.5-3 1.1-2.3-.4-2.3-2.4-2.3-1.8-.9-4.7-1.7-9.8-2-11.1-1.1-11.6-.5-9.3 .2-11.6 .9-14 1.5-13.9 2.2-13.9 2.9-10.8 3.1-10.2 4.2 0 13.7 7 1.7 7.5 1.1zM729.2 670.8l9.3 .6 4.6-.4 7-1 23.2-4.5 4.8-1.7 2.7-2.3 0-2.3-2.4-2.3-9.7-5.2-4.6-3.7-2.5-2.5-5.1-6.9-6.4-10.6-2.3-3.2-2.3-1.9-2.4-1.3-4.6-1.3-2.3-.1-2.4 .4-2.3 .9-2.3 1.3-2.3 1.9-4.7 4.9-7.6 11.3-3.6 4.6-10 9.2-1.5 2.2-.2 2.3 1.2 2.3 3.1 2.3 4.7 2 4.6 1.5 9.3 2.3 6.4 1.1z" fill="#29e24e" fill-rule="evenodd"/>
<path d="M696.7 721.4l11.6-.2 11.6-.7 9.3-.9 13.9-1.9 11.7-2.3 9.3-2.3 9.2-3.1 5.5-2.5 3.7-2.3 2.4-2.3 .9-2.3-.7-2.3-3.1-2.3-6.3-2.2-4.7-1-9.3-1.2-9.3-.7-9.3-.1-11.6 .6-13.9 1.3-14 2-11.6 2.2-9.3 2.3-9.3 3-6.8 3-2.5 1.6 0 9.8 .4 .1 6.6 2.2 7 1.2 9.3 .9 8.4 .3zM722.2 668.6l7 1.3 4.6 .4 4.7 .1 7-.6 25.5-5.1 3.1-.9 3.5-2.3 .1-2.3-2.4-2.3-8.9-5.3-4.7-4.2-5.3-6.5-8-11.5-2.9-3.3-2.4-1.6-2.3-1.1-2.3-.5-2.3-.1-2.4 .4-2.3 .9-2.3 1.3-4.6 4.1-3.7 4.5-8.2 11.5-9.7 9.2-1.5 2.2-.2 2.3 1.4 2.3 3.3 2.2 2.3 1 7 2.2 6.1 1.5z" fill="#31dc32" fill-rule="evenodd"/>
<path d="M680.4 719.3l9.3 .9 9.3 .3 11.6-.2 11.6-.8 11.6-1.3 11.7-1.8 9.3-1.9 8.7-2.4 6.8-2.3 5.1-2.3 2.6-1.5 1.2-.8 2.2-2.3 .8-2.3-1.2-2.3-3.8-2.3-6.2-1.8-6.9-1.2-9.3-.9-9.3-.3-9.3 .1-11.6 .9-21 2.7-11.6 2.3-10.5 2.8-6.6 2.3-5 2.3-3.6 2.3-2.2 2.3 0 3.3 .9 1.3 4.1 2.3 9.2 2.3zM726.9 668.6l9.3 .9 9.3-.6 23.7-5.1 4.8-2.3 .5-2.3-2.3-2.3-5.8-3.7-4.7-4-3.4-3.7-8.2-11-4.5-5.1-2.5-2-2.3-1.3-2.3-.6-2.3-.2-2.4 .4-4.6 2.2-4.6 4.1-10.3 13.5-9.4 9.2-1.5 2.2-.1 2.3 .3 .6 1.4 1.7 3.3 2 7.7 2.6 9.9 2.3z" fill="#3cd71a" fill-rule="evenodd"/>
<path d="M687.4 719.1l9.3 .5 9.3 .1 11.6-.6 11.6-1.1 11.6-1.6 9.3-1.8 9.3-2.3 7.5-2.5 5.3-2.3 3.7-2.3 2.2-2.3 .5-2.3-1.6-2.3-4.6-2.3-6-1.5-7-1-9.3-.7-9.3-.1-9.3 .3-11.6 1.1-9.3 1.1-11.6 2-9.3 2.2-9.3 2.7-7.4 3.1-3.6 2.3-2 2.3-.4 2.3 1.8 2.3 5.1 2.3 6.5 1.5 6.3 .8zM733.8 668.6l4.7 0 7-.6 18.4-4.2 6-2.3 1.1-2.3-1.9-2.3-5-3.9-4.7-4.5-11.6-14.3-4.7-4.2-2.3-1.3-2.3-.7-2.3-.2-2.4 .3-4.6 2.1-2.3 1.8-4.7 5.1-6.9 9-8.5 8.6-1.4 2.2 0 2.3 2 2.3 4.5 2.3 10.3 3 10.2 1.6z" fill="#67df1b" fill-rule="evenodd"/>
<path d="M680.4 717l7 1.1 9.3 .7 9.3 .1 11.6-.5 9.3-.9 11.6-1.5 9.3-1.8 8.7-2.1 7.2-2.3 5.3-2.3 3.8-2.3 2-2.3 .3-2.3-2.1-2.3-5.8-2.3-5.5-1.1-6.9-.9-9.3-.5-9.3 .1-9.3 .6-9.3 .9-11.6 1.7-16.3 3.5-8.3 2.6-5.3 2.3-3.6 2.3-2 2.3 0 2.3 2.3 2.3 6.2 2.3zM724.6 666.5l6.9 1.1 4.7 .2 9.3-.7 6.9-1.5 9.3-2.6 3.9-1.5 1.8-2.3-1.3-2.3-6.7-6.6-9.3-11.2-4.6-4.9-4.7-3.1-2.3-.8-2.3-.3-2.4 .3-2.3 .8-2.3 1.3-4.6 4.2-9.3 11.2-6.6 6.9-1.3 2.2 .1 2.3 2.3 2.3 5.1 2.3 8.2 2.3z" fill="#93e71d" fill-rule="evenodd"/>
<path d="M685.1 716.8l6.9 .8 7 .4 9.3 .1 9.3-.5 18.6-2 16.8-3.5 7.5-2.3 5.4-2.3 3.7-2.3 2-2.3-.1-2.3-2.6-2.3-7.3-2.3-6.8-1-7-.5-9.3-.1-9.3 .4-9.3 .8-11.6 1.6-16.4 3.4-7.4 2.3-5.3 2.3-3.7 2.3-1.8 2.3 .2 2.3 2.9 2.3 8.1 2.3zM729.2 666.5l9.3 .5 9.3-1.2 7.6-2 6.1-2.3 2.4-2.3-.5-2.3-13.3-15.7-4.6-4.8-3.4-2.4-3.6-1.6-2.3-.2-2.4 .2-2.3 .8-2.3 1.3-4.6 4.2-14 16-1.2 2.2 .4 2.3 2.6 2.3 5.6 2.3 9.3 2.3z" fill="#b9ec1e" fill-rule="evenodd"/>
<path d="M694.3 716.9l16.3 .3 16.3-1.1 16.2-2.6 6.3-1.4 7.8-2.3 5.7-2.3 3.7-2.3 1.8-2.3-.4-2.3-3.4-2.3-2.9-.8-4.6-1.1-7-.8-7-.4-9.3 .1-16.2 1.3-16.3 2.7-5.9 1.3-7.7 2.3-5.5 2.3-3.6 2.3-1.7 2.3 .5 2.3 3.7 2.3 6.3 1.6 5.1 .7zM736.2 666.2l4.6-.2 4.7-.6 6.4-1.6 2.9-1 3.2-1.3 2.8-2.3 .1-2.3-1.3-2.2-3.6-4.6-5.9-7-4.6-4.7-4.7-3.1-2.3-.8-2.3-.3-2.4 .2-2.3 .8-4.6 3.2-12.6 14-1.8 2.3-1 2.2 .6 2.3 3 2.3 2.5 1.1 3.6 1.2 5.7 1.4 7.6 .9z" fill="#d9ed1e" fill-rule="evenodd"/>
<path d="M687.4 714.8l11.6 1.5 7 .2 9.3-.2 18.3-1.9 14.2-2.8 6.2-1.8 5.8-2.3 3.7-2.3 1.6-2.3-.7-2.3-2.7-1.5-1.8-.8-5.1-1.1-11.7-1.1-13.9 .2-16.3 1.7-13.9 2.6-9.3 2.8-4.5 1.8-3.6 2.3-1.6 2.3 1 2.3 4.8 2.3zM724.6 663.9l9.2 1.4 4.7 .1 4.6-.5 5.3-1.1 4-1.3 2.5-1 3.2-2.3 .5-2.3-.9-2.2-1.5-2.3-8.4-9.9-4.6-3.9-2.4-1.4-2.3-.8-2.3-.3-2.4 .3-2.3 .8-2.3 1.4-4.6 4.1-8.6 9.7-1.7 2.3-.8 2.2 .9 2.3 3.4 2.3 6.7 2.3z" fill="#f9ee1e" fill-rule="evenodd"/>
<path d="M692 714.6l11.6 1 14-.2 13.9-1.4 14-2.7 5.2-1.5 5.9-2.3 3.8-2.3 1.4-2.3-1.3-2.3-5.8-2.3-11.6-1.3-13.9 .1-13.9 1.4-14 2.5-7.1 1.9-4.5 1.8-5 2.8-1.4 2.3 1.5 2.3 6.5 2.3zM729.2 664l7 .6 6.9-.5 4.7-1.1 4.2-1.5 3.5-2.3 .9-2.3-.5-2.2-3-4.6-2.8-3.4-4.6-4.6-4.7-3-2.3-.8-2.3-.3-2.4 .3-2.3 .8-2.3 1.4-2.3 1.8-4.7 4.7-4.5 5.4-1.5 2.3-.6 2.2 1.2 2.3 3.8 2.3 7.9 2.3z" fill="#fbd21b" fill-rule="evenodd"/>
<path d="M699 714.5l11.6 .4 11.6-.6 14-1.9 11-2.6 6.2-2.3 3.8-2.3 1.2-2.3-2-2.3-1.6-.6-4.7-1.2-4.6-.7-11.7-.4-11.6 .7-13.9 2-10.7 2.5-6.1 2.3-3.6 2.3-1.2 2.3 2.2 2.3 5.4 1.6 4.4 .7zM724.6 661.9l4.6 1.2 4.6 .6 7-.2 4.7-.9 3.5-1.1 4-2.3 1.3-2.3-.2-2.2-1.2-2.3-3.5-4.6-5-4.6-3.6-2.3-2.3-.8-2.3-.3-2.4 .3-2.3 .9-4.6 3.1-5.8 6-3.1 4.6-.3 2.2 1.5 2.3 4.3 2.3z" fill="#fcb518" fill-rule="evenodd"/>
<path d="M694.3 712.4l9.3 1.4 9.3 .2 14-1 11.6-2 5.1-1.2 6.5-2.3 3.7-2.3 1-2.3-3-2.3-1.7-.4-9.3-1.4-9.3-.2-11.6 .9-11.6 1.8-7 1.6-4.6 1.7-1.9 .6-3.6 2.3-.8 2.3 3.2 2.3zM726.9 661.6l6.9 1.2 7-.2 5-1.1 4.8-2.3 1.7-2.3-.1-2.2-1-2.3-3.6-4.6-2.5-2.3-3.4-2.3-3.2-1.3-2.3-.3-2.4 .3-2.3 .8-4.6 3.2-4.1 4.2-1.7 2.3-1.2 2.3-.1 2.2 1.9 2.3 5 2.3z" fill="#fb9616" fill-rule="evenodd"/>
<path d="M701.3 712.4l9.3 .7 9.3-.3 7.3-.7 12.3-2.3 7-2.3 3.8-2.3 .5-2.3-4.6-2.3-3.1-.5-9.3-.5-9.2 .3-7.4 .7-12 2.3-6.8 2.3-3.7 2.3-.4 2.3 5.1 2.3zM731.5 661.6l7 .3 4.6-.7 4.9-2 2.2-2.3 .2-2.2-.9-2.3-1.6-2.3-2.4-2.6-4.7-3.1-2.3-.8-2.3-.2-2.4 .3-2.3 .8-4.6 3.2-4 4.7-1.1 2.3 .4 2.5 2.4 2.2 6.5 2.1z" fill="#fa7615" fill-rule="evenodd"/>
<path d="M710.6 712.1l9.3-.2 9.3-1.1 5.7-1 7.7-2.3 3.8-2.3-.2-2.3-5.4-1.7-7-.7-7.1 .1-9.1 1-7.8 1.3-7.5 2.3-3.7 2.3 .3 2.3 4.7 1.5 7 .8zM729.2 659.9l2.3 .6 4.7 .5 4.6-.5 4.4-1.3 2.7-2.3 .5-2.2-.8-2.3-2.1-2.9-2.4-2-2.3-1.3-2.3-.8-2.3-.3-2.4 .3-2.3 .9-2.3 1.4-2.3 2-2.1 2.7-.9 2.3 .4 2.2 3 2.3z" fill="#f85614" fill-rule="evenodd"/>
<path d="M706 710.1l4.6 .6 4.7 .2 6.9-.3 7-.8 8.9-2.3 3.8-2.3-1.5-2.3-1.9-.4-4.7-.6-4.6-.1-7 .3-6.6 .8-8.9 2.3-3.6 2.3 1.7 2.3zM731.5 659.3l4.7 .5 4.6-.4 2.3-.9 2.4-1.6 .8-2.2-.7-2.3-2.5-2.8-3-1.8-1.6-.6-2.3-.3-2.4 .3-2.3 1-2.3 1.6-2.3 2.6-.8 2.3 .8 2.2 4.3 2.3z" fill="#f34013" fill-rule="evenodd"/>
<path d="M710.6 708.4l2.3 .7 4.7 .4 4.6-.3 7-1 3.1-.7 3.8-2.3-2.3-1.1-4.6-.9-4.6 .1-4.7 .5-7.4 1.4-3.6 2.3zM731.5 657.6l4.7 .8 2.3-.2 3.8-1.3 1.4-2.2-.6-2.3-2.6-2.3-2-.9-2.3-.3-2.4 .4-2.3 1.1-2 2-.8 2.3 1.5 2.2z" fill="#ef2b12" fill-rule="evenodd"/>
<path d="M733.8 655.7l2.4 .6 2.3-.5 1.5-1.1-1-2.3-.5-.4-2.3-.4-2.4 .5-1.3 2.6z" fill="#ec2012" fill-rule="evenodd"/>
<path d="M737.3 728.2l24.4-3.5 20.9-4.5 7-2.3 16.3-8.7 9.3-3.6M815.2 686l-14-4.6-6.9-1.3-4.7 .2-13.9 2.4-7 .2-9.3-1.1-4.9-1.9-.8-2.3 3.1-2.3 2.6-.8 9.3-1.5 16.3 .4 4.6-.4 4.7-1.7 2.3-1.5 3.6-3.7 2-4.6 .1-2.3-1.4-4.5-2-2.8-2.3-2.2-2.3-1.3-2.4-.6-11.6 .9-4.6-1.4-2.6-1.8-1.8-2.3-1-2.3-.8-4.6 .1-2.3 .8-2.3 2.3-2.3 5.3-2 13.9-1.4 2.9-1.2 1.8-2.3-.1-2.3-2.2-2.4-4.7-1.4-18.6-1.6-9.3-1.7-5.8-2.1-19.7-10.8-4.7-1-2.3 .5-4.1 2.1-5.2 4.9-3 4.3-6.7 11.5-2.4 4.6-3.6 9.2-2.7 4.6-4.8 4.4-7.6 4.8-2.9 2.3-2 2.3-1.1 2.2-.3 2.3 .5 2.3 1.4 2.3 2.4 2.3 4.9 3.3 4.7 2.3 11.6 4.3 18.6 2.7 3.7 1.2 2.4 2.3-2.3 2.3-6.1 1.7-9.3 .6-14-1.3-4.6 .1-32.6 7" fill="none" stroke="#1a3a2a" stroke-width="0.45" opacity="0.75"/>
<path d="M664.1 724.6l21 1.5 25.5-.4 20.9-1.8 25.6-3.8 18.6-4.3 13.9-4.7 4.7-2.3 5.5-3.6 4.8-4.6 .9-2.3-.3-2.3-1.8-2.3-4.5-2.6-7-2.2-11.6-1.8-32.5-2.3-7 .4-16.2 3.1-16.3 1.1-9.3 1.1-20.9 4.3-14 3.8M729.2 675.4l9.3 1 4.6-.4 16.3-4.2 20.9-3.1 7-2.6 2.9-2.3 1.4-2.3 0-2.3-1.3-2.3-3-2.2-11.6-4.1-4.7-2.6-2.7-2.5-3.5-4.6-3.5-6.9-.9-4.6 1.3-6.9-2.1-2.3-11.8-5.6-7-3.3-4.6-1.2-4.7 .5-4.6 2.6-4.7 4.8-3.3 4.5-12.8 20.7-4.7 4.6-6 4.6-2.3 2.3-1.3 2.2-.3 2.3 .7 2.3 2 2.3 4.8 3 7 2.7 9.3 2.8 13.8 3z" fill="none" stroke="#1a3a2a" stroke-width="0.45" opacity="0.75"/>
<path d="M664.1 721.1l16.3 2.2 18.6 .4 23.2-1.1 23.3-2.9 20.9-4.4 9.3-2.7 7.6-2.8 6.3-3.2 4.6-3.7 1.4-2.3 .2-2.3-1.4-2.3-3.6-2.3-10.5-2.9-18.6-2.2-18.6-.5-30.2 2.9-13.9 2-18.6 4-16.3 5.1M736.2 673.1l9.3-.6 30.2-5.6 6.9-2.6 2.7-2.8 0-2.3-2-2.3-12.3-6-4.3-3.1-2.4-2.3-3.6-4.6-2.8-4.6-5.5-12.6-.9-1.2-3.1-2.3-4.8-2.3-5.1-1.5-4.7 .1-3.5 1.4-3.4 2.3-7 8-9.6 15-4.3 4.5-8.1 7-1.5 2.2-.3 2.3 1 2.3 2.6 2.3 4.6 2.3 8.6 2.8 11.7 2.9 11.2 1.2z" fill="none" stroke="#1a3a2a" stroke-width="0.45" opacity="0.75"/>
<path d="M664.1 716.7l9.3 2.8 16.3 1.7 20.9-.1 20.9-1.7 23.3-3.9 16.2-4.6 8-3.4 3.7-2.3 2.4-2.3 1-2.3-.8-2.3-3-2.3-9-2.8-16.2-2.1-18.6-.2-23.2 2-23.3 4-16.2 4.4-7 2.8-4.7 2.6M722.2 668.7l11.6 1.7 11.7-.5 25.5-5.1 3.3-1 3.5-2.3 .1-2.3-2.4-2.3-9.1-5.4-4.7-4.2-5.2-6.4-8-11.5-3-3.5-4.7-2.6-4.6-.6-4.7 1.2-2.3 1.4-4.6 4.1-12 16.1-9.8 9.2-1.5 2.2-.2 2.3 1.5 2.3 5.7 3.2 12.9 3.7z" fill="none" stroke="#1a3a2a" stroke-width="0.45" opacity="0.75"/>
<path d="M689.7 719.2l18.6 .3 20.9-1.6 20.9-3.4 9.3-2.3 7.1-2.4 5.3-2.3 3.7-2.3 2.2-2.3 .4-2.3-1.6-2.3-4.8-2.3-7.6-1.7-7-.9-18.6-.6-20.9 1.6-20.9 3.4-9.3 2.3-8.8 2.8-5.2 2.3-3.6 2.3-2 2.3-.3 2.3 1.8 2.3 5.2 2.3 5.9 1.4 7.6 .9zM733.8 668.5l11.7-.6 17.8-4.1 6.1-2.3 1.1-2.3-1.8-2.3-4.6-3.6-4.7-4.6-11.6-14.2-4.7-4.2-2.3-1.3-2.3-.7-4.7 .1-4.6 2.1-2.3 1.8-4.7 5-6.9 9-8.3 8.4-1.4 2.2 .1 2.3 2 2.3 4.6 2.3 12.3 3.4 9.2 1.2z" fill="none" stroke="#1a3a2a" stroke-width="0.45" opacity="0.75"/>
<path d="M689.7 716.8l16.3 .8 18.6-1 18.5-2.8 15.3-4 5.6-2.3 3.7-2.3 1.9-2.3-.3-2.3-3.1-2.3-2.1-.7-9.3-1.9-16.3-.8-16.3 .9-18.6 2.7-16.2 4.2-6.4 2.5-3.6 2.3-1.7 2.3 .4 2.3 3.4 2.3 9.8 2.3zM731.5 666.2l7 .3 9.3-1.3 5.4-1.4 6.1-2.3 2.7-2.3-.2-2.3-1.4-2.2-8-9.6-6.9-7.5-4.7-3.1-4.6-1.1-4.7 1.1-2.3 1.3-4.6 4.2-11 12.4-1.8 2.3-1.1 2.2 .5 2.3 2.9 2.3 8.1 3 8.6 1.6z" fill="none" stroke="#1a3a2a" stroke-width="0.45" opacity="0.75"/>
<path d="M692 714.4l11.6 1.1 16.3-.4 13.9-1.6 14-3 8.5-3 3.7-2.3 1.4-2.3-1.3-2.3-7.7-2.5-11.6-1.1-16.2 .5-14 1.8-13.9 3.1-8 2.8-3.6 2.3-1.4 2.3 1.6 2.3 6.7 2.3zM729.2 663.9l7 .6 6.9-.5 8.5-2.5 3.6-2.3 1-2.3-.5-2.2-1.3-2.3-6.6-7.9-4.7-3.9-2.3-1.3-4.6-1.1-4.7 1.1-2.3 1.4-7 6.5-5.8 7.5-.5 2.2 1.2 2.3 3.8 2.3 8.2 2.3z" fill="none" stroke="#1a3a2a" stroke-width="0.45" opacity="0.75"/>
<path d="M699 712.5l9.3 .9 11.6-.3 9.7-1 11.5-2.3 6.8-2.3 3.7-2.3 .7-2.3-3.8-2.3-3-.6-9.3-.8-11.6 .4-9.7 1-11.2 2.3-6.7 2.3-3.6 2.3-.6 2.3 4.2 2.3zM729.2 661.6l7 .7 6.9-.7 5.9-2.4 1.9-2.3 .2-2.2-.9-2.3-1.6-2.3-3.1-3.3-4.7-3-4.6-1.1-4.7 1.2-4.6 3.1-4.7 5.4-1.1 2.3 .1 2.2 2.1 2.3 5.9 2.3z" fill="none" stroke="#1a3a2a" stroke-width="0.45" opacity="0.75"/>
<path d="M703.6 709.9l4.7 .9 7 .3 15-1.3 8.7-2.3 3.8-2.3-1.1-2.3-.9-.2-4.6-.8-7-.4-14.9 1.4-8.5 2.3-3.6 2.3 1.3 2.3zM731.5 659.5l4.7 .6 4.6-.5 2.3-.8 2.8-1.9 .8-2.2-.7-2.3-1.9-2.3-3.3-2.4-4.6-1.1-2.4 .3-2.3 .9-3.1 2.3-1.9 2.3-.8 2.3 .7 2.2 4 2.3z" fill="none" stroke="#1a3a2a" stroke-width="0.45" opacity="0.75"/>
</g>
<path d="M666.4 585.7 V725.9 H812.8" fill="none" stroke="#000" stroke-width="1"/>
<line x1="666.4" y1="725.9" x2="666.4" y2="728.5" stroke="#000" stroke-width="0.8"/>
<text x="666.4" y="740.3" font-family="'Liberation Serif', serif" font-size="12" font-weight="bold" text-anchor="middle" fill="#000" >0</text>
<line x1="677.7" y1="725.9" x2="677.7" y2="727.3" stroke="#000" stroke-width="0.8"/>
<line x1="688.9" y1="725.9" x2="688.9" y2="728.5" stroke="#000" stroke-width="0.8"/>
<text x="688.9" y="740.3" font-family="'Liberation Serif', serif" font-size="12" font-weight="bold" text-anchor="middle" fill="#000" >2</text>
<line x1="700.2" y1="725.9" x2="700.2" y2="727.3" stroke="#000" stroke-width="0.8"/>
<line x1="711.5" y1="725.9" x2="711.5" y2="728.5" stroke="#000" stroke-width="0.8"/>
<text x="711.5" y="740.3" font-family="'Liberation Serif', serif" font-size="12" font-weight="bold" text-anchor="middle" fill="#000" >4</text>
<line x1="722.8" y1="725.9" x2="722.8" y2="727.3" stroke="#000" stroke-width="0.8"/>
<line x1="734" y1="725.9" x2="734" y2="728.5" stroke="#000" stroke-width="0.8"/>
<text x="734" y="740.3" font-family="'Liberation Serif', serif" font-size="12" font-weight="bold" text-anchor="middle" fill="#000" >6</text>
<line x1="745.3" y1="725.9" x2="745.3" y2="727.3" stroke="#000" stroke-width="0.8"/>
<line x1="756.6" y1="725.9" x2="756.6" y2="728.5" stroke="#000" stroke-width="0.8"/>
<text x="756.6" y="740.3" font-family="'Liberation Serif', serif" font-size="12" font-weight="bold" text-anchor="middle" fill="#000" >8</text>
<line x1="767.8" y1="725.9" x2="767.8" y2="727.3" stroke="#000" stroke-width="0.8"/>
<line x1="779.1" y1="725.9" x2="779.1" y2="728.5" stroke="#000" stroke-width="0.8"/>
<text x="779.1" y="740.3" font-family="'Liberation Serif', serif" font-size="12" font-weight="bold" text-anchor="middle" fill="#000" >10</text>
<line x1="790.4" y1="725.9" x2="790.4" y2="727.3" stroke="#000" stroke-width="0.8"/>
<line x1="801.6" y1="725.9" x2="801.6" y2="728.5" stroke="#000" stroke-width="0.8"/>
<text x="801.6" y="740.3" font-family="'Liberation Serif', serif" font-size="12" font-weight="bold" text-anchor="middle" fill="#000" >12</text>
<line x1="812.9" y1="725.9" x2="812.9" y2="727.3" stroke="#000" stroke-width="0.8"/>
<line x1="663.8" y1="725.9" x2="666.4" y2="725.9" stroke="#000" stroke-width="0.8"/>
<text x="662.8" y="729.9" font-family="'Liberation Serif', serif" font-size="12" font-weight="bold" text-anchor="end" fill="#000" >1.0</text>
<line x1="665" y1="714.2" x2="666.4" y2="714.2" stroke="#000" stroke-width="0.8"/>
<line x1="663.8" y1="702.5" x2="666.4" y2="702.5" stroke="#000" stroke-width="0.8"/>
<text x="662.8" y="706.5" font-family="'Liberation Serif', serif" font-size="12" font-weight="bold" text-anchor="end" fill="#000" >1.5</text>
<line x1="665" y1="690.9" x2="666.4" y2="690.9" stroke="#000" stroke-width="0.8"/>
<line x1="663.8" y1="679.2" x2="666.4" y2="679.2" stroke="#000" stroke-width="0.8"/>
<text x="662.8" y="683.2" font-family="'Liberation Serif', serif" font-size="12" font-weight="bold" text-anchor="end" fill="#000" >2.0</text>
<line x1="665" y1="667.5" x2="666.4" y2="667.5" stroke="#000" stroke-width="0.8"/>
<line x1="663.8" y1="655.8" x2="666.4" y2="655.8" stroke="#000" stroke-width="0.8"/>
<text x="662.8" y="659.8" font-family="'Liberation Serif', serif" font-size="12" font-weight="bold" text-anchor="end" fill="#000" >2.5</text>
<line x1="665" y1="644.1" x2="666.4" y2="644.1" stroke="#000" stroke-width="0.8"/>
<line x1="663.8" y1="632.4" x2="666.4" y2="632.4" stroke="#000" stroke-width="0.8"/>
<text x="662.8" y="636.4" font-family="'Liberation Serif', serif" font-size="12" font-weight="bold" text-anchor="end" fill="#000" >3.0</text>
<line x1="665" y1="620.8" x2="666.4" y2="620.8" stroke="#000" stroke-width="0.8"/>
<line x1="663.8" y1="609.1" x2="666.4" y2="609.1" stroke="#000" stroke-width="0.8"/>
<text x="662.8" y="613.1" font-family="'Liberation Serif', serif" font-size="12" font-weight="bold" text-anchor="end" fill="#000" >3.5</text>
<line x1="665" y1="597.4" x2="666.4" y2="597.4" stroke="#000" stroke-width="0.8"/>
<line x1="663.8" y1="585.7" x2="666.4" y2="585.7" stroke="#000" stroke-width="0.8"/>
<text x="662.8" y="589.7" font-family="'Liberation Serif', serif" font-size="12" font-weight="bold" text-anchor="end" fill="#000" >4.0</text>
<text transform="translate(641.9 656.8) rotate(-90)" font-family="'Liberation Serif', serif" font-size="12" font-weight="bold" text-anchor="middle" fill="#000">R+a (Å)</text>
<text x="739.1" y="756.7" font-family="'Liberation Serif', serif" font-size="12" font-weight="bold" text-anchor="middle" fill="#000">k (Å<tspan dy="-4" font-size="8">-1</tspan><tspan dy="4">)</tspan></text>
<text x="670.4" y="603.1" font-family="'Liberation Serif', serif" font-size="15.3" fill="#fff">Co<tspan dy="3.5" font-size="10.5">3</tspan><tspan dy="-3.5">O</tspan><tspan dy="3.5" font-size="10.5">4</tspan></text>
<text x="721.8" y="711.5" font-family="'Liberation Serif', serif" font-size="12.5" text-anchor="middle" fill="#2a0a0a" >Co-O</text>
<text x="736.5" y="657.5" font-family="'Liberation Serif', serif" font-size="12.5" text-anchor="middle" fill="#0a2a1a" >Co-Co</text>
<clipPath id="eClip5"><rect x="861.3" y="585.4" width="141.2" height="139.8"/></clipPath>
<g clip-path="url(#eClip5)">
<rect x="860.3" y="584.4" width="143.2" height="141.8" fill="#0416e2"/>
<path d="M861.4 727.5l143.1 0 0-58.3-23.5-10.5-3.9-2.3-2.7-2.2-3.4-4.7-4.2-11.4-2.5-5.7-3.7-5.8-3.1-3.5-4.4-4.1-6.7-4.6-9-4.6-22.4-9.5-6.7-2.8-6.7-2-6.7-1.1-4.5-.4-4.4 .2-6.7 .9-4.5 1.3-4.5 1.7-6.7 3.8-4.5 3.4 0 122.2zM911.5 617.5l1.2-2.3 .3 0 .7 2.3-.9 .7z" fill="#0420e9" fill-rule="evenodd"/>
<path d="M861.4 727.5l117.1 0 8.1-2.7 6.7-2.7 6.7-3.3 4.5-2.7 0-29.4-4.5-2.9-6.7-3.7-8.9-4.1-14.1-5.8-5-2.3-3.8-2.3-2.5-2.3-1.6-2.3-.9-2.3-.7-4.5-.3-6.9-.7-4.6-.6-2.3-2-4.6-3.3-4.6-2.5-2.4-4.5-3.3-4.5-2.3-6.7-2.4-4.5-.9-2.2-.1-2.2 .4-3.9 1.9-2.9 .9-2.2 .3-2.2-.5-2.3-1.3-1.6-1.7-2.8-6.2-2.3-2.7-2.2-1.4-2.2-.8-4.5-1.1-6.7-.4-4.5 .6-6.7 2.3-4.6 2.8-5.1 4.6-3.6 4.6-2.4 3.6 0 101.8z" fill="#052af0" fill-rule="evenodd"/>
<path d="M861.4 727.5l97.5 0 12.1-3.1 8.9-2.9 9-3.8 6.7-3.9 3-2.3 2.3-2.3 1.6-2.3 1.1-2.3 .4-2.3-.1-2.3-.8-2.3-1.3-2.3-1.9-2.3-2.5-2.3-4.1-2.9-8.9-4.8-11.2-4.7-22-8.2-3.1-2.3-1.2-2.3-.5-2.3-.2-2.3 1.6-11.4-.1-4.6-.5-2.3-1.9-4.6-1.5-2.3-2.1-2.3-2.9-2.3-5.9-3.1-6.7-2.2-4.4-.5-6.8 .6-4.4-.5-2.3-.9-2.2-1.6-6.7-6.7-2.2-1.2-4.5-1.4-4.5-.5-4.5 .2-4.4 1.2-4.5 2.2-4.5 3.6-4.5 5.4-3.1 5.4-3.6 8.5 0 87.8z" fill="#063bf4" fill-rule="evenodd"/>
<path d="M861.4 727.5l80.2 0 15.9-3 11.2-3 6.7-2.3 6.8-2.8 4.7-2.6 3.4-2.3 2.5-2.3 1.9-2.3 1.1-2.3 .5-2.3-.2-2.3-.8-2.3-1.5-2.3-2.2-2.3-5-3.7-4.4-2.5-6.8-3.1-15.6-5.7-6.7-1.9-4.5-.8-13.4 .1-4.5-.6-.5-.1-2.5-2.3 .8-1.2 1-1.1 4.1-2.3 2.7-2.3 3.6-9.2 1.3-4.5 .6-4.6-.8-4.6-1-2.3-1.5-2.3-2.3-2.3-3.3-2.3-6.7-3-4.4-1.1-9-1.1-4.5-1.4-4.3-2.6-4.6-3.4-4.5-2.2-2.2-.6-4.5-.6-4.5 .4-4.4 1.4-4.5 2.8-4.5 4.6-4.2 6.8-2.8 6.9-1.5 6.9-.3 6.9 .9 6.8 1 2.3 3.2 4.6 .5 2.3-1.3 2.4-2.2 1.1-4.5 .9 0 52.6z" fill="#084df8" fill-rule="evenodd"/>
<path d="M863.6 725.4l9 1.3 9.3 .8 39.3 0 14-1.3 15.6-2.7 15.7-4.1 11.2-4.4 6-3.5 2.8-2.3 2-2.3 1.2-2.3 .5-2.3-.2-2.3-1-2.3-1.6-2.3-2.4-2.3-3.1-2.3-4.2-2.4-6.7-3.1-15.7-5.3-8.9-2-14.2-.9-6-1.7-1.5-.6-1.8-2.3 .8-2.3 2.2-2.3 2.4-2.3 3.1-4.6 3.5-6.8 1.3-4.6-.2-4.6-.8-2.3-1.4-2.3-2.2-2.3-3.3-2.3-4.3-2-15.7-4.6-11.1-6-4.5-1.5-4.5-.5-4.5 .5-4.4 1.7-4.3 3.2-3.8 4.6-2.5 4.6-1.8 4.6-1.4 6.9-.1 4.6 1.1 6.8 .9 2.3 3.7 6.9 .3 2.3-.8 2.3-2.8 2.3-4.2 1.5-4.5 .9 0 47.5 3.4 .5z" fill="#0b62fa" fill-rule="evenodd"/>
<path d="M879.3 725.5l15.6 .9 17.9-.1 17.9-1.5 15.7-2.4 13.4-3.2 11.2-3.9 7.1-3.8 3-2.3 2.2-2.3 1.3-2.3 .5-2.3-.3-2.3-1-2.3-1.8-2.3-2.5-2.3-6.3-3.8-8.9-3.9-11.2-3.5-9-2-15.6-2-3.3-.8-5.1-2.3-1.9-2.3 0-2.3 1.5-2.3 6.5-8 3.5-5.7 1.4-4.6 0-2.3-.5-2.3-1.1-2.3-1.9-2.3-3.6-2.6-4.5-2.2-11.2-4-11.1-5.3-4.5-1.4-2.3-.4-4.4 .1-4.5 1.4-4.3 2.9-2.4 2.6-2.8 4.3-2 4.6-1.1 4.6-.3 4.6 .5 4.6 .6 2.2 2 4.6 3.9 6.9 .4 2.3-.7 2.3-2.4 2.3-4.8 2.4-9 2.2 0 43.3 9 1.5 9.2 1z" fill="#0e7dfa" fill-rule="evenodd"/>
<path d="M872.6 723.1l15.6 1.5 17.9 .3 15.7-.7 15.6-1.9 15.7-3.1 11.2-3.5 4.6-1.9 4.3-2.3 3.2-2.3 2.3-2.3 1.4-2.3 .5-2.3-.2-2.3-1.1-2.3-1.9-2.3-2.8-2.3-5.9-3.3-6.7-2.9-11.2-3.6-8.9-2-15.7-2.5-6.5-1.7-5.4-2.3-2.7-2.3-.3-2.3 1.6-2.3 4.4-4.2 4.5-4.8 1.8-2.5 2.2-4.5 .4-2.3-.1-2.3-.7-2.3-1.6-2.3-2.5-2.3-3.8-2.3-4.9-2.3-13.2-5.8-6.7-2.2-4.5-.3-4.5 .9-4.4 2.6-2.5 2.5-2.9 4.6-1.7 4.6-.7 4.6 .3 4.6 .8 3 1.7 3.8 2.7 4.1 4.3 5.1 1.4 2.3-.3 2.3-2.8 2.3-5 2.3-7 2.3-8.5 2 0 39.5 12.3 2z" fill="#1198fa" fill-rule="evenodd"/>
<path d="M886 723l11.2 .6 13.4-.1 13.4-.9 11.2-1.4 11.2-2 11.1-3 9-3.6 5.7-3.4 2.4-2.3 1.5-2.3 .6-2.3-.3-2.3-1.2-2.3-2.1-2.3-3-2.3-3.6-2.1-6.7-2.9-9-3-11.1-2.7-17.8-3-15.8-3.8-8.9-1.1-9 1.3-29.1 7.4 0 36.2 13.5 2.3 12.3 1.2zM892.7 668.8l2.2 .4 4.5-.1 4.5-1.5 4.4-2.2 4.5-2.9 4.2-3.8 2.5-3.3 1.7-3.5 .4-2.3-.2-2.3-1.1-2.3-1.9-2.3-3-2.3-4-2.3-12-5.5-4.5-1.5-4.5-.7-4.4 .4-2.3 .8-2.2 1.4-2.9 2.8-1.6 2.3-2 4.6-.7 4.6 0 2.3 1.1 4.6 1.6 3.2 2.9 3.6 3.8 3.4 4.5 2.6 2.3 .9z" fill="#18b3f7" fill-rule="evenodd"/>
<path d="M874.8 720.7l11.2 1.2 11.2 .5 13.4-.1 11.2-.7 13.4-1.6 11.2-2.2 8.9-2.5 6.7-2.6 6.3-3.5 2.5-2.3 1.6-2.3 .6-2.3-.3-2.3-1.3-2.3-2.1-2.3-3.3-2.3-8.5-4-8.9-3-11.2-2.6-20.1-3.5-11.2-1.6-6.7-.4-9 .5-8.9 1.3-22.4 5.1 0 33.1 15.3 2.7zM890.4 663.8l2.3 .5 4.5 .4 4.4-.6 4.5-1.6 4.5-2.6 2.2-1.9 3.1-3.8 1-2.3 .3-2.3-.4-2.3-1.3-2.3-2.2-2.3-3.2-2.3-4-2.2-6.7-3-6.7-1.9-4.5 0-2.2 .6-2.3 1.1-2.2 1.8-2.2 2.9-1.4 3-.9 4.4 .1 2.5 1.4 4.6 3 4.2 2.2 2 2.3 1.5 3.2 1.4z" fill="#21cdf3" fill-rule="evenodd"/>
<path d="M886 720.7l11.2 .6 11.1 0 13.5-.8 11.1-1.4 9-1.6 8.9-2.3 9-3.3 4.8-2.7 2.7-2.3 1.7-2.3 .6-2.3-.3-2.3-1.3-2.3-2.4-2.3-3.6-2.4-6.7-3.1-8.9-2.9-9-2.2-11.2-2-13.4-1.9-8.9-.7-6.7-.1-9 .6-11.2 1.6-17.9 4.1 0 30.2 13.5 2.7 12.7 1.4zM892.7 661.1l2.2 .3 4.5-.2 4.5-1.2 2.5-1.3 3.1-2.3 2-2.2 1.1-2.3 .3-2.3-.6-2.3-1.4-2.3-2.5-2.3-2.3-1.5-6-3.1-2.9-1.1-4.5-.9-4.5 .3-2.2 .8-2.3 1.6-1.4 1.6-1.4 2.3-.7 2.3-.3 2.3 .2 2.3 .6 2.3 1.1 2.3 1.8 2.2 2.4 2 2.2 1.2 4.2 1.4z" fill="#29e2ea" fill-rule="evenodd"/>
<path d="M874.8 718.5l11.2 1.2 11.2 .6 11.1 0 11.2-.6 9-1 11.2-1.9 8.9-2.2 8.3-3.1 4.3-2.3 2.8-2.3 1.8-2.3 .6-2.3-.3-2.3-1.4-2.3-2.5-2.3-3.6-2.3-5.5-2.4-9-3-11.2-2.5-13.4-2.1-11.2-1.1-8.9-.3-9 .3-8.9 1-11.2 2-11.2 2.9 0 27.4 6.7 1.6 8.3 1.5zM890.4 657.3l4.5 1 4.5-.3 2.2-.7 2.3-1 2.2-1.7 1.9-2.7 .3-2.5-.6-2.1-1.6-2.3-3-2.3-3.7-2-4.5-1.4-4.5-.1-3.2 1.2-2.5 2.3-1.2 2.3-.4 2.3 .2 2.3 .8 2.3 1.6 2.3 3 2.2z" fill="#30e9cc" fill-rule="evenodd"/>
<path d="M883.7 718.5l11.2 .8 11.2 .1 8.9-.4 11.2-1 9-1.4 8.9-2 9-3 4.7-2.4 3.1-2.3 1.8-2.3 .7-2.3-.4-2.3-1.5-2.3-4-3.1-6.7-3.3-8.9-2.9-9-2-8.9-1.6-11.2-1.2-8.9-.6-9 .1-6.7 .5-11.2 1.4-8.9 1.8-9 2.5 0 24.8 11.2 2.6 11.8 1.7zM892.7 654.3l2.2 .4 4.3-.5 3.1-2.3 .8-2.3-.7-2.3-2.3-2.3-2.9-1.5-2.3-.6-2.2-.1-2.3 .6-2.2 1.7-.8 2.2 .2 2.3 1.3 2.3 3.5 2.3z" fill="#37f0ad" fill-rule="evenodd"/>
<path d="M894.9 718.4l9 .1 11.1-.4 9-.8 8.9-1.3 9-2 6.7-2.1 6-2.7 3.2-2.3 2-2.3 .7-2.3-.4-2.3-1.6-2.3-2.8-2.3-4.9-2.6-8.9-3.2-9-2.1-8.9-1.6-9-1.1-8.9-.5-15.7 .2-8.9 1-8.9 1.5-6.8 1.6-6.7 2.1 0 22.1 6.7 1.9 9 1.8 8.9 1.1 11.1 .8z" fill="#30e97e" fill-rule="evenodd"/>
<path d="M879.3 716.2l8.9 .9 11.2 .6 11.2-.2 8.9-.6 9-1.1 8.9-1.7 8.9-2.6 5.2-2.3 3.4-2.3 2-2.3 .8-2.3-.5-2.3-1.6-2.3-2.9-2.3-4.5-2.3-6.3-2.3-8.9-2.3-9-1.6-11.2-1.2-8.9-.5-9 .1-8.9 .7-11.2 1.7-9 2.1-6.7 2.3 0 19.4 9 2.6 10.5 2z" fill="#29e24e" fill-rule="evenodd"/>
<path d="M886 716.1l8.9 .6 11.2 .1 8.9-.4 11.2-1.2 9-1.6 7.6-2.1 5.5-2.3 3.7-2.3 2.2-2.3 .8-2.3-.5-2.3-1.8-2.3-3.1-2.3-4.7-2.3-6.9-2.3-14-2.9-9-1.1-8.9-.5-8.9 0-9 .5-6.7 .8-8.9 1.7-6.8 1.7-6.7 2.5 0 16.6 4.5 1.7 7.4 2 6 1.1 8.9 1.2z" fill="#31dc32" fill-rule="evenodd"/>
<path d="M877 714l9 1.2 8.9 .7 11.2 .1 8.9-.4 9-.9 8.9-1.6 6.3-1.6 6.1-2.3 3.9-2.3 2.2-2.3 .9-2.3-.5-2.3-1.9-2.3-3.3-2.3-2.5-1.1-6.7-2.5-6.7-1.7-8.9-1.5-9-1-8.9-.5-9 .2-8.9 .7-9 1.4-6.7 1.5-7 2.2-4.2 2 0 13.5 7.1 2.9 9.5 2.3z" fill="#3cd71a" fill-rule="evenodd"/>
<path d="M881.5 713.9l8.9 .9 9 .5 8.9-.1 9-.6 8.9-1.1 6.7-1.4 6.8-2 4.4-1.9 2.2-1.3 2.5-2.3 .9-2.3-.6-2.3-1.9-2.3-3.6-2.3-5.6-2.3-7.3-2-6.7-1.3-9-1.1-8.9-.6-8.9 0-6.8 .4-8.9 1.1-6.7 1.3-8 2.2-5.3 2.3-2.4 1.6 0 9.9 4.2 2.3 4.8 1.7 6.7 1.8 6.2 1.1z" fill="#67df1b" fill-rule="evenodd"/>
<path d="M888.2 713.8l15.7 .7 15.6-.9 6.7-1 6.7-1.5 6.1-1.9 4.5-2.3 2.6-2.3 .9-2.3-.5-2.3-2.1-2.3-3.9-2.3-6-2.3-8.3-2-8.9-1.3-9-.8-8.9-.1-9 .5-6.7 .8-6.7 1.2-6.7 1.7-5.7 2.3-3.7 2.3-1.8 2.1 0 4.1 .3 .7 2.6 2.3 4.5 2.3 6.1 1.9 6.7 1.5 8.2 1.2z" fill="#93e71d" fill-rule="evenodd"/>
<path d="M901.6 713.8l15.7-.8 6.7-.9 6.7-1.4 5-1.5 4.9-2.3 2.8-2.3 1-2.3-.6-2.3-2.2-2.3-4.2-2.3-4.5-1.6-6.7-1.7-6.7-1.2-6.7-.7-8.9-.5-9 .2-6.7 .6-6.7 1-7.4 1.6-6.4 2.3-4 2.3-2.1 2.3-.5 2.3 1 2.3 2.8 2.3 4.9 2.3 2.8 .9 5.5 1.4 7.9 1.3 6.7 .6 8.7 .4z" fill="#b9ec1e" fill-rule="evenodd"/>
<path d="M883.7 711.6l6.7 .8 9 .6 8.9-.1 6.7-.5 7.6-.9 5.9-1.3 3.8-1 5.4-2.3 3-2.3 1.1-2.3-.7-2.3-2.4-2.3-4.5-2.3-3.5-1.1-4.5-1.3-6.7-1.2-13.4-1.2-8.9 .1-6.8 .4-12.3 2-7.2 2.3-2.8 1.5-1.5 .8-2.3 2.3-.6 2.3 1.2 2.3 2.9 2.3 4.8 2 10.3 2.6z" fill="#d9ed1e" fill-rule="evenodd"/>
<path d="M890.4 711.6l6.8 .5 8.9 .1 13.4-1.1 6.7-1.3 4.5-1.3 4-1.6 3.2-2.3 1.2-2.3-.7-2.3-2.6-2.3-4.9-2.3-4.7-1.3-11.2-2-13.4-.7-13.4 .9-5.5 .8-5.7 1.5-2.8 .8-4.7 2.3-2.5 2.3-.6 2.3 1.2 2.3 2.7 1.9 6.7 2.7 11.9 2.3z" fill="#f9ee1e" fill-rule="evenodd"/>
<path d="M881.5 709.3l6.7 1.2 6.7 .7 13.4 .1 6.7-.5 6.8-1 4.4-1.1 4.5-1.5 4.4-2.6 1.3-2.3-.8-2.3-2.8-2.3-2.1-.9-3.5-1.4-5.4-1.3-11.2-1.5-11.2-.3-11.2 .9-10.3 2.2-5.4 2.3-2.7 2.3-.6 2.3 1.2 2.3 3.6 2.3 6.9 2.3z" fill="#fbd21b" fill-rule="evenodd"/>
<path d="M886 709.3l11.2 1.2 11.1 0 11.7-1.3 8.2-2.3 4-2.3 1.3-2.3-.8-2.3-3.1-2.3-3.4-1.3-3-1-5.9-1.1-11.2-1.2-11.2 .3-11.2 1.6-8 2.7-3 2.3-.7 2.3 1.4 2.3 4 2.3 8.1 2.3z" fill="#fcb518" fill-rule="evenodd"/>
<path d="M892.7 709.3l11.2 .5 9.9-.6 10.2-2.2 5-2.4 1.6-2.3-.9-2.3-3.5-2.2-6.7-2.1-6.7-1.1-11.2-.6-11.2 .8-3.7 .6-5.2 1.5-2.3 .8-2.2 1.4-1.2 .9-.8 2.3 1.5 2.3 5 2.4 10.2 2.2z" fill="#fb9616" fill-rule="evenodd"/>
<path d="M886 707l8.9 1.5 9 .4 8.9-.6 7.4-1.4 5.4-2.3 1.8-2.3-1.2-2.4-3.9-2.2-5-1.3-9-1.3-8.9-.1-9 .9-7.4 1.8-4 2.3-.9 2.3 1.8 2.3 5.4 2.3z" fill="#fa7615" fill-rule="evenodd"/>
<path d="M892.7 707.2l6.7 .6 8.9-.1 6.6-.8 6.9-2.3 2.1-2.3-1.2-2.3-5.1-2.3-4.8-.9-6.7-.7-6.7 0-9 1-4.4 1.3-3.3 1.6-1.1 2.3 2.1 2.3 7 2.3z" fill="#f85614" fill-rule="evenodd"/>
<path d="M890.4 705.2l6.8 1.3 6.7 .3 6.7-.6 6.7-1.6 2.6-2.3-1.5-2.3-5.6-1.9-4.5-.7-4.4-.2-6.7 .2-4.5 .7-5.7 1.9-1.4 2.3 2.7 2.3z" fill="#f34013" fill-rule="evenodd"/>
<path d="M894.9 704.6l9 .7 6.8-.7 4.2-2.3-2.1-2.3-2.2-.5-4.5-.7-4.5-.1-4.4 .4-4.5 .9-2.1 2.3 4.3 2.3z" fill="#ef2b12" fill-rule="evenodd"/>
<path d="M901.6 702.4l3.4-.1-1.1-.2-3.4 .2z" fill="#ec2012" fill-rule="evenodd"/>
<path d="M859.1 720.7l20.2 3 17.9 1 20.1-.4 20.1-2.2 15.7-3.1 6.7-2 8.5-3.2 7.6-4.6 2.3-2.3 1.4-2.3 .5-2.3-.3-2.3-1-2.3-2-2.3-5.8-4.1-5.6-2.8-7.9-2.9-8.9-2.7-20.4-3.5-9.3-2.3-5.5-2.3-2.9-2.3-.3-2.3 1.7-2.3 7.6-7.2 4.8-6.5 1.3-4.6-.1-2.3-.8-2.3-2.9-3.6-5.1-3.3-17.3-7.7-6.7-2.2-4.5-.4-2.2 .3-4.5 1.8-2.2 1.6-2.3 2.3-2.7 4.3-2.2 6.9 0 6.9 1.4 4.5 3.5 5.7 6.7 8.1-.1 2.3-2.9 2.3-5.2 2.3-7.1 2.3-9.3 2.2" fill="none" stroke="#1a3a2a" stroke-width="0.45" opacity="0.75"/>
<path d="M859.1 716.3l15.7 3 17.9 1.6 17.9 0 17.9-1.4 15.6-2.8 13.4-4.2 6.2-3.3 2.8-2.3 1.7-2.3 .6-2.3-.4-2.3-1.3-2.3-2.4-2.3-3.4-2.3-4.7-2.3-8-2.8-8.9-2.4-17.9-3.2-15.7-1.7-13.4 0-15.7 2-17.9 4.1M888.2 658.8l4.5 1.5 6.7 .1 4.5-1.3 2.2-1.2 2.1-1.5 2.1-2.2 1.2-2.3 .3-2.3-.6-2.3-1.5-2.3-2.6-2.3-5.5-3.2-6.7-2.4-4.5-.3-4.4 1.3-2.7 2.3-1.5 2.3-.8 2.3-.2 4.6 1.9 4.6 2.1 2.2 3.3 2.3z" fill="none" stroke="#1a3a2a" stroke-width="0.45" opacity="0.75"/>
<path d="M859.1 713.5l15.7 3.5 15.6 1.7 15.7 .3 17.9-1.2 15.7-2.6 12.1-3.7 4.6-2.3 3.1-2.3 1.9-2.3 .7-2.3-.4-2.3-1.5-2.3-2.7-2.3-6.7-3.4-13.4-4.2-17.9-3.1-15.6-1.1-15.7 .5-15.6 2.3-13.5 3.5M892.7 651.9l2.2 .5 2.3-.2 2.2-1.8 .4-.8-.8-2.3-1.8-1.3-2.3-.8-2.2 .1-2.3 1.7 0 2.6 2.3 2.3z" fill="none" stroke="#1a3a2a" stroke-width="0.45" opacity="0.75"/>
<path d="M859.1 710.2l11.2 3.5 13.4 2.2 15.7 1 17.9-.6 13.4-1.7 12.3-3.1 5.5-2.3 3.7-2.3 2.1-2.3 .8-2.3-.4-2.3-1.8-2.3-3.1-2.3-4.7-2.3-12.2-3.6-17.9-2.7-15.6-.6-15.7 1-13.4 2.5-11.2 3.7" fill="none" stroke="#1a3a2a" stroke-width="0.45" opacity="0.75"/>
<path d="M859.1 706.5l4.6 2.7 4.4 1.6 11.2 2.6 15.6 1.6 15.7 0 15.6-1.6 11.2-2.7 4.3-1.5 4.3-2.3 2.4-2.3 .9-2.3-.5-2.3-2-2.3-3.6-2.3-5.6-2.3-13.6-3.2-15.7-1.6-15.6 .1-13.4 1.7-12.1 3-5.3 2.3-2.8 1.8" fill="none" stroke="#1a3a2a" stroke-width="0.45" opacity="0.75"/>
<path d="M881.5 711.6l15.7 1.6 15.6-.3 9-1 6.7-1.3 5.1-1.4 5.2-2.3 2.9-2.3 1.1-2.3-.6-2.3-2.4-2.3-6.9-3.2-11.1-2.7-13.5-1.4-15.6 .2-13.4 1.9-9.7 2.9-4.1 2.3-2.2 2.3-.6 2.3 1.1 2.3 2.9 2.3 5.2 2.3 9.1 2.3z" fill="none" stroke="#1a3a2a" stroke-width="0.45" opacity="0.75"/>
<path d="M881.5 709.2l13.4 1.9 13.4 .1 13.5-1.5 8.9-2.6 4.1-2.5 1.2-2.3-.7-2.3-2.9-2.3-1.7-.7-4-1.6-4.9-1.2-11.2-1.5-11.2-.3-11.2 .9-9.9 2.1-5.7 2.6-2.4 2-.7 2.3 1.3 2.3 3.6 2.3 7 2.3z" fill="none" stroke="#1a3a2a" stroke-width="0.45" opacity="0.75"/>
<path d="M899.4 709.2l11.2-.3 8.9-1.4 2.4-.6 5-2.3 1.7-2.3-.9-2.3-3.9-2.3-8.8-2.2-8.9-.8-8.9 0-6.8 .7-8.9 2.3-3.7 2.3-.9 2.3 1.7 2.3 2.9 1.4 6.7 1.9 10.5 1.3z" fill="none" stroke="#1a3a2a" stroke-width="0.45" opacity="0.75"/>
<path d="M899.4 707l7.8-.1 5.6-.8 5.4-1.5 2.5-2.3-1.4-2.3-2-.8-4.6-1.5-6.6-.7-6.7 0-6.7 .7-6.6 2.3-1.3 2.3 2.6 2.3 5.3 1.5 5.6 .8z" fill="none" stroke="#1a3a2a" stroke-width="0.45" opacity="0.75"/>
</g>
<path d="M861.3 585.4 V725.2 H1002.5" fill="none" stroke="#000" stroke-width="1"/>
<line x1="861.3" y1="725.2" x2="861.3" y2="727.8" stroke="#000" stroke-width="0.8"/>
<text x="861.3" y="739.6" font-family="'Liberation Serif', serif" font-size="12" font-weight="bold" text-anchor="middle" fill="#000" >0</text>
<line x1="872.1" y1="725.2" x2="872.1" y2="726.6" stroke="#000" stroke-width="0.8"/>
<line x1="883" y1="725.2" x2="883" y2="727.8" stroke="#000" stroke-width="0.8"/>
<text x="883" y="739.6" font-family="'Liberation Serif', serif" font-size="12" font-weight="bold" text-anchor="middle" fill="#000" >2</text>
<line x1="893.8" y1="725.2" x2="893.8" y2="726.6" stroke="#000" stroke-width="0.8"/>
<line x1="904.7" y1="725.2" x2="904.7" y2="727.8" stroke="#000" stroke-width="0.8"/>
<text x="904.7" y="739.6" font-family="'Liberation Serif', serif" font-size="12" font-weight="bold" text-anchor="middle" fill="#000" >4</text>
<line x1="915.5" y1="725.2" x2="915.5" y2="726.6" stroke="#000" stroke-width="0.8"/>
<line x1="926.4" y1="725.2" x2="926.4" y2="727.8" stroke="#000" stroke-width="0.8"/>
<text x="926.4" y="739.6" font-family="'Liberation Serif', serif" font-size="12" font-weight="bold" text-anchor="middle" fill="#000" >6</text>
<line x1="937.2" y1="725.2" x2="937.2" y2="726.6" stroke="#000" stroke-width="0.8"/>
<line x1="948.1" y1="725.2" x2="948.1" y2="727.8" stroke="#000" stroke-width="0.8"/>
<text x="948.1" y="739.6" font-family="'Liberation Serif', serif" font-size="12" font-weight="bold" text-anchor="middle" fill="#000" >8</text>
<line x1="958.9" y1="725.2" x2="958.9" y2="726.6" stroke="#000" stroke-width="0.8"/>
<line x1="969.8" y1="725.2" x2="969.8" y2="727.8" stroke="#000" stroke-width="0.8"/>
<text x="969.8" y="739.6" font-family="'Liberation Serif', serif" font-size="12" font-weight="bold" text-anchor="middle" fill="#000" >10</text>
<line x1="980.6" y1="725.2" x2="980.6" y2="726.6" stroke="#000" stroke-width="0.8"/>
<line x1="991.5" y1="725.2" x2="991.5" y2="727.8" stroke="#000" stroke-width="0.8"/>
<text x="991.5" y="739.6" font-family="'Liberation Serif', serif" font-size="12" font-weight="bold" text-anchor="middle" fill="#000" >12</text>
<line x1="1002.3" y1="725.2" x2="1002.3" y2="726.6" stroke="#000" stroke-width="0.8"/>
<line x1="858.7" y1="725.2" x2="861.3" y2="725.2" stroke="#000" stroke-width="0.8"/>
<text x="857.7" y="729.2" font-family="'Liberation Serif', serif" font-size="12" font-weight="bold" text-anchor="end" fill="#000" >1.0</text>
<line x1="859.9" y1="713.6" x2="861.3" y2="713.6" stroke="#000" stroke-width="0.8"/>
<line x1="858.7" y1="701.9" x2="861.3" y2="701.9" stroke="#000" stroke-width="0.8"/>
<text x="857.7" y="705.9" font-family="'Liberation Serif', serif" font-size="12" font-weight="bold" text-anchor="end" fill="#000" >1.5</text>
<line x1="859.9" y1="690.2" x2="861.3" y2="690.2" stroke="#000" stroke-width="0.8"/>
<line x1="858.7" y1="678.6" x2="861.3" y2="678.6" stroke="#000" stroke-width="0.8"/>
<text x="857.7" y="682.6" font-family="'Liberation Serif', serif" font-size="12" font-weight="bold" text-anchor="end" fill="#000" >2.0</text>
<line x1="859.9" y1="667" x2="861.3" y2="667" stroke="#000" stroke-width="0.8"/>
<line x1="858.7" y1="655.3" x2="861.3" y2="655.3" stroke="#000" stroke-width="0.8"/>
<text x="857.7" y="659.3" font-family="'Liberation Serif', serif" font-size="12" font-weight="bold" text-anchor="end" fill="#000" >2.5</text>
<line x1="859.9" y1="643.6" x2="861.3" y2="643.6" stroke="#000" stroke-width="0.8"/>
<line x1="858.7" y1="632" x2="861.3" y2="632" stroke="#000" stroke-width="0.8"/>
<text x="857.7" y="636" font-family="'Liberation Serif', serif" font-size="12" font-weight="bold" text-anchor="end" fill="#000" >3.0</text>
<line x1="859.9" y1="620.4" x2="861.3" y2="620.4" stroke="#000" stroke-width="0.8"/>
<line x1="858.7" y1="608.7" x2="861.3" y2="608.7" stroke="#000" stroke-width="0.8"/>
<text x="857.7" y="612.7" font-family="'Liberation Serif', serif" font-size="12" font-weight="bold" text-anchor="end" fill="#000" >3.5</text>
<line x1="859.9" y1="597" x2="861.3" y2="597" stroke="#000" stroke-width="0.8"/>
<line x1="858.7" y1="585.4" x2="861.3" y2="585.4" stroke="#000" stroke-width="0.8"/>
<text x="857.7" y="589.4" font-family="'Liberation Serif', serif" font-size="12" font-weight="bold" text-anchor="end" fill="#000" >4.0</text>
<text transform="translate(836.8 656.3) rotate(-90)" font-family="'Liberation Serif', serif" font-size="12" font-weight="bold" text-anchor="middle" fill="#000">R+a (Å)</text>
<text x="931.4" y="756" font-family="'Liberation Serif', serif" font-size="12" font-weight="bold" text-anchor="middle" fill="#000">k (Å<tspan dy="-4" font-size="8">-1</tspan><tspan dy="4">)</tspan></text>
<text x="864.9" y="603" font-family="'Liberation Serif', serif" font-size="14.6" fill="#fff">CuC<tspan dy="3.5" font-size="10">4</tspan><tspan dy="-3.5">/CoN</tspan><tspan dy="3.5" font-size="10">4</tspan><tspan dy="-3.5">@HC</tspan></text>
<text x="903.5" y="711" font-family="'Liberation Serif', serif" font-size="12.5" text-anchor="middle" fill="#2a0a0a" >Co-N</text>
<text x="424.5" y="430.8" font-family="'Liberation Serif', serif" font-size="33" font-weight="bold" fill="#000" >E</text>
</g>
<g id="panelF">
<defs>
<radialGradient id="fC" cx="45%" cy="42%" r="58%"><stop offset="0" stop-color="#f2f2f2"/><stop offset="0.35" stop-color="#b4b4b4"/><stop offset="0.72" stop-color="#727272"/><stop offset="1" stop-color="#5c5c5c"/></radialGradient>
<radialGradient id="fN" cx="45%" cy="42%" r="58%"><stop offset="0" stop-color="#dfe2ff"/><stop offset="0.4" stop-color="#6a72ff"/><stop offset="0.8" stop-color="#1c22dc"/><stop offset="1" stop-color="#1418b0"/></radialGradient>
<radialGradient id="fCu" cx="45%" cy="42%" r="60%"><stop offset="0" stop-color="#ffe9a0"/><stop offset="0.35" stop-color="#ffb030"/><stop offset="0.8" stop-color="#e8820e"/><stop offset="1" stop-color="#b86408"/></radialGradient>
<radialGradient id="fCo" cx="45%" cy="42%" r="60%"><stop offset="0" stop-color="#fff"/><stop offset="0.3" stop-color="#ff7ab0"/><stop offset="0.8" stop-color="#e4186c"/><stop offset="1" stop-color="#b01050"/></radialGradient>
</defs>
<g fill="none" stroke="#c79ae6" stroke-width="0.55">
<circle cx="1096.9" cy="533.9" r="1.5"/>
<circle cx="1098.9" cy="532.6" r="1.5"/>
<circle cx="1100.9" cy="531.6" r="1.5"/>
<circle cx="1102.9" cy="531" r="1.5"/>
<circle cx="1104.9" cy="530.6" r="1.5"/>
<circle cx="1106.9" cy="530.5" r="1.5"/>
<circle cx="1108.9" cy="530.8" r="1.5"/>
<circle cx="1110.8" cy="531.6" r="1.5"/>
<circle cx="1112.8" cy="532.4" r="1.5"/>
<circle cx="1114.8" cy="533.4" r="1.5"/>
<circle cx="1116.8" cy="533.7" r="1.5"/>
<circle cx="1118.8" cy="530.2" r="1.5"/>
<circle cx="1120.8" cy="525.7" r="1.5"/>
<circle cx="1122.8" cy="521.8" r="1.5"/>
<circle cx="1124.8" cy="517.5" r="1.5"/>
<circle cx="1126.8" cy="512.1" r="1.5"/>
<circle cx="1128.8" cy="506.1" r="1.5"/>
<circle cx="1130.8" cy="500.7" r="1.5"/>
<circle cx="1132.8" cy="493.2" r="1.5"/>
<circle cx="1134.7" cy="483.1" r="1.5"/>
<circle cx="1136.7" cy="474.3" r="1.5"/>
<circle cx="1138.7" cy="466.1" r="1.5"/>
<circle cx="1140.7" cy="458.5" r="1.5"/>
<circle cx="1142.7" cy="452.7" r="1.5"/>
<circle cx="1144.7" cy="450.1" r="1.5"/>
<circle cx="1146.7" cy="450.9" r="1.5"/>
<circle cx="1148.7" cy="454.3" r="1.5"/>
<circle cx="1150.7" cy="459.9" r="1.5"/>
<circle cx="1152.7" cy="469.9" r="1.5"/>
<circle cx="1154.7" cy="484.9" r="1.5"/>
<circle cx="1156.7" cy="501.5" r="1.5"/>
<circle cx="1158.6" cy="517.5" r="1.5"/>
<circle cx="1160.6" cy="528.8" r="1.5"/>
<circle cx="1162.6" cy="531.4" r="1.5"/>
<circle cx="1164.6" cy="528" r="1.5"/>
<circle cx="1166.6" cy="526.3" r="1.5"/>
<circle cx="1168.6" cy="527" r="1.5"/>
<circle cx="1170.6" cy="529.5" r="1.5"/>
<circle cx="1172.6" cy="532.2" r="1.5"/>
<circle cx="1174.6" cy="530.4" r="1.5"/>
<circle cx="1176.6" cy="527.2" r="1.5"/>
<circle cx="1178.6" cy="524.6" r="1.5"/>
<circle cx="1180.6" cy="522.4" r="1.5"/>
<circle cx="1182.5" cy="522" r="1.5"/>
<circle cx="1184.5" cy="523.6" r="1.5"/>
<circle cx="1186.5" cy="525.7" r="1.5"/>
<circle cx="1188.5" cy="528.3" r="1.5"/>
<circle cx="1190.5" cy="530.5" r="1.5"/>
<circle cx="1192.5" cy="532.5" r="1.5"/>
<circle cx="1194.5" cy="533.9" r="1.5"/>
<circle cx="1196.5" cy="534.7" r="1.5"/>
<circle cx="1198.5" cy="535.1" r="1.5"/>
<circle cx="1200.5" cy="534.6" r="1.5"/>
<circle cx="1202.5" cy="533.7" r="1.5"/>
<circle cx="1204.5" cy="532.9" r="1.5"/>
<circle cx="1206.4" cy="532.1" r="1.5"/>
<circle cx="1208.4" cy="531.3" r="1.5"/>
<circle cx="1210.4" cy="530.7" r="1.5"/>
<circle cx="1212.4" cy="530.5" r="1.5"/>
<circle cx="1214.4" cy="530.7" r="1.5"/>
<circle cx="1216.4" cy="531.2" r="1.5"/>
<circle cx="1218.4" cy="531.7" r="1.5"/>
<circle cx="1220.4" cy="532.2" r="1.5"/>
<circle cx="1222.4" cy="532.5" r="1.5"/>
<circle cx="1224.4" cy="532.7" r="1.5"/>
<circle cx="1226.4" cy="532.9" r="1.5"/>
<circle cx="1228.4" cy="533.1" r="1.5"/>
<circle cx="1230.4" cy="533.2" r="1.5"/>
<circle cx="1232.3" cy="533.3" r="1.5"/>
<circle cx="1234.3" cy="533.4" r="1.5"/>
<circle cx="1236.3" cy="533.5" r="1.5"/>
<circle cx="1238.3" cy="533.6" r="1.5"/>
<circle cx="1240.3" cy="533.6" r="1.5"/>
<circle cx="1242.3" cy="533.5" r="1.5"/>
<circle cx="1244.3" cy="533.3" r="1.5"/>
<circle cx="1246.3" cy="533.1" r="1.5"/>
<circle cx="1248.3" cy="533.1" r="1.5"/>
<circle cx="1250.3" cy="533.1" r="1.5"/>
<circle cx="1252.3" cy="533.3" r="1.5"/>
<circle cx="1254.3" cy="533.5" r="1.5"/>
<circle cx="1256.2" cy="533.8" r="1.5"/>
<circle cx="1258.2" cy="534.2" r="1.5"/>
</g>
<path d="M1096.9 531.4 L1097.5 530.8 L1098.2 530.3 L1098.8 529.7 L1099.5 529.2 L1100.1 528.7 L1100.8 528.2 L1101.4 527.7 L1102.1 527.2 L1102.7 526.6 L1103.4 526 L1104 525.6 L1104.7 525.3 L1105.3 525.2 L1106 525.4 L1106.6 525.6 L1107.3 526 L1107.9 526.4 L1108.6 526.8 L1109.2 527.1 L1109.9 527.4 L1110.5 527.8 L1111.2 528.2 L1111.8 528.5 L1112.5 528.7 L1113.1 528.7 L1113.8 528.2 L1114.4 527.5 L1115.1 526.7 L1115.7 525.8 L1116.4 524.7 L1117 523.5 L1117.7 522.1 L1118.3 520.7 L1119 519.3 L1119.6 518 L1120.3 516.6 L1120.9 515.2 L1121.6 513.8 L1122.2 512.4 L1122.9 511.1 L1123.5 510 L1124.1 508.9 L1124.8 508 L1125.4 507.3 L1126.1 506.6 L1126.7 505.9 L1127.4 505.3 L1128 504.6 L1128.7 503.8 L1129.3 502.8 L1130 501.6 L1130.6 500.2 L1131.3 498.6 L1131.9 496.9 L1132.6 495 L1133.2 492.9 L1133.9 490.7 L1134.5 488.2 L1135.2 485.3 L1135.8 482 L1136.5 478.4 L1137.1 474.6 L1137.8 470.8 L1138.4 467.1 L1139.1 463.7 L1139.7 460.6 L1140.4 457.8 L1141 455.1 L1141.7 452.8 L1142.3 450.9 L1143 449.5 L1143.6 448.2 L1144.3 447.5 L1144.9 447.5 L1145.6 448 L1146.2 448.8 L1146.9 449.8 L1147.5 450.9 L1148.2 452.5 L1148.8 454.4 L1149.5 456.5 L1150.1 459.1 L1150.8 462 L1151.4 465.4 L1152 469 L1152.7 472.8 L1153.3 476.8 L1154 481.1 L1154.6 485.9 L1155.3 491.3 L1155.9 496.8 L1156.6 502.3 L1157.2 507.6 L1157.9 512.3 L1158.5 516.8 L1159.2 521.3 L1159.8 525.2 L1160.5 528.3 L1161.1 530.9 L1161.8 532.8 L1162.4 532.8 L1163.1 531.5 L1163.7 529.8 L1164.4 528.7 L1165 527.7 L1165.7 527 L1166.3 527 L1167 527 L1167.6 527.2 L1168.3 527.5 L1168.9 527.8 L1169.6 528.5 L1170.2 529.7 L1170.9 531.1 L1171.5 532.3 L1172.2 533.7 L1172.8 534.4 L1173.5 533.8 L1174.1 532.6 L1174.8 531.4 L1175.4 530.4 L1176.1 529.5 L1176.7 528.7 L1177.4 528 L1178 527.6 L1178.6 527.1 L1179.3 526.7 L1179.9 526.4 L1180.6 526.2 L1181.2 526.1 L1181.9 526.3 L1182.5 526.7 L1183.2 527.3 L1183.8 528 L1184.5 528.8 L1185.1 529.8 L1185.8 530.8 L1186.4 531.5 L1187.1 532.1 L1187.7 532.6 L1188.4 533 L1189 533.4 L1189.7 533.7 L1190.3 533.9 L1191 533.9 L1191.6 533.7 L1192.3 533.3 L1192.9 532.9 L1193.6 532.4 L1194.2 532 L1194.9 531.6 L1195.5 531.4 L1196.2 531.4 L1196.8 531.6 L1197.5 531.9 L1198.1 532.4 L1198.8 532.9 L1199.4 533.4 L1200.1 533.8 L1200.7 534.2 L1201.4 534.4 L1202 534.4 L1202.7 534.3 L1203.3 534.2 L1204 534.1 L1204.6 533.8 L1205.2 533.6 L1205.9 533.4 L1206.5 533.1 L1207.2 532.9 L1207.8 532.7 L1208.5 532.5 L1209.1 532.3 L1209.8 532.2 L1210.4 532.2 L1211.1 532.3 L1211.7 532.5 L1212.4 532.7 L1213 533 L1213.7 533.4 L1214.3 533.8 L1215 534.1 L1215.6 534.4 L1216.3 534.6 L1216.9 534.7 L1217.6 534.8 L1218.2 534.7 L1218.9 534.7 L1219.5 534.6 L1220.2 534.5 L1220.8 534.3 L1221.5 534.2 L1222.1 534.1 L1222.8 533.9 L1223.4 533.8 L1224.1 533.7 L1224.7 533.6 L1225.4 533.6 L1226 533.6 L1226.7 533.6 L1227.3 533.6 L1228 533.6 L1228.6 533.6 L1229.3 533.7 L1229.9 533.7 L1230.6 533.7 L1231.2 533.8 L1231.9 533.8 L1232.5 533.9 L1233.1 533.9 L1233.8 534 L1234.4 534.1 L1235.1 534.1 L1235.7 534.2 L1236.4 534.2 L1237 534.3 L1237.7 534.3 L1238.3 534.3 L1239 534.4 L1239.6 534.4 L1240.3 534.4 L1240.9 534.5 L1241.6 534.5 L1242.2 534.5 L1242.9 534.6 L1243.5 534.6 L1244.2 534.6 L1244.8 534.6 L1245.5 534.7 L1246.1 534.7 L1246.8 534.7 L1247.4 534.8 L1248.1 534.8 L1248.7 534.8 L1249.4 534.8 L1250 534.8 L1250.7 534.9 L1251.3 534.9 L1252 534.9 L1252.6 534.9 L1253.3 535 L1253.9 535 L1254.6 535 L1255.2 535 L1255.9 535 L1256.5 535 L1257.2 535.1 L1257.8 535.1 L1258.5 535.1 L1259.1 535.1" fill="none" stroke="#3fc8c4" stroke-width="1.05"/>
<rect x="1096.9" y="407.4" width="162.2" height="136.3" fill="none" stroke="#000" stroke-width="1.1"/>
<path d="M1096.9 407.4 V543.7 H1259.1" fill="none" stroke="#000" stroke-width="1.6"/>
<line x1="1096.9" y1="543.7" x2="1096.9" y2="546.7" stroke="#000" stroke-width="1"/>
<text x="1096.9" y="559.1" font-family="'Liberation Serif', serif" font-size="12.8" font-weight="bold" text-anchor="middle" fill="#000" >0</text>
<line x1="1113.1" y1="543.7" x2="1113.1" y2="545.5" stroke="#000" stroke-width="1"/>
<line x1="1129.3" y1="543.7" x2="1129.3" y2="546.7" stroke="#000" stroke-width="1"/>
<text x="1129.3" y="559.1" font-family="'Liberation Serif', serif" font-size="12.8" font-weight="bold" text-anchor="middle" fill="#000" >1</text>
<line x1="1145.6" y1="543.7" x2="1145.6" y2="545.5" stroke="#000" stroke-width="1"/>
<line x1="1161.8" y1="543.7" x2="1161.8" y2="546.7" stroke="#000" stroke-width="1"/>
<text x="1161.8" y="559.1" font-family="'Liberation Serif', serif" font-size="12.8" font-weight="bold" text-anchor="middle" fill="#000" >2</text>
<line x1="1178" y1="543.7" x2="1178" y2="545.5" stroke="#000" stroke-width="1"/>
<line x1="1194.2" y1="543.7" x2="1194.2" y2="546.7" stroke="#000" stroke-width="1"/>
<text x="1194.2" y="559.1" font-family="'Liberation Serif', serif" font-size="12.8" font-weight="bold" text-anchor="middle" fill="#000" >3</text>
<line x1="1210.4" y1="543.7" x2="1210.4" y2="545.5" stroke="#000" stroke-width="1"/>
<line x1="1226.7" y1="543.7" x2="1226.7" y2="546.7" stroke="#000" stroke-width="1"/>
<text x="1226.7" y="559.1" font-family="'Liberation Serif', serif" font-size="12.8" font-weight="bold" text-anchor="middle" fill="#000" >4</text>
<line x1="1242.9" y1="543.7" x2="1242.9" y2="545.5" stroke="#000" stroke-width="1"/>
<line x1="1259.1" y1="543.7" x2="1259.1" y2="546.7" stroke="#000" stroke-width="1"/>
<text x="1257.6" y="559.1" font-family="'Liberation Serif', serif" font-size="12.8" font-weight="bold" text-anchor="middle" fill="#000" >5</text>
<line x1="1093.9" y1="535.1" x2="1096.9" y2="535.1" stroke="#000" stroke-width="1"/>
<text x="1092.7" y="539.4" font-family="'Liberation Serif', serif" font-size="12.8" font-weight="bold" text-anchor="end" fill="#000" >0</text>
<line x1="1095.1" y1="526.6" x2="1096.9" y2="526.6" stroke="#000" stroke-width="1"/>
<line x1="1093.9" y1="518.1" x2="1096.9" y2="518.1" stroke="#000" stroke-width="1"/>
<text x="1092.7" y="522.4" font-family="'Liberation Serif', serif" font-size="12.8" font-weight="bold" text-anchor="end" fill="#000" >1</text>
<line x1="1095.1" y1="509.6" x2="1096.9" y2="509.6" stroke="#000" stroke-width="1"/>
<line x1="1093.9" y1="501.1" x2="1096.9" y2="501.1" stroke="#000" stroke-width="1"/>
<text x="1092.7" y="505.4" font-family="'Liberation Serif', serif" font-size="12.8" font-weight="bold" text-anchor="end" fill="#000" >2</text>
<line x1="1095.1" y1="492.6" x2="1096.9" y2="492.6" stroke="#000" stroke-width="1"/>
<line x1="1093.9" y1="484.1" x2="1096.9" y2="484.1" stroke="#000" stroke-width="1"/>
<text x="1092.7" y="488.4" font-family="'Liberation Serif', serif" font-size="12.8" font-weight="bold" text-anchor="end" fill="#000" >3</text>
<line x1="1095.1" y1="475.6" x2="1096.9" y2="475.6" stroke="#000" stroke-width="1"/>
<line x1="1093.9" y1="467.1" x2="1096.9" y2="467.1" stroke="#000" stroke-width="1"/>
<text x="1092.7" y="471.4" font-family="'Liberation Serif', serif" font-size="12.8" font-weight="bold" text-anchor="end" fill="#000" >4</text>
<line x1="1095.1" y1="458.6" x2="1096.9" y2="458.6" stroke="#000" stroke-width="1"/>
<line x1="1093.9" y1="450.1" x2="1096.9" y2="450.1" stroke="#000" stroke-width="1"/>
<text x="1092.7" y="454.4" font-family="'Liberation Serif', serif" font-size="12.8" font-weight="bold" text-anchor="end" fill="#000" >5</text>
<line x1="1095.1" y1="441.6" x2="1096.9" y2="441.6" stroke="#000" stroke-width="1"/>
<line x1="1093.9" y1="433.1" x2="1096.9" y2="433.1" stroke="#000" stroke-width="1"/>
<text x="1092.7" y="437.4" font-family="'Liberation Serif', serif" font-size="12.8" font-weight="bold" text-anchor="end" fill="#000" >6</text>
<line x1="1095.1" y1="424.6" x2="1096.9" y2="424.6" stroke="#000" stroke-width="1"/>
<line x1="1093.9" y1="416.1" x2="1096.9" y2="416.1" stroke="#000" stroke-width="1"/>
<text x="1092.7" y="420.4" font-family="'Liberation Serif', serif" font-size="12.8" font-weight="bold" text-anchor="end" fill="#000" >7</text>
<text x="1177.5" y="572.9" font-family="'Liberation Serif', serif" font-size="12.8" font-weight="bold" text-anchor="middle" fill="#000" >R (Å)</text>
<text transform="translate(1078.3 472.1) rotate(-90)" font-family="'Liberation Serif', serif" font-size="12.6" font-weight="bold" text-anchor="middle" fill="#000">|FT k<tspan dy="-4" font-size="8.5">3</tspan><tspan dy="4">χ(k)|(Å</tspan><tspan dy="-4" font-size="8.5">-3</tspan><tspan dy="4">)</tspan></text>
<circle cx="1168.7" cy="419.7" r="1.6" fill="none" stroke="#c79ae6" stroke-width="0.6"/>
<text x="1179.4" y="422.3" font-family="'Liberation Serif', serif" font-size="11.6" fill="#111" textLength="74" lengthAdjust="spacingAndGlyphs">CuC<tspan dy="2.2" font-size="7.5">4</tspan><tspan dy="-2.2">/CoN</tspan><tspan dy="2.2" font-size="7.5">4</tspan><tspan dy="-2.2">@HC</tspan></text>
<line x1="1160.4" y1="436.9" x2="1176" y2="436.9" stroke="#3fc8c4" stroke-width="1.05"/>
<text x="1179.4" y="439.5" font-family="'Liberation Serif', serif" font-size="12" fill="#111" >Fit</text>
<g fill="none" stroke="#a6e2f2" stroke-width="0.55">
<circle cx="1097.8" cy="714.9" r="1.5"/>
<circle cx="1099.8" cy="713.4" r="1.5"/>
<circle cx="1101.8" cy="712.5" r="1.5"/>
<circle cx="1103.7" cy="712.3" r="1.5"/>
<circle cx="1105.7" cy="713.2" r="1.5"/>
<circle cx="1107.7" cy="714.6" r="1.5"/>
<circle cx="1109.7" cy="714.6" r="1.5"/>
<circle cx="1111.6" cy="712.8" r="1.5"/>
<circle cx="1113.6" cy="711" r="1.5"/>
<circle cx="1115.6" cy="711.2" r="1.5"/>
<circle cx="1117.6" cy="714.9" r="1.5"/>
<circle cx="1119.5" cy="716.3" r="1.5"/>
<circle cx="1121.5" cy="712.5" r="1.5"/>
<circle cx="1123.5" cy="707.9" r="1.5"/>
<circle cx="1125.5" cy="703.3" r="1.5"/>
<circle cx="1127.5" cy="698.9" r="1.5"/>
<circle cx="1129.4" cy="693.9" r="1.5"/>
<circle cx="1131.4" cy="687.3" r="1.5"/>
<circle cx="1133.4" cy="679.7" r="1.5"/>
<circle cx="1135.4" cy="671.7" r="1.5"/>
<circle cx="1137.3" cy="662.7" r="1.5"/>
<circle cx="1139.3" cy="654.1" r="1.5"/>
<circle cx="1141.3" cy="646.9" r="1.5"/>
<circle cx="1143.3" cy="640.3" r="1.5"/>
<circle cx="1145.2" cy="633.6" r="1.5"/>
<circle cx="1147.2" cy="627" r="1.5"/>
<circle cx="1149.2" cy="626.6" r="1.5"/>
<circle cx="1151.2" cy="630" r="1.5"/>
<circle cx="1153.2" cy="638.5" r="1.5"/>
<circle cx="1155.1" cy="652.5" r="1.5"/>
<circle cx="1157.1" cy="672.4" r="1.5"/>
<circle cx="1159.1" cy="693.2" r="1.5"/>
<circle cx="1161.1" cy="703.8" r="1.5"/>
<circle cx="1163" cy="705.7" r="1.5"/>
<circle cx="1165" cy="703.7" r="1.5"/>
<circle cx="1167" cy="702.9" r="1.5"/>
<circle cx="1169" cy="702.3" r="1.5"/>
<circle cx="1171" cy="701.6" r="1.5"/>
<circle cx="1172.9" cy="700.5" r="1.5"/>
<circle cx="1174.9" cy="698.1" r="1.5"/>
<circle cx="1176.9" cy="695.6" r="1.5"/>
<circle cx="1178.9" cy="694.2" r="1.5"/>
<circle cx="1180.8" cy="694.1" r="1.5"/>
<circle cx="1182.8" cy="694.3" r="1.5"/>
<circle cx="1184.8" cy="694.8" r="1.5"/>
<circle cx="1186.8" cy="696.2" r="1.5"/>
<circle cx="1188.7" cy="700.5" r="1.5"/>
<circle cx="1190.7" cy="706" r="1.5"/>
<circle cx="1192.7" cy="710.6" r="1.5"/>
<circle cx="1194.7" cy="714.5" r="1.5"/>
<circle cx="1196.7" cy="716" r="1.5"/>
<circle cx="1198.6" cy="716.5" r="1.5"/>
<circle cx="1200.6" cy="715" r="1.5"/>
<circle cx="1202.6" cy="713" r="1.5"/>
<circle cx="1204.6" cy="711.4" r="1.5"/>
<circle cx="1206.5" cy="709.8" r="1.5"/>
<circle cx="1208.5" cy="708.9" r="1.5"/>
<circle cx="1210.5" cy="709.5" r="1.5"/>
<circle cx="1212.5" cy="711.2" r="1.5"/>
<circle cx="1214.4" cy="712.8" r="1.5"/>
<circle cx="1216.4" cy="713.1" r="1.5"/>
<circle cx="1218.4" cy="712.7" r="1.5"/>
<circle cx="1220.4" cy="712.2" r="1.5"/>
<circle cx="1222.4" cy="711.7" r="1.5"/>
<circle cx="1224.3" cy="711.5" r="1.5"/>
<circle cx="1226.3" cy="711.6" r="1.5"/>
<circle cx="1228.3" cy="712" r="1.5"/>
<circle cx="1230.3" cy="712.5" r="1.5"/>
<circle cx="1232.2" cy="713" r="1.5"/>
<circle cx="1234.2" cy="713.4" r="1.5"/>
<circle cx="1236.2" cy="713.8" r="1.5"/>
<circle cx="1238.2" cy="714.2" r="1.5"/>
<circle cx="1240.1" cy="714.5" r="1.5"/>
<circle cx="1242.1" cy="714.5" r="1.5"/>
<circle cx="1244.1" cy="714.1" r="1.5"/>
<circle cx="1246.1" cy="713.4" r="1.5"/>
<circle cx="1248.1" cy="712.7" r="1.5"/>
<circle cx="1250" cy="712.1" r="1.5"/>
<circle cx="1252" cy="712" r="1.5"/>
<circle cx="1254" cy="712.1" r="1.5"/>
<circle cx="1256" cy="712.4" r="1.5"/>
<circle cx="1257.9" cy="712.9" r="1.5"/>
</g>
<path d="M1097.8 710.6 L1098.4 710.3 L1099.1 710 L1099.7 709.8 L1100.4 709.6 L1101 709.5 L1101.7 709.4 L1102.3 709.3 L1103 709.3 L1103.6 709.2 L1104.2 709.3 L1104.9 709.5 L1105.5 709.8 L1106.2 710.2 L1106.8 710.4 L1107.5 710.6 L1108.1 710.6 L1108.7 710.4 L1109.4 710.2 L1110 709.8 L1110.7 709.4 L1111.3 709 L1112 708.6 L1112.6 708.2 L1113.3 707.9 L1113.9 707.7 L1114.5 707.5 L1115.2 707.5 L1115.8 707.5 L1116.5 707.5 L1117.1 707.5 L1117.8 707.5 L1118.4 707.5 L1119.1 707.5 L1119.7 707.5 L1120.3 707.2 L1121 706.9 L1121.6 706.4 L1122.3 705.8 L1122.9 705.2 L1123.6 704.5 L1124.2 703.7 L1124.8 703 L1125.5 702.3 L1126.1 701.6 L1126.8 700.8 L1127.4 700 L1128.1 699.1 L1128.7 698.1 L1129.4 697 L1130 695.8 L1130.6 694.4 L1131.3 692.7 L1131.9 690.9 L1132.6 688.8 L1133.2 686.6 L1133.9 684.4 L1134.5 682 L1135.2 679.6 L1135.8 677 L1136.4 674.2 L1137.1 671.3 L1137.7 668.3 L1138.4 665.3 L1139 662.2 L1139.7 659.1 L1140.3 655.8 L1140.9 652.5 L1141.6 649.1 L1142.2 645.7 L1142.9 642.5 L1143.5 639.3 L1144.2 636 L1144.8 632.7 L1145.5 629.8 L1146.1 627.3 L1146.7 625 L1147.4 623 L1148 622.2 L1148.7 622.4 L1149.3 623.1 L1150 623.9 L1150.6 625.3 L1151.3 627.6 L1151.9 630.4 L1152.5 634 L1153.2 638.8 L1153.8 644.4 L1154.5 650.4 L1155.1 656.4 L1155.8 662.5 L1156.4 669.3 L1157 676.4 L1157.7 683.3 L1158.3 689.6 L1159 695.1 L1159.6 700 L1160.3 703.8 L1160.9 706.5 L1161.6 706.8 L1162.2 705.2 L1162.8 703 L1163.5 701.2 L1164.1 699.2 L1164.8 697.4 L1165.4 696.7 L1166.1 696.8 L1166.7 697.2 L1167.4 697.8 L1168 698.3 L1168.6 698.7 L1169.3 699 L1169.9 699.4 L1170.6 699.7 L1171.2 700 L1171.9 700.2 L1172.5 700.2 L1173.1 700.2 L1173.8 700.1 L1174.4 699.9 L1175.1 699.7 L1175.7 699.5 L1176.4 699.2 L1177 698.9 L1177.7 698.7 L1178.3 698.4 L1178.9 698.1 L1179.6 697.7 L1180.2 697.3 L1180.9 696.9 L1181.5 696.5 L1182.2 696.2 L1182.8 696 L1183.5 695.8 L1184.1 695.8 L1184.7 696.1 L1185.4 696.5 L1186 697.1 L1186.7 697.8 L1187.3 698.6 L1188 699.4 L1188.6 700.5 L1189.2 702.1 L1189.9 704 L1190.5 706 L1191.2 708.1 L1191.8 709.9 L1192.5 711.4 L1193.1 712.9 L1193.8 714.3 L1194.4 715.6 L1195 716.5 L1195.7 716.9 L1196.3 716.5 L1197 715.6 L1197.6 714.5 L1198.3 713.7 L1198.9 712.9 L1199.6 712.2 L1200.2 711.7 L1200.8 711.4 L1201.5 711.5 L1202.1 711.6 L1202.8 711.7 L1203.4 711.8 L1204.1 712 L1204.7 712.1 L1205.3 712.3 L1206 712.5 L1206.6 712.7 L1207.3 712.9 L1207.9 713.1 L1208.6 713.4 L1209.2 713.6 L1209.9 713.9 L1210.5 714.1 L1211.1 714.3 L1211.8 714.5 L1212.4 714.7 L1213.1 714.8 L1213.7 714.9 L1214.4 714.9 L1215 714.9 L1215.7 715 L1216.3 715 L1216.9 715 L1217.6 715 L1218.2 715 L1218.9 715.1 L1219.5 715.1 L1220.2 715.1 L1220.8 715.1 L1221.4 715.1 L1222.1 715.2 L1222.7 715.2 L1223.4 715.2 L1224 715.3 L1224.7 715.3 L1225.3 715.4 L1226 715.5 L1226.6 715.5 L1227.2 715.6 L1227.9 715.6 L1228.5 715.7 L1229.2 715.8 L1229.8 715.9 L1230.5 715.9 L1231.1 716 L1231.8 716.1 L1232.4 716.1 L1233 716.2 L1233.7 716.3 L1234.3 716.4 L1235 716.4 L1235.6 716.5 L1236.3 716.6 L1236.9 716.6 L1237.5 716.7 L1238.2 716.8 L1238.8 716.8 L1239.5 716.9 L1240.1 716.9 L1240.8 717 L1241.4 717 L1242.1 717.1 L1242.7 717.1 L1243.3 717.2 L1244 717.2 L1244.6 717.3 L1245.3 717.3 L1245.9 717.3 L1246.6 717.4 L1247.2 717.4 L1247.9 717.4 L1248.5 717.4 L1249.1 717.4 L1249.8 717.3 L1250.4 717.2 L1251.1 717 L1251.7 716.9 L1252.4 716.7 L1253 716.6 L1253.6 716.4 L1254.3 716.3 L1254.9 716.2 L1255.6 716.2 L1256.2 716.2 L1256.9 716.3 L1257.5 716.3 L1258.2 716.4 L1258.8 716.5" fill="none" stroke="#a6c81e" stroke-width="1.05"/>
<rect x="1097.8" y="589.3" width="161" height="136.2" fill="none" stroke="#000" stroke-width="1.1"/>
<path d="M1097.8 589.3 V725.5 H1258.8" fill="none" stroke="#000" stroke-width="1.6"/>
<line x1="1097.8" y1="725.5" x2="1097.8" y2="728.5" stroke="#000" stroke-width="1"/>
<text x="1097.8" y="740.9" font-family="'Liberation Serif', serif" font-size="12.8" font-weight="bold" text-anchor="middle" fill="#000" >0</text>
<line x1="1113.9" y1="725.5" x2="1113.9" y2="727.3" stroke="#000" stroke-width="1"/>
<line x1="1130" y1="725.5" x2="1130" y2="728.5" stroke="#000" stroke-width="1"/>
<text x="1130" y="740.9" font-family="'Liberation Serif', serif" font-size="12.8" font-weight="bold" text-anchor="middle" fill="#000" >1</text>
<line x1="1146.1" y1="725.5" x2="1146.1" y2="727.3" stroke="#000" stroke-width="1"/>
<line x1="1162.2" y1="725.5" x2="1162.2" y2="728.5" stroke="#000" stroke-width="1"/>
<text x="1162.2" y="740.9" font-family="'Liberation Serif', serif" font-size="12.8" font-weight="bold" text-anchor="middle" fill="#000" >2</text>
<line x1="1178.3" y1="725.5" x2="1178.3" y2="727.3" stroke="#000" stroke-width="1"/>
<line x1="1194.4" y1="725.5" x2="1194.4" y2="728.5" stroke="#000" stroke-width="1"/>
<text x="1194.4" y="740.9" font-family="'Liberation Serif', serif" font-size="12.8" font-weight="bold" text-anchor="middle" fill="#000" >3</text>
<line x1="1210.5" y1="725.5" x2="1210.5" y2="727.3" stroke="#000" stroke-width="1"/>
<line x1="1226.6" y1="725.5" x2="1226.6" y2="728.5" stroke="#000" stroke-width="1"/>
<text x="1226.6" y="740.9" font-family="'Liberation Serif', serif" font-size="12.8" font-weight="bold" text-anchor="middle" fill="#000" >4</text>
<line x1="1242.7" y1="725.5" x2="1242.7" y2="727.3" stroke="#000" stroke-width="1"/>
<line x1="1258.8" y1="725.5" x2="1258.8" y2="728.5" stroke="#000" stroke-width="1"/>
<text x="1257.3" y="740.9" font-family="'Liberation Serif', serif" font-size="12.8" font-weight="bold" text-anchor="middle" fill="#000" >5</text>
<line x1="1094.8" y1="717.4" x2="1097.8" y2="717.4" stroke="#000" stroke-width="1"/>
<text x="1093.6" y="721.7" font-family="'Liberation Serif', serif" font-size="12.8" font-weight="bold" text-anchor="end" fill="#000" >0</text>
<line x1="1096" y1="708.9" x2="1097.8" y2="708.9" stroke="#000" stroke-width="1"/>
<line x1="1094.8" y1="700.4" x2="1097.8" y2="700.4" stroke="#000" stroke-width="1"/>
<text x="1093.6" y="704.7" font-family="'Liberation Serif', serif" font-size="12.8" font-weight="bold" text-anchor="end" fill="#000" >1</text>
<line x1="1096" y1="691.9" x2="1097.8" y2="691.9" stroke="#000" stroke-width="1"/>
<line x1="1094.8" y1="683.4" x2="1097.8" y2="683.4" stroke="#000" stroke-width="1"/>
<text x="1093.6" y="687.7" font-family="'Liberation Serif', serif" font-size="12.8" font-weight="bold" text-anchor="end" fill="#000" >2</text>
<line x1="1096" y1="674.9" x2="1097.8" y2="674.9" stroke="#000" stroke-width="1"/>
<line x1="1094.8" y1="666.4" x2="1097.8" y2="666.4" stroke="#000" stroke-width="1"/>
<text x="1093.6" y="670.7" font-family="'Liberation Serif', serif" font-size="12.8" font-weight="bold" text-anchor="end" fill="#000" >3</text>
<line x1="1096" y1="657.9" x2="1097.8" y2="657.9" stroke="#000" stroke-width="1"/>
<line x1="1094.8" y1="649.4" x2="1097.8" y2="649.4" stroke="#000" stroke-width="1"/>
<text x="1093.6" y="653.7" font-family="'Liberation Serif', serif" font-size="12.8" font-weight="bold" text-anchor="end" fill="#000" >4</text>
<line x1="1096" y1="640.9" x2="1097.8" y2="640.9" stroke="#000" stroke-width="1"/>
<line x1="1094.8" y1="632.4" x2="1097.8" y2="632.4" stroke="#000" stroke-width="1"/>
<text x="1093.6" y="636.7" font-family="'Liberation Serif', serif" font-size="12.8" font-weight="bold" text-anchor="end" fill="#000" >5</text>
<line x1="1096" y1="623.9" x2="1097.8" y2="623.9" stroke="#000" stroke-width="1"/>
<line x1="1094.8" y1="615.4" x2="1097.8" y2="615.4" stroke="#000" stroke-width="1"/>
<text x="1093.6" y="619.7" font-family="'Liberation Serif', serif" font-size="12.8" font-weight="bold" text-anchor="end" fill="#000" >6</text>
<line x1="1096" y1="606.9" x2="1097.8" y2="606.9" stroke="#000" stroke-width="1"/>
<line x1="1094.8" y1="598.4" x2="1097.8" y2="598.4" stroke="#000" stroke-width="1"/>
<text x="1093.6" y="602.7" font-family="'Liberation Serif', serif" font-size="12.8" font-weight="bold" text-anchor="end" fill="#000" >7</text>
<text x="1177.8" y="754.7" font-family="'Liberation Serif', serif" font-size="12.8" font-weight="bold" text-anchor="middle" fill="#000" >R (Å)</text>
<text transform="translate(1079.2 653.9) rotate(-90)" font-family="'Liberation Serif', serif" font-size="12.6" font-weight="bold" text-anchor="middle" fill="#000">|FT k<tspan dy="-4" font-size="8.5">3</tspan><tspan dy="4">χ(k)|(Å</tspan><tspan dy="-4" font-size="8.5">-3</tspan><tspan dy="4">)</tspan></text>
<circle cx="1170.8" cy="600.9" r="1.6" fill="none" stroke="#a6e2f2" stroke-width="0.6"/>
<text x="1182" y="603.5" font-family="'Liberation Serif', serif" font-size="11.6" fill="#111" textLength="74" lengthAdjust="spacingAndGlyphs">CuC<tspan dy="2.2" font-size="7.5">4</tspan><tspan dy="-2.2">/CoN</tspan><tspan dy="2.2" font-size="7.5">4</tspan><tspan dy="-2.2">@HC</tspan></text>
<line x1="1163" y1="616.4" x2="1178.6" y2="616.4" stroke="#a6c81e" stroke-width="1.05"/>
<text x="1182" y="619" font-family="'Liberation Serif', serif" font-size="12" fill="#111" >Fit</text>
<text x="1049.5" y="428.8" font-family="'Liberation Serif', serif" font-size="33" font-weight="bold" fill="#000" >F</text>
<clipPath id="fClip1"><rect x="1167.9" y="452.8" width="85.4" height="55.7"/></clipPath>
<g clip-path="url(#fClip1)">
<line x1="1224.2" y1="443.5" x2="1238.3" y2="435.4" stroke="#707070" stroke-width="2.4"/><line x1="1224.2" y1="443.5" x2="1238.3" y2="435.4" stroke="#c6c6c6" stroke-width="0.7"/>
<line x1="1153.7" y1="484.2" x2="1139.6" y2="492.4" stroke="#707070" stroke-width="2.4"/><line x1="1153.7" y1="484.2" x2="1139.6" y2="492.4" stroke="#c6c6c6" stroke-width="0.7"/>
<line x1="1181.9" y1="484.2" x2="1181.9" y2="468" stroke="#707070" stroke-width="2.4"/><line x1="1181.9" y1="484.2" x2="1181.9" y2="468" stroke="#c6c6c6" stroke-width="0.7"/>
<line x1="1252.4" y1="443.5" x2="1266.5" y2="435.4" stroke="#707070" stroke-width="2.4"/><line x1="1252.4" y1="443.5" x2="1266.5" y2="435.4" stroke="#c6c6c6" stroke-width="0.7"/>
<line x1="1181.9" y1="468" x2="1196" y2="459.8" stroke="#707070" stroke-width="2.4"/><line x1="1181.9" y1="468" x2="1196" y2="459.8" stroke="#c6c6c6" stroke-width="0.7"/>
<line x1="1252.4" y1="443.5" x2="1238.3" y2="435.4" stroke="#707070" stroke-width="2.4"/><line x1="1252.4" y1="443.5" x2="1238.3" y2="435.4" stroke="#c6c6c6" stroke-width="0.7"/>
<line x1="1266.5" y1="468" x2="1252.4" y2="459.8" stroke="#707070" stroke-width="2.4"/><line x1="1266.5" y1="468" x2="1252.4" y2="459.8" stroke="#c6c6c6" stroke-width="0.7"/>
<line x1="1167.8" y1="443.5" x2="1181.9" y2="435.4" stroke="#707070" stroke-width="2.4"/><line x1="1167.8" y1="443.5" x2="1181.9" y2="435.4" stroke="#c6c6c6" stroke-width="0.7"/>
<line x1="1238.3" y1="468" x2="1224.2" y2="459.8" stroke="#707070" stroke-width="2.4"/><line x1="1238.3" y1="468" x2="1224.2" y2="459.8" stroke="#c6c6c6" stroke-width="0.7"/>
<line x1="1181.9" y1="516.9" x2="1196" y2="508.7" stroke="#707070" stroke-width="2.4"/><line x1="1181.9" y1="516.9" x2="1196" y2="508.7" stroke="#c6c6c6" stroke-width="0.7"/>
<line x1="1196" y1="443.5" x2="1181.9" y2="435.4" stroke="#707070" stroke-width="2.4"/><line x1="1196" y1="443.5" x2="1181.9" y2="435.4" stroke="#c6c6c6" stroke-width="0.7"/>
<line x1="1139.6" y1="492.4" x2="1139.6" y2="508.7" stroke="#707070" stroke-width="2.4"/><line x1="1139.6" y1="492.4" x2="1139.6" y2="508.7" stroke="#c6c6c6" stroke-width="0.7"/>
<line x1="1196" y1="492.4" x2="1196" y2="508.7" stroke="#707070" stroke-width="2.4"/><line x1="1196" y1="492.4" x2="1196" y2="508.7" stroke="#c6c6c6" stroke-width="0.7"/>
<line x1="1153.7" y1="468" x2="1167.8" y2="459.8" stroke="#707070" stroke-width="2.4"/><line x1="1153.7" y1="468" x2="1167.8" y2="459.8" stroke="#c6c6c6" stroke-width="0.7"/>
<line x1="1252.4" y1="508.7" x2="1266.5" y2="516.9" stroke="#707070" stroke-width="2.4"/><line x1="1252.4" y1="508.7" x2="1266.5" y2="516.9" stroke="#c6c6c6" stroke-width="0.7"/>
<line x1="1238.3" y1="484.2" x2="1252.4" y2="492.4" stroke="#707070" stroke-width="2.4"/><line x1="1238.3" y1="484.2" x2="1252.4" y2="492.4" stroke="#c6c6c6" stroke-width="0.7"/>
<line x1="1196" y1="508.7" x2="1210.1" y2="516.9" stroke="#707070" stroke-width="2.4"/><line x1="1196" y1="508.7" x2="1210.1" y2="516.9" stroke="#c6c6c6" stroke-width="0.7"/>
<line x1="1252.4" y1="492.4" x2="1252.4" y2="508.7" stroke="#707070" stroke-width="2.4"/><line x1="1252.4" y1="492.4" x2="1252.4" y2="508.7" stroke="#c6c6c6" stroke-width="0.7"/>
<line x1="1139.6" y1="508.7" x2="1153.7" y2="516.9" stroke="#707070" stroke-width="2.4"/><line x1="1139.6" y1="508.7" x2="1153.7" y2="516.9" stroke="#c6c6c6" stroke-width="0.7"/>
<line x1="1266.5" y1="516.9" x2="1280.6" y2="508.7" stroke="#707070" stroke-width="2.4"/><line x1="1266.5" y1="516.9" x2="1280.6" y2="508.7" stroke="#c6c6c6" stroke-width="0.7"/>
<line x1="1139.6" y1="443.5" x2="1139.6" y2="459.8" stroke="#707070" stroke-width="2.4"/><line x1="1139.6" y1="443.5" x2="1139.6" y2="459.8" stroke="#c6c6c6" stroke-width="0.7"/>
<line x1="1266.5" y1="468" x2="1280.6" y2="459.8" stroke="#707070" stroke-width="2.4"/><line x1="1266.5" y1="468" x2="1280.6" y2="459.8" stroke="#c6c6c6" stroke-width="0.7"/>
<line x1="1181.9" y1="468" x2="1167.8" y2="459.8" stroke="#707070" stroke-width="2.4"/><line x1="1181.9" y1="468" x2="1167.8" y2="459.8" stroke="#c6c6c6" stroke-width="0.7"/>
<line x1="1181.9" y1="484.2" x2="1196" y2="492.4" stroke="#707070" stroke-width="2.4"/><line x1="1181.9" y1="484.2" x2="1196" y2="492.4" stroke="#c6c6c6" stroke-width="0.7"/>
<line x1="1196" y1="443.5" x2="1210.1" y2="435.4" stroke="#707070" stroke-width="2.4"/><line x1="1196" y1="443.5" x2="1210.1" y2="435.4" stroke="#c6c6c6" stroke-width="0.7"/>
<line x1="1252.4" y1="492.4" x2="1266.5" y2="484.2" stroke="#707070" stroke-width="2.4"/><line x1="1252.4" y1="492.4" x2="1266.5" y2="484.2" stroke="#c6c6c6" stroke-width="0.7"/>
<line x1="1153.7" y1="468" x2="1153.7" y2="484.2" stroke="#707070" stroke-width="2.4"/><line x1="1153.7" y1="468" x2="1153.7" y2="484.2" stroke="#c6c6c6" stroke-width="0.7"/>
<line x1="1153.7" y1="484.2" x2="1167.8" y2="492.4" stroke="#707070" stroke-width="2.4"/><line x1="1153.7" y1="484.2" x2="1167.8" y2="492.4" stroke="#c6c6c6" stroke-width="0.7"/>
<line x1="1224.2" y1="492.4" x2="1238.3" y2="484.2" stroke="#707070" stroke-width="2.4"/><line x1="1224.2" y1="492.4" x2="1238.3" y2="484.2" stroke="#c6c6c6" stroke-width="0.7"/>
<line x1="1252.4" y1="459.8" x2="1252.4" y2="443.5" stroke="#707070" stroke-width="2.4"/><line x1="1252.4" y1="459.8" x2="1252.4" y2="443.5" stroke="#c6c6c6" stroke-width="0.7"/>
<line x1="1196" y1="459.8" x2="1196" y2="443.5" stroke="#707070" stroke-width="2.4"/><line x1="1196" y1="459.8" x2="1196" y2="443.5" stroke="#c6c6c6" stroke-width="0.7"/>
<line x1="1153.7" y1="468" x2="1139.6" y2="459.8" stroke="#707070" stroke-width="2.4"/><line x1="1153.7" y1="468" x2="1139.6" y2="459.8" stroke="#c6c6c6" stroke-width="0.7"/>
<line x1="1280.6" y1="459.8" x2="1280.6" y2="443.5" stroke="#707070" stroke-width="2.4"/><line x1="1280.6" y1="459.8" x2="1280.6" y2="443.5" stroke="#c6c6c6" stroke-width="0.7"/>
<line x1="1210.1" y1="516.9" x2="1224.2" y2="508.7" stroke="#707070" stroke-width="2.4"/><line x1="1210.1" y1="516.9" x2="1224.2" y2="508.7" stroke="#c6c6c6" stroke-width="0.7"/>
<line x1="1266.5" y1="484.2" x2="1266.5" y2="468" stroke="#707070" stroke-width="2.4"/><line x1="1266.5" y1="484.2" x2="1266.5" y2="468" stroke="#c6c6c6" stroke-width="0.7"/>
<line x1="1224.2" y1="443.5" x2="1210.1" y2="435.4" stroke="#707070" stroke-width="2.4"/><line x1="1224.2" y1="443.5" x2="1210.1" y2="435.4" stroke="#c6c6c6" stroke-width="0.7"/>
<line x1="1153.7" y1="516.9" x2="1167.8" y2="508.7" stroke="#707070" stroke-width="2.4"/><line x1="1153.7" y1="516.9" x2="1167.8" y2="508.7" stroke="#c6c6c6" stroke-width="0.7"/>
<line x1="1139.6" y1="443.5" x2="1153.7" y2="435.4" stroke="#707070" stroke-width="2.4"/><line x1="1139.6" y1="443.5" x2="1153.7" y2="435.4" stroke="#c6c6c6" stroke-width="0.7"/>
<line x1="1224.2" y1="492.4" x2="1224.2" y2="508.7" stroke="#707070" stroke-width="2.4"/><line x1="1224.2" y1="492.4" x2="1224.2" y2="508.7" stroke="#c6c6c6" stroke-width="0.7"/>
<line x1="1280.6" y1="508.7" x2="1280.6" y2="492.4" stroke="#707070" stroke-width="2.4"/><line x1="1280.6" y1="508.7" x2="1280.6" y2="492.4" stroke="#c6c6c6" stroke-width="0.7"/>
<line x1="1167.8" y1="492.4" x2="1167.8" y2="508.7" stroke="#707070" stroke-width="2.4"/><line x1="1167.8" y1="492.4" x2="1167.8" y2="508.7" stroke="#c6c6c6" stroke-width="0.7"/>
<line x1="1167.8" y1="443.5" x2="1153.7" y2="435.4" stroke="#707070" stroke-width="2.4"/><line x1="1167.8" y1="443.5" x2="1153.7" y2="435.4" stroke="#c6c6c6" stroke-width="0.7"/>
<line x1="1280.6" y1="443.5" x2="1266.5" y2="435.4" stroke="#707070" stroke-width="2.4"/><line x1="1280.6" y1="443.5" x2="1266.5" y2="435.4" stroke="#c6c6c6" stroke-width="0.7"/>
<line x1="1238.3" y1="468" x2="1252.4" y2="459.8" stroke="#707070" stroke-width="2.4"/><line x1="1238.3" y1="468" x2="1252.4" y2="459.8" stroke="#c6c6c6" stroke-width="0.7"/>
<line x1="1224.2" y1="508.7" x2="1238.3" y2="516.9" stroke="#707070" stroke-width="2.4"/><line x1="1224.2" y1="508.7" x2="1238.3" y2="516.9" stroke="#c6c6c6" stroke-width="0.7"/>
<line x1="1266.5" y1="484.2" x2="1280.6" y2="492.4" stroke="#707070" stroke-width="2.4"/><line x1="1266.5" y1="484.2" x2="1280.6" y2="492.4" stroke="#c6c6c6" stroke-width="0.7"/>
<line x1="1238.3" y1="516.9" x2="1252.4" y2="508.7" stroke="#707070" stroke-width="2.4"/><line x1="1238.3" y1="516.9" x2="1252.4" y2="508.7" stroke="#c6c6c6" stroke-width="0.7"/>
<line x1="1167.8" y1="508.7" x2="1181.9" y2="516.9" stroke="#707070" stroke-width="2.4"/><line x1="1167.8" y1="508.7" x2="1181.9" y2="516.9" stroke="#c6c6c6" stroke-width="0.7"/>
<line x1="1167.8" y1="492.4" x2="1181.9" y2="484.2" stroke="#707070" stroke-width="2.4"/><line x1="1167.8" y1="492.4" x2="1181.9" y2="484.2" stroke="#c6c6c6" stroke-width="0.7"/>
<line x1="1238.3" y1="484.2" x2="1238.3" y2="468" stroke="#707070" stroke-width="2.4"/><line x1="1238.3" y1="484.2" x2="1238.3" y2="468" stroke="#c6c6c6" stroke-width="0.7"/>
<line x1="1167.8" y1="459.8" x2="1167.8" y2="443.5" stroke="#707070" stroke-width="2.4"/><line x1="1167.8" y1="459.8" x2="1167.8" y2="443.5" stroke="#c6c6c6" stroke-width="0.7"/>
<line x1="1224.2" y1="459.8" x2="1224.2" y2="443.5" stroke="#707070" stroke-width="2.4"/><line x1="1224.2" y1="459.8" x2="1224.2" y2="443.5" stroke="#c6c6c6" stroke-width="0.7"/>
<line x1="1210.1" y1="476.1" x2="1202.3" y2="467.1" stroke="#e8901a" stroke-width="2.4"/><line x1="1210.1" y1="476.1" x2="1202.3" y2="467.1" stroke="#ffd890" stroke-width="0.7"/>
<line x1="1202.3" y1="467.1" x2="1196" y2="459.8" stroke="#707070" stroke-width="2.4"/><line x1="1202.3" y1="467.1" x2="1196" y2="459.8" stroke="#c6c6c6" stroke-width="0.7"/>
<line x1="1210.1" y1="476.1" x2="1217.9" y2="485.1" stroke="#e8901a" stroke-width="2.4"/><line x1="1210.1" y1="476.1" x2="1217.9" y2="485.1" stroke="#ffd890" stroke-width="0.7"/>
<line x1="1217.9" y1="485.1" x2="1224.2" y2="492.4" stroke="#707070" stroke-width="2.4"/><line x1="1217.9" y1="485.1" x2="1224.2" y2="492.4" stroke="#c6c6c6" stroke-width="0.7"/>
<line x1="1210.1" y1="476.1" x2="1217.9" y2="467.1" stroke="#e8901a" stroke-width="2.4"/><line x1="1210.1" y1="476.1" x2="1217.9" y2="467.1" stroke="#ffd890" stroke-width="0.7"/>
<line x1="1217.9" y1="467.1" x2="1224.2" y2="459.8" stroke="#707070" stroke-width="2.4"/><line x1="1217.9" y1="467.1" x2="1224.2" y2="459.8" stroke="#c6c6c6" stroke-width="0.7"/>
<line x1="1210.1" y1="476.1" x2="1202.3" y2="485.1" stroke="#e8901a" stroke-width="2.4"/><line x1="1210.1" y1="476.1" x2="1202.3" y2="485.1" stroke="#ffd890" stroke-width="0.7"/>
<line x1="1202.3" y1="485.1" x2="1196" y2="492.4" stroke="#707070" stroke-width="2.4"/><line x1="1202.3" y1="485.1" x2="1196" y2="492.4" stroke="#c6c6c6" stroke-width="0.7"/>
<circle cx="1153.7" cy="468" r="3.1" fill="url(#fC)"/>
<circle cx="1153.7" cy="484.2" r="3.1" fill="url(#fC)"/>
<circle cx="1167.8" cy="492.4" r="3.1" fill="url(#fC)"/>
<circle cx="1181.9" cy="484.2" r="3.1" fill="url(#fC)"/>
<circle cx="1181.9" cy="468" r="3.1" fill="url(#fC)"/>
<circle cx="1167.8" cy="459.8" r="3.1" fill="url(#fC)"/>
<circle cx="1196" cy="492.4" r="3.1" fill="url(#fC)"/>
<circle cx="1196" cy="459.8" r="3.1" fill="url(#fC)"/>
<circle cx="1224.2" cy="492.4" r="3.1" fill="url(#fC)"/>
<circle cx="1238.3" cy="484.2" r="3.1" fill="url(#fC)"/>
<circle cx="1238.3" cy="468" r="3.1" fill="url(#fC)"/>
<circle cx="1224.2" cy="459.8" r="3.1" fill="url(#fC)"/>
<circle cx="1252.4" cy="492.4" r="3.1" fill="url(#fC)"/>
<circle cx="1266.5" cy="484.2" r="3.1" fill="url(#fC)"/>
<circle cx="1266.5" cy="468" r="3.1" fill="url(#fC)"/>
<circle cx="1252.4" cy="459.8" r="3.1" fill="url(#fC)"/>
<circle cx="1139.6" cy="443.5" r="3.1" fill="url(#fC)"/>
<circle cx="1139.6" cy="459.8" r="3.1" fill="url(#fC)"/>
<circle cx="1167.8" cy="443.5" r="3.1" fill="url(#fC)"/>
<circle cx="1153.7" cy="435.4" r="3.1" fill="url(#fC)"/>
<circle cx="1196" cy="443.5" r="3.1" fill="url(#fC)"/>
<circle cx="1181.9" cy="435.4" r="3.1" fill="url(#fC)"/>
<circle cx="1224.2" cy="443.5" r="3.1" fill="url(#fC)"/>
<circle cx="1210.1" cy="435.4" r="3.1" fill="url(#fC)"/>
<circle cx="1252.4" cy="443.5" r="3.1" fill="url(#fC)"/>
<circle cx="1238.3" cy="435.4" r="3.1" fill="url(#fC)"/>
<circle cx="1280.6" cy="459.8" r="3.1" fill="url(#fC)"/>
<circle cx="1280.6" cy="443.5" r="3.1" fill="url(#fC)"/>
<circle cx="1266.5" cy="435.4" r="3.1" fill="url(#fC)"/>
<circle cx="1139.6" cy="492.4" r="3.1" fill="url(#fC)"/>
<circle cx="1139.6" cy="508.7" r="3.1" fill="url(#fC)"/>
<circle cx="1153.7" cy="516.9" r="3.1" fill="url(#fC)"/>
<circle cx="1167.8" cy="508.7" r="3.1" fill="url(#fC)"/>
<circle cx="1181.9" cy="516.9" r="3.1" fill="url(#fC)"/>
<circle cx="1196" cy="508.7" r="3.1" fill="url(#fC)"/>
<circle cx="1210.1" cy="516.9" r="3.1" fill="url(#fC)"/>
<circle cx="1224.2" cy="508.7" r="3.1" fill="url(#fC)"/>
<circle cx="1238.3" cy="516.9" r="3.1" fill="url(#fC)"/>
<circle cx="1252.4" cy="508.7" r="3.1" fill="url(#fC)"/>
<circle cx="1266.5" cy="516.9" r="3.1" fill="url(#fC)"/>
<circle cx="1280.6" cy="508.7" r="3.1" fill="url(#fC)"/>
<circle cx="1280.6" cy="492.4" r="3.1" fill="url(#fC)"/>
<circle cx="1210.1" cy="476.1" r="5.7" fill="url(#fCu)"/>
</g>
<clipPath id="fClip2"><rect x="1183.7" y="622.5" width="69.9" height="68.1"/></clipPath>
<g clip-path="url(#fClip2)">
<line x1="1172.8" y1="667" x2="1161.3" y2="673.7" stroke="#7a7a7a" stroke-width="1.9" stroke-linecap="round"/>
<line x1="1253.3" y1="633.8" x2="1264.8" y2="627.1" stroke="#7a7a7a" stroke-width="1.9" stroke-linecap="round"/>
<line x1="1207.3" y1="647.1" x2="1201.5" y2="650.4" stroke="#1a20e0" stroke-width="1.9"/>
<line x1="1201.5" y1="650.4" x2="1195.8" y2="653.8" stroke="#7a7a7a" stroke-width="1.9"/>
<line x1="1172.8" y1="653.8" x2="1184.3" y2="647.1" stroke="#7a7a7a" stroke-width="1.9" stroke-linecap="round"/>
<line x1="1253.3" y1="687" x2="1264.8" y2="693.6" stroke="#7a7a7a" stroke-width="1.9" stroke-linecap="round"/>
<line x1="1241.8" y1="667" x2="1253.3" y2="673.7" stroke="#7a7a7a" stroke-width="1.9" stroke-linecap="round"/>
<line x1="1253.3" y1="673.7" x2="1253.3" y2="687" stroke="#7a7a7a" stroke-width="1.9" stroke-linecap="round"/>
<line x1="1264.8" y1="693.6" x2="1276.3" y2="687" stroke="#7a7a7a" stroke-width="1.9" stroke-linecap="round"/>
<line x1="1161.3" y1="633.8" x2="1161.3" y2="647.1" stroke="#7a7a7a" stroke-width="1.9" stroke-linecap="round"/>
<line x1="1207.3" y1="673.7" x2="1201.5" y2="670.4" stroke="#1a20e0" stroke-width="1.9"/>
<line x1="1201.5" y1="670.4" x2="1195.8" y2="667" stroke="#7a7a7a" stroke-width="1.9"/>
<line x1="1253.3" y1="673.7" x2="1264.8" y2="667" stroke="#7a7a7a" stroke-width="1.9" stroke-linecap="round"/>
<line x1="1195.8" y1="627.1" x2="1195.8" y2="613.9" stroke="#7a7a7a" stroke-width="1.9" stroke-linecap="round"/>
<line x1="1264.8" y1="667" x2="1264.8" y2="653.8" stroke="#7a7a7a" stroke-width="1.9" stroke-linecap="round"/>
<line x1="1218.8" y1="613.9" x2="1207.3" y2="607.2" stroke="#7a7a7a" stroke-width="1.9" stroke-linecap="round"/>
<line x1="1276.3" y1="687" x2="1276.3" y2="673.7" stroke="#7a7a7a" stroke-width="1.9" stroke-linecap="round"/>
<line x1="1161.3" y1="633.8" x2="1172.8" y2="627.1" stroke="#7a7a7a" stroke-width="1.9" stroke-linecap="round"/>
<line x1="1230.3" y1="673.7" x2="1230.3" y2="680.3" stroke="#1a20e0" stroke-width="1.9"/>
<line x1="1230.3" y1="680.3" x2="1230.3" y2="687" stroke="#7a7a7a" stroke-width="1.9"/>
<line x1="1184.3" y1="673.7" x2="1184.3" y2="687" stroke="#7a7a7a" stroke-width="1.9" stroke-linecap="round"/>
<line x1="1230.3" y1="687" x2="1241.8" y2="693.6" stroke="#7a7a7a" stroke-width="1.9" stroke-linecap="round"/>
<line x1="1264.8" y1="653.8" x2="1253.3" y2="647.1" stroke="#7a7a7a" stroke-width="1.9" stroke-linecap="round"/>
<line x1="1218.8" y1="613.9" x2="1230.3" y2="607.2" stroke="#7a7a7a" stroke-width="1.9" stroke-linecap="round"/>
<line x1="1230.3" y1="647.1" x2="1236" y2="650.4" stroke="#1a20e0" stroke-width="1.9"/>
<line x1="1236" y1="650.4" x2="1241.8" y2="653.8" stroke="#7a7a7a" stroke-width="1.9"/>
<line x1="1218.8" y1="627.1" x2="1218.8" y2="613.9" stroke="#7a7a7a" stroke-width="1.9" stroke-linecap="round"/>
<line x1="1207.3" y1="633.8" x2="1195.8" y2="627.1" stroke="#7a7a7a" stroke-width="1.9" stroke-linecap="round"/>
<line x1="1207.3" y1="673.7" x2="1207.3" y2="680.3" stroke="#1a20e0" stroke-width="1.9"/>
<line x1="1207.3" y1="680.3" x2="1207.3" y2="687" stroke="#7a7a7a" stroke-width="1.9"/>
<line x1="1241.8" y1="613.9" x2="1230.3" y2="607.2" stroke="#7a7a7a" stroke-width="1.9" stroke-linecap="round"/>
<line x1="1195.8" y1="613.9" x2="1184.3" y2="607.2" stroke="#7a7a7a" stroke-width="1.9" stroke-linecap="round"/>
<line x1="1195.8" y1="706.9" x2="1207.3" y2="713.6" stroke="#7a7a7a" stroke-width="1.9" stroke-linecap="round"/>
<line x1="1241.8" y1="627.1" x2="1241.8" y2="613.9" stroke="#7a7a7a" stroke-width="1.9" stroke-linecap="round"/>
<line x1="1264.8" y1="653.8" x2="1276.3" y2="647.1" stroke="#7a7a7a" stroke-width="1.9" stroke-linecap="round"/>
<line x1="1264.8" y1="613.9" x2="1253.3" y2="607.2" stroke="#7a7a7a" stroke-width="1.9" stroke-linecap="round"/>
<line x1="1207.3" y1="633.8" x2="1218.8" y2="627.1" stroke="#7a7a7a" stroke-width="1.9" stroke-linecap="round"/>
<line x1="1241.8" y1="613.9" x2="1253.3" y2="607.2" stroke="#7a7a7a" stroke-width="1.9" stroke-linecap="round"/>
<line x1="1195.8" y1="613.9" x2="1207.3" y2="607.2" stroke="#7a7a7a" stroke-width="1.9" stroke-linecap="round"/>
<line x1="1230.3" y1="633.8" x2="1218.8" y2="627.1" stroke="#7a7a7a" stroke-width="1.9" stroke-linecap="round"/>
<line x1="1207.3" y1="713.6" x2="1218.8" y2="706.9" stroke="#7a7a7a" stroke-width="1.9" stroke-linecap="round"/>
<line x1="1184.3" y1="633.8" x2="1172.8" y2="627.1" stroke="#7a7a7a" stroke-width="1.9" stroke-linecap="round"/>
<line x1="1241.8" y1="653.8" x2="1253.3" y2="647.1" stroke="#7a7a7a" stroke-width="1.9" stroke-linecap="round"/>
<line x1="1264.8" y1="667" x2="1276.3" y2="673.7" stroke="#7a7a7a" stroke-width="1.9" stroke-linecap="round"/>
<line x1="1218.8" y1="706.9" x2="1230.3" y2="713.6" stroke="#7a7a7a" stroke-width="1.9" stroke-linecap="round"/>
<line x1="1195.8" y1="693.6" x2="1195.8" y2="706.9" stroke="#7a7a7a" stroke-width="1.9" stroke-linecap="round"/>
<line x1="1172.8" y1="706.9" x2="1184.3" y2="713.6" stroke="#7a7a7a" stroke-width="1.9" stroke-linecap="round"/>
<line x1="1253.3" y1="633.8" x2="1241.8" y2="627.1" stroke="#7a7a7a" stroke-width="1.9" stroke-linecap="round"/>
<line x1="1184.3" y1="633.8" x2="1195.8" y2="627.1" stroke="#7a7a7a" stroke-width="1.9" stroke-linecap="round"/>
<line x1="1161.3" y1="673.7" x2="1161.3" y2="687" stroke="#7a7a7a" stroke-width="1.9" stroke-linecap="round"/>
<line x1="1184.3" y1="713.6" x2="1195.8" y2="706.9" stroke="#7a7a7a" stroke-width="1.9" stroke-linecap="round"/>
<line x1="1218.8" y1="693.6" x2="1218.8" y2="706.9" stroke="#7a7a7a" stroke-width="1.9" stroke-linecap="round"/>
<line x1="1264.8" y1="627.1" x2="1264.8" y2="613.9" stroke="#7a7a7a" stroke-width="1.9" stroke-linecap="round"/>
<line x1="1253.3" y1="713.6" x2="1264.8" y2="706.9" stroke="#7a7a7a" stroke-width="1.9" stroke-linecap="round"/>
<line x1="1172.8" y1="693.6" x2="1172.8" y2="706.9" stroke="#7a7a7a" stroke-width="1.9" stroke-linecap="round"/>
<line x1="1172.8" y1="667" x2="1184.3" y2="673.7" stroke="#7a7a7a" stroke-width="1.9" stroke-linecap="round"/>
<line x1="1276.3" y1="647.1" x2="1276.3" y2="633.8" stroke="#7a7a7a" stroke-width="1.9" stroke-linecap="round"/>
<line x1="1241.8" y1="693.6" x2="1241.8" y2="706.9" stroke="#7a7a7a" stroke-width="1.9" stroke-linecap="round"/>
<line x1="1276.3" y1="633.8" x2="1264.8" y2="627.1" stroke="#7a7a7a" stroke-width="1.9" stroke-linecap="round"/>
<line x1="1172.8" y1="613.9" x2="1184.3" y2="607.2" stroke="#7a7a7a" stroke-width="1.9" stroke-linecap="round"/>
<line x1="1184.3" y1="673.7" x2="1195.8" y2="667" stroke="#7a7a7a" stroke-width="1.9" stroke-linecap="round"/>
<line x1="1184.3" y1="647.1" x2="1184.3" y2="633.8" stroke="#7a7a7a" stroke-width="1.9" stroke-linecap="round"/>
<line x1="1230.3" y1="633.8" x2="1241.8" y2="627.1" stroke="#7a7a7a" stroke-width="1.9" stroke-linecap="round"/>
<line x1="1195.8" y1="667" x2="1195.8" y2="653.8" stroke="#7a7a7a" stroke-width="1.9" stroke-linecap="round"/>
<line x1="1230.3" y1="713.6" x2="1241.8" y2="706.9" stroke="#7a7a7a" stroke-width="1.9" stroke-linecap="round"/>
<line x1="1195.8" y1="693.6" x2="1207.3" y2="687" stroke="#7a7a7a" stroke-width="1.9" stroke-linecap="round"/>
<line x1="1264.8" y1="693.6" x2="1264.8" y2="706.9" stroke="#7a7a7a" stroke-width="1.9" stroke-linecap="round"/>
<line x1="1207.3" y1="687" x2="1218.8" y2="693.6" stroke="#7a7a7a" stroke-width="1.9" stroke-linecap="round"/>
<line x1="1161.3" y1="687" x2="1172.8" y2="693.6" stroke="#7a7a7a" stroke-width="1.9" stroke-linecap="round"/>
<line x1="1195.8" y1="653.8" x2="1184.3" y2="647.1" stroke="#7a7a7a" stroke-width="1.9" stroke-linecap="round"/>
<line x1="1241.8" y1="706.9" x2="1253.3" y2="713.6" stroke="#7a7a7a" stroke-width="1.9" stroke-linecap="round"/>
<line x1="1172.8" y1="653.8" x2="1172.8" y2="667" stroke="#7a7a7a" stroke-width="1.9" stroke-linecap="round"/>
<line x1="1230.3" y1="673.7" x2="1236" y2="670.4" stroke="#1a20e0" stroke-width="1.9"/>
<line x1="1236" y1="670.4" x2="1241.8" y2="667" stroke="#7a7a7a" stroke-width="1.9"/>
<line x1="1253.3" y1="647.1" x2="1253.3" y2="633.8" stroke="#7a7a7a" stroke-width="1.9" stroke-linecap="round"/>
<line x1="1207.3" y1="647.1" x2="1207.3" y2="640.5" stroke="#1a20e0" stroke-width="1.9"/>
<line x1="1207.3" y1="640.5" x2="1207.3" y2="633.8" stroke="#7a7a7a" stroke-width="1.9"/>
<line x1="1172.8" y1="653.8" x2="1161.3" y2="647.1" stroke="#7a7a7a" stroke-width="1.9" stroke-linecap="round"/>
<line x1="1218.8" y1="693.6" x2="1230.3" y2="687" stroke="#7a7a7a" stroke-width="1.9" stroke-linecap="round"/>
<line x1="1172.8" y1="693.6" x2="1184.3" y2="687" stroke="#7a7a7a" stroke-width="1.9" stroke-linecap="round"/>
<line x1="1241.8" y1="693.6" x2="1253.3" y2="687" stroke="#7a7a7a" stroke-width="1.9" stroke-linecap="round"/>
<line x1="1184.3" y1="687" x2="1195.8" y2="693.6" stroke="#7a7a7a" stroke-width="1.9" stroke-linecap="round"/>
<line x1="1241.8" y1="667" x2="1241.8" y2="653.8" stroke="#7a7a7a" stroke-width="1.9" stroke-linecap="round"/>
<line x1="1172.8" y1="627.1" x2="1172.8" y2="613.9" stroke="#7a7a7a" stroke-width="1.9" stroke-linecap="round"/>
<line x1="1230.3" y1="647.1" x2="1230.3" y2="640.5" stroke="#1a20e0" stroke-width="1.9"/>
<line x1="1230.3" y1="640.5" x2="1230.3" y2="633.8" stroke="#7a7a7a" stroke-width="1.9"/>
<line x1="1218.8" y1="660.4" x2="1213" y2="653.8" stroke="#e8207a" stroke-width="1.9"/>
<line x1="1213" y1="653.8" x2="1207.3" y2="647.1" stroke="#1a20e0" stroke-width="1.9"/>
<line x1="1218.8" y1="660.4" x2="1224.5" y2="667" stroke="#e8207a" stroke-width="1.9"/>
<line x1="1224.5" y1="667" x2="1230.3" y2="673.7" stroke="#1a20e0" stroke-width="1.9"/>
<line x1="1218.8" y1="660.4" x2="1224.5" y2="653.8" stroke="#e8207a" stroke-width="1.9"/>
<line x1="1224.5" y1="653.8" x2="1230.3" y2="647.1" stroke="#1a20e0" stroke-width="1.9"/>
<line x1="1218.8" y1="660.4" x2="1213" y2="667" stroke="#e8207a" stroke-width="1.9"/>
<line x1="1213" y1="667" x2="1207.3" y2="673.7" stroke="#1a20e0" stroke-width="1.9"/>
<circle cx="1195.8" cy="667" r="2.2" fill="#d4d4d4" stroke="#6c6c6c" stroke-width="1.1"/>
<circle cx="1195.8" cy="653.8" r="2.2" fill="#d4d4d4" stroke="#6c6c6c" stroke-width="1.1"/>
<circle cx="1207.3" cy="673.7" r="2.3" fill="#b8bcff" stroke="#1a20e0" stroke-width="1.1"/>
<circle cx="1207.3" cy="647.1" r="2.3" fill="#b8bcff" stroke="#1a20e0" stroke-width="1.1"/>
<circle cx="1230.3" cy="673.7" r="2.3" fill="#b8bcff" stroke="#1a20e0" stroke-width="1.1"/>
<circle cx="1241.8" cy="667" r="2.2" fill="#d4d4d4" stroke="#6c6c6c" stroke-width="1.1"/>
<circle cx="1241.8" cy="653.8" r="2.2" fill="#d4d4d4" stroke="#6c6c6c" stroke-width="1.1"/>
<circle cx="1230.3" cy="647.1" r="2.3" fill="#b8bcff" stroke="#1a20e0" stroke-width="1.1"/>
<circle cx="1207.3" cy="633.8" r="2.2" fill="#d4d4d4" stroke="#6c6c6c" stroke-width="1.1"/>
<circle cx="1195.8" cy="627.1" r="2.2" fill="#d4d4d4" stroke="#6c6c6c" stroke-width="1.1"/>
<circle cx="1230.3" cy="633.8" r="2.2" fill="#d4d4d4" stroke="#6c6c6c" stroke-width="1.1"/>
<circle cx="1218.8" cy="627.1" r="2.2" fill="#d4d4d4" stroke="#6c6c6c" stroke-width="1.1"/>
<circle cx="1241.8" cy="627.1" r="2.2" fill="#d4d4d4" stroke="#6c6c6c" stroke-width="1.1"/>
<circle cx="1195.8" cy="693.6" r="2.2" fill="#d4d4d4" stroke="#6c6c6c" stroke-width="1.1"/>
<circle cx="1207.3" cy="687" r="2.2" fill="#d4d4d4" stroke="#6c6c6c" stroke-width="1.1"/>
<circle cx="1218.8" cy="693.6" r="2.2" fill="#d4d4d4" stroke="#6c6c6c" stroke-width="1.1"/>
<circle cx="1230.3" cy="687" r="2.2" fill="#d4d4d4" stroke="#6c6c6c" stroke-width="1.1"/>
<circle cx="1241.8" cy="693.6" r="2.2" fill="#d4d4d4" stroke="#6c6c6c" stroke-width="1.1"/>
<circle cx="1218.8" cy="660.4" r="4.9" fill="url(#fCo)"/>
</g>
</g>
<g id="panelG">
<clipPath id="gClip"><rect x="76.4" y="809.3" width="293.4" height="292.4"/></clipPath>
<g clip-path="url(#gClip)">
<line x1="156" y1="832.3" x2="156" y2="1101.2" stroke="#222" stroke-width="0.9" stroke-dasharray="3 2.4"/>
<g fill="#fff" stroke="#1a1a1a" stroke-width="0.75">
<circle cx="76.4" cy="1094.1" r="2.05"/>
<circle cx="77.9" cy="1095.5" r="2.05"/>
<circle cx="79.4" cy="1096.4" r="2.05"/>
<circle cx="80.9" cy="1096.9" r="2.05"/>
<circle cx="82.4" cy="1097.2" r="2.05"/>
<circle cx="83.9" cy="1097.3" r="2.05"/>
<circle cx="85.4" cy="1097.3" r="2.05"/>
<circle cx="86.9" cy="1095.8" r="2.05"/>
<circle cx="88.4" cy="1093.2" r="2.05"/>
<circle cx="89.9" cy="1091.1" r="2.05"/>
<circle cx="91.4" cy="1089.3" r="2.05"/>
<circle cx="92.8" cy="1087.9" r="2.05"/>
<circle cx="94.3" cy="1087.8" r="2.05"/>
<circle cx="95.8" cy="1089.7" r="2.05"/>
<circle cx="97.3" cy="1092.1" r="2.05"/>
<circle cx="98.8" cy="1094" r="2.05"/>
<circle cx="100.3" cy="1095.6" r="2.05"/>
<circle cx="101.8" cy="1096.6" r="2.05"/>
<circle cx="103.3" cy="1095.5" r="2.05"/>
<circle cx="104.8" cy="1091.4" r="2.05"/>
<circle cx="106.3" cy="1087.5" r="2.05"/>
<circle cx="107.8" cy="1085" r="2.05"/>
<circle cx="109.3" cy="1082.9" r="2.05"/>
<circle cx="110.8" cy="1081.8" r="2.05"/>
<circle cx="112.3" cy="1082.5" r="2.05"/>
<circle cx="113.8" cy="1084.4" r="2.05"/>
<circle cx="115.3" cy="1086.1" r="2.05"/>
<circle cx="116.8" cy="1087.7" r="2.05"/>
<circle cx="118.3" cy="1086.7" r="2.05"/>
<circle cx="119.8" cy="1073.8" r="2.05"/>
<circle cx="121.3" cy="1057.3" r="2.05"/>
<circle cx="122.7" cy="1042" r="2.05"/>
<circle cx="124.2" cy="1027" r="2.05"/>
<circle cx="125.7" cy="1012.7" r="2.05"/>
<circle cx="127.2" cy="999.3" r="2.05"/>
<circle cx="128.7" cy="986.9" r="2.05"/>
<circle cx="130.2" cy="978.4" r="2.05"/>
<circle cx="131.7" cy="972.3" r="2.05"/>
<circle cx="133.2" cy="967.3" r="2.05"/>
<circle cx="134.7" cy="966.4" r="2.05"/>
<circle cx="136.2" cy="969.6" r="2.05"/>
<circle cx="137.7" cy="971.6" r="2.05"/>
<circle cx="139.2" cy="970.8" r="2.05"/>
<circle cx="140.7" cy="966.8" r="2.05"/>
<circle cx="142.2" cy="955.7" r="2.05"/>
<circle cx="143.7" cy="942.9" r="2.05"/>
<circle cx="145.2" cy="927.9" r="2.05"/>
<circle cx="146.7" cy="915.6" r="2.05"/>
<circle cx="148.2" cy="901.5" r="2.05"/>
<circle cx="149.7" cy="877.7" r="2.05"/>
<circle cx="151.2" cy="857.1" r="2.05"/>
<circle cx="152.6" cy="843.3" r="2.05"/>
<circle cx="154.1" cy="834.9" r="2.05"/>
<circle cx="155.6" cy="830" r="2.05"/>
<circle cx="157.1" cy="832.8" r="2.05"/>
<circle cx="158.6" cy="840.8" r="2.05"/>
<circle cx="160.1" cy="853.2" r="2.05"/>
<circle cx="161.6" cy="867.4" r="2.05"/>
<circle cx="163.1" cy="884.3" r="2.05"/>
<circle cx="164.6" cy="904.5" r="2.05"/>
<circle cx="166.1" cy="928.6" r="2.05"/>
<circle cx="167.6" cy="955" r="2.05"/>
<circle cx="169.1" cy="976.9" r="2.05"/>
<circle cx="170.6" cy="1011.3" r="2.05"/>
<circle cx="172.1" cy="1039.4" r="2.05"/>
<circle cx="173.6" cy="1057" r="2.05"/>
<circle cx="175.1" cy="1067.9" r="2.05"/>
<circle cx="176.6" cy="1073.8" r="2.05"/>
<circle cx="178.1" cy="1073.5" r="2.05"/>
<circle cx="179.6" cy="1069" r="2.05"/>
<circle cx="181.1" cy="1063.6" r="2.05"/>
<circle cx="182.6" cy="1057.5" r="2.05"/>
<circle cx="184" cy="1053.5" r="2.05"/>
<circle cx="185.5" cy="1050.6" r="2.05"/>
<circle cx="187" cy="1049.4" r="2.05"/>
<circle cx="188.5" cy="1051.3" r="2.05"/>
<circle cx="190" cy="1055" r="2.05"/>
<circle cx="191.5" cy="1059.2" r="2.05"/>
<circle cx="193" cy="1064.2" r="2.05"/>
<circle cx="194.5" cy="1068" r="2.05"/>
<circle cx="196" cy="1071" r="2.05"/>
<circle cx="197.5" cy="1072" r="2.05"/>
<circle cx="199" cy="1070" r="2.05"/>
<circle cx="200.5" cy="1067.1" r="2.05"/>
<circle cx="202" cy="1064.9" r="2.05"/>
<circle cx="203.5" cy="1062.6" r="2.05"/>
<circle cx="205" cy="1061.1" r="2.05"/>
<circle cx="206.5" cy="1061.4" r="2.05"/>
<circle cx="208" cy="1062.9" r="2.05"/>
<circle cx="209.5" cy="1065" r="2.05"/>
<circle cx="211" cy="1067.1" r="2.05"/>
<circle cx="212.5" cy="1069.7" r="2.05"/>
<circle cx="213.9" cy="1072.6" r="2.05"/>
<circle cx="215.4" cy="1075" r="2.05"/>
<circle cx="216.9" cy="1076.6" r="2.05"/>
<circle cx="218.4" cy="1077.9" r="2.05"/>
<circle cx="219.9" cy="1079.2" r="2.05"/>
<circle cx="221.4" cy="1081" r="2.05"/>
<circle cx="222.9" cy="1083.6" r="2.05"/>
<circle cx="224.4" cy="1086.5" r="2.05"/>
<circle cx="225.9" cy="1089.1" r="2.05"/>
<circle cx="227.4" cy="1092" r="2.05"/>
<circle cx="228.9" cy="1094.2" r="2.05"/>
<circle cx="230.4" cy="1094.4" r="2.05"/>
<circle cx="231.9" cy="1091.5" r="2.05"/>
<circle cx="233.4" cy="1087.8" r="2.05"/>
<circle cx="234.9" cy="1083.6" r="2.05"/>
<circle cx="236.4" cy="1079.3" r="2.05"/>
<circle cx="237.9" cy="1076.7" r="2.05"/>
<circle cx="239.4" cy="1074.7" r="2.05"/>
<circle cx="240.9" cy="1073.5" r="2.05"/>
<circle cx="242.4" cy="1073.7" r="2.05"/>
<circle cx="243.9" cy="1075.5" r="2.05"/>
<circle cx="245.3" cy="1078.2" r="2.05"/>
<circle cx="246.8" cy="1081.4" r="2.05"/>
<circle cx="248.3" cy="1085.9" r="2.05"/>
<circle cx="249.8" cy="1090.4" r="2.05"/>
<circle cx="251.3" cy="1094.1" r="2.05"/>
<circle cx="252.8" cy="1097.3" r="2.05"/>
<circle cx="254.3" cy="1097.4" r="2.05"/>
<circle cx="255.8" cy="1093.7" r="2.05"/>
<circle cx="257.3" cy="1089.2" r="2.05"/>
<circle cx="258.8" cy="1083.2" r="2.05"/>
<circle cx="260.3" cy="1078.3" r="2.05"/>
<circle cx="261.8" cy="1075.4" r="2.05"/>
<circle cx="263.3" cy="1073.5" r="2.05"/>
<circle cx="264.8" cy="1073.9" r="2.05"/>
<circle cx="266.3" cy="1076.7" r="2.05"/>
<circle cx="267.8" cy="1080.4" r="2.05"/>
<circle cx="269.3" cy="1085.9" r="2.05"/>
<circle cx="270.8" cy="1092.1" r="2.05"/>
<circle cx="272.3" cy="1096.3" r="2.05"/>
<circle cx="273.8" cy="1099.1" r="2.05"/>
<circle cx="275.2" cy="1098.7" r="2.05"/>
<circle cx="276.7" cy="1097.3" r="2.05"/>
<circle cx="278.2" cy="1096.3" r="2.05"/>
<circle cx="279.7" cy="1095.6" r="2.05"/>
<circle cx="281.2" cy="1095.4" r="2.05"/>
<circle cx="282.7" cy="1096.2" r="2.05"/>
<circle cx="284.2" cy="1097.3" r="2.05"/>
<circle cx="285.7" cy="1098" r="2.05"/>
<circle cx="287.2" cy="1097.9" r="2.05"/>
<circle cx="288.7" cy="1097.6" r="2.05"/>
<circle cx="290.2" cy="1097.1" r="2.05"/>
<circle cx="291.7" cy="1095.8" r="2.05"/>
<circle cx="293.2" cy="1094.2" r="2.05"/>
<circle cx="294.7" cy="1093" r="2.05"/>
<circle cx="296.2" cy="1091.8" r="2.05"/>
<circle cx="297.7" cy="1091" r="2.05"/>
<circle cx="299.2" cy="1090.9" r="2.05"/>
<circle cx="300.7" cy="1091.8" r="2.05"/>
<circle cx="302.2" cy="1092.9" r="2.05"/>
<circle cx="303.7" cy="1094.1" r="2.05"/>
<circle cx="305.1" cy="1095.6" r="2.05"/>
<circle cx="306.6" cy="1096.9" r="2.05"/>
<circle cx="308.1" cy="1097.3" r="2.05"/>
<circle cx="309.6" cy="1096.3" r="2.05"/>
<circle cx="311.1" cy="1094.8" r="2.05"/>
<circle cx="312.6" cy="1093.2" r="2.05"/>
<circle cx="314.1" cy="1091.8" r="2.05"/>
<circle cx="315.6" cy="1090.3" r="2.05"/>
<circle cx="317.1" cy="1089" r="2.05"/>
<circle cx="318.6" cy="1088.3" r="2.05"/>
<circle cx="320.1" cy="1088.5" r="2.05"/>
<circle cx="321.6" cy="1089.2" r="2.05"/>
<circle cx="323.1" cy="1090.3" r="2.05"/>
<circle cx="324.6" cy="1091.4" r="2.05"/>
<circle cx="326.1" cy="1092.6" r="2.05"/>
<circle cx="327.6" cy="1094.2" r="2.05"/>
<circle cx="329.1" cy="1095.7" r="2.05"/>
<circle cx="330.6" cy="1096.6" r="2.05"/>
<circle cx="332.1" cy="1096.5" r="2.05"/>
<circle cx="333.6" cy="1095.9" r="2.05"/>
<circle cx="335.1" cy="1095.1" r="2.05"/>
<circle cx="336.5" cy="1094.5" r="2.05"/>
<circle cx="338" cy="1093.8" r="2.05"/>
<circle cx="339.5" cy="1093.2" r="2.05"/>
<circle cx="341" cy="1093.2" r="2.05"/>
<circle cx="342.5" cy="1093.7" r="2.05"/>
<circle cx="344" cy="1094.6" r="2.05"/>
<circle cx="345.5" cy="1095.5" r="2.05"/>
<circle cx="347" cy="1096.1" r="2.05"/>
<circle cx="348.5" cy="1096.7" r="2.05"/>
<circle cx="350" cy="1097.2" r="2.05"/>
<circle cx="351.5" cy="1097.6" r="2.05"/>
<circle cx="353" cy="1098" r="2.05"/>
<circle cx="354.5" cy="1098.2" r="2.05"/>
<circle cx="356" cy="1098.4" r="2.05"/>
<circle cx="357.5" cy="1098.5" r="2.05"/>
<circle cx="359" cy="1098.5" r="2.05"/>
<circle cx="360.5" cy="1098.6" r="2.05"/>
<circle cx="362" cy="1098.6" r="2.05"/>
<circle cx="363.5" cy="1098.5" r="2.05"/>
<circle cx="365" cy="1098.3" r="2.05"/>
<circle cx="366.4" cy="1097.9" r="2.05"/>
<circle cx="367.9" cy="1097.5" r="2.05"/>
</g>
<path d="M76.4 1087.3 L77.1 1087.9 L77.9 1088.7 L78.6 1089.4 L79.3 1090.3 L80.1 1091.2 L80.8 1092.1 L81.5 1093.3 L82.2 1094.8 L83 1096.4 L83.7 1097.8 L84.4 1098.9 L85.2 1099.3 L85.9 1098.8 L86.6 1097.6 L87.4 1095.9 L88.1 1094 L88.8 1092.2 L89.5 1090.8 L90.3 1089.7 L91 1088.4 L91.7 1087.3 L92.5 1086.3 L93.2 1085.8 L93.9 1085.7 L94.7 1086.1 L95.4 1087 L96.1 1088.2 L96.9 1089.6 L97.6 1090.9 L98.3 1092.1 L99 1093.5 L99.8 1095 L100.5 1096.6 L101.2 1097.9 L102 1098.6 L102.7 1098.3 L103.4 1097.1 L104.2 1095.1 L104.9 1092.8 L105.6 1090.6 L106.4 1088.7 L107.1 1087.4 L107.8 1086.1 L108.5 1084.8 L109.3 1083.7 L110 1082.9 L110.7 1082.4 L111.5 1082.6 L112.2 1083.3 L112.9 1084.5 L113.7 1085.9 L114.4 1087.3 L115.1 1088.7 L115.8 1090.5 L116.6 1092.4 L117.3 1093.8 L118 1093.5 L118.8 1087.1 L119.5 1079.2 L120.2 1070.1 L121 1060.6 L121.7 1052.4 L122.4 1044.6 L123.2 1037.1 L123.9 1029.8 L124.6 1022.7 L125.3 1016 L126.1 1009.5 L126.8 1003.2 L127.5 997.1 L128.3 991.3 L129 986.2 L129.7 982.2 L130.5 978.6 L131.2 975.6 L131.9 973.5 L132.6 972.1 L133.4 970.8 L134.1 969.9 L134.8 969.7 L135.6 970.3 L136.3 971.4 L137 972.2 L137.8 972.2 L138.5 971.7 L139.2 970.9 L140 969.8 L140.7 966.6 L141.4 961.7 L142.1 956 L142.9 950.2 L143.6 943.6 L144.3 936.2 L145.1 929 L145.8 922.5 L146.5 916.7 L147.3 910.7 L148 903.6 L148.7 893.3 L149.5 880.8 L150.2 869 L150.9 860.4 L151.6 853.7 L152.4 848.5 L153.1 844.6 L153.8 841.5 L154.6 839.5 L155.3 838 L156 837.5 L156.8 838.3 L157.5 840 L158.2 842.5 L158.9 846.5 L159.7 851.8 L160.4 857.8 L161.1 864 L161.9 870.9 L162.6 878.9 L163.3 887.5 L164.1 896.8 L164.8 907.1 L165.5 918.7 L166.3 931.3 L167 945.2 L167.7 956.5 L168.4 965.9 L169.2 978.7 L169.9 996.9 L170.6 1012.3 L171.4 1027 L172.1 1040 L172.8 1050.7 L173.6 1059.3 L174.3 1066.7 L175 1072.5 L175.7 1076.7 L176.5 1080.2 L177.2 1081.8 L177.9 1080.1 L178.7 1076.4 L179.4 1072.8 L180.1 1068.9 L180.9 1064.7 L181.6 1060.9 L182.3 1058.3 L183.1 1056.1 L183.8 1054.1 L184.5 1052.9 L185.2 1052.7 L186 1053.9 L186.7 1056.2 L187.4 1059.1 L188.2 1062.1 L188.9 1066.3 L189.6 1071.4 L190.4 1076.9 L191.1 1081.8 L191.8 1085.6 L192.5 1088.4 L193.3 1090.8 L194 1092.9 L194.7 1094.7 L195.5 1096.6 L196.2 1098.2 L196.9 1098.6 L197.7 1098.3 L198.4 1097.8 L199.1 1097.1 L199.9 1096.6 L200.6 1096.3 L201.3 1096.2 L202 1096.1 L202.8 1096.1 L203.5 1096 L204.2 1096 L205 1096.2 L205.7 1096.4 L206.4 1096.7 L207.2 1096.9 L207.9 1097.2 L208.6 1097.3 L209.4 1097.2 L210.1 1096.8 L210.8 1096.1 L211.5 1095.4 L212.3 1094.6 L213 1093.9 L213.7 1093.5 L214.5 1093.4 L215.2 1093.6 L215.9 1093.9 L216.7 1094.3 L217.4 1094.8 L218.1 1095.2 L218.8 1095.7 L219.6 1096 L220.3 1096.3 L221 1096.6 L221.8 1097 L222.5 1097.2 L223.2 1097.5 L224 1097.6 L224.7 1097.6 L225.4 1097.4 L226.2 1097 L226.9 1096.4 L227.6 1095.8 L228.3 1095.1 L229.1 1094.4 L229.8 1093.9 L230.5 1093.6 L231.3 1093.4 L232 1093.5 L232.7 1093.8 L233.5 1094.3 L234.2 1094.8 L234.9 1095.4 L235.6 1095.9 L236.4 1096.4 L237.1 1096.7 L237.8 1096.9 L238.6 1097.1 L239.3 1097.3 L240 1097.5 L240.8 1097.6 L241.5 1097.6 L242.2 1097.5 L243 1097.2 L243.7 1096.8 L244.4 1096.3 L245.1 1095.9 L245.9 1095.6 L246.6 1095.4 L247.3 1095.4 L248.1 1095.7 L248.8 1096.1 L249.5 1096.7 L250.3 1097.3 L251 1097.9 L251.7 1098.5 L252.5 1098.9 L253.2 1099.2 L253.9 1099.3 L254.6 1099.2 L255.4 1099 L256.1 1098.8 L256.8 1098.5 L257.6 1098.2 L258.3 1097.9 L259 1097.5 L259.8 1097.2 L260.5 1097 L261.2 1096.8 L261.9 1096.7 L262.7 1096.7 L263.4 1096.7 L264.1 1096.8 L264.9 1096.9 L265.6 1097.1 L266.3 1097.3 L267.1 1097.5 L267.8 1097.7 L268.5 1097.9 L269.3 1098.1 L270 1098.3 L270.7 1098.4 L271.4 1098.5 L272.2 1098.6 L272.9 1098.6 L273.6 1098.5 L274.4 1098.4 L275.1 1098.2 L275.8 1098 L276.6 1097.8 L277.3 1097.5 L278 1097.2 L278.7 1096.9 L279.5 1096.7 L280.2 1096.5 L280.9 1096.3 L281.7 1096.1 L282.4 1096 L283.1 1096 L283.9 1096 L284.6 1096.1 L285.3 1096.1 L286.1 1096.2 L286.8 1096.3 L287.5 1096.4 L288.2 1096.5 L289 1096.6 L289.7 1096.7 L290.4 1096.8 L291.2 1096.9 L291.9 1097 L292.6 1097.1 L293.4 1097.2 L294.1 1097.2 L294.8 1097.3 L295.6 1097.3 L296.3 1097.3 L297 1097.4 L297.7 1097.4 L298.5 1097.4 L299.2 1097.4 L299.9 1097.4 L300.7 1097.4 L301.4 1097.5 L302.1 1097.5 L302.9 1097.5 L303.6 1097.5 L304.3 1097.5 L305 1097.5 L305.8 1097.5 L306.5 1097.5 L307.2 1097.6 L308 1097.6 L308.7 1097.6 L309.4 1097.6 L310.2 1097.6 L310.9 1097.7 L311.6 1097.7 L312.4 1097.7 L313.1 1097.8 L313.8 1097.8 L314.5 1097.8 L315.3 1097.9 L316 1097.9 L316.7 1098 L317.5 1098 L318.2 1098.1 L318.9 1098.2 L319.7 1098.2 L320.4 1098.3 L321.1 1098.3 L321.8 1098.4 L322.6 1098.5 L323.3 1098.5 L324 1098.6 L324.8 1098.7 L325.5 1098.7 L326.2 1098.8 L327 1098.9 L327.7 1098.9 L328.4 1099 L329.2 1099.1 L329.9 1099.1 L330.6 1099.2 L331.3 1099.3 L332.1 1099.3 L332.8 1099.4 L333.5 1099.4 L334.3 1099.5 L335 1099.6 L335.7 1099.6 L336.5 1099.6 L337.2 1099.7 L337.9 1099.7 L338.6 1099.8 L339.4 1099.8 L340.1 1099.8 L340.8 1099.9 L341.6 1099.9 L342.3 1099.9 L343 1099.9 L343.8 1099.9 L344.5 1099.9 L345.2 1099.9 L346 1099.9 L346.7 1099.9 L347.4 1099.9 L348.1 1099.9 L348.9 1099.9 L349.6 1099.9 L350.3 1099.9 L351.1 1099.9 L351.8 1099.9 L352.5 1099.9 L353.3 1099.9 L354 1099.9 L354.7 1099.9 L355.5 1099.9 L356.2 1099.9 L356.9 1099.9 L357.6 1099.9 L358.4 1099.9 L359.1 1099.9 L359.8 1099.9 L360.6 1099.9 L361.3 1099.9 L362 1099.9 L362.8 1099.9 L363.5 1099.9 L364.2 1099.9 L364.9 1099.9 L365.7 1099.9 L366.4 1099.9 L367.1 1099.9 L367.9 1099.9 L368.6 1099.9" fill="none" stroke="#f26464" stroke-width="2" stroke-linejoin="round"/>
</g>
<rect x="76.4" y="809.3" width="292.4" height="291.9" fill="none" stroke="#111" stroke-width="1.5"/>
<line x1="76.4" y1="1101.2" x2="76.4" y2="1104.8" stroke="#111" stroke-width="1.2"/>
<text x="76.4" y="1117.2" font-family="'Liberation Sans', sans-serif" font-size="10.6" font-weight="bold" text-anchor="middle" fill="#111" >0</text>
<line x1="100.8" y1="1101.2" x2="100.8" y2="1103.4" stroke="#111" stroke-width="1.2"/>
<line x1="125.1" y1="1101.2" x2="125.1" y2="1104.8" stroke="#111" stroke-width="1.2"/>
<text x="125.1" y="1117.2" font-family="'Liberation Sans', sans-serif" font-size="10.6" font-weight="bold" text-anchor="middle" fill="#111" >1</text>
<line x1="149.5" y1="1101.2" x2="149.5" y2="1103.4" stroke="#111" stroke-width="1.2"/>
<line x1="173.8" y1="1101.2" x2="173.8" y2="1104.8" stroke="#111" stroke-width="1.2"/>
<text x="173.8" y="1117.2" font-family="'Liberation Sans', sans-serif" font-size="10.6" font-weight="bold" text-anchor="middle" fill="#111" >2</text>
<line x1="198.2" y1="1101.2" x2="198.2" y2="1103.4" stroke="#111" stroke-width="1.2"/>
<line x1="222.5" y1="1101.2" x2="222.5" y2="1104.8" stroke="#111" stroke-width="1.2"/>
<text x="222.5" y="1117.2" font-family="'Liberation Sans', sans-serif" font-size="10.6" font-weight="bold" text-anchor="middle" fill="#111" >3</text>
<line x1="246.9" y1="1101.2" x2="246.9" y2="1103.4" stroke="#111" stroke-width="1.2"/>
<line x1="271.2" y1="1101.2" x2="271.2" y2="1104.8" stroke="#111" stroke-width="1.2"/>
<text x="271.2" y="1117.2" font-family="'Liberation Sans', sans-serif" font-size="10.6" font-weight="bold" text-anchor="middle" fill="#111" >4</text>
<line x1="295.6" y1="1101.2" x2="295.6" y2="1103.4" stroke="#111" stroke-width="1.2"/>
<line x1="319.9" y1="1101.2" x2="319.9" y2="1104.8" stroke="#111" stroke-width="1.2"/>
<text x="319.9" y="1117.2" font-family="'Liberation Sans', sans-serif" font-size="10.6" font-weight="bold" text-anchor="middle" fill="#111" >5</text>
<line x1="344.2" y1="1101.2" x2="344.2" y2="1103.4" stroke="#111" stroke-width="1.2"/>
<line x1="368.6" y1="1101.2" x2="368.6" y2="1104.8" stroke="#111" stroke-width="1.2"/>
<text x="368.6" y="1117.2" font-family="'Liberation Sans', sans-serif" font-size="10.6" font-weight="bold" text-anchor="middle" fill="#111" >6</text>
<line x1="72.8" y1="1101.2" x2="76.4" y2="1101.2" stroke="#111" stroke-width="1.2"/>
<text x="71.2" y="1104.9" font-family="'Liberation Sans', sans-serif" font-size="10.6" font-weight="bold" text-anchor="end" fill="#111" >0</text>
<line x1="74.2" y1="1068.8" x2="76.4" y2="1068.8" stroke="#111" stroke-width="1.2"/>
<line x1="72.8" y1="1036.4" x2="76.4" y2="1036.4" stroke="#111" stroke-width="1.2"/>
<text x="71.2" y="1040.1" font-family="'Liberation Sans', sans-serif" font-size="10.6" font-weight="bold" text-anchor="end" fill="#111" >1</text>
<line x1="74.2" y1="1004" x2="76.4" y2="1004" stroke="#111" stroke-width="1.2"/>
<line x1="72.8" y1="971.6" x2="76.4" y2="971.6" stroke="#111" stroke-width="1.2"/>
<text x="71.2" y="975.3" font-family="'Liberation Sans', sans-serif" font-size="10.6" font-weight="bold" text-anchor="end" fill="#111" >2</text>
<line x1="74.2" y1="939.2" x2="76.4" y2="939.2" stroke="#111" stroke-width="1.2"/>
<line x1="72.8" y1="906.8" x2="76.4" y2="906.8" stroke="#111" stroke-width="1.2"/>
<text x="71.2" y="910.5" font-family="'Liberation Sans', sans-serif" font-size="10.6" font-weight="bold" text-anchor="end" fill="#111" >3</text>
<line x1="74.2" y1="874.4" x2="76.4" y2="874.4" stroke="#111" stroke-width="1.2"/>
<line x1="72.8" y1="842" x2="76.4" y2="842" stroke="#111" stroke-width="1.2"/>
<text x="71.2" y="845.7" font-family="'Liberation Sans', sans-serif" font-size="10.6" font-weight="bold" text-anchor="end" fill="#111" >4</text>
<text x="224.9" y="1148.2" font-family="'Liberation Sans', sans-serif" font-size="21" font-weight="bold" text-anchor="middle" fill="#111" textLength="46.4" lengthAdjust="spacingAndGlyphs"><tspan font-style="italic">R</tspan> (Å)</text>
<text transform="translate(40.4 961.3) rotate(-90)" font-family="'Liberation Sans', sans-serif" font-size="17.9" font-weight="bold" text-anchor="middle" fill="#111" textLength="151.5" lengthAdjust="spacingAndGlyphs">|FTT(<tspan font-style="italic">k</tspan><tspan dy="-6" font-size="10">3</tspan><tspan dy="6">χ(k))| (Å</tspan><tspan dy="-6" font-size="12">-4</tspan><tspan dy="6">)</tspan></text>
<circle cx="235.1" cy="903.8" r="2.7" fill="#fff" stroke="#1a1a1a" stroke-width="0.8"/>
<text x="251.4" y="909" font-family="'Liberation Sans', sans-serif" font-size="13.6" font-weight="bold" fill="#111" textLength="98.5" lengthAdjust="spacingAndGlyphs">Co/Fe-SNC800</text>
<line x1="219.1" y1="921.5" x2="249" y2="921.5" stroke="#f26464" stroke-width="2"/>
<text x="251.4" y="925.2" font-family="'Liberation Sans', sans-serif" font-size="14" font-weight="bold" fill="#111" >fitting</text>
<text x="141.3" y="826.6" font-family="'Liberation Sans', sans-serif" font-size="14.2" font-weight="bold" fill="#111" >Fe-N</text>
<text x="299" y="1074.5" font-family="'Liberation Sans', sans-serif" font-size="14.2" font-weight="bold" fill="#111">Fe <tspan font-style="italic">k</tspan>-edge</text>
<text x="20.8" y="831.4" font-family="'Liberation Serif', serif" font-size="33.5" font-weight="bold" fill="#000" >G</text>
</g>
<g id="panelH">
<clipPath id="hClip"><rect x="517.2" y="809.3" width="294.5" height="294.3"/></clipPath>
<g clip-path="url(#hClip)">
<line x1="586.9" y1="845" x2="586.9" y2="1103.1" stroke="#222" stroke-width="0.9" stroke-dasharray="3 2.4"/>
<line x1="608.3" y1="887.4" x2="608.3" y2="1103.1" stroke="#222" stroke-width="0.9" stroke-dasharray="3 2.4"/>
<g fill="#fff" stroke="#1a1a1a" stroke-width="0.75">
<circle cx="517.2" cy="1085.5" r="2.05"/>
<circle cx="518.7" cy="1087.5" r="2.05"/>
<circle cx="520.2" cy="1088.8" r="2.05"/>
<circle cx="521.7" cy="1089.6" r="2.05"/>
<circle cx="523.2" cy="1089.9" r="2.05"/>
<circle cx="524.7" cy="1090" r="2.05"/>
<circle cx="526.2" cy="1089.4" r="2.05"/>
<circle cx="527.7" cy="1087.6" r="2.05"/>
<circle cx="529.2" cy="1085.7" r="2.05"/>
<circle cx="530.7" cy="1084.2" r="2.05"/>
<circle cx="532.2" cy="1082.9" r="2.05"/>
<circle cx="533.7" cy="1082.2" r="2.05"/>
<circle cx="535.2" cy="1083.2" r="2.05"/>
<circle cx="536.7" cy="1085.4" r="2.05"/>
<circle cx="538.2" cy="1087.3" r="2.05"/>
<circle cx="539.7" cy="1088.9" r="2.05"/>
<circle cx="541.2" cy="1090" r="2.05"/>
<circle cx="542.7" cy="1088.7" r="2.05"/>
<circle cx="544.2" cy="1084.4" r="2.05"/>
<circle cx="545.7" cy="1080.6" r="2.05"/>
<circle cx="547.2" cy="1077.6" r="2.05"/>
<circle cx="548.7" cy="1076.4" r="2.05"/>
<circle cx="550.2" cy="1078.7" r="2.05"/>
<circle cx="551.7" cy="1082.9" r="2.05"/>
<circle cx="553.2" cy="1091.1" r="2.05"/>
<circle cx="554.7" cy="1097.1" r="2.05"/>
<circle cx="556.2" cy="1084.4" r="2.05"/>
<circle cx="557.7" cy="1061.9" r="2.05"/>
<circle cx="559.2" cy="1039.7" r="2.05"/>
<circle cx="560.7" cy="1020.2" r="2.05"/>
<circle cx="562.2" cy="1007.3" r="2.05"/>
<circle cx="563.7" cy="997.2" r="2.05"/>
<circle cx="565.2" cy="989.6" r="2.05"/>
<circle cx="566.7" cy="983.9" r="2.05"/>
<circle cx="568.2" cy="979.2" r="2.05"/>
<circle cx="569.7" cy="976" r="2.05"/>
<circle cx="571.2" cy="974.5" r="2.05"/>
<circle cx="572.7" cy="973.5" r="2.05"/>
<circle cx="574.2" cy="972.6" r="2.05"/>
<circle cx="575.7" cy="966.1" r="2.05"/>
<circle cx="577.2" cy="948.2" r="2.05"/>
<circle cx="578.8" cy="929.2" r="2.05"/>
<circle cx="580.3" cy="911.6" r="2.05"/>
<circle cx="581.8" cy="888.2" r="2.05"/>
<circle cx="583.3" cy="874" r="2.05"/>
<circle cx="584.8" cy="860.2" r="2.05"/>
<circle cx="586.3" cy="851.1" r="2.05"/>
<circle cx="587.8" cy="851.9" r="2.05"/>
<circle cx="589.3" cy="859.5" r="2.05"/>
<circle cx="590.8" cy="869.4" r="2.05"/>
<circle cx="592.3" cy="882.8" r="2.05"/>
<circle cx="593.8" cy="903.8" r="2.05"/>
<circle cx="595.3" cy="927.6" r="2.05"/>
<circle cx="596.8" cy="944.9" r="2.05"/>
<circle cx="598.3" cy="949.9" r="2.05"/>
<circle cx="599.8" cy="943.6" r="2.05"/>
<circle cx="601.3" cy="931.7" r="2.05"/>
<circle cx="602.8" cy="921.5" r="2.05"/>
<circle cx="604.3" cy="906.8" r="2.05"/>
<circle cx="605.8" cy="897.8" r="2.05"/>
<circle cx="607.3" cy="891.6" r="2.05"/>
<circle cx="608.8" cy="892.3" r="2.05"/>
<circle cx="610.3" cy="897.5" r="2.05"/>
<circle cx="611.8" cy="908" r="2.05"/>
<circle cx="613.3" cy="927.4" r="2.05"/>
<circle cx="614.8" cy="949.4" r="2.05"/>
<circle cx="616.3" cy="973.9" r="2.05"/>
<circle cx="617.8" cy="998.7" r="2.05"/>
<circle cx="619.3" cy="1023" r="2.05"/>
<circle cx="620.8" cy="1044.8" r="2.05"/>
<circle cx="622.3" cy="1053.1" r="2.05"/>
<circle cx="623.8" cy="1056" r="2.05"/>
<circle cx="625.3" cy="1056.8" r="2.05"/>
<circle cx="626.8" cy="1057.3" r="2.05"/>
<circle cx="628.3" cy="1058.1" r="2.05"/>
<circle cx="629.8" cy="1061.5" r="2.05"/>
<circle cx="631.3" cy="1067.1" r="2.05"/>
<circle cx="632.8" cy="1072.3" r="2.05"/>
<circle cx="634.3" cy="1077.8" r="2.05"/>
<circle cx="635.8" cy="1083.3" r="2.05"/>
<circle cx="637.3" cy="1086.9" r="2.05"/>
<circle cx="638.8" cy="1087.2" r="2.05"/>
<circle cx="640.3" cy="1086.3" r="2.05"/>
<circle cx="641.8" cy="1085.1" r="2.05"/>
<circle cx="643.3" cy="1083.5" r="2.05"/>
<circle cx="644.8" cy="1081.6" r="2.05"/>
<circle cx="646.3" cy="1079.3" r="2.05"/>
<circle cx="647.8" cy="1076.7" r="2.05"/>
<circle cx="649.3" cy="1074.2" r="2.05"/>
<circle cx="650.8" cy="1072.3" r="2.05"/>
<circle cx="652.3" cy="1070.4" r="2.05"/>
<circle cx="653.8" cy="1069" r="2.05"/>
<circle cx="655.3" cy="1068.5" r="2.05"/>
<circle cx="656.8" cy="1070.7" r="2.05"/>
<circle cx="658.3" cy="1074.9" r="2.05"/>
<circle cx="659.8" cy="1079.8" r="2.05"/>
<circle cx="661.3" cy="1086.7" r="2.05"/>
<circle cx="662.8" cy="1092.8" r="2.05"/>
<circle cx="664.3" cy="1098.7" r="2.05"/>
<circle cx="665.8" cy="1100" r="2.05"/>
<circle cx="667.3" cy="1094.3" r="2.05"/>
<circle cx="668.8" cy="1088" r="2.05"/>
<circle cx="670.3" cy="1081.8" r="2.05"/>
<circle cx="671.8" cy="1076.6" r="2.05"/>
<circle cx="673.3" cy="1073.3" r="2.05"/>
<circle cx="674.8" cy="1070.8" r="2.05"/>
<circle cx="676.3" cy="1070.8" r="2.05"/>
<circle cx="677.8" cy="1073.1" r="2.05"/>
<circle cx="679.3" cy="1076.5" r="2.05"/>
<circle cx="680.8" cy="1080.6" r="2.05"/>
<circle cx="682.3" cy="1085.7" r="2.05"/>
<circle cx="683.8" cy="1089.5" r="2.05"/>
<circle cx="685.3" cy="1092.5" r="2.05"/>
<circle cx="686.8" cy="1093.9" r="2.05"/>
<circle cx="688.3" cy="1093.3" r="2.05"/>
<circle cx="689.8" cy="1091.7" r="2.05"/>
<circle cx="691.3" cy="1090" r="2.05"/>
<circle cx="692.8" cy="1088.1" r="2.05"/>
<circle cx="694.3" cy="1085.9" r="2.05"/>
<circle cx="695.8" cy="1084.4" r="2.05"/>
<circle cx="697.3" cy="1084.3" r="2.05"/>
<circle cx="698.8" cy="1085.3" r="2.05"/>
<circle cx="700.4" cy="1086.9" r="2.05"/>
<circle cx="701.9" cy="1088.5" r="2.05"/>
<circle cx="703.4" cy="1090.3" r="2.05"/>
<circle cx="704.9" cy="1092.4" r="2.05"/>
<circle cx="706.4" cy="1093.8" r="2.05"/>
<circle cx="707.9" cy="1093.6" r="2.05"/>
<circle cx="709.4" cy="1091.9" r="2.05"/>
<circle cx="710.9" cy="1089.8" r="2.05"/>
<circle cx="712.4" cy="1088.2" r="2.05"/>
<circle cx="713.9" cy="1086.5" r="2.05"/>
<circle cx="715.4" cy="1085" r="2.05"/>
<circle cx="716.9" cy="1084.2" r="2.05"/>
<circle cx="718.4" cy="1084.2" r="2.05"/>
<circle cx="719.9" cy="1084.3" r="2.05"/>
<circle cx="721.4" cy="1084.5" r="2.05"/>
<circle cx="722.9" cy="1084.7" r="2.05"/>
<circle cx="724.4" cy="1084.8" r="2.05"/>
<circle cx="725.9" cy="1084.8" r="2.05"/>
<circle cx="727.4" cy="1084.5" r="2.05"/>
<circle cx="728.9" cy="1084.2" r="2.05"/>
<circle cx="730.4" cy="1083.8" r="2.05"/>
<circle cx="731.9" cy="1083.6" r="2.05"/>
<circle cx="733.4" cy="1083.6" r="2.05"/>
<circle cx="734.9" cy="1084.6" r="2.05"/>
<circle cx="736.4" cy="1086.3" r="2.05"/>
<circle cx="737.9" cy="1088.3" r="2.05"/>
<circle cx="739.4" cy="1090.6" r="2.05"/>
<circle cx="740.9" cy="1093.8" r="2.05"/>
<circle cx="742.4" cy="1096.2" r="2.05"/>
<circle cx="743.9" cy="1096.5" r="2.05"/>
<circle cx="745.4" cy="1096.3" r="2.05"/>
<circle cx="746.9" cy="1095.9" r="2.05"/>
<circle cx="748.4" cy="1095.4" r="2.05"/>
<circle cx="749.9" cy="1094.9" r="2.05"/>
<circle cx="751.4" cy="1094.2" r="2.05"/>
<circle cx="752.9" cy="1093.3" r="2.05"/>
<circle cx="754.4" cy="1092.4" r="2.05"/>
<circle cx="755.9" cy="1091.8" r="2.05"/>
<circle cx="757.4" cy="1091.2" r="2.05"/>
<circle cx="758.9" cy="1090.6" r="2.05"/>
<circle cx="760.4" cy="1090.1" r="2.05"/>
<circle cx="761.9" cy="1089.7" r="2.05"/>
<circle cx="763.4" cy="1089.3" r="2.05"/>
<circle cx="764.9" cy="1089" r="2.05"/>
<circle cx="766.4" cy="1088.6" r="2.05"/>
<circle cx="767.9" cy="1088.4" r="2.05"/>
<circle cx="769.4" cy="1088.2" r="2.05"/>
<circle cx="770.9" cy="1088.1" r="2.05"/>
<circle cx="772.4" cy="1088.4" r="2.05"/>
<circle cx="773.9" cy="1089.2" r="2.05"/>
<circle cx="775.4" cy="1090.2" r="2.05"/>
<circle cx="776.9" cy="1091.1" r="2.05"/>
<circle cx="778.4" cy="1091.9" r="2.05"/>
<circle cx="779.9" cy="1092.8" r="2.05"/>
<circle cx="781.4" cy="1093.5" r="2.05"/>
<circle cx="782.9" cy="1093.9" r="2.05"/>
<circle cx="784.4" cy="1093.9" r="2.05"/>
<circle cx="785.9" cy="1093.6" r="2.05"/>
<circle cx="787.4" cy="1093.2" r="2.05"/>
<circle cx="788.9" cy="1092.9" r="2.05"/>
<circle cx="790.4" cy="1092.7" r="2.05"/>
<circle cx="791.9" cy="1092.7" r="2.05"/>
<circle cx="793.4" cy="1093.1" r="2.05"/>
<circle cx="794.9" cy="1093.7" r="2.05"/>
<circle cx="796.4" cy="1094.4" r="2.05"/>
<circle cx="797.9" cy="1095.1" r="2.05"/>
<circle cx="799.4" cy="1096.1" r="2.05"/>
<circle cx="800.9" cy="1096.9" r="2.05"/>
<circle cx="802.4" cy="1097.2" r="2.05"/>
<circle cx="803.9" cy="1097.1" r="2.05"/>
<circle cx="805.4" cy="1096.9" r="2.05"/>
<circle cx="806.9" cy="1096.5" r="2.05"/>
<circle cx="808.4" cy="1095.7" r="2.05"/>
<circle cx="809.9" cy="1094.5" r="2.05"/>
</g>
<path d="M517.2 1086.8 L517.9 1087.2 L518.7 1087.7 L519.4 1088.2 L520.1 1088.6 L520.9 1089.2 L521.6 1089.7 L522.3 1090.2 L523.1 1090.9 L523.8 1091.7 L524.5 1092.4 L525.3 1093.1 L526 1093.7 L526.7 1093.9 L527.5 1093.8 L528.2 1093.1 L528.9 1092.1 L529.7 1091 L530.4 1090 L531.1 1089.2 L531.9 1088.2 L532.6 1087.4 L533.3 1086.9 L534.1 1086.8 L534.8 1087.2 L535.5 1087.8 L536.3 1088.6 L537 1089.4 L537.7 1090 L538.5 1090.5 L539.2 1091 L539.9 1091.5 L540.7 1091.8 L541.4 1092 L542.1 1091.7 L542.9 1090.4 L543.6 1088.5 L544.3 1086.3 L545.1 1084.4 L545.8 1083.1 L546.5 1081.9 L547.3 1080.8 L548 1079.8 L548.7 1079.2 L549.5 1078.9 L550.2 1079.7 L550.9 1081.6 L551.7 1084.1 L552.4 1086.8 L553.1 1090.4 L553.9 1094.6 L554.6 1096.6 L555.3 1093.2 L556.1 1086 L556.8 1077.2 L557.5 1065.1 L558.3 1053.8 L559 1043 L559.7 1032.5 L560.5 1023.1 L561.2 1015.5 L561.9 1009.5 L562.7 1004.1 L563.4 999.2 L564.1 994.9 L564.9 991.2 L565.6 988.1 L566.3 985.3 L567.1 982.6 L567.8 980.2 L568.5 978.2 L569.3 976.6 L570 975.7 L570.7 975.2 L571.5 974.9 L572.2 974.5 L572.9 974 L573.7 973.4 L574.4 972.4 L575.1 969.8 L575.9 965.2 L576.6 957.4 L577.3 946.7 L578.1 936.5 L578.8 928.6 L579.5 920.9 L580.3 911.1 L581 897.6 L581.7 888.2 L582.5 881 L583.2 874.4 L583.9 867.4 L584.7 860.8 L585.4 855.9 L586.1 851.6 L586.9 849.5 L587.6 851.7 L588.3 856.1 L589.1 859.8 L589.8 863.5 L590.6 867.8 L591.3 873.4 L592 880.2 L592.8 888.5 L593.5 899.3 L594.2 910.9 L595 923 L595.7 933.7 L596.4 942.3 L597.2 948.2 L597.9 951.4 L598.6 950.4 L599.4 947.6 L600.1 941.2 L600.8 934.6 L601.6 929.8 L602.3 925.1 L603 919.2 L603.8 911.5 L604.5 905.3 L605.2 900.9 L606 897.1 L606.7 893.4 L607.4 890 L608.2 889.8 L608.9 892.1 L609.6 894.9 L610.4 897.9 L611.1 902.1 L611.8 908.4 L612.6 916.6 L613.3 927.6 L614 938.3 L614.8 949.1 L615.5 960.7 L616.2 972.9 L617 984.8 L617.7 996.7 L618.4 1012.2 L619.2 1026.9 L619.9 1039.2 L620.6 1049.2 L621.4 1054.1 L622.1 1055.4 L622.8 1056.2 L623.6 1056.8 L624.3 1057.4 L625 1057.8 L625.8 1058.2 L626.5 1058.5 L627.2 1058.9 L628 1059.6 L628.7 1061.1 L629.4 1063.4 L630.2 1066.1 L630.9 1069.1 L631.6 1071.9 L632.4 1074.3 L633.1 1076.3 L633.8 1078.5 L634.6 1080.6 L635.3 1082.6 L636 1084.4 L636.8 1085.8 L637.5 1086.6 L638.2 1086.8 L639 1086.7 L639.7 1086.5 L640.4 1086.4 L641.2 1086.1 L641.9 1085.9 L642.6 1085.7 L643.4 1085.5 L644.1 1085.2 L644.8 1085 L645.6 1084.7 L646.3 1084.5 L647 1084.3 L647.8 1084.2 L648.5 1084.2 L649.2 1084.3 L650 1084.5 L650.7 1084.8 L651.4 1085.2 L652.2 1085.6 L652.9 1086 L653.6 1086.4 L654.4 1086.7 L655.1 1087.1 L655.8 1087.6 L656.6 1088.2 L657.3 1089.1 L658 1090.9 L658.8 1093.2 L659.5 1095.3 L660.2 1097.2 L661 1098.8 L661.7 1099.1 L662.4 1098 L663.2 1096.1 L663.9 1093.9 L664.6 1091.9 L665.4 1090.3 L666.1 1088.5 L666.8 1086.7 L667.6 1085.3 L668.3 1084.3 L669 1084.2 L669.8 1084.7 L670.5 1085.6 L671.2 1086.8 L672 1088.1 L672.7 1089.3 L673.4 1090.4 L674.2 1091.4 L674.9 1092.6 L675.6 1093.7 L676.4 1094.6 L677.1 1095.1 L677.8 1095.2 L678.6 1095.1 L679.3 1094.7 L680 1094.3 L680.8 1093.9 L681.5 1093.5 L682.2 1093.2 L683 1092.9 L683.7 1092.6 L684.4 1092.4 L685.2 1092.1 L685.9 1092 L686.6 1092 L687.4 1092.4 L688.1 1093 L688.8 1093.8 L689.6 1094.7 L690.3 1095.5 L691 1096.1 L691.8 1096.7 L692.5 1097.4 L693.2 1098 L694 1098.4 L694.7 1098.5 L695.4 1098.5 L696.2 1098.4 L696.9 1098.2 L697.6 1098 L698.4 1097.8 L699.1 1097.5 L699.8 1097.3 L700.6 1097.1 L701.3 1096.9 L702 1096.7 L702.8 1096.6 L703.5 1096.6 L704.2 1096.6 L705 1096.6 L705.7 1096.7 L706.4 1096.8 L707.2 1096.9 L707.9 1097 L708.6 1097.1 L709.4 1097.2 L710.1 1097.4 L710.8 1097.6 L711.6 1097.7 L712.3 1097.9 L713 1098 L713.8 1098.2 L714.5 1098.4 L715.2 1098.6 L716 1098.9 L716.7 1099.2 L717.4 1099.5 L718.2 1099.8 L718.9 1100.2 L719.6 1100.5 L720.4 1100.8 L721.1 1101.1 L721.8 1101.3 L722.6 1101.5 L723.3 1101.7 L724 1101.8 L724.8 1101.8 L725.5 1101.8 L726.2 1101.8 L727 1101.7 L727.7 1101.7 L728.4 1101.6 L729.2 1101.5 L729.9 1101.5 L730.6 1101.4 L731.4 1101.3 L732.1 1101.2 L732.8 1101.1 L733.6 1101 L734.3 1100.9 L735 1100.8 L735.8 1100.7 L736.5 1100.6 L737.2 1100.5 L738 1100.4 L738.7 1100.3 L739.5 1100.2 L740.2 1100.1 L740.9 1100 L741.7 1100 L742.4 1099.9 L743.1 1099.9 L743.9 1099.9 L744.6 1099.8 L745.3 1099.8 L746.1 1099.8 L746.8 1099.8 L747.5 1099.9 L748.3 1099.9 L749 1099.9 L749.7 1099.9 L750.5 1100 L751.2 1100 L751.9 1100.1 L752.7 1100.1 L753.4 1100.2 L754.1 1100.2 L754.9 1100.3 L755.6 1100.3 L756.3 1100.4 L757.1 1100.5 L757.8 1100.5 L758.5 1100.6 L759.3 1100.7 L760 1100.7 L760.7 1100.8 L761.5 1100.9 L762.2 1101 L762.9 1101 L763.7 1101.1 L764.4 1101.2 L765.1 1101.2 L765.9 1101.3 L766.6 1101.3 L767.3 1101.4 L768.1 1101.5 L768.8 1101.5 L769.5 1101.6 L770.3 1101.6 L771 1101.6 L771.7 1101.7 L772.5 1101.7 L773.2 1101.7 L773.9 1101.8 L774.7 1101.8 L775.4 1101.8 L776.1 1101.8 L776.9 1101.8 L777.6 1101.8 L778.3 1101.8 L779.1 1101.8 L779.8 1101.8 L780.5 1101.8 L781.3 1101.8 L782 1101.8 L782.7 1101.8 L783.5 1101.8 L784.2 1101.8 L784.9 1101.8 L785.7 1101.8 L786.4 1101.8 L787.1 1101.8 L787.9 1101.8 L788.6 1101.8 L789.3 1101.8 L790.1 1101.8 L790.8 1101.8 L791.5 1101.8 L792.3 1101.8 L793 1101.8 L793.7 1101.8 L794.5 1101.8 L795.2 1101.8 L795.9 1101.8 L796.7 1101.8 L797.4 1101.8 L798.1 1101.8 L798.9 1101.8 L799.6 1101.8 L800.3 1101.8 L801.1 1101.8 L801.8 1101.8 L802.5 1101.8 L803.3 1101.8 L804 1101.8 L804.7 1101.8 L805.5 1101.8 L806.2 1101.8 L806.9 1101.8 L807.7 1101.8 L808.4 1101.8 L809.1 1101.8 L809.9 1101.8 L810.6 1101.8" fill="none" stroke="#f26464" stroke-width="2" stroke-linejoin="round"/>
</g>
<rect x="517.2" y="809.3" width="293.5" height="293.8" fill="none" stroke="#111" stroke-width="1.5"/>
<line x1="517.2" y1="1103.1" x2="517.2" y2="1106.7" stroke="#111" stroke-width="1.2"/>
<text x="517.2" y="1121.5" font-family="'Liberation Sans', sans-serif" font-size="10.6" font-weight="bold" text-anchor="middle" fill="#111" >0</text>
<line x1="541.7" y1="1103.1" x2="541.7" y2="1105.3" stroke="#111" stroke-width="1.2"/>
<line x1="566.1" y1="1103.1" x2="566.1" y2="1106.7" stroke="#111" stroke-width="1.2"/>
<text x="566.1" y="1121.5" font-family="'Liberation Sans', sans-serif" font-size="10.6" font-weight="bold" text-anchor="middle" fill="#111" >1</text>
<line x1="590.6" y1="1103.1" x2="590.6" y2="1105.3" stroke="#111" stroke-width="1.2"/>
<line x1="615" y1="1103.1" x2="615" y2="1106.7" stroke="#111" stroke-width="1.2"/>
<text x="615" y="1121.5" font-family="'Liberation Sans', sans-serif" font-size="10.6" font-weight="bold" text-anchor="middle" fill="#111" >2</text>
<line x1="639.5" y1="1103.1" x2="639.5" y2="1105.3" stroke="#111" stroke-width="1.2"/>
<line x1="663.9" y1="1103.1" x2="663.9" y2="1106.7" stroke="#111" stroke-width="1.2"/>
<text x="663.9" y="1121.5" font-family="'Liberation Sans', sans-serif" font-size="10.6" font-weight="bold" text-anchor="middle" fill="#111" >3</text>
<line x1="688.4" y1="1103.1" x2="688.4" y2="1105.3" stroke="#111" stroke-width="1.2"/>
<line x1="712.8" y1="1103.1" x2="712.8" y2="1106.7" stroke="#111" stroke-width="1.2"/>
<text x="712.8" y="1121.5" font-family="'Liberation Sans', sans-serif" font-size="10.6" font-weight="bold" text-anchor="middle" fill="#111" >4</text>
<line x1="737.2" y1="1103.1" x2="737.2" y2="1105.3" stroke="#111" stroke-width="1.2"/>
<line x1="761.7" y1="1103.1" x2="761.7" y2="1106.7" stroke="#111" stroke-width="1.2"/>
<text x="761.7" y="1121.5" font-family="'Liberation Sans', sans-serif" font-size="10.6" font-weight="bold" text-anchor="middle" fill="#111" >5</text>
<line x1="786.2" y1="1103.1" x2="786.2" y2="1105.3" stroke="#111" stroke-width="1.2"/>
<line x1="810.6" y1="1103.1" x2="810.6" y2="1106.7" stroke="#111" stroke-width="1.2"/>
<text x="810.6" y="1121.5" font-family="'Liberation Sans', sans-serif" font-size="10.6" font-weight="bold" text-anchor="middle" fill="#111" >6</text>
<line x1="513.6" y1="1103.1" x2="517.2" y2="1103.1" stroke="#111" stroke-width="1.2"/>
<text x="512" y="1106.8" font-family="'Liberation Sans', sans-serif" font-size="10.6" font-weight="bold" text-anchor="end" fill="#111" >0</text>
<line x1="515" y1="1070.4" x2="517.2" y2="1070.4" stroke="#111" stroke-width="1.2"/>
<line x1="513.6" y1="1037.8" x2="517.2" y2="1037.8" stroke="#111" stroke-width="1.2"/>
<text x="512" y="1041.5" font-family="'Liberation Sans', sans-serif" font-size="10.6" font-weight="bold" text-anchor="end" fill="#111" >1</text>
<line x1="515" y1="1005.1" x2="517.2" y2="1005.1" stroke="#111" stroke-width="1.2"/>
<line x1="513.6" y1="972.4" x2="517.2" y2="972.4" stroke="#111" stroke-width="1.2"/>
<text x="512" y="976.1" font-family="'Liberation Sans', sans-serif" font-size="10.6" font-weight="bold" text-anchor="end" fill="#111" >2</text>
<line x1="515" y1="939.7" x2="517.2" y2="939.7" stroke="#111" stroke-width="1.2"/>
<line x1="513.6" y1="907" x2="517.2" y2="907" stroke="#111" stroke-width="1.2"/>
<text x="512" y="910.8" font-family="'Liberation Sans', sans-serif" font-size="10.6" font-weight="bold" text-anchor="end" fill="#111" >3</text>
<line x1="515" y1="874.4" x2="517.2" y2="874.4" stroke="#111" stroke-width="1.2"/>
<line x1="513.6" y1="841.7" x2="517.2" y2="841.7" stroke="#111" stroke-width="1.2"/>
<text x="512" y="845.4" font-family="'Liberation Sans', sans-serif" font-size="10.6" font-weight="bold" text-anchor="end" fill="#111" >4</text>
<text x="665.5" y="1148.2" font-family="'Liberation Sans', sans-serif" font-size="21" font-weight="bold" text-anchor="middle" fill="#111" textLength="46.4" lengthAdjust="spacingAndGlyphs"><tspan font-style="italic">R</tspan> (Å)</text>
<text transform="translate(479.6 960.5) rotate(-90)" font-family="'Liberation Sans', sans-serif" font-size="17.9" font-weight="bold" text-anchor="middle" fill="#111" textLength="151.5" lengthAdjust="spacingAndGlyphs">|FTT(<tspan font-style="italic">k</tspan><tspan dy="-6" font-size="10">3</tspan><tspan dy="6">χ(k))| (Å</tspan><tspan dy="-6" font-size="12">-4</tspan><tspan dy="6">)</tspan></text>
<circle cx="666.8" cy="935" r="2.7" fill="#fff" stroke="#1a1a1a" stroke-width="0.8"/>
<text x="684.9" y="938.8" font-family="'Liberation Sans', sans-serif" font-size="13.6" font-weight="bold" fill="#111" textLength="98.5" lengthAdjust="spacingAndGlyphs">Co/Fe-SNC800</text>
<line x1="651.9" y1="952.3" x2="680.3" y2="952.3" stroke="#f26464" stroke-width="2"/>
<text x="684.9" y="956.1" font-family="'Liberation Sans', sans-serif" font-size="14" font-weight="bold" fill="#111" >fitting</text>
<text x="567.4" y="839" font-family="'Liberation Sans', sans-serif" font-size="14.2" font-weight="bold" fill="#111" >Co-N</text>
<text x="600.8" y="883.1" font-family="'Liberation Sans', sans-serif" font-size="14.2" font-weight="bold" fill="#111" >Co-S</text>
<text x="735.8" y="1068.5" font-family="'Liberation Sans', sans-serif" font-size="14.2" font-weight="bold" fill="#111">Co <tspan font-style="italic">k</tspan>-edge</text>
<text x="457" y="831" font-family="'Liberation Serif', serif" font-size="33.5" font-weight="bold" fill="#000" >H</text>
</g>
<g id="panelI">
<defs>
<linearGradient id="iBg" x1="0" y1="0" x2="0" y2="1"><stop offset="0" stop-color="#ab62d8"/><stop offset="0.25" stop-color="#9162d8"/><stop offset="0.5" stop-color="#7064d6"/><stop offset="0.75" stop-color="#6084d2"/><stop offset="1" stop-color="#58aad8"/></linearGradient>
<radialGradient id="iC" cx="42%" cy="38%" r="62%"><stop offset="0" stop-color="#f4f4f4"/><stop offset="0.1" stop-color="#b8b8b6"/><stop offset="0.3" stop-color="#8a8b88"/><stop offset="0.75" stop-color="#787976"/><stop offset="1" stop-color="#6c6d6a"/></radialGradient>
<radialGradient id="iN" cx="42%" cy="38%" r="62%"><stop offset="0" stop-color="#fffbe8"/><stop offset="0.25" stop-color="#f2dea0"/><stop offset="0.75" stop-color="#e2ca86"/><stop offset="1" stop-color="#c8b070"/></radialGradient>
<radialGradient id="iFe" cx="42%" cy="38%" r="62%"><stop offset="0" stop-color="#fff0fb"/><stop offset="0.25" stop-color="#f2a2e0"/><stop offset="0.75" stop-color="#e284ce"/><stop offset="1" stop-color="#c86ab4"/></radialGradient>
<radialGradient id="iCo" cx="42%" cy="38%" r="62%"><stop offset="0" stop-color="#e8faff"/><stop offset="0.25" stop-color="#4cc6f0"/><stop offset="0.75" stop-color="#1eaee4"/><stop offset="1" stop-color="#1690c4"/></radialGradient>
<radialGradient id="iS" cx="42%" cy="38%" r="62%"><stop offset="0" stop-color="#fff0ee"/><stop offset="0.25" stop-color="#f6a6a0"/><stop offset="0.75" stop-color="#ea8a86"/><stop offset="1" stop-color="#cc706c"/></radialGradient>
</defs>
<rect x="905.7" y="804.8" width="357" height="294.2" fill="url(#iBg)"/>
<line x1="988.7" y1="827.9" x2="1023.3" y2="824.6" stroke="#7b7c79" stroke-width="5.6"/>
<line x1="1023.3" y1="824.6" x2="1044.8" y2="851" stroke="#7b7c79" stroke-width="5.6"/>
<line x1="1044.8" y1="851" x2="1077.8" y2="857.6" stroke="#7b7c79" stroke-width="5.6"/>
<line x1="1077.8" y1="857.6" x2="1104.2" y2="834.5" stroke="#7b7c79" stroke-width="5.6"/>
<line x1="1104.2" y1="834.5" x2="1137.2" y2="842.7" stroke="#7b7c79" stroke-width="5.6"/>
<line x1="1137.2" y1="842.7" x2="1162" y2="822.9" stroke="#7b7c79" stroke-width="5.6"/>
<line x1="1162" y1="822.9" x2="1196.6" y2="832.8" stroke="#7b7c79" stroke-width="5.6"/>
<line x1="1196.6" y1="832.8" x2="1203.3" y2="865.8" stroke="#7b7c79" stroke-width="5.6"/>
<line x1="1203.3" y1="865.8" x2="1236.3" y2="877.4" stroke="#7b7c79" stroke-width="5.6"/>
<line x1="1236.3" y1="877.4" x2="1244.5" y2="910.4" stroke="#7b7c79" stroke-width="5.6"/>
<line x1="1244.5" y1="910.4" x2="1216.5" y2="933.5" stroke="#7b7c79" stroke-width="5.6"/>
<line x1="1216.5" y1="933.5" x2="1185.1" y2="923.6" stroke="#7b7c79" stroke-width="5.6"/>
<line x1="1185.1" y1="923.6" x2="1178.5" y2="888.9" stroke="#7b7c79" stroke-width="5.6"/>
<line x1="1178.5" y1="888.9" x2="1203.3" y2="865.8" stroke="#7b7c79" stroke-width="5.6"/>
<line x1="1178.5" y1="888.9" x2="1143.8" y2="877.4" stroke="#7b7c79" stroke-width="5.6"/>
<line x1="1143.8" y1="877.4" x2="1137.2" y2="842.7" stroke="#7b7c79" stroke-width="5.6"/>
<line x1="1143.8" y1="877.4" x2="1131.4" y2="889.8" stroke="#7b7c79" stroke-width="5.6"/>
<line x1="1131.4" y1="889.8" x2="1119.1" y2="902.2" stroke="#e6cf8c" stroke-width="5.6"/>
<line x1="1077.8" y1="857.6" x2="1086.1" y2="892.2" stroke="#7b7c79" stroke-width="5.6"/>
<line x1="1086.1" y1="892.2" x2="1102.6" y2="897.2" stroke="#7b7c79" stroke-width="5.6"/>
<line x1="1102.6" y1="897.2" x2="1119.1" y2="902.2" stroke="#e6cf8c" stroke-width="5.6"/>
<line x1="1086.1" y1="892.2" x2="1070.4" y2="898.9" stroke="#7b7c79" stroke-width="5.6"/>
<line x1="1070.4" y1="898.9" x2="1054.7" y2="905.5" stroke="#e6cf8c" stroke-width="5.6"/>
<line x1="1044.8" y1="851" x2="1029.9" y2="885.6" stroke="#7b7c79" stroke-width="5.6"/>
<line x1="1029.9" y1="885.6" x2="995.3" y2="887.3" stroke="#7b7c79" stroke-width="5.6"/>
<line x1="995.3" y1="887.3" x2="973.8" y2="859.2" stroke="#7b7c79" stroke-width="5.6"/>
<line x1="973.8" y1="859.2" x2="988.7" y2="827.9" stroke="#7b7c79" stroke-width="5.6"/>
<line x1="973.8" y1="859.2" x2="939.1" y2="860.9" stroke="#7b7c79" stroke-width="5.6"/>
<line x1="939.1" y1="860.9" x2="925.9" y2="893.9" stroke="#7b7c79" stroke-width="5.6"/>
<line x1="925.9" y1="893.9" x2="945.7" y2="922" stroke="#7b7c79" stroke-width="5.6"/>
<line x1="945.7" y1="922" x2="980.4" y2="920.3" stroke="#7b7c79" stroke-width="5.6"/>
<line x1="980.4" y1="920.3" x2="995.3" y2="887.3" stroke="#7b7c79" stroke-width="5.6"/>
<line x1="1029.9" y1="885.6" x2="1042.3" y2="895.5" stroke="#7b7c79" stroke-width="5.6"/>
<line x1="1042.3" y1="895.5" x2="1054.7" y2="905.5" stroke="#e6cf8c" stroke-width="5.6"/>
<line x1="980.4" y1="920.3" x2="990.3" y2="934.3" stroke="#7b7c79" stroke-width="5.6"/>
<line x1="990.3" y1="934.3" x2="1000.2" y2="948.4" stroke="#e6cf8c" stroke-width="5.6"/>
<line x1="1000.2" y1="948.4" x2="1015.1" y2="947.5" stroke="#e6cf8c" stroke-width="5.6"/>
<line x1="1015.1" y1="947.5" x2="1029.9" y2="946.7" stroke="#e58bd2" stroke-width="5.6"/>
<line x1="1054.7" y1="905.5" x2="1042.3" y2="926.1" stroke="#e6cf8c" stroke-width="5.6"/>
<line x1="1042.3" y1="926.1" x2="1029.9" y2="946.7" stroke="#e58bd2" stroke-width="5.6"/>
<line x1="1029.9" y1="946.7" x2="1044.8" y2="967.4" stroke="#e58bd2" stroke-width="5.6"/>
<line x1="1044.8" y1="967.4" x2="1059.6" y2="988" stroke="#e6cf8c" stroke-width="5.6"/>
<line x1="1000.2" y1="948.4" x2="993.6" y2="963.2" stroke="#e6cf8c" stroke-width="5.6"/>
<line x1="993.6" y1="963.2" x2="987" y2="978.1" stroke="#7b7c79" stroke-width="5.6"/>
<line x1="945.7" y1="922" x2="952.3" y2="974.8" stroke="#7b7c79" stroke-width="5.6"/>
<line x1="952.3" y1="974.8" x2="987" y2="978.1" stroke="#7b7c79" stroke-width="5.6"/>
<line x1="952.3" y1="974.8" x2="932.5" y2="1006.1" stroke="#7b7c79" stroke-width="5.6"/>
<line x1="932.5" y1="1006.1" x2="944.1" y2="1037.5" stroke="#7b7c79" stroke-width="5.6"/>
<line x1="944.1" y1="1037.5" x2="977.1" y2="1040.8" stroke="#7b7c79" stroke-width="5.6"/>
<line x1="977.1" y1="1040.8" x2="996.9" y2="1012.8" stroke="#7b7c79" stroke-width="5.6"/>
<line x1="996.9" y1="1012.8" x2="987" y2="978.1" stroke="#7b7c79" stroke-width="5.6"/>
<line x1="996.9" y1="1012.8" x2="1031.6" y2="1007.8" stroke="#7b7c79" stroke-width="5.6"/>
<line x1="1031.6" y1="1007.8" x2="1045.6" y2="997.9" stroke="#7b7c79" stroke-width="5.6"/>
<line x1="1045.6" y1="997.9" x2="1059.6" y2="988" stroke="#e6cf8c" stroke-width="5.6"/>
<line x1="1031.6" y1="1007.8" x2="1044.8" y2="1042.5" stroke="#7b7c79" stroke-width="5.6"/>
<line x1="1044.8" y1="1042.5" x2="1077.8" y2="1042.5" stroke="#7b7c79" stroke-width="5.6"/>
<line x1="1077.8" y1="1042.5" x2="1084.4" y2="1011.1" stroke="#7b7c79" stroke-width="5.6"/>
<line x1="1084.4" y1="1011.1" x2="1072" y2="999.5" stroke="#7b7c79" stroke-width="5.6"/>
<line x1="1072" y1="999.5" x2="1059.6" y2="988" stroke="#e6cf8c" stroke-width="5.6"/>
<line x1="1084.4" y1="1011.1" x2="1100.9" y2="1005.3" stroke="#7b7c79" stroke-width="5.6"/>
<line x1="1100.9" y1="1005.3" x2="1117.4" y2="999.5" stroke="#e6cf8c" stroke-width="5.6"/>
<line x1="1117.4" y1="999.5" x2="1125.7" y2="975.6" stroke="#e6cf8c" stroke-width="5.6"/>
<line x1="1125.7" y1="975.6" x2="1133.9" y2="951.7" stroke="#22b2e6" stroke-width="5.6"/>
<line x1="1119.1" y1="902.2" x2="1126.5" y2="926.9" stroke="#e6cf8c" stroke-width="5.6"/>
<line x1="1126.5" y1="926.9" x2="1133.9" y2="951.7" stroke="#22b2e6" stroke-width="5.6"/>
<line x1="1133.9" y1="951.7" x2="1149.6" y2="950.8" stroke="#22b2e6" stroke-width="5.6"/>
<line x1="1149.6" y1="950.8" x2="1165.3" y2="950" stroke="#ee8f8a" stroke-width="5.6"/>
<line x1="1165.3" y1="950" x2="1175.2" y2="936.8" stroke="#ee8f8a" stroke-width="5.6"/>
<line x1="1175.2" y1="936.8" x2="1185.1" y2="923.6" stroke="#7b7c79" stroke-width="5.6"/>
<line x1="1165.3" y1="950" x2="1175.2" y2="964.1" stroke="#ee8f8a" stroke-width="5.6"/>
<line x1="1175.2" y1="964.1" x2="1185.1" y2="978.1" stroke="#7b7c79" stroke-width="5.6"/>
<line x1="1185.1" y1="978.1" x2="1216.5" y2="969.8" stroke="#7b7c79" stroke-width="5.6"/>
<line x1="1216.5" y1="969.8" x2="1216.5" y2="933.5" stroke="#7b7c79" stroke-width="5.6"/>
<line x1="1216.5" y1="969.8" x2="1242.9" y2="992.9" stroke="#7b7c79" stroke-width="5.6"/>
<line x1="1242.9" y1="992.9" x2="1236.3" y2="1026" stroke="#7b7c79" stroke-width="5.6"/>
<line x1="1236.3" y1="1026" x2="1201.6" y2="1035.9" stroke="#7b7c79" stroke-width="5.6"/>
<line x1="1201.6" y1="1035.9" x2="1176.8" y2="1012.8" stroke="#7b7c79" stroke-width="5.6"/>
<line x1="1176.8" y1="1012.8" x2="1185.1" y2="978.1" stroke="#7b7c79" stroke-width="5.6"/>
<line x1="1176.8" y1="1012.8" x2="1142.2" y2="1024.3" stroke="#7b7c79" stroke-width="5.6"/>
<line x1="1142.2" y1="1024.3" x2="1129.8" y2="1011.9" stroke="#7b7c79" stroke-width="5.6"/>
<line x1="1129.8" y1="1011.9" x2="1117.4" y2="999.5" stroke="#e6cf8c" stroke-width="5.6"/>
<line x1="1142.2" y1="1024.3" x2="1135.6" y2="1059" stroke="#7b7c79" stroke-width="5.6"/>
<line x1="1135.6" y1="1059" x2="1104.2" y2="1067.2" stroke="#7b7c79" stroke-width="5.6"/>
<line x1="1104.2" y1="1067.2" x2="1077.8" y2="1042.5" stroke="#7b7c79" stroke-width="5.6"/>
<line x1="1135.6" y1="1059" x2="1162" y2="1078.8" stroke="#7b7c79" stroke-width="5.6"/>
<line x1="1162" y1="1078.8" x2="1195" y2="1068.9" stroke="#7b7c79" stroke-width="5.6"/>
<line x1="1195" y1="1068.9" x2="1201.6" y2="1035.9" stroke="#7b7c79" stroke-width="5.6"/>
<line x1="977.1" y1="1040.8" x2="1000.2" y2="1072.2" stroke="#7b7c79" stroke-width="5.6"/>
<line x1="1000.2" y1="1072.2" x2="1028.3" y2="1072.2" stroke="#7b7c79" stroke-width="5.6"/>
<line x1="1028.3" y1="1072.2" x2="1044.8" y2="1042.5" stroke="#7b7c79" stroke-width="5.6"/>
<circle cx="988.7" cy="827.9" r="8.5" fill="url(#iC)"/>
<circle cx="1023.3" cy="824.6" r="8.5" fill="url(#iC)"/>
<circle cx="1044.8" cy="851" r="8.5" fill="url(#iC)"/>
<circle cx="1077.8" cy="857.6" r="8.5" fill="url(#iC)"/>
<circle cx="1104.2" cy="834.5" r="8.5" fill="url(#iC)"/>
<circle cx="1137.2" cy="842.7" r="8.5" fill="url(#iC)"/>
<circle cx="1162" cy="822.9" r="8.5" fill="url(#iC)"/>
<circle cx="1196.6" cy="832.8" r="8.5" fill="url(#iC)"/>
<circle cx="1203.3" cy="865.8" r="8.5" fill="url(#iC)"/>
<circle cx="1236.3" cy="877.4" r="8.5" fill="url(#iC)"/>
<circle cx="1244.5" cy="910.4" r="8.5" fill="url(#iC)"/>
<circle cx="1216.5" cy="933.5" r="8.5" fill="url(#iC)"/>
<circle cx="1178.5" cy="888.9" r="8.5" fill="url(#iC)"/>
<circle cx="1143.8" cy="877.4" r="8.5" fill="url(#iC)"/>
<circle cx="1086.1" cy="892.2" r="8.5" fill="url(#iC)"/>
<circle cx="1185.1" cy="923.6" r="8.5" fill="url(#iC)"/>
<circle cx="939.1" cy="860.9" r="8.5" fill="url(#iC)"/>
<circle cx="973.8" cy="859.2" r="8.5" fill="url(#iC)"/>
<circle cx="995.3" cy="887.3" r="8.5" fill="url(#iC)"/>
<circle cx="1029.9" cy="885.6" r="8.5" fill="url(#iC)"/>
<circle cx="925.9" cy="893.9" r="8.5" fill="url(#iC)"/>
<circle cx="945.7" cy="922" r="8.5" fill="url(#iC)"/>
<circle cx="980.4" cy="920.3" r="8.5" fill="url(#iC)"/>
<circle cx="1054.7" cy="905.5" r="7.7" fill="url(#iN)"/>
<circle cx="1119.1" cy="902.2" r="7.7" fill="url(#iN)"/>
<circle cx="1000.2" cy="948.4" r="7.7" fill="url(#iN)"/>
<circle cx="1029.9" cy="946.7" r="8.2" fill="url(#iFe)"/>
<circle cx="1133.9" cy="951.7" r="8.2" fill="url(#iCo)"/>
<circle cx="1165.3" cy="950" r="7.6" fill="url(#iS)"/>
<circle cx="1059.6" cy="988" r="7.7" fill="url(#iN)"/>
<circle cx="1117.4" cy="999.5" r="7.7" fill="url(#iN)"/>
<circle cx="952.3" cy="974.8" r="8.5" fill="url(#iC)"/>
<circle cx="987" cy="978.1" r="8.5" fill="url(#iC)"/>
<circle cx="932.5" cy="1006.1" r="8.5" fill="url(#iC)"/>
<circle cx="996.9" cy="1012.8" r="8.5" fill="url(#iC)"/>
<circle cx="1031.6" cy="1007.8" r="8.5" fill="url(#iC)"/>
<circle cx="1084.4" cy="1011.1" r="8.5" fill="url(#iC)"/>
<circle cx="944.1" cy="1037.5" r="8.5" fill="url(#iC)"/>
<circle cx="977.1" cy="1040.8" r="8.5" fill="url(#iC)"/>
<circle cx="1044.8" cy="1042.5" r="8.5" fill="url(#iC)"/>
<circle cx="1077.8" cy="1042.5" r="8.5" fill="url(#iC)"/>
<circle cx="1000.2" cy="1072.2" r="8.5" fill="url(#iC)"/>
<circle cx="1028.3" cy="1072.2" r="8.5" fill="url(#iC)"/>
<circle cx="1104.2" cy="1067.2" r="8.5" fill="url(#iC)"/>
<circle cx="1135.6" cy="1059" r="8.5" fill="url(#iC)"/>
<circle cx="1142.2" cy="1024.3" r="8.5" fill="url(#iC)"/>
<circle cx="1176.8" cy="1012.8" r="8.5" fill="url(#iC)"/>
<circle cx="1185.1" cy="978.1" r="8.5" fill="url(#iC)"/>
<circle cx="1216.5" cy="969.8" r="8.5" fill="url(#iC)"/>
<circle cx="1242.9" cy="992.9" r="8.5" fill="url(#iC)"/>
<circle cx="1236.3" cy="1026" r="8.5" fill="url(#iC)"/>
<circle cx="1201.6" cy="1035.9" r="8.5" fill="url(#iC)"/>
<circle cx="1195" cy="1068.9" r="8.5" fill="url(#iC)"/>
<circle cx="1162" cy="1078.8" r="8.5" fill="url(#iC)"/>
<text x="970.3" y="955.2" font-family="'Liberation Sans', sans-serif" font-size="18.5" fill="#e6cf8c" >N</text>
<text x="1042.8" y="955.2" font-family="'Liberation Sans', sans-serif" font-size="18.5" fill="#f093d8" >Fe</text>
<text x="1092.5" y="958.3" font-family="'Liberation Sans', sans-serif" font-size="18.5" fill="#22b2e6" >Co</text>
<text x="1181.5" y="958.3" font-family="'Liberation Sans', sans-serif" font-size="18.5" fill="#f29a90" >S</text>
<text x="1093.8" y="885.2" font-family="'Liberation Sans', sans-serif" font-size="18" fill="#bcae7e" >C</text>
<text x="985.4" y="1141.5" font-family="'Liberation Sans', sans-serif" font-size="23.5" font-weight="bold" fill="#1a1a1a" textLength="196.4" lengthAdjust="spacingAndGlyphs">Fitting active site</text>
<text x="876.8" y="831.3" font-family="'Liberation Serif', serif" font-size="33.5" font-weight="bold" fill="#000" >I</text>
</g>
</svg>
</body></html>
